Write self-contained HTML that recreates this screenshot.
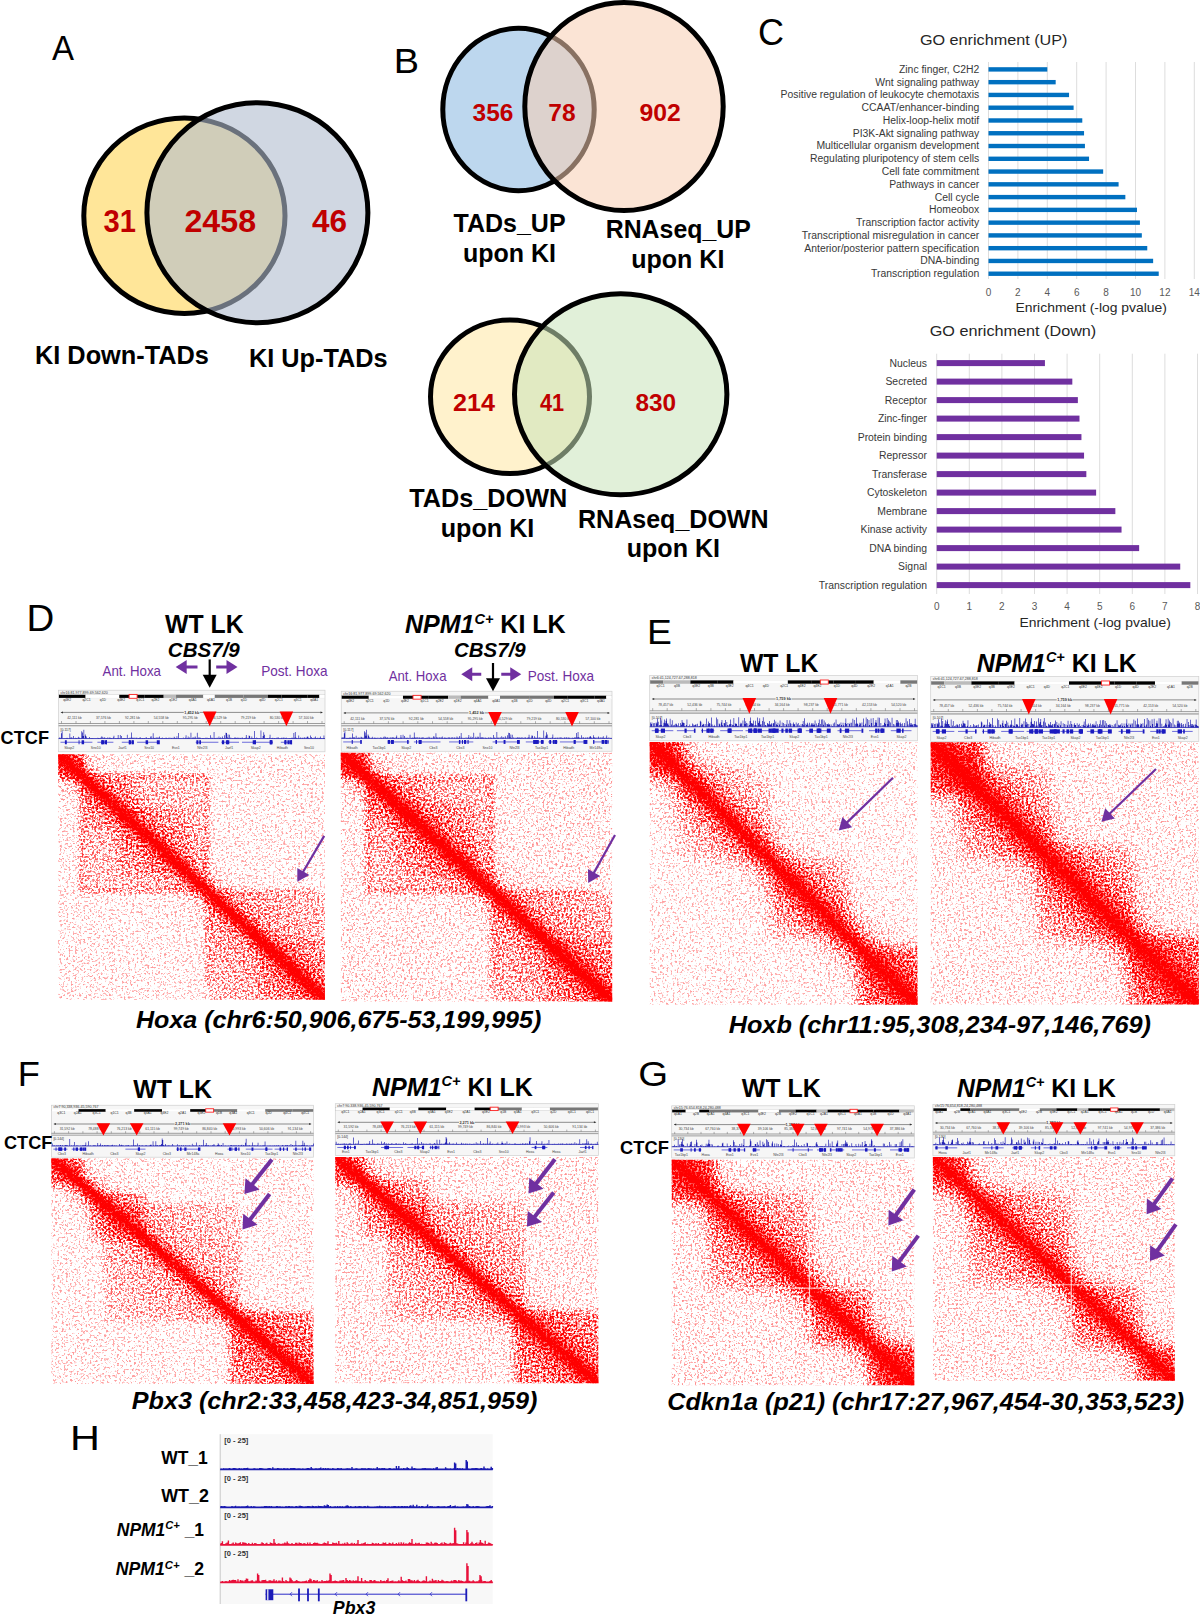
<!DOCTYPE html>
<html><head><meta charset="utf-8"><style>
html,body{margin:0;padding:0;background:#fff;width:1200px;height:1623px;overflow:hidden}
svg{display:block;font-family:'Liberation Sans', sans-serif}
</style></head><body>
<svg width="1200" height="1623" viewBox="0 0 1200 1623">
<defs><clipPath id="cl1"><rect x="0" y="0" width="266.7" height="245.5"/></clipPath><filter id="spk2" x="0" y="0" width="1" height="1" color-interpolation-filters="sRGB">
<feGaussianBlur in="SourceGraphic" stdDeviation="2.5" result="sb"/>
<feComponentTransfer in="sb" result="sg"><feFuncA type="table" tableValues="0.000 0.127 0.175 0.212 0.248 0.277 0.303 0.330 0.353 0.372 0.393 0.413 0.430 0.447 0.466 0.484 0.502 0.520 0.538 0.556 0.573 0.591 0.610 0.630 0.653 0.676 0.701 0.727 0.755 0.790 0.828 0.878 1.000"/></feComponentTransfer>
<feTurbulence type="fractalNoise" baseFrequency="0.47" numOctaves="2" seed="11" result="n"/>
<feColorMatrix in="n" type="matrix" values="0 0 0 0 0  0 0 0 0 0  0 0 0 0 0  1 0 0 0 0" result="na0"/>
<feComponentTransfer in="na0" result="na"><feFuncA type="table" tableValues="0.000 0.000 0.000 0.000 0.000 0.000 0.002 0.006 0.014 0.032 0.059 0.098 0.150 0.216 0.297 0.392 0.495 0.611 0.706 0.785 0.849 0.901 0.939 0.967 0.984 0.994 0.998 0.999 1.000 1.000 1.000 1.000 1.000"/></feComponentTransfer>
<feComposite in="sg" in2="na" operator="arithmetic" k1="0" k2="1.7692307692307692" k3="1" k4="-1" result="s"/>
<feComponentTransfer in="s" result="t"><feFuncA type="linear" slope="1.3" intercept="0"/></feComponentTransfer>
<feFlood flood-color="#f00"/>
<feComposite in2="t" operator="in" result="c"/>
<feGaussianBlur in="c" stdDeviation="0.7"/>
</filter><linearGradient id="bg3" gradientUnits="userSpaceOnUse" x1="1" y1="0" x2="0" y2="1"><stop offset="0.000" stop-color="red" stop-opacity="0.550"/><stop offset="0.075" stop-color="red" stop-opacity="0.550"/><stop offset="0.150" stop-color="red" stop-opacity="0.550"/><stop offset="0.200" stop-color="red" stop-opacity="0.550"/><stop offset="0.250" stop-color="red" stop-opacity="0.550"/><stop offset="0.300" stop-color="red" stop-opacity="0.550"/><stop offset="0.325" stop-color="red" stop-opacity="0.550"/><stop offset="0.350" stop-color="red" stop-opacity="0.550"/><stop offset="0.375" stop-color="red" stop-opacity="0.550"/><stop offset="0.400" stop-color="red" stop-opacity="0.550"/><stop offset="0.420" stop-color="red" stop-opacity="0.550"/><stop offset="0.435" stop-color="red" stop-opacity="0.550"/><stop offset="0.450" stop-color="red" stop-opacity="0.550"/><stop offset="0.460" stop-color="red" stop-opacity="0.580"/><stop offset="0.470" stop-color="red" stop-opacity="0.610"/><stop offset="0.477" stop-color="red" stop-opacity="0.633"/><stop offset="0.485" stop-color="red" stop-opacity="0.655"/><stop offset="0.490" stop-color="red" stop-opacity="0.670"/><stop offset="0.495" stop-color="red" stop-opacity="0.685"/><stop offset="0.497" stop-color="red" stop-opacity="0.693"/><stop offset="0.500" stop-color="red" stop-opacity="0.700"/><stop offset="0.502" stop-color="red" stop-opacity="0.693"/><stop offset="0.505" stop-color="red" stop-opacity="0.685"/><stop offset="0.510" stop-color="red" stop-opacity="0.670"/><stop offset="0.515" stop-color="red" stop-opacity="0.655"/><stop offset="0.522" stop-color="red" stop-opacity="0.633"/><stop offset="0.530" stop-color="red" stop-opacity="0.610"/><stop offset="0.540" stop-color="red" stop-opacity="0.580"/><stop offset="0.550" stop-color="red" stop-opacity="0.550"/><stop offset="0.565" stop-color="red" stop-opacity="0.550"/><stop offset="0.580" stop-color="red" stop-opacity="0.550"/><stop offset="0.600" stop-color="red" stop-opacity="0.550"/><stop offset="0.625" stop-color="red" stop-opacity="0.550"/><stop offset="0.650" stop-color="red" stop-opacity="0.550"/><stop offset="0.675" stop-color="red" stop-opacity="0.550"/><stop offset="0.700" stop-color="red" stop-opacity="0.550"/><stop offset="0.750" stop-color="red" stop-opacity="0.550"/><stop offset="0.800" stop-color="red" stop-opacity="0.550"/><stop offset="0.850" stop-color="red" stop-opacity="0.550"/><stop offset="0.925" stop-color="red" stop-opacity="0.550"/><stop offset="1.000" stop-color="red" stop-opacity="0.550"/></linearGradient><linearGradient id="bg4" gradientUnits="userSpaceOnUse" x1="1" y1="0" x2="0" y2="1"><stop offset="0.000" stop-color="red" stop-opacity="0.100"/><stop offset="0.075" stop-color="red" stop-opacity="0.100"/><stop offset="0.150" stop-color="red" stop-opacity="0.100"/><stop offset="0.200" stop-color="red" stop-opacity="0.100"/><stop offset="0.250" stop-color="red" stop-opacity="0.100"/><stop offset="0.300" stop-color="red" stop-opacity="0.117"/><stop offset="0.325" stop-color="red" stop-opacity="0.130"/><stop offset="0.350" stop-color="red" stop-opacity="0.143"/><stop offset="0.375" stop-color="red" stop-opacity="0.155"/><stop offset="0.400" stop-color="red" stop-opacity="0.168"/><stop offset="0.420" stop-color="red" stop-opacity="0.179"/><stop offset="0.435" stop-color="red" stop-opacity="0.186"/><stop offset="0.450" stop-color="red" stop-opacity="0.194"/><stop offset="0.460" stop-color="red" stop-opacity="0.199"/><stop offset="0.470" stop-color="red" stop-opacity="0.205"/><stop offset="0.477" stop-color="red" stop-opacity="0.208"/><stop offset="0.485" stop-color="red" stop-opacity="0.212"/><stop offset="0.490" stop-color="red" stop-opacity="0.215"/><stop offset="0.495" stop-color="red" stop-opacity="0.217"/><stop offset="0.497" stop-color="red" stop-opacity="0.219"/><stop offset="0.500" stop-color="red" stop-opacity="0.220"/><stop offset="0.502" stop-color="red" stop-opacity="0.219"/><stop offset="0.505" stop-color="red" stop-opacity="0.217"/><stop offset="0.510" stop-color="red" stop-opacity="0.215"/><stop offset="0.515" stop-color="red" stop-opacity="0.212"/><stop offset="0.522" stop-color="red" stop-opacity="0.208"/><stop offset="0.530" stop-color="red" stop-opacity="0.205"/><stop offset="0.540" stop-color="red" stop-opacity="0.199"/><stop offset="0.550" stop-color="red" stop-opacity="0.194"/><stop offset="0.565" stop-color="red" stop-opacity="0.186"/><stop offset="0.580" stop-color="red" stop-opacity="0.179"/><stop offset="0.600" stop-color="red" stop-opacity="0.168"/><stop offset="0.625" stop-color="red" stop-opacity="0.155"/><stop offset="0.650" stop-color="red" stop-opacity="0.143"/><stop offset="0.675" stop-color="red" stop-opacity="0.130"/><stop offset="0.700" stop-color="red" stop-opacity="0.117"/><stop offset="0.750" stop-color="red" stop-opacity="0.100"/><stop offset="0.800" stop-color="red" stop-opacity="0.100"/><stop offset="0.850" stop-color="red" stop-opacity="0.100"/><stop offset="0.925" stop-color="red" stop-opacity="0.100"/><stop offset="1.000" stop-color="red" stop-opacity="0.100"/></linearGradient><linearGradient id="bg5" gradientUnits="userSpaceOnUse" x1="1" y1="0" x2="0" y2="1"><stop offset="0.000" stop-color="red" stop-opacity="0.120"/><stop offset="0.075" stop-color="red" stop-opacity="0.120"/><stop offset="0.150" stop-color="red" stop-opacity="0.120"/><stop offset="0.200" stop-color="red" stop-opacity="0.120"/><stop offset="0.250" stop-color="red" stop-opacity="0.120"/><stop offset="0.300" stop-color="red" stop-opacity="0.136"/><stop offset="0.325" stop-color="red" stop-opacity="0.157"/><stop offset="0.350" stop-color="red" stop-opacity="0.177"/><stop offset="0.375" stop-color="red" stop-opacity="0.198"/><stop offset="0.400" stop-color="red" stop-opacity="0.218"/><stop offset="0.420" stop-color="red" stop-opacity="0.235"/><stop offset="0.435" stop-color="red" stop-opacity="0.247"/><stop offset="0.450" stop-color="red" stop-opacity="0.259"/><stop offset="0.460" stop-color="red" stop-opacity="0.267"/><stop offset="0.470" stop-color="red" stop-opacity="0.275"/><stop offset="0.477" stop-color="red" stop-opacity="0.282"/><stop offset="0.485" stop-color="red" stop-opacity="0.288"/><stop offset="0.490" stop-color="red" stop-opacity="0.292"/><stop offset="0.495" stop-color="red" stop-opacity="0.296"/><stop offset="0.497" stop-color="red" stop-opacity="0.298"/><stop offset="0.500" stop-color="red" stop-opacity="0.300"/><stop offset="0.502" stop-color="red" stop-opacity="0.298"/><stop offset="0.505" stop-color="red" stop-opacity="0.296"/><stop offset="0.510" stop-color="red" stop-opacity="0.292"/><stop offset="0.515" stop-color="red" stop-opacity="0.288"/><stop offset="0.522" stop-color="red" stop-opacity="0.282"/><stop offset="0.530" stop-color="red" stop-opacity="0.275"/><stop offset="0.540" stop-color="red" stop-opacity="0.267"/><stop offset="0.550" stop-color="red" stop-opacity="0.259"/><stop offset="0.565" stop-color="red" stop-opacity="0.247"/><stop offset="0.580" stop-color="red" stop-opacity="0.235"/><stop offset="0.600" stop-color="red" stop-opacity="0.218"/><stop offset="0.625" stop-color="red" stop-opacity="0.198"/><stop offset="0.650" stop-color="red" stop-opacity="0.177"/><stop offset="0.675" stop-color="red" stop-opacity="0.157"/><stop offset="0.700" stop-color="red" stop-opacity="0.136"/><stop offset="0.750" stop-color="red" stop-opacity="0.120"/><stop offset="0.800" stop-color="red" stop-opacity="0.120"/><stop offset="0.850" stop-color="red" stop-opacity="0.120"/><stop offset="0.925" stop-color="red" stop-opacity="0.120"/><stop offset="1.000" stop-color="red" stop-opacity="0.120"/></linearGradient><linearGradient id="bg6" gradientUnits="userSpaceOnUse" x1="1" y1="0" x2="0" y2="1"><stop offset="0.000" stop-color="red" stop-opacity="0.040"/><stop offset="0.075" stop-color="red" stop-opacity="0.040"/><stop offset="0.150" stop-color="red" stop-opacity="0.040"/><stop offset="0.200" stop-color="red" stop-opacity="0.040"/><stop offset="0.250" stop-color="red" stop-opacity="0.040"/><stop offset="0.300" stop-color="red" stop-opacity="0.040"/><stop offset="0.325" stop-color="red" stop-opacity="0.040"/><stop offset="0.350" stop-color="red" stop-opacity="0.040"/><stop offset="0.375" stop-color="red" stop-opacity="0.068"/><stop offset="0.400" stop-color="red" stop-opacity="0.114"/><stop offset="0.420" stop-color="red" stop-opacity="0.151"/><stop offset="0.435" stop-color="red" stop-opacity="0.179"/><stop offset="0.450" stop-color="red" stop-opacity="0.207"/><stop offset="0.460" stop-color="red" stop-opacity="0.226"/><stop offset="0.470" stop-color="red" stop-opacity="0.244"/><stop offset="0.477" stop-color="red" stop-opacity="0.258"/><stop offset="0.485" stop-color="red" stop-opacity="0.272"/><stop offset="0.490" stop-color="red" stop-opacity="0.281"/><stop offset="0.495" stop-color="red" stop-opacity="0.291"/><stop offset="0.497" stop-color="red" stop-opacity="0.295"/><stop offset="0.500" stop-color="red" stop-opacity="0.300"/><stop offset="0.502" stop-color="red" stop-opacity="0.295"/><stop offset="0.505" stop-color="red" stop-opacity="0.291"/><stop offset="0.510" stop-color="red" stop-opacity="0.281"/><stop offset="0.515" stop-color="red" stop-opacity="0.272"/><stop offset="0.522" stop-color="red" stop-opacity="0.258"/><stop offset="0.530" stop-color="red" stop-opacity="0.244"/><stop offset="0.540" stop-color="red" stop-opacity="0.226"/><stop offset="0.550" stop-color="red" stop-opacity="0.207"/><stop offset="0.565" stop-color="red" stop-opacity="0.179"/><stop offset="0.580" stop-color="red" stop-opacity="0.151"/><stop offset="0.600" stop-color="red" stop-opacity="0.114"/><stop offset="0.625" stop-color="red" stop-opacity="0.068"/><stop offset="0.650" stop-color="red" stop-opacity="0.040"/><stop offset="0.675" stop-color="red" stop-opacity="0.040"/><stop offset="0.700" stop-color="red" stop-opacity="0.040"/><stop offset="0.750" stop-color="red" stop-opacity="0.040"/><stop offset="0.800" stop-color="red" stop-opacity="0.040"/><stop offset="0.850" stop-color="red" stop-opacity="0.040"/><stop offset="0.925" stop-color="red" stop-opacity="0.040"/><stop offset="1.000" stop-color="red" stop-opacity="0.040"/></linearGradient><linearGradient id="bg7" gradientUnits="userSpaceOnUse" x1="1" y1="0" x2="0" y2="1"><stop offset="0.000" stop-color="red" stop-opacity="0.080"/><stop offset="0.075" stop-color="red" stop-opacity="0.080"/><stop offset="0.150" stop-color="red" stop-opacity="0.080"/><stop offset="0.200" stop-color="red" stop-opacity="0.080"/><stop offset="0.250" stop-color="red" stop-opacity="0.080"/><stop offset="0.300" stop-color="red" stop-opacity="0.080"/><stop offset="0.325" stop-color="red" stop-opacity="0.080"/><stop offset="0.350" stop-color="red" stop-opacity="0.080"/><stop offset="0.375" stop-color="red" stop-opacity="0.080"/><stop offset="0.400" stop-color="red" stop-opacity="0.124"/><stop offset="0.420" stop-color="red" stop-opacity="0.159"/><stop offset="0.435" stop-color="red" stop-opacity="0.186"/><stop offset="0.450" stop-color="red" stop-opacity="0.212"/><stop offset="0.460" stop-color="red" stop-opacity="0.230"/><stop offset="0.470" stop-color="red" stop-opacity="0.247"/><stop offset="0.477" stop-color="red" stop-opacity="0.260"/><stop offset="0.485" stop-color="red" stop-opacity="0.274"/><stop offset="0.490" stop-color="red" stop-opacity="0.282"/><stop offset="0.495" stop-color="red" stop-opacity="0.291"/><stop offset="0.497" stop-color="red" stop-opacity="0.296"/><stop offset="0.500" stop-color="red" stop-opacity="0.300"/><stop offset="0.502" stop-color="red" stop-opacity="0.296"/><stop offset="0.505" stop-color="red" stop-opacity="0.291"/><stop offset="0.510" stop-color="red" stop-opacity="0.282"/><stop offset="0.515" stop-color="red" stop-opacity="0.274"/><stop offset="0.522" stop-color="red" stop-opacity="0.260"/><stop offset="0.530" stop-color="red" stop-opacity="0.247"/><stop offset="0.540" stop-color="red" stop-opacity="0.230"/><stop offset="0.550" stop-color="red" stop-opacity="0.212"/><stop offset="0.565" stop-color="red" stop-opacity="0.186"/><stop offset="0.580" stop-color="red" stop-opacity="0.159"/><stop offset="0.600" stop-color="red" stop-opacity="0.124"/><stop offset="0.625" stop-color="red" stop-opacity="0.080"/><stop offset="0.650" stop-color="red" stop-opacity="0.080"/><stop offset="0.675" stop-color="red" stop-opacity="0.080"/><stop offset="0.700" stop-color="red" stop-opacity="0.080"/><stop offset="0.750" stop-color="red" stop-opacity="0.080"/><stop offset="0.800" stop-color="red" stop-opacity="0.080"/><stop offset="0.850" stop-color="red" stop-opacity="0.080"/><stop offset="0.925" stop-color="red" stop-opacity="0.080"/><stop offset="1.000" stop-color="red" stop-opacity="0.080"/></linearGradient><linearGradient id="bg8" gradientUnits="userSpaceOnUse" x1="1" y1="0" x2="0" y2="1"><stop offset="0.000" stop-color="red" stop-opacity="0.080"/><stop offset="0.075" stop-color="red" stop-opacity="0.080"/><stop offset="0.150" stop-color="red" stop-opacity="0.080"/><stop offset="0.200" stop-color="red" stop-opacity="0.080"/><stop offset="0.250" stop-color="red" stop-opacity="0.080"/><stop offset="0.300" stop-color="red" stop-opacity="0.080"/><stop offset="0.325" stop-color="red" stop-opacity="0.080"/><stop offset="0.350" stop-color="red" stop-opacity="0.080"/><stop offset="0.375" stop-color="red" stop-opacity="0.080"/><stop offset="0.400" stop-color="red" stop-opacity="0.080"/><stop offset="0.420" stop-color="red" stop-opacity="0.114"/><stop offset="0.435" stop-color="red" stop-opacity="0.140"/><stop offset="0.450" stop-color="red" stop-opacity="0.165"/><stop offset="0.460" stop-color="red" stop-opacity="0.182"/><stop offset="0.470" stop-color="red" stop-opacity="0.199"/><stop offset="0.477" stop-color="red" stop-opacity="0.212"/><stop offset="0.485" stop-color="red" stop-opacity="0.225"/><stop offset="0.490" stop-color="red" stop-opacity="0.233"/><stop offset="0.495" stop-color="red" stop-opacity="0.241"/><stop offset="0.497" stop-color="red" stop-opacity="0.246"/><stop offset="0.500" stop-color="red" stop-opacity="0.250"/><stop offset="0.502" stop-color="red" stop-opacity="0.246"/><stop offset="0.505" stop-color="red" stop-opacity="0.241"/><stop offset="0.510" stop-color="red" stop-opacity="0.233"/><stop offset="0.515" stop-color="red" stop-opacity="0.225"/><stop offset="0.522" stop-color="red" stop-opacity="0.212"/><stop offset="0.530" stop-color="red" stop-opacity="0.199"/><stop offset="0.540" stop-color="red" stop-opacity="0.182"/><stop offset="0.550" stop-color="red" stop-opacity="0.165"/><stop offset="0.565" stop-color="red" stop-opacity="0.140"/><stop offset="0.580" stop-color="red" stop-opacity="0.114"/><stop offset="0.600" stop-color="red" stop-opacity="0.080"/><stop offset="0.625" stop-color="red" stop-opacity="0.080"/><stop offset="0.650" stop-color="red" stop-opacity="0.080"/><stop offset="0.675" stop-color="red" stop-opacity="0.080"/><stop offset="0.700" stop-color="red" stop-opacity="0.080"/><stop offset="0.750" stop-color="red" stop-opacity="0.080"/><stop offset="0.800" stop-color="red" stop-opacity="0.080"/><stop offset="0.850" stop-color="red" stop-opacity="0.080"/><stop offset="0.925" stop-color="red" stop-opacity="0.080"/><stop offset="1.000" stop-color="red" stop-opacity="0.080"/></linearGradient><linearGradient id="bg9" gradientUnits="userSpaceOnUse" x1="1" y1="0" x2="0" y2="1"><stop offset="0.000" stop-color="red" stop-opacity="0.000"/><stop offset="0.075" stop-color="red" stop-opacity="0.000"/><stop offset="0.150" stop-color="red" stop-opacity="0.000"/><stop offset="0.200" stop-color="red" stop-opacity="0.000"/><stop offset="0.250" stop-color="red" stop-opacity="0.000"/><stop offset="0.300" stop-color="red" stop-opacity="0.000"/><stop offset="0.325" stop-color="red" stop-opacity="0.000"/><stop offset="0.350" stop-color="red" stop-opacity="0.001"/><stop offset="0.375" stop-color="red" stop-opacity="0.003"/><stop offset="0.400" stop-color="red" stop-opacity="0.008"/><stop offset="0.420" stop-color="red" stop-opacity="0.018"/><stop offset="0.435" stop-color="red" stop-opacity="0.033"/><stop offset="0.450" stop-color="red" stop-opacity="0.063"/><stop offset="0.460" stop-color="red" stop-opacity="0.108"/><stop offset="0.470" stop-color="red" stop-opacity="0.227"/><stop offset="0.477" stop-color="red" stop-opacity="0.413"/><stop offset="0.485" stop-color="red" stop-opacity="0.676"/><stop offset="0.490" stop-color="red" stop-opacity="0.846"/><stop offset="0.495" stop-color="red" stop-opacity="0.962"/><stop offset="0.497" stop-color="red" stop-opacity="0.991"/><stop offset="0.500" stop-color="red" stop-opacity="1.000"/><stop offset="0.502" stop-color="red" stop-opacity="0.991"/><stop offset="0.505" stop-color="red" stop-opacity="0.962"/><stop offset="0.510" stop-color="red" stop-opacity="0.846"/><stop offset="0.515" stop-color="red" stop-opacity="0.676"/><stop offset="0.522" stop-color="red" stop-opacity="0.413"/><stop offset="0.530" stop-color="red" stop-opacity="0.227"/><stop offset="0.540" stop-color="red" stop-opacity="0.108"/><stop offset="0.550" stop-color="red" stop-opacity="0.063"/><stop offset="0.565" stop-color="red" stop-opacity="0.033"/><stop offset="0.580" stop-color="red" stop-opacity="0.018"/><stop offset="0.600" stop-color="red" stop-opacity="0.008"/><stop offset="0.625" stop-color="red" stop-opacity="0.003"/><stop offset="0.650" stop-color="red" stop-opacity="0.001"/><stop offset="0.675" stop-color="red" stop-opacity="0.000"/><stop offset="0.700" stop-color="red" stop-opacity="0.000"/><stop offset="0.750" stop-color="red" stop-opacity="0.000"/><stop offset="0.800" stop-color="red" stop-opacity="0.000"/><stop offset="0.850" stop-color="red" stop-opacity="0.000"/><stop offset="0.925" stop-color="red" stop-opacity="0.000"/><stop offset="1.000" stop-color="red" stop-opacity="0.000"/></linearGradient><linearGradient id="bg10" gradientUnits="userSpaceOnUse" x1="1" y1="0" x2="0" y2="1"><stop offset="0.000" stop-color="red" stop-opacity="0.000"/><stop offset="0.075" stop-color="red" stop-opacity="0.000"/><stop offset="0.150" stop-color="red" stop-opacity="0.000"/><stop offset="0.200" stop-color="red" stop-opacity="0.000"/><stop offset="0.250" stop-color="red" stop-opacity="0.000"/><stop offset="0.300" stop-color="red" stop-opacity="0.000"/><stop offset="0.325" stop-color="red" stop-opacity="0.000"/><stop offset="0.350" stop-color="red" stop-opacity="0.000"/><stop offset="0.375" stop-color="red" stop-opacity="0.000"/><stop offset="0.400" stop-color="red" stop-opacity="0.000"/><stop offset="0.420" stop-color="red" stop-opacity="0.000"/><stop offset="0.435" stop-color="red" stop-opacity="0.000"/><stop offset="0.450" stop-color="red" stop-opacity="0.000"/><stop offset="0.460" stop-color="red" stop-opacity="0.000"/><stop offset="0.470" stop-color="red" stop-opacity="0.001"/><stop offset="0.477" stop-color="red" stop-opacity="0.014"/><stop offset="0.485" stop-color="red" stop-opacity="0.140"/><stop offset="0.490" stop-color="red" stop-opacity="0.394"/><stop offset="0.495" stop-color="red" stop-opacity="0.732"/><stop offset="0.497" stop-color="red" stop-opacity="0.855"/><stop offset="0.500" stop-color="red" stop-opacity="0.900"/><stop offset="0.502" stop-color="red" stop-opacity="0.855"/><stop offset="0.505" stop-color="red" stop-opacity="0.732"/><stop offset="0.510" stop-color="red" stop-opacity="0.394"/><stop offset="0.515" stop-color="red" stop-opacity="0.140"/><stop offset="0.522" stop-color="red" stop-opacity="0.014"/><stop offset="0.530" stop-color="red" stop-opacity="0.001"/><stop offset="0.540" stop-color="red" stop-opacity="0.000"/><stop offset="0.550" stop-color="red" stop-opacity="0.000"/><stop offset="0.565" stop-color="red" stop-opacity="0.000"/><stop offset="0.580" stop-color="red" stop-opacity="0.000"/><stop offset="0.600" stop-color="red" stop-opacity="0.000"/><stop offset="0.625" stop-color="red" stop-opacity="0.000"/><stop offset="0.650" stop-color="red" stop-opacity="0.000"/><stop offset="0.675" stop-color="red" stop-opacity="0.000"/><stop offset="0.700" stop-color="red" stop-opacity="0.000"/><stop offset="0.750" stop-color="red" stop-opacity="0.000"/><stop offset="0.800" stop-color="red" stop-opacity="0.000"/><stop offset="0.850" stop-color="red" stop-opacity="0.000"/><stop offset="0.925" stop-color="red" stop-opacity="0.000"/><stop offset="1.000" stop-color="red" stop-opacity="0.000"/></linearGradient><filter id="spk11" x="0" y="0" width="1" height="1" color-interpolation-filters="sRGB">
<feGaussianBlur in="SourceGraphic" stdDeviation="0.8" result="sb"/>
<feComponentTransfer in="sb" result="sg"><feFuncA type="table" tableValues="0.000 0.127 0.175 0.212 0.248 0.277 0.303 0.330 0.353 0.372 0.393 0.413 0.430 0.447 0.466 0.484 0.502 0.520 0.538 0.556 0.573 0.591 0.610 0.630 0.653 0.676 0.701 0.727 0.755 0.790 0.828 0.878 1.000"/></feComponentTransfer>
<feTurbulence type="fractalNoise" baseFrequency="0.47" numOctaves="2" seed="61" result="n"/>
<feColorMatrix in="n" type="matrix" values="0 0 0 0 0  0 0 0 0 0  0 0 0 0 0  1 0 0 0 0" result="na0"/>
<feComponentTransfer in="na0" result="na"><feFuncA type="table" tableValues="0.000 0.000 0.000 0.000 0.000 0.000 0.002 0.006 0.014 0.032 0.059 0.098 0.150 0.216 0.297 0.392 0.495 0.611 0.706 0.785 0.849 0.901 0.939 0.967 0.984 0.994 0.998 0.999 1.000 1.000 1.000 1.000 1.000"/></feComponentTransfer>
<feComposite in="sg" in2="na" operator="arithmetic" k1="0" k2="1.7692307692307692" k3="1" k4="-1" result="s"/>
<feComponentTransfer in="s" result="t"><feFuncA type="linear" slope="1.3" intercept="0"/></feComponentTransfer>
<feFlood flood-color="#f00"/>
<feComposite in2="t" operator="in" result="c"/>
<feGaussianBlur in="c" stdDeviation="0.7"/>
</filter><clipPath id="cl12"><rect x="0" y="0" width="271.40000000000003" height="248.70000000000005"/></clipPath><filter id="spk13" x="0" y="0" width="1" height="1" color-interpolation-filters="sRGB">
<feGaussianBlur in="SourceGraphic" stdDeviation="2.5" result="sb"/>
<feComponentTransfer in="sb" result="sg"><feFuncA type="table" tableValues="0.000 0.127 0.175 0.212 0.248 0.277 0.303 0.330 0.353 0.372 0.393 0.413 0.430 0.447 0.466 0.484 0.502 0.520 0.538 0.556 0.573 0.591 0.610 0.630 0.653 0.676 0.701 0.727 0.755 0.790 0.828 0.878 1.000"/></feComponentTransfer>
<feTurbulence type="fractalNoise" baseFrequency="0.47" numOctaves="2" seed="12" result="n"/>
<feColorMatrix in="n" type="matrix" values="0 0 0 0 0  0 0 0 0 0  0 0 0 0 0  1 0 0 0 0" result="na0"/>
<feComponentTransfer in="na0" result="na"><feFuncA type="table" tableValues="0.000 0.000 0.000 0.000 0.000 0.000 0.002 0.006 0.014 0.032 0.059 0.098 0.150 0.216 0.297 0.392 0.495 0.611 0.706 0.785 0.849 0.901 0.939 0.967 0.984 0.994 0.998 0.999 1.000 1.000 1.000 1.000 1.000"/></feComponentTransfer>
<feComposite in="sg" in2="na" operator="arithmetic" k1="0" k2="1.7692307692307692" k3="1" k4="-1" result="s"/>
<feComponentTransfer in="s" result="t"><feFuncA type="linear" slope="1.3" intercept="0"/></feComponentTransfer>
<feFlood flood-color="#f00"/>
<feComposite in2="t" operator="in" result="c"/>
<feGaussianBlur in="c" stdDeviation="0.7"/>
</filter><linearGradient id="bg14" gradientUnits="userSpaceOnUse" x1="1" y1="0" x2="0" y2="1"><stop offset="0.000" stop-color="red" stop-opacity="0.550"/><stop offset="0.075" stop-color="red" stop-opacity="0.550"/><stop offset="0.150" stop-color="red" stop-opacity="0.550"/><stop offset="0.200" stop-color="red" stop-opacity="0.550"/><stop offset="0.250" stop-color="red" stop-opacity="0.550"/><stop offset="0.300" stop-color="red" stop-opacity="0.550"/><stop offset="0.325" stop-color="red" stop-opacity="0.550"/><stop offset="0.350" stop-color="red" stop-opacity="0.550"/><stop offset="0.375" stop-color="red" stop-opacity="0.550"/><stop offset="0.400" stop-color="red" stop-opacity="0.550"/><stop offset="0.420" stop-color="red" stop-opacity="0.550"/><stop offset="0.435" stop-color="red" stop-opacity="0.550"/><stop offset="0.450" stop-color="red" stop-opacity="0.550"/><stop offset="0.460" stop-color="red" stop-opacity="0.580"/><stop offset="0.470" stop-color="red" stop-opacity="0.610"/><stop offset="0.477" stop-color="red" stop-opacity="0.633"/><stop offset="0.485" stop-color="red" stop-opacity="0.655"/><stop offset="0.490" stop-color="red" stop-opacity="0.670"/><stop offset="0.495" stop-color="red" stop-opacity="0.685"/><stop offset="0.497" stop-color="red" stop-opacity="0.693"/><stop offset="0.500" stop-color="red" stop-opacity="0.700"/><stop offset="0.502" stop-color="red" stop-opacity="0.693"/><stop offset="0.505" stop-color="red" stop-opacity="0.685"/><stop offset="0.510" stop-color="red" stop-opacity="0.670"/><stop offset="0.515" stop-color="red" stop-opacity="0.655"/><stop offset="0.522" stop-color="red" stop-opacity="0.633"/><stop offset="0.530" stop-color="red" stop-opacity="0.610"/><stop offset="0.540" stop-color="red" stop-opacity="0.580"/><stop offset="0.550" stop-color="red" stop-opacity="0.550"/><stop offset="0.565" stop-color="red" stop-opacity="0.550"/><stop offset="0.580" stop-color="red" stop-opacity="0.550"/><stop offset="0.600" stop-color="red" stop-opacity="0.550"/><stop offset="0.625" stop-color="red" stop-opacity="0.550"/><stop offset="0.650" stop-color="red" stop-opacity="0.550"/><stop offset="0.675" stop-color="red" stop-opacity="0.550"/><stop offset="0.700" stop-color="red" stop-opacity="0.550"/><stop offset="0.750" stop-color="red" stop-opacity="0.550"/><stop offset="0.800" stop-color="red" stop-opacity="0.550"/><stop offset="0.850" stop-color="red" stop-opacity="0.550"/><stop offset="0.925" stop-color="red" stop-opacity="0.550"/><stop offset="1.000" stop-color="red" stop-opacity="0.550"/></linearGradient><linearGradient id="bg15" gradientUnits="userSpaceOnUse" x1="1" y1="0" x2="0" y2="1"><stop offset="0.000" stop-color="red" stop-opacity="0.110"/><stop offset="0.075" stop-color="red" stop-opacity="0.110"/><stop offset="0.150" stop-color="red" stop-opacity="0.110"/><stop offset="0.200" stop-color="red" stop-opacity="0.110"/><stop offset="0.250" stop-color="red" stop-opacity="0.110"/><stop offset="0.300" stop-color="red" stop-opacity="0.128"/><stop offset="0.325" stop-color="red" stop-opacity="0.143"/><stop offset="0.350" stop-color="red" stop-opacity="0.159"/><stop offset="0.375" stop-color="red" stop-opacity="0.174"/><stop offset="0.400" stop-color="red" stop-opacity="0.189"/><stop offset="0.420" stop-color="red" stop-opacity="0.201"/><stop offset="0.435" stop-color="red" stop-opacity="0.210"/><stop offset="0.450" stop-color="red" stop-opacity="0.220"/><stop offset="0.460" stop-color="red" stop-opacity="0.226"/><stop offset="0.470" stop-color="red" stop-opacity="0.232"/><stop offset="0.477" stop-color="red" stop-opacity="0.236"/><stop offset="0.485" stop-color="red" stop-opacity="0.241"/><stop offset="0.490" stop-color="red" stop-opacity="0.244"/><stop offset="0.495" stop-color="red" stop-opacity="0.247"/><stop offset="0.497" stop-color="red" stop-opacity="0.248"/><stop offset="0.500" stop-color="red" stop-opacity="0.250"/><stop offset="0.502" stop-color="red" stop-opacity="0.248"/><stop offset="0.505" stop-color="red" stop-opacity="0.247"/><stop offset="0.510" stop-color="red" stop-opacity="0.244"/><stop offset="0.515" stop-color="red" stop-opacity="0.241"/><stop offset="0.522" stop-color="red" stop-opacity="0.236"/><stop offset="0.530" stop-color="red" stop-opacity="0.232"/><stop offset="0.540" stop-color="red" stop-opacity="0.226"/><stop offset="0.550" stop-color="red" stop-opacity="0.220"/><stop offset="0.565" stop-color="red" stop-opacity="0.210"/><stop offset="0.580" stop-color="red" stop-opacity="0.201"/><stop offset="0.600" stop-color="red" stop-opacity="0.189"/><stop offset="0.625" stop-color="red" stop-opacity="0.174"/><stop offset="0.650" stop-color="red" stop-opacity="0.159"/><stop offset="0.675" stop-color="red" stop-opacity="0.143"/><stop offset="0.700" stop-color="red" stop-opacity="0.128"/><stop offset="0.750" stop-color="red" stop-opacity="0.110"/><stop offset="0.800" stop-color="red" stop-opacity="0.110"/><stop offset="0.850" stop-color="red" stop-opacity="0.110"/><stop offset="0.925" stop-color="red" stop-opacity="0.110"/><stop offset="1.000" stop-color="red" stop-opacity="0.110"/></linearGradient><linearGradient id="bg16" gradientUnits="userSpaceOnUse" x1="1" y1="0" x2="0" y2="1"><stop offset="0.000" stop-color="red" stop-opacity="0.130"/><stop offset="0.075" stop-color="red" stop-opacity="0.130"/><stop offset="0.150" stop-color="red" stop-opacity="0.130"/><stop offset="0.200" stop-color="red" stop-opacity="0.130"/><stop offset="0.250" stop-color="red" stop-opacity="0.130"/><stop offset="0.300" stop-color="red" stop-opacity="0.147"/><stop offset="0.325" stop-color="red" stop-opacity="0.169"/><stop offset="0.350" stop-color="red" stop-opacity="0.190"/><stop offset="0.375" stop-color="red" stop-opacity="0.212"/><stop offset="0.400" stop-color="red" stop-opacity="0.234"/><stop offset="0.420" stop-color="red" stop-opacity="0.251"/><stop offset="0.435" stop-color="red" stop-opacity="0.264"/><stop offset="0.450" stop-color="red" stop-opacity="0.277"/><stop offset="0.460" stop-color="red" stop-opacity="0.285"/><stop offset="0.470" stop-color="red" stop-opacity="0.294"/><stop offset="0.477" stop-color="red" stop-opacity="0.301"/><stop offset="0.485" stop-color="red" stop-opacity="0.307"/><stop offset="0.490" stop-color="red" stop-opacity="0.311"/><stop offset="0.495" stop-color="red" stop-opacity="0.316"/><stop offset="0.497" stop-color="red" stop-opacity="0.318"/><stop offset="0.500" stop-color="red" stop-opacity="0.320"/><stop offset="0.502" stop-color="red" stop-opacity="0.318"/><stop offset="0.505" stop-color="red" stop-opacity="0.316"/><stop offset="0.510" stop-color="red" stop-opacity="0.311"/><stop offset="0.515" stop-color="red" stop-opacity="0.307"/><stop offset="0.522" stop-color="red" stop-opacity="0.301"/><stop offset="0.530" stop-color="red" stop-opacity="0.294"/><stop offset="0.540" stop-color="red" stop-opacity="0.285"/><stop offset="0.550" stop-color="red" stop-opacity="0.277"/><stop offset="0.565" stop-color="red" stop-opacity="0.264"/><stop offset="0.580" stop-color="red" stop-opacity="0.251"/><stop offset="0.600" stop-color="red" stop-opacity="0.234"/><stop offset="0.625" stop-color="red" stop-opacity="0.212"/><stop offset="0.650" stop-color="red" stop-opacity="0.190"/><stop offset="0.675" stop-color="red" stop-opacity="0.169"/><stop offset="0.700" stop-color="red" stop-opacity="0.147"/><stop offset="0.750" stop-color="red" stop-opacity="0.130"/><stop offset="0.800" stop-color="red" stop-opacity="0.130"/><stop offset="0.850" stop-color="red" stop-opacity="0.130"/><stop offset="0.925" stop-color="red" stop-opacity="0.130"/><stop offset="1.000" stop-color="red" stop-opacity="0.130"/></linearGradient><linearGradient id="bg17" gradientUnits="userSpaceOnUse" x1="1" y1="0" x2="0" y2="1"><stop offset="0.000" stop-color="red" stop-opacity="0.040"/><stop offset="0.075" stop-color="red" stop-opacity="0.040"/><stop offset="0.150" stop-color="red" stop-opacity="0.040"/><stop offset="0.200" stop-color="red" stop-opacity="0.040"/><stop offset="0.250" stop-color="red" stop-opacity="0.040"/><stop offset="0.300" stop-color="red" stop-opacity="0.040"/><stop offset="0.325" stop-color="red" stop-opacity="0.040"/><stop offset="0.350" stop-color="red" stop-opacity="0.040"/><stop offset="0.375" stop-color="red" stop-opacity="0.087"/><stop offset="0.400" stop-color="red" stop-opacity="0.133"/><stop offset="0.420" stop-color="red" stop-opacity="0.171"/><stop offset="0.435" stop-color="red" stop-opacity="0.199"/><stop offset="0.450" stop-color="red" stop-opacity="0.227"/><stop offset="0.460" stop-color="red" stop-opacity="0.245"/><stop offset="0.470" stop-color="red" stop-opacity="0.264"/><stop offset="0.477" stop-color="red" stop-opacity="0.278"/><stop offset="0.485" stop-color="red" stop-opacity="0.292"/><stop offset="0.490" stop-color="red" stop-opacity="0.301"/><stop offset="0.495" stop-color="red" stop-opacity="0.311"/><stop offset="0.497" stop-color="red" stop-opacity="0.315"/><stop offset="0.500" stop-color="red" stop-opacity="0.320"/><stop offset="0.502" stop-color="red" stop-opacity="0.315"/><stop offset="0.505" stop-color="red" stop-opacity="0.311"/><stop offset="0.510" stop-color="red" stop-opacity="0.301"/><stop offset="0.515" stop-color="red" stop-opacity="0.292"/><stop offset="0.522" stop-color="red" stop-opacity="0.278"/><stop offset="0.530" stop-color="red" stop-opacity="0.264"/><stop offset="0.540" stop-color="red" stop-opacity="0.245"/><stop offset="0.550" stop-color="red" stop-opacity="0.227"/><stop offset="0.565" stop-color="red" stop-opacity="0.199"/><stop offset="0.580" stop-color="red" stop-opacity="0.171"/><stop offset="0.600" stop-color="red" stop-opacity="0.133"/><stop offset="0.625" stop-color="red" stop-opacity="0.087"/><stop offset="0.650" stop-color="red" stop-opacity="0.040"/><stop offset="0.675" stop-color="red" stop-opacity="0.040"/><stop offset="0.700" stop-color="red" stop-opacity="0.040"/><stop offset="0.750" stop-color="red" stop-opacity="0.040"/><stop offset="0.800" stop-color="red" stop-opacity="0.040"/><stop offset="0.850" stop-color="red" stop-opacity="0.040"/><stop offset="0.925" stop-color="red" stop-opacity="0.040"/><stop offset="1.000" stop-color="red" stop-opacity="0.040"/></linearGradient><linearGradient id="bg18" gradientUnits="userSpaceOnUse" x1="1" y1="0" x2="0" y2="1"><stop offset="0.000" stop-color="red" stop-opacity="0.080"/><stop offset="0.075" stop-color="red" stop-opacity="0.080"/><stop offset="0.150" stop-color="red" stop-opacity="0.080"/><stop offset="0.200" stop-color="red" stop-opacity="0.080"/><stop offset="0.250" stop-color="red" stop-opacity="0.080"/><stop offset="0.300" stop-color="red" stop-opacity="0.080"/><stop offset="0.325" stop-color="red" stop-opacity="0.080"/><stop offset="0.350" stop-color="red" stop-opacity="0.080"/><stop offset="0.375" stop-color="red" stop-opacity="0.080"/><stop offset="0.400" stop-color="red" stop-opacity="0.124"/><stop offset="0.420" stop-color="red" stop-opacity="0.159"/><stop offset="0.435" stop-color="red" stop-opacity="0.186"/><stop offset="0.450" stop-color="red" stop-opacity="0.212"/><stop offset="0.460" stop-color="red" stop-opacity="0.230"/><stop offset="0.470" stop-color="red" stop-opacity="0.247"/><stop offset="0.477" stop-color="red" stop-opacity="0.260"/><stop offset="0.485" stop-color="red" stop-opacity="0.274"/><stop offset="0.490" stop-color="red" stop-opacity="0.282"/><stop offset="0.495" stop-color="red" stop-opacity="0.291"/><stop offset="0.497" stop-color="red" stop-opacity="0.296"/><stop offset="0.500" stop-color="red" stop-opacity="0.300"/><stop offset="0.502" stop-color="red" stop-opacity="0.296"/><stop offset="0.505" stop-color="red" stop-opacity="0.291"/><stop offset="0.510" stop-color="red" stop-opacity="0.282"/><stop offset="0.515" stop-color="red" stop-opacity="0.274"/><stop offset="0.522" stop-color="red" stop-opacity="0.260"/><stop offset="0.530" stop-color="red" stop-opacity="0.247"/><stop offset="0.540" stop-color="red" stop-opacity="0.230"/><stop offset="0.550" stop-color="red" stop-opacity="0.212"/><stop offset="0.565" stop-color="red" stop-opacity="0.186"/><stop offset="0.580" stop-color="red" stop-opacity="0.159"/><stop offset="0.600" stop-color="red" stop-opacity="0.124"/><stop offset="0.625" stop-color="red" stop-opacity="0.080"/><stop offset="0.650" stop-color="red" stop-opacity="0.080"/><stop offset="0.675" stop-color="red" stop-opacity="0.080"/><stop offset="0.700" stop-color="red" stop-opacity="0.080"/><stop offset="0.750" stop-color="red" stop-opacity="0.080"/><stop offset="0.800" stop-color="red" stop-opacity="0.080"/><stop offset="0.850" stop-color="red" stop-opacity="0.080"/><stop offset="0.925" stop-color="red" stop-opacity="0.080"/><stop offset="1.000" stop-color="red" stop-opacity="0.080"/></linearGradient><linearGradient id="bg19" gradientUnits="userSpaceOnUse" x1="1" y1="0" x2="0" y2="1"><stop offset="0.000" stop-color="red" stop-opacity="0.080"/><stop offset="0.075" stop-color="red" stop-opacity="0.080"/><stop offset="0.150" stop-color="red" stop-opacity="0.080"/><stop offset="0.200" stop-color="red" stop-opacity="0.080"/><stop offset="0.250" stop-color="red" stop-opacity="0.080"/><stop offset="0.300" stop-color="red" stop-opacity="0.080"/><stop offset="0.325" stop-color="red" stop-opacity="0.080"/><stop offset="0.350" stop-color="red" stop-opacity="0.080"/><stop offset="0.375" stop-color="red" stop-opacity="0.080"/><stop offset="0.400" stop-color="red" stop-opacity="0.080"/><stop offset="0.420" stop-color="red" stop-opacity="0.114"/><stop offset="0.435" stop-color="red" stop-opacity="0.140"/><stop offset="0.450" stop-color="red" stop-opacity="0.165"/><stop offset="0.460" stop-color="red" stop-opacity="0.182"/><stop offset="0.470" stop-color="red" stop-opacity="0.199"/><stop offset="0.477" stop-color="red" stop-opacity="0.212"/><stop offset="0.485" stop-color="red" stop-opacity="0.225"/><stop offset="0.490" stop-color="red" stop-opacity="0.233"/><stop offset="0.495" stop-color="red" stop-opacity="0.241"/><stop offset="0.497" stop-color="red" stop-opacity="0.246"/><stop offset="0.500" stop-color="red" stop-opacity="0.250"/><stop offset="0.502" stop-color="red" stop-opacity="0.246"/><stop offset="0.505" stop-color="red" stop-opacity="0.241"/><stop offset="0.510" stop-color="red" stop-opacity="0.233"/><stop offset="0.515" stop-color="red" stop-opacity="0.225"/><stop offset="0.522" stop-color="red" stop-opacity="0.212"/><stop offset="0.530" stop-color="red" stop-opacity="0.199"/><stop offset="0.540" stop-color="red" stop-opacity="0.182"/><stop offset="0.550" stop-color="red" stop-opacity="0.165"/><stop offset="0.565" stop-color="red" stop-opacity="0.140"/><stop offset="0.580" stop-color="red" stop-opacity="0.114"/><stop offset="0.600" stop-color="red" stop-opacity="0.080"/><stop offset="0.625" stop-color="red" stop-opacity="0.080"/><stop offset="0.650" stop-color="red" stop-opacity="0.080"/><stop offset="0.675" stop-color="red" stop-opacity="0.080"/><stop offset="0.700" stop-color="red" stop-opacity="0.080"/><stop offset="0.750" stop-color="red" stop-opacity="0.080"/><stop offset="0.800" stop-color="red" stop-opacity="0.080"/><stop offset="0.850" stop-color="red" stop-opacity="0.080"/><stop offset="0.925" stop-color="red" stop-opacity="0.080"/><stop offset="1.000" stop-color="red" stop-opacity="0.080"/></linearGradient><linearGradient id="bg20" gradientUnits="userSpaceOnUse" x1="1" y1="0" x2="0" y2="1"><stop offset="0.000" stop-color="red" stop-opacity="0.000"/><stop offset="0.075" stop-color="red" stop-opacity="0.000"/><stop offset="0.150" stop-color="red" stop-opacity="0.000"/><stop offset="0.200" stop-color="red" stop-opacity="0.000"/><stop offset="0.250" stop-color="red" stop-opacity="0.000"/><stop offset="0.300" stop-color="red" stop-opacity="0.000"/><stop offset="0.325" stop-color="red" stop-opacity="0.001"/><stop offset="0.350" stop-color="red" stop-opacity="0.002"/><stop offset="0.375" stop-color="red" stop-opacity="0.005"/><stop offset="0.400" stop-color="red" stop-opacity="0.013"/><stop offset="0.420" stop-color="red" stop-opacity="0.027"/><stop offset="0.435" stop-color="red" stop-opacity="0.047"/><stop offset="0.450" stop-color="red" stop-opacity="0.088"/><stop offset="0.460" stop-color="red" stop-opacity="0.154"/><stop offset="0.470" stop-color="red" stop-opacity="0.309"/><stop offset="0.477" stop-color="red" stop-opacity="0.507"/><stop offset="0.485" stop-color="red" stop-opacity="0.745"/><stop offset="0.490" stop-color="red" stop-opacity="0.883"/><stop offset="0.495" stop-color="red" stop-opacity="0.972"/><stop offset="0.497" stop-color="red" stop-opacity="0.993"/><stop offset="0.500" stop-color="red" stop-opacity="1.000"/><stop offset="0.502" stop-color="red" stop-opacity="0.993"/><stop offset="0.505" stop-color="red" stop-opacity="0.972"/><stop offset="0.510" stop-color="red" stop-opacity="0.883"/><stop offset="0.515" stop-color="red" stop-opacity="0.745"/><stop offset="0.522" stop-color="red" stop-opacity="0.507"/><stop offset="0.530" stop-color="red" stop-opacity="0.309"/><stop offset="0.540" stop-color="red" stop-opacity="0.154"/><stop offset="0.550" stop-color="red" stop-opacity="0.088"/><stop offset="0.565" stop-color="red" stop-opacity="0.047"/><stop offset="0.580" stop-color="red" stop-opacity="0.027"/><stop offset="0.600" stop-color="red" stop-opacity="0.013"/><stop offset="0.625" stop-color="red" stop-opacity="0.005"/><stop offset="0.650" stop-color="red" stop-opacity="0.002"/><stop offset="0.675" stop-color="red" stop-opacity="0.001"/><stop offset="0.700" stop-color="red" stop-opacity="0.000"/><stop offset="0.750" stop-color="red" stop-opacity="0.000"/><stop offset="0.800" stop-color="red" stop-opacity="0.000"/><stop offset="0.850" stop-color="red" stop-opacity="0.000"/><stop offset="0.925" stop-color="red" stop-opacity="0.000"/><stop offset="1.000" stop-color="red" stop-opacity="0.000"/></linearGradient><linearGradient id="bg21" gradientUnits="userSpaceOnUse" x1="1" y1="0" x2="0" y2="1"><stop offset="0.000" stop-color="red" stop-opacity="0.000"/><stop offset="0.075" stop-color="red" stop-opacity="0.000"/><stop offset="0.150" stop-color="red" stop-opacity="0.000"/><stop offset="0.200" stop-color="red" stop-opacity="0.000"/><stop offset="0.250" stop-color="red" stop-opacity="0.000"/><stop offset="0.300" stop-color="red" stop-opacity="0.000"/><stop offset="0.325" stop-color="red" stop-opacity="0.000"/><stop offset="0.350" stop-color="red" stop-opacity="0.000"/><stop offset="0.375" stop-color="red" stop-opacity="0.000"/><stop offset="0.400" stop-color="red" stop-opacity="0.000"/><stop offset="0.420" stop-color="red" stop-opacity="0.000"/><stop offset="0.435" stop-color="red" stop-opacity="0.000"/><stop offset="0.450" stop-color="red" stop-opacity="0.000"/><stop offset="0.460" stop-color="red" stop-opacity="0.000"/><stop offset="0.470" stop-color="red" stop-opacity="0.001"/><stop offset="0.477" stop-color="red" stop-opacity="0.014"/><stop offset="0.485" stop-color="red" stop-opacity="0.140"/><stop offset="0.490" stop-color="red" stop-opacity="0.394"/><stop offset="0.495" stop-color="red" stop-opacity="0.732"/><stop offset="0.497" stop-color="red" stop-opacity="0.855"/><stop offset="0.500" stop-color="red" stop-opacity="0.900"/><stop offset="0.502" stop-color="red" stop-opacity="0.855"/><stop offset="0.505" stop-color="red" stop-opacity="0.732"/><stop offset="0.510" stop-color="red" stop-opacity="0.394"/><stop offset="0.515" stop-color="red" stop-opacity="0.140"/><stop offset="0.522" stop-color="red" stop-opacity="0.014"/><stop offset="0.530" stop-color="red" stop-opacity="0.001"/><stop offset="0.540" stop-color="red" stop-opacity="0.000"/><stop offset="0.550" stop-color="red" stop-opacity="0.000"/><stop offset="0.565" stop-color="red" stop-opacity="0.000"/><stop offset="0.580" stop-color="red" stop-opacity="0.000"/><stop offset="0.600" stop-color="red" stop-opacity="0.000"/><stop offset="0.625" stop-color="red" stop-opacity="0.000"/><stop offset="0.650" stop-color="red" stop-opacity="0.000"/><stop offset="0.675" stop-color="red" stop-opacity="0.000"/><stop offset="0.700" stop-color="red" stop-opacity="0.000"/><stop offset="0.750" stop-color="red" stop-opacity="0.000"/><stop offset="0.800" stop-color="red" stop-opacity="0.000"/><stop offset="0.850" stop-color="red" stop-opacity="0.000"/><stop offset="0.925" stop-color="red" stop-opacity="0.000"/><stop offset="1.000" stop-color="red" stop-opacity="0.000"/></linearGradient><filter id="spk22" x="0" y="0" width="1" height="1" color-interpolation-filters="sRGB">
<feGaussianBlur in="SourceGraphic" stdDeviation="0.8" result="sb"/>
<feComponentTransfer in="sb" result="sg"><feFuncA type="table" tableValues="0.000 0.127 0.175 0.212 0.248 0.277 0.303 0.330 0.353 0.372 0.393 0.413 0.430 0.447 0.466 0.484 0.502 0.520 0.538 0.556 0.573 0.591 0.610 0.630 0.653 0.676 0.701 0.727 0.755 0.790 0.828 0.878 1.000"/></feComponentTransfer>
<feTurbulence type="fractalNoise" baseFrequency="0.47" numOctaves="2" seed="62" result="n"/>
<feColorMatrix in="n" type="matrix" values="0 0 0 0 0  0 0 0 0 0  0 0 0 0 0  1 0 0 0 0" result="na0"/>
<feComponentTransfer in="na0" result="na"><feFuncA type="table" tableValues="0.000 0.000 0.000 0.000 0.000 0.000 0.002 0.006 0.014 0.032 0.059 0.098 0.150 0.216 0.297 0.392 0.495 0.611 0.706 0.785 0.849 0.901 0.939 0.967 0.984 0.994 0.998 0.999 1.000 1.000 1.000 1.000 1.000"/></feComponentTransfer>
<feComposite in="sg" in2="na" operator="arithmetic" k1="0" k2="1.7692307692307692" k3="1" k4="-1" result="s"/>
<feComponentTransfer in="s" result="t"><feFuncA type="linear" slope="1.3" intercept="0"/></feComponentTransfer>
<feFlood flood-color="#f00"/>
<feComposite in2="t" operator="in" result="c"/>
<feGaussianBlur in="c" stdDeviation="0.7"/>
</filter><clipPath id="cl23"><rect x="0" y="0" width="267.79999999999995" height="262.9"/></clipPath><filter id="spk24" x="0" y="0" width="1" height="1" color-interpolation-filters="sRGB">
<feGaussianBlur in="SourceGraphic" stdDeviation="5.5" result="sb"/>
<feComponentTransfer in="sb" result="sg"><feFuncA type="table" tableValues="0.000 0.127 0.175 0.212 0.248 0.277 0.303 0.330 0.353 0.372 0.393 0.413 0.430 0.447 0.466 0.484 0.502 0.520 0.538 0.556 0.573 0.591 0.610 0.630 0.653 0.676 0.701 0.727 0.755 0.790 0.828 0.878 1.000"/></feComponentTransfer>
<feTurbulence type="fractalNoise" baseFrequency="0.47" numOctaves="2" seed="13" result="n"/>
<feColorMatrix in="n" type="matrix" values="0 0 0 0 0  0 0 0 0 0  0 0 0 0 0  1 0 0 0 0" result="na0"/>
<feComponentTransfer in="na0" result="na"><feFuncA type="table" tableValues="0.000 0.000 0.000 0.000 0.000 0.000 0.002 0.006 0.014 0.032 0.059 0.098 0.150 0.216 0.297 0.392 0.495 0.611 0.706 0.785 0.849 0.901 0.939 0.967 0.984 0.994 0.998 0.999 1.000 1.000 1.000 1.000 1.000"/></feComponentTransfer>
<feComposite in="sg" in2="na" operator="arithmetic" k1="0" k2="1.7692307692307692" k3="1" k4="-1" result="s"/>
<feComponentTransfer in="s" result="t"><feFuncA type="linear" slope="1.3" intercept="0"/></feComponentTransfer>
<feFlood flood-color="#f00"/>
<feComposite in2="t" operator="in" result="c"/>
<feGaussianBlur in="c" stdDeviation="0.7"/>
</filter><linearGradient id="bg25" gradientUnits="userSpaceOnUse" x1="1" y1="0" x2="0" y2="1"><stop offset="0.000" stop-color="red" stop-opacity="0.550"/><stop offset="0.075" stop-color="red" stop-opacity="0.550"/><stop offset="0.150" stop-color="red" stop-opacity="0.550"/><stop offset="0.200" stop-color="red" stop-opacity="0.550"/><stop offset="0.250" stop-color="red" stop-opacity="0.550"/><stop offset="0.300" stop-color="red" stop-opacity="0.550"/><stop offset="0.325" stop-color="red" stop-opacity="0.550"/><stop offset="0.350" stop-color="red" stop-opacity="0.550"/><stop offset="0.375" stop-color="red" stop-opacity="0.550"/><stop offset="0.400" stop-color="red" stop-opacity="0.550"/><stop offset="0.420" stop-color="red" stop-opacity="0.550"/><stop offset="0.435" stop-color="red" stop-opacity="0.550"/><stop offset="0.450" stop-color="red" stop-opacity="0.585"/><stop offset="0.460" stop-color="red" stop-opacity="0.608"/><stop offset="0.470" stop-color="red" stop-opacity="0.631"/><stop offset="0.477" stop-color="red" stop-opacity="0.648"/><stop offset="0.485" stop-color="red" stop-opacity="0.665"/><stop offset="0.490" stop-color="red" stop-opacity="0.677"/><stop offset="0.495" stop-color="red" stop-opacity="0.688"/><stop offset="0.497" stop-color="red" stop-opacity="0.694"/><stop offset="0.500" stop-color="red" stop-opacity="0.700"/><stop offset="0.502" stop-color="red" stop-opacity="0.694"/><stop offset="0.505" stop-color="red" stop-opacity="0.688"/><stop offset="0.510" stop-color="red" stop-opacity="0.677"/><stop offset="0.515" stop-color="red" stop-opacity="0.665"/><stop offset="0.522" stop-color="red" stop-opacity="0.648"/><stop offset="0.530" stop-color="red" stop-opacity="0.631"/><stop offset="0.540" stop-color="red" stop-opacity="0.608"/><stop offset="0.550" stop-color="red" stop-opacity="0.585"/><stop offset="0.565" stop-color="red" stop-opacity="0.550"/><stop offset="0.580" stop-color="red" stop-opacity="0.550"/><stop offset="0.600" stop-color="red" stop-opacity="0.550"/><stop offset="0.625" stop-color="red" stop-opacity="0.550"/><stop offset="0.650" stop-color="red" stop-opacity="0.550"/><stop offset="0.675" stop-color="red" stop-opacity="0.550"/><stop offset="0.700" stop-color="red" stop-opacity="0.550"/><stop offset="0.750" stop-color="red" stop-opacity="0.550"/><stop offset="0.800" stop-color="red" stop-opacity="0.550"/><stop offset="0.850" stop-color="red" stop-opacity="0.550"/><stop offset="0.925" stop-color="red" stop-opacity="0.550"/><stop offset="1.000" stop-color="red" stop-opacity="0.550"/></linearGradient><linearGradient id="bg26" gradientUnits="userSpaceOnUse" x1="1" y1="0" x2="0" y2="1"><stop offset="0.000" stop-color="red" stop-opacity="0.100"/><stop offset="0.075" stop-color="red" stop-opacity="0.100"/><stop offset="0.150" stop-color="red" stop-opacity="0.100"/><stop offset="0.200" stop-color="red" stop-opacity="0.100"/><stop offset="0.250" stop-color="red" stop-opacity="0.100"/><stop offset="0.300" stop-color="red" stop-opacity="0.100"/><stop offset="0.325" stop-color="red" stop-opacity="0.100"/><stop offset="0.350" stop-color="red" stop-opacity="0.100"/><stop offset="0.375" stop-color="red" stop-opacity="0.148"/><stop offset="0.400" stop-color="red" stop-opacity="0.209"/><stop offset="0.420" stop-color="red" stop-opacity="0.257"/><stop offset="0.435" stop-color="red" stop-opacity="0.293"/><stop offset="0.450" stop-color="red" stop-opacity="0.329"/><stop offset="0.460" stop-color="red" stop-opacity="0.353"/><stop offset="0.470" stop-color="red" stop-opacity="0.378"/><stop offset="0.477" stop-color="red" stop-opacity="0.396"/><stop offset="0.485" stop-color="red" stop-opacity="0.414"/><stop offset="0.490" stop-color="red" stop-opacity="0.426"/><stop offset="0.495" stop-color="red" stop-opacity="0.438"/><stop offset="0.497" stop-color="red" stop-opacity="0.444"/><stop offset="0.500" stop-color="red" stop-opacity="0.450"/><stop offset="0.502" stop-color="red" stop-opacity="0.444"/><stop offset="0.505" stop-color="red" stop-opacity="0.438"/><stop offset="0.510" stop-color="red" stop-opacity="0.426"/><stop offset="0.515" stop-color="red" stop-opacity="0.414"/><stop offset="0.522" stop-color="red" stop-opacity="0.396"/><stop offset="0.530" stop-color="red" stop-opacity="0.378"/><stop offset="0.540" stop-color="red" stop-opacity="0.353"/><stop offset="0.550" stop-color="red" stop-opacity="0.329"/><stop offset="0.565" stop-color="red" stop-opacity="0.293"/><stop offset="0.580" stop-color="red" stop-opacity="0.257"/><stop offset="0.600" stop-color="red" stop-opacity="0.209"/><stop offset="0.625" stop-color="red" stop-opacity="0.148"/><stop offset="0.650" stop-color="red" stop-opacity="0.100"/><stop offset="0.675" stop-color="red" stop-opacity="0.100"/><stop offset="0.700" stop-color="red" stop-opacity="0.100"/><stop offset="0.750" stop-color="red" stop-opacity="0.100"/><stop offset="0.800" stop-color="red" stop-opacity="0.100"/><stop offset="0.850" stop-color="red" stop-opacity="0.100"/><stop offset="0.925" stop-color="red" stop-opacity="0.100"/><stop offset="1.000" stop-color="red" stop-opacity="0.100"/></linearGradient><linearGradient id="bg27" gradientUnits="userSpaceOnUse" x1="1" y1="0" x2="0" y2="1"><stop offset="0.000" stop-color="red" stop-opacity="0.400"/><stop offset="0.075" stop-color="red" stop-opacity="0.400"/><stop offset="0.150" stop-color="red" stop-opacity="0.400"/><stop offset="0.200" stop-color="red" stop-opacity="0.400"/><stop offset="0.250" stop-color="red" stop-opacity="0.400"/><stop offset="0.300" stop-color="red" stop-opacity="0.400"/><stop offset="0.325" stop-color="red" stop-opacity="0.400"/><stop offset="0.350" stop-color="red" stop-opacity="0.400"/><stop offset="0.375" stop-color="red" stop-opacity="0.400"/><stop offset="0.400" stop-color="red" stop-opacity="0.423"/><stop offset="0.420" stop-color="red" stop-opacity="0.468"/><stop offset="0.435" stop-color="red" stop-opacity="0.502"/><stop offset="0.450" stop-color="red" stop-opacity="0.536"/><stop offset="0.460" stop-color="red" stop-opacity="0.559"/><stop offset="0.470" stop-color="red" stop-opacity="0.582"/><stop offset="0.477" stop-color="red" stop-opacity="0.599"/><stop offset="0.485" stop-color="red" stop-opacity="0.616"/><stop offset="0.490" stop-color="red" stop-opacity="0.627"/><stop offset="0.495" stop-color="red" stop-opacity="0.639"/><stop offset="0.497" stop-color="red" stop-opacity="0.644"/><stop offset="0.500" stop-color="red" stop-opacity="0.650"/><stop offset="0.502" stop-color="red" stop-opacity="0.644"/><stop offset="0.505" stop-color="red" stop-opacity="0.639"/><stop offset="0.510" stop-color="red" stop-opacity="0.627"/><stop offset="0.515" stop-color="red" stop-opacity="0.616"/><stop offset="0.522" stop-color="red" stop-opacity="0.599"/><stop offset="0.530" stop-color="red" stop-opacity="0.582"/><stop offset="0.540" stop-color="red" stop-opacity="0.559"/><stop offset="0.550" stop-color="red" stop-opacity="0.536"/><stop offset="0.565" stop-color="red" stop-opacity="0.502"/><stop offset="0.580" stop-color="red" stop-opacity="0.468"/><stop offset="0.600" stop-color="red" stop-opacity="0.423"/><stop offset="0.625" stop-color="red" stop-opacity="0.400"/><stop offset="0.650" stop-color="red" stop-opacity="0.400"/><stop offset="0.675" stop-color="red" stop-opacity="0.400"/><stop offset="0.700" stop-color="red" stop-opacity="0.400"/><stop offset="0.750" stop-color="red" stop-opacity="0.400"/><stop offset="0.800" stop-color="red" stop-opacity="0.400"/><stop offset="0.850" stop-color="red" stop-opacity="0.400"/><stop offset="0.925" stop-color="red" stop-opacity="0.400"/><stop offset="1.000" stop-color="red" stop-opacity="0.400"/></linearGradient><linearGradient id="bg28" gradientUnits="userSpaceOnUse" x1="1" y1="0" x2="0" y2="1"><stop offset="0.000" stop-color="red" stop-opacity="0.030"/><stop offset="0.075" stop-color="red" stop-opacity="0.030"/><stop offset="0.150" stop-color="red" stop-opacity="0.030"/><stop offset="0.200" stop-color="red" stop-opacity="0.030"/><stop offset="0.250" stop-color="red" stop-opacity="0.030"/><stop offset="0.300" stop-color="red" stop-opacity="0.030"/><stop offset="0.325" stop-color="red" stop-opacity="0.030"/><stop offset="0.350" stop-color="red" stop-opacity="0.069"/><stop offset="0.375" stop-color="red" stop-opacity="0.107"/><stop offset="0.400" stop-color="red" stop-opacity="0.146"/><stop offset="0.420" stop-color="red" stop-opacity="0.177"/><stop offset="0.435" stop-color="red" stop-opacity="0.200"/><stop offset="0.450" stop-color="red" stop-opacity="0.223"/><stop offset="0.460" stop-color="red" stop-opacity="0.238"/><stop offset="0.470" stop-color="red" stop-opacity="0.254"/><stop offset="0.477" stop-color="red" stop-opacity="0.265"/><stop offset="0.485" stop-color="red" stop-opacity="0.277"/><stop offset="0.490" stop-color="red" stop-opacity="0.285"/><stop offset="0.495" stop-color="red" stop-opacity="0.292"/><stop offset="0.497" stop-color="red" stop-opacity="0.296"/><stop offset="0.500" stop-color="red" stop-opacity="0.300"/><stop offset="0.502" stop-color="red" stop-opacity="0.296"/><stop offset="0.505" stop-color="red" stop-opacity="0.292"/><stop offset="0.510" stop-color="red" stop-opacity="0.285"/><stop offset="0.515" stop-color="red" stop-opacity="0.277"/><stop offset="0.522" stop-color="red" stop-opacity="0.265"/><stop offset="0.530" stop-color="red" stop-opacity="0.254"/><stop offset="0.540" stop-color="red" stop-opacity="0.238"/><stop offset="0.550" stop-color="red" stop-opacity="0.223"/><stop offset="0.565" stop-color="red" stop-opacity="0.200"/><stop offset="0.580" stop-color="red" stop-opacity="0.177"/><stop offset="0.600" stop-color="red" stop-opacity="0.146"/><stop offset="0.625" stop-color="red" stop-opacity="0.107"/><stop offset="0.650" stop-color="red" stop-opacity="0.069"/><stop offset="0.675" stop-color="red" stop-opacity="0.030"/><stop offset="0.700" stop-color="red" stop-opacity="0.030"/><stop offset="0.750" stop-color="red" stop-opacity="0.030"/><stop offset="0.800" stop-color="red" stop-opacity="0.030"/><stop offset="0.850" stop-color="red" stop-opacity="0.030"/><stop offset="0.925" stop-color="red" stop-opacity="0.030"/><stop offset="1.000" stop-color="red" stop-opacity="0.030"/></linearGradient><linearGradient id="bg29" gradientUnits="userSpaceOnUse" x1="1" y1="0" x2="0" y2="1"><stop offset="0.000" stop-color="red" stop-opacity="0.000"/><stop offset="0.075" stop-color="red" stop-opacity="0.000"/><stop offset="0.150" stop-color="red" stop-opacity="0.000"/><stop offset="0.200" stop-color="red" stop-opacity="0.000"/><stop offset="0.250" stop-color="red" stop-opacity="0.000"/><stop offset="0.300" stop-color="red" stop-opacity="0.001"/><stop offset="0.325" stop-color="red" stop-opacity="0.003"/><stop offset="0.350" stop-color="red" stop-opacity="0.006"/><stop offset="0.375" stop-color="red" stop-opacity="0.013"/><stop offset="0.400" stop-color="red" stop-opacity="0.026"/><stop offset="0.420" stop-color="red" stop-opacity="0.046"/><stop offset="0.435" stop-color="red" stop-opacity="0.074"/><stop offset="0.450" stop-color="red" stop-opacity="0.141"/><stop offset="0.460" stop-color="red" stop-opacity="0.247"/><stop offset="0.470" stop-color="red" stop-opacity="0.437"/><stop offset="0.477" stop-color="red" stop-opacity="0.627"/><stop offset="0.485" stop-color="red" stop-opacity="0.818"/><stop offset="0.490" stop-color="red" stop-opacity="0.918"/><stop offset="0.495" stop-color="red" stop-opacity="0.980"/><stop offset="0.497" stop-color="red" stop-opacity="0.995"/><stop offset="0.500" stop-color="red" stop-opacity="1.000"/><stop offset="0.502" stop-color="red" stop-opacity="0.995"/><stop offset="0.505" stop-color="red" stop-opacity="0.980"/><stop offset="0.510" stop-color="red" stop-opacity="0.918"/><stop offset="0.515" stop-color="red" stop-opacity="0.818"/><stop offset="0.522" stop-color="red" stop-opacity="0.627"/><stop offset="0.530" stop-color="red" stop-opacity="0.437"/><stop offset="0.540" stop-color="red" stop-opacity="0.247"/><stop offset="0.550" stop-color="red" stop-opacity="0.141"/><stop offset="0.565" stop-color="red" stop-opacity="0.074"/><stop offset="0.580" stop-color="red" stop-opacity="0.046"/><stop offset="0.600" stop-color="red" stop-opacity="0.026"/><stop offset="0.625" stop-color="red" stop-opacity="0.013"/><stop offset="0.650" stop-color="red" stop-opacity="0.006"/><stop offset="0.675" stop-color="red" stop-opacity="0.003"/><stop offset="0.700" stop-color="red" stop-opacity="0.001"/><stop offset="0.750" stop-color="red" stop-opacity="0.000"/><stop offset="0.800" stop-color="red" stop-opacity="0.000"/><stop offset="0.850" stop-color="red" stop-opacity="0.000"/><stop offset="0.925" stop-color="red" stop-opacity="0.000"/><stop offset="1.000" stop-color="red" stop-opacity="0.000"/></linearGradient><linearGradient id="bg30" gradientUnits="userSpaceOnUse" x1="1" y1="0" x2="0" y2="1"><stop offset="0.000" stop-color="red" stop-opacity="0.000"/><stop offset="0.075" stop-color="red" stop-opacity="0.000"/><stop offset="0.150" stop-color="red" stop-opacity="0.000"/><stop offset="0.200" stop-color="red" stop-opacity="0.000"/><stop offset="0.250" stop-color="red" stop-opacity="0.000"/><stop offset="0.300" stop-color="red" stop-opacity="0.000"/><stop offset="0.325" stop-color="red" stop-opacity="0.000"/><stop offset="0.350" stop-color="red" stop-opacity="0.000"/><stop offset="0.375" stop-color="red" stop-opacity="0.000"/><stop offset="0.400" stop-color="red" stop-opacity="0.000"/><stop offset="0.420" stop-color="red" stop-opacity="0.000"/><stop offset="0.435" stop-color="red" stop-opacity="0.000"/><stop offset="0.450" stop-color="red" stop-opacity="0.000"/><stop offset="0.460" stop-color="red" stop-opacity="0.000"/><stop offset="0.470" stop-color="red" stop-opacity="0.001"/><stop offset="0.477" stop-color="red" stop-opacity="0.014"/><stop offset="0.485" stop-color="red" stop-opacity="0.140"/><stop offset="0.490" stop-color="red" stop-opacity="0.394"/><stop offset="0.495" stop-color="red" stop-opacity="0.732"/><stop offset="0.497" stop-color="red" stop-opacity="0.855"/><stop offset="0.500" stop-color="red" stop-opacity="0.900"/><stop offset="0.502" stop-color="red" stop-opacity="0.855"/><stop offset="0.505" stop-color="red" stop-opacity="0.732"/><stop offset="0.510" stop-color="red" stop-opacity="0.394"/><stop offset="0.515" stop-color="red" stop-opacity="0.140"/><stop offset="0.522" stop-color="red" stop-opacity="0.014"/><stop offset="0.530" stop-color="red" stop-opacity="0.001"/><stop offset="0.540" stop-color="red" stop-opacity="0.000"/><stop offset="0.550" stop-color="red" stop-opacity="0.000"/><stop offset="0.565" stop-color="red" stop-opacity="0.000"/><stop offset="0.580" stop-color="red" stop-opacity="0.000"/><stop offset="0.600" stop-color="red" stop-opacity="0.000"/><stop offset="0.625" stop-color="red" stop-opacity="0.000"/><stop offset="0.650" stop-color="red" stop-opacity="0.000"/><stop offset="0.675" stop-color="red" stop-opacity="0.000"/><stop offset="0.700" stop-color="red" stop-opacity="0.000"/><stop offset="0.750" stop-color="red" stop-opacity="0.000"/><stop offset="0.800" stop-color="red" stop-opacity="0.000"/><stop offset="0.850" stop-color="red" stop-opacity="0.000"/><stop offset="0.925" stop-color="red" stop-opacity="0.000"/><stop offset="1.000" stop-color="red" stop-opacity="0.000"/></linearGradient><filter id="spk31" x="0" y="0" width="1" height="1" color-interpolation-filters="sRGB">
<feGaussianBlur in="SourceGraphic" stdDeviation="0.8" result="sb"/>
<feComponentTransfer in="sb" result="sg"><feFuncA type="table" tableValues="0.000 0.127 0.175 0.212 0.248 0.277 0.303 0.330 0.353 0.372 0.393 0.413 0.430 0.447 0.466 0.484 0.502 0.520 0.538 0.556 0.573 0.591 0.610 0.630 0.653 0.676 0.701 0.727 0.755 0.790 0.828 0.878 1.000"/></feComponentTransfer>
<feTurbulence type="fractalNoise" baseFrequency="0.47" numOctaves="2" seed="63" result="n"/>
<feColorMatrix in="n" type="matrix" values="0 0 0 0 0  0 0 0 0 0  0 0 0 0 0  1 0 0 0 0" result="na0"/>
<feComponentTransfer in="na0" result="na"><feFuncA type="table" tableValues="0.000 0.000 0.000 0.000 0.000 0.000 0.002 0.006 0.014 0.032 0.059 0.098 0.150 0.216 0.297 0.392 0.495 0.611 0.706 0.785 0.849 0.901 0.939 0.967 0.984 0.994 0.998 0.999 1.000 1.000 1.000 1.000 1.000"/></feComponentTransfer>
<feComposite in="sg" in2="na" operator="arithmetic" k1="0" k2="1.7692307692307692" k3="1" k4="-1" result="s"/>
<feComponentTransfer in="s" result="t"><feFuncA type="linear" slope="1.3" intercept="0"/></feComponentTransfer>
<feFlood flood-color="#f00"/>
<feComposite in2="t" operator="in" result="c"/>
<feGaussianBlur in="c" stdDeviation="0.7"/>
</filter><clipPath id="cl32"><rect x="0" y="0" width="268.0999999999999" height="262.29999999999995"/></clipPath><filter id="spk33" x="0" y="0" width="1" height="1" color-interpolation-filters="sRGB">
<feGaussianBlur in="SourceGraphic" stdDeviation="5.5" result="sb"/>
<feComponentTransfer in="sb" result="sg"><feFuncA type="table" tableValues="0.000 0.127 0.175 0.212 0.248 0.277 0.303 0.330 0.353 0.372 0.393 0.413 0.430 0.447 0.466 0.484 0.502 0.520 0.538 0.556 0.573 0.591 0.610 0.630 0.653 0.676 0.701 0.727 0.755 0.790 0.828 0.878 1.000"/></feComponentTransfer>
<feTurbulence type="fractalNoise" baseFrequency="0.47" numOctaves="2" seed="14" result="n"/>
<feColorMatrix in="n" type="matrix" values="0 0 0 0 0  0 0 0 0 0  0 0 0 0 0  1 0 0 0 0" result="na0"/>
<feComponentTransfer in="na0" result="na"><feFuncA type="table" tableValues="0.000 0.000 0.000 0.000 0.000 0.000 0.002 0.006 0.014 0.032 0.059 0.098 0.150 0.216 0.297 0.392 0.495 0.611 0.706 0.785 0.849 0.901 0.939 0.967 0.984 0.994 0.998 0.999 1.000 1.000 1.000 1.000 1.000"/></feComponentTransfer>
<feComposite in="sg" in2="na" operator="arithmetic" k1="0" k2="1.7692307692307692" k3="1" k4="-1" result="s"/>
<feComponentTransfer in="s" result="t"><feFuncA type="linear" slope="1.3" intercept="0"/></feComponentTransfer>
<feFlood flood-color="#f00"/>
<feComposite in2="t" operator="in" result="c"/>
<feGaussianBlur in="c" stdDeviation="0.7"/>
</filter><linearGradient id="bg34" gradientUnits="userSpaceOnUse" x1="1" y1="0" x2="0" y2="1"><stop offset="0.000" stop-color="red" stop-opacity="0.550"/><stop offset="0.075" stop-color="red" stop-opacity="0.550"/><stop offset="0.150" stop-color="red" stop-opacity="0.550"/><stop offset="0.200" stop-color="red" stop-opacity="0.550"/><stop offset="0.250" stop-color="red" stop-opacity="0.550"/><stop offset="0.300" stop-color="red" stop-opacity="0.550"/><stop offset="0.325" stop-color="red" stop-opacity="0.550"/><stop offset="0.350" stop-color="red" stop-opacity="0.550"/><stop offset="0.375" stop-color="red" stop-opacity="0.550"/><stop offset="0.400" stop-color="red" stop-opacity="0.550"/><stop offset="0.420" stop-color="red" stop-opacity="0.590"/><stop offset="0.435" stop-color="red" stop-opacity="0.620"/><stop offset="0.450" stop-color="red" stop-opacity="0.650"/><stop offset="0.460" stop-color="red" stop-opacity="0.670"/><stop offset="0.470" stop-color="red" stop-opacity="0.690"/><stop offset="0.477" stop-color="red" stop-opacity="0.705"/><stop offset="0.485" stop-color="red" stop-opacity="0.720"/><stop offset="0.490" stop-color="red" stop-opacity="0.730"/><stop offset="0.495" stop-color="red" stop-opacity="0.740"/><stop offset="0.497" stop-color="red" stop-opacity="0.745"/><stop offset="0.500" stop-color="red" stop-opacity="0.750"/><stop offset="0.502" stop-color="red" stop-opacity="0.745"/><stop offset="0.505" stop-color="red" stop-opacity="0.740"/><stop offset="0.510" stop-color="red" stop-opacity="0.730"/><stop offset="0.515" stop-color="red" stop-opacity="0.720"/><stop offset="0.522" stop-color="red" stop-opacity="0.705"/><stop offset="0.530" stop-color="red" stop-opacity="0.690"/><stop offset="0.540" stop-color="red" stop-opacity="0.670"/><stop offset="0.550" stop-color="red" stop-opacity="0.650"/><stop offset="0.565" stop-color="red" stop-opacity="0.620"/><stop offset="0.580" stop-color="red" stop-opacity="0.590"/><stop offset="0.600" stop-color="red" stop-opacity="0.550"/><stop offset="0.625" stop-color="red" stop-opacity="0.550"/><stop offset="0.650" stop-color="red" stop-opacity="0.550"/><stop offset="0.675" stop-color="red" stop-opacity="0.550"/><stop offset="0.700" stop-color="red" stop-opacity="0.550"/><stop offset="0.750" stop-color="red" stop-opacity="0.550"/><stop offset="0.800" stop-color="red" stop-opacity="0.550"/><stop offset="0.850" stop-color="red" stop-opacity="0.550"/><stop offset="0.925" stop-color="red" stop-opacity="0.550"/><stop offset="1.000" stop-color="red" stop-opacity="0.550"/></linearGradient><linearGradient id="bg35" gradientUnits="userSpaceOnUse" x1="1" y1="0" x2="0" y2="1"><stop offset="0.000" stop-color="red" stop-opacity="0.050"/><stop offset="0.075" stop-color="red" stop-opacity="0.050"/><stop offset="0.150" stop-color="red" stop-opacity="0.050"/><stop offset="0.200" stop-color="red" stop-opacity="0.050"/><stop offset="0.250" stop-color="red" stop-opacity="0.050"/><stop offset="0.300" stop-color="red" stop-opacity="0.050"/><stop offset="0.325" stop-color="red" stop-opacity="0.050"/><stop offset="0.350" stop-color="red" stop-opacity="0.107"/><stop offset="0.375" stop-color="red" stop-opacity="0.164"/><stop offset="0.400" stop-color="red" stop-opacity="0.221"/><stop offset="0.420" stop-color="red" stop-opacity="0.267"/><stop offset="0.435" stop-color="red" stop-opacity="0.301"/><stop offset="0.450" stop-color="red" stop-opacity="0.336"/><stop offset="0.460" stop-color="red" stop-opacity="0.359"/><stop offset="0.470" stop-color="red" stop-opacity="0.381"/><stop offset="0.477" stop-color="red" stop-opacity="0.399"/><stop offset="0.485" stop-color="red" stop-opacity="0.416"/><stop offset="0.490" stop-color="red" stop-opacity="0.427"/><stop offset="0.495" stop-color="red" stop-opacity="0.439"/><stop offset="0.497" stop-color="red" stop-opacity="0.444"/><stop offset="0.500" stop-color="red" stop-opacity="0.450"/><stop offset="0.502" stop-color="red" stop-opacity="0.444"/><stop offset="0.505" stop-color="red" stop-opacity="0.439"/><stop offset="0.510" stop-color="red" stop-opacity="0.427"/><stop offset="0.515" stop-color="red" stop-opacity="0.416"/><stop offset="0.522" stop-color="red" stop-opacity="0.399"/><stop offset="0.530" stop-color="red" stop-opacity="0.381"/><stop offset="0.540" stop-color="red" stop-opacity="0.359"/><stop offset="0.550" stop-color="red" stop-opacity="0.336"/><stop offset="0.565" stop-color="red" stop-opacity="0.301"/><stop offset="0.580" stop-color="red" stop-opacity="0.267"/><stop offset="0.600" stop-color="red" stop-opacity="0.221"/><stop offset="0.625" stop-color="red" stop-opacity="0.164"/><stop offset="0.650" stop-color="red" stop-opacity="0.107"/><stop offset="0.675" stop-color="red" stop-opacity="0.050"/><stop offset="0.700" stop-color="red" stop-opacity="0.050"/><stop offset="0.750" stop-color="red" stop-opacity="0.050"/><stop offset="0.800" stop-color="red" stop-opacity="0.050"/><stop offset="0.850" stop-color="red" stop-opacity="0.050"/><stop offset="0.925" stop-color="red" stop-opacity="0.050"/><stop offset="1.000" stop-color="red" stop-opacity="0.050"/></linearGradient><linearGradient id="bg36" gradientUnits="userSpaceOnUse" x1="1" y1="0" x2="0" y2="1"><stop offset="0.000" stop-color="red" stop-opacity="0.100"/><stop offset="0.075" stop-color="red" stop-opacity="0.100"/><stop offset="0.150" stop-color="red" stop-opacity="0.100"/><stop offset="0.200" stop-color="red" stop-opacity="0.100"/><stop offset="0.250" stop-color="red" stop-opacity="0.100"/><stop offset="0.300" stop-color="red" stop-opacity="0.100"/><stop offset="0.325" stop-color="red" stop-opacity="0.111"/><stop offset="0.350" stop-color="red" stop-opacity="0.167"/><stop offset="0.375" stop-color="red" stop-opacity="0.222"/><stop offset="0.400" stop-color="red" stop-opacity="0.278"/><stop offset="0.420" stop-color="red" stop-opacity="0.322"/><stop offset="0.435" stop-color="red" stop-opacity="0.356"/><stop offset="0.450" stop-color="red" stop-opacity="0.389"/><stop offset="0.460" stop-color="red" stop-opacity="0.411"/><stop offset="0.470" stop-color="red" stop-opacity="0.433"/><stop offset="0.477" stop-color="red" stop-opacity="0.450"/><stop offset="0.485" stop-color="red" stop-opacity="0.467"/><stop offset="0.490" stop-color="red" stop-opacity="0.478"/><stop offset="0.495" stop-color="red" stop-opacity="0.489"/><stop offset="0.497" stop-color="red" stop-opacity="0.494"/><stop offset="0.500" stop-color="red" stop-opacity="0.500"/><stop offset="0.502" stop-color="red" stop-opacity="0.494"/><stop offset="0.505" stop-color="red" stop-opacity="0.489"/><stop offset="0.510" stop-color="red" stop-opacity="0.478"/><stop offset="0.515" stop-color="red" stop-opacity="0.467"/><stop offset="0.522" stop-color="red" stop-opacity="0.450"/><stop offset="0.530" stop-color="red" stop-opacity="0.433"/><stop offset="0.540" stop-color="red" stop-opacity="0.411"/><stop offset="0.550" stop-color="red" stop-opacity="0.389"/><stop offset="0.565" stop-color="red" stop-opacity="0.356"/><stop offset="0.580" stop-color="red" stop-opacity="0.322"/><stop offset="0.600" stop-color="red" stop-opacity="0.278"/><stop offset="0.625" stop-color="red" stop-opacity="0.222"/><stop offset="0.650" stop-color="red" stop-opacity="0.167"/><stop offset="0.675" stop-color="red" stop-opacity="0.111"/><stop offset="0.700" stop-color="red" stop-opacity="0.100"/><stop offset="0.750" stop-color="red" stop-opacity="0.100"/><stop offset="0.800" stop-color="red" stop-opacity="0.100"/><stop offset="0.850" stop-color="red" stop-opacity="0.100"/><stop offset="0.925" stop-color="red" stop-opacity="0.100"/><stop offset="1.000" stop-color="red" stop-opacity="0.100"/></linearGradient><linearGradient id="bg37" gradientUnits="userSpaceOnUse" x1="1" y1="0" x2="0" y2="1"><stop offset="0.000" stop-color="red" stop-opacity="0.400"/><stop offset="0.075" stop-color="red" stop-opacity="0.400"/><stop offset="0.150" stop-color="red" stop-opacity="0.400"/><stop offset="0.200" stop-color="red" stop-opacity="0.400"/><stop offset="0.250" stop-color="red" stop-opacity="0.400"/><stop offset="0.300" stop-color="red" stop-opacity="0.400"/><stop offset="0.325" stop-color="red" stop-opacity="0.400"/><stop offset="0.350" stop-color="red" stop-opacity="0.400"/><stop offset="0.375" stop-color="red" stop-opacity="0.410"/><stop offset="0.400" stop-color="red" stop-opacity="0.458"/><stop offset="0.420" stop-color="red" stop-opacity="0.496"/><stop offset="0.435" stop-color="red" stop-opacity="0.525"/><stop offset="0.450" stop-color="red" stop-opacity="0.554"/><stop offset="0.460" stop-color="red" stop-opacity="0.573"/><stop offset="0.470" stop-color="red" stop-opacity="0.592"/><stop offset="0.477" stop-color="red" stop-opacity="0.607"/><stop offset="0.485" stop-color="red" stop-opacity="0.621"/><stop offset="0.490" stop-color="red" stop-opacity="0.631"/><stop offset="0.495" stop-color="red" stop-opacity="0.640"/><stop offset="0.497" stop-color="red" stop-opacity="0.645"/><stop offset="0.500" stop-color="red" stop-opacity="0.650"/><stop offset="0.502" stop-color="red" stop-opacity="0.645"/><stop offset="0.505" stop-color="red" stop-opacity="0.640"/><stop offset="0.510" stop-color="red" stop-opacity="0.631"/><stop offset="0.515" stop-color="red" stop-opacity="0.621"/><stop offset="0.522" stop-color="red" stop-opacity="0.607"/><stop offset="0.530" stop-color="red" stop-opacity="0.592"/><stop offset="0.540" stop-color="red" stop-opacity="0.573"/><stop offset="0.550" stop-color="red" stop-opacity="0.554"/><stop offset="0.565" stop-color="red" stop-opacity="0.525"/><stop offset="0.580" stop-color="red" stop-opacity="0.496"/><stop offset="0.600" stop-color="red" stop-opacity="0.458"/><stop offset="0.625" stop-color="red" stop-opacity="0.410"/><stop offset="0.650" stop-color="red" stop-opacity="0.400"/><stop offset="0.675" stop-color="red" stop-opacity="0.400"/><stop offset="0.700" stop-color="red" stop-opacity="0.400"/><stop offset="0.750" stop-color="red" stop-opacity="0.400"/><stop offset="0.800" stop-color="red" stop-opacity="0.400"/><stop offset="0.850" stop-color="red" stop-opacity="0.400"/><stop offset="0.925" stop-color="red" stop-opacity="0.400"/><stop offset="1.000" stop-color="red" stop-opacity="0.400"/></linearGradient><linearGradient id="bg38" gradientUnits="userSpaceOnUse" x1="1" y1="0" x2="0" y2="1"><stop offset="0.000" stop-color="red" stop-opacity="0.000"/><stop offset="0.075" stop-color="red" stop-opacity="0.000"/><stop offset="0.150" stop-color="red" stop-opacity="0.000"/><stop offset="0.200" stop-color="red" stop-opacity="0.000"/><stop offset="0.250" stop-color="red" stop-opacity="0.001"/><stop offset="0.300" stop-color="red" stop-opacity="0.003"/><stop offset="0.325" stop-color="red" stop-opacity="0.006"/><stop offset="0.350" stop-color="red" stop-opacity="0.012"/><stop offset="0.375" stop-color="red" stop-opacity="0.022"/><stop offset="0.400" stop-color="red" stop-opacity="0.041"/><stop offset="0.420" stop-color="red" stop-opacity="0.070"/><stop offset="0.435" stop-color="red" stop-opacity="0.115"/><stop offset="0.450" stop-color="red" stop-opacity="0.224"/><stop offset="0.460" stop-color="red" stop-opacity="0.363"/><stop offset="0.470" stop-color="red" stop-opacity="0.562"/><stop offset="0.477" stop-color="red" stop-opacity="0.728"/><stop offset="0.485" stop-color="red" stop-opacity="0.874"/><stop offset="0.490" stop-color="red" stop-opacity="0.945"/><stop offset="0.495" stop-color="red" stop-opacity="0.987"/><stop offset="0.497" stop-color="red" stop-opacity="0.997"/><stop offset="0.500" stop-color="red" stop-opacity="1.000"/><stop offset="0.502" stop-color="red" stop-opacity="0.997"/><stop offset="0.505" stop-color="red" stop-opacity="0.987"/><stop offset="0.510" stop-color="red" stop-opacity="0.945"/><stop offset="0.515" stop-color="red" stop-opacity="0.874"/><stop offset="0.522" stop-color="red" stop-opacity="0.728"/><stop offset="0.530" stop-color="red" stop-opacity="0.562"/><stop offset="0.540" stop-color="red" stop-opacity="0.363"/><stop offset="0.550" stop-color="red" stop-opacity="0.224"/><stop offset="0.565" stop-color="red" stop-opacity="0.115"/><stop offset="0.580" stop-color="red" stop-opacity="0.070"/><stop offset="0.600" stop-color="red" stop-opacity="0.041"/><stop offset="0.625" stop-color="red" stop-opacity="0.022"/><stop offset="0.650" stop-color="red" stop-opacity="0.012"/><stop offset="0.675" stop-color="red" stop-opacity="0.006"/><stop offset="0.700" stop-color="red" stop-opacity="0.003"/><stop offset="0.750" stop-color="red" stop-opacity="0.001"/><stop offset="0.800" stop-color="red" stop-opacity="0.000"/><stop offset="0.850" stop-color="red" stop-opacity="0.000"/><stop offset="0.925" stop-color="red" stop-opacity="0.000"/><stop offset="1.000" stop-color="red" stop-opacity="0.000"/></linearGradient><linearGradient id="bg39" gradientUnits="userSpaceOnUse" x1="1" y1="0" x2="0" y2="1"><stop offset="0.000" stop-color="red" stop-opacity="0.000"/><stop offset="0.075" stop-color="red" stop-opacity="0.000"/><stop offset="0.150" stop-color="red" stop-opacity="0.000"/><stop offset="0.200" stop-color="red" stop-opacity="0.000"/><stop offset="0.250" stop-color="red" stop-opacity="0.000"/><stop offset="0.300" stop-color="red" stop-opacity="0.000"/><stop offset="0.325" stop-color="red" stop-opacity="0.000"/><stop offset="0.350" stop-color="red" stop-opacity="0.000"/><stop offset="0.375" stop-color="red" stop-opacity="0.000"/><stop offset="0.400" stop-color="red" stop-opacity="0.000"/><stop offset="0.420" stop-color="red" stop-opacity="0.000"/><stop offset="0.435" stop-color="red" stop-opacity="0.000"/><stop offset="0.450" stop-color="red" stop-opacity="0.000"/><stop offset="0.460" stop-color="red" stop-opacity="0.000"/><stop offset="0.470" stop-color="red" stop-opacity="0.001"/><stop offset="0.477" stop-color="red" stop-opacity="0.014"/><stop offset="0.485" stop-color="red" stop-opacity="0.140"/><stop offset="0.490" stop-color="red" stop-opacity="0.394"/><stop offset="0.495" stop-color="red" stop-opacity="0.732"/><stop offset="0.497" stop-color="red" stop-opacity="0.855"/><stop offset="0.500" stop-color="red" stop-opacity="0.900"/><stop offset="0.502" stop-color="red" stop-opacity="0.855"/><stop offset="0.505" stop-color="red" stop-opacity="0.732"/><stop offset="0.510" stop-color="red" stop-opacity="0.394"/><stop offset="0.515" stop-color="red" stop-opacity="0.140"/><stop offset="0.522" stop-color="red" stop-opacity="0.014"/><stop offset="0.530" stop-color="red" stop-opacity="0.001"/><stop offset="0.540" stop-color="red" stop-opacity="0.000"/><stop offset="0.550" stop-color="red" stop-opacity="0.000"/><stop offset="0.565" stop-color="red" stop-opacity="0.000"/><stop offset="0.580" stop-color="red" stop-opacity="0.000"/><stop offset="0.600" stop-color="red" stop-opacity="0.000"/><stop offset="0.625" stop-color="red" stop-opacity="0.000"/><stop offset="0.650" stop-color="red" stop-opacity="0.000"/><stop offset="0.675" stop-color="red" stop-opacity="0.000"/><stop offset="0.700" stop-color="red" stop-opacity="0.000"/><stop offset="0.750" stop-color="red" stop-opacity="0.000"/><stop offset="0.800" stop-color="red" stop-opacity="0.000"/><stop offset="0.850" stop-color="red" stop-opacity="0.000"/><stop offset="0.925" stop-color="red" stop-opacity="0.000"/><stop offset="1.000" stop-color="red" stop-opacity="0.000"/></linearGradient><filter id="spk40" x="0" y="0" width="1" height="1" color-interpolation-filters="sRGB">
<feGaussianBlur in="SourceGraphic" stdDeviation="0.8" result="sb"/>
<feComponentTransfer in="sb" result="sg"><feFuncA type="table" tableValues="0.000 0.127 0.175 0.212 0.248 0.277 0.303 0.330 0.353 0.372 0.393 0.413 0.430 0.447 0.466 0.484 0.502 0.520 0.538 0.556 0.573 0.591 0.610 0.630 0.653 0.676 0.701 0.727 0.755 0.790 0.828 0.878 1.000"/></feComponentTransfer>
<feTurbulence type="fractalNoise" baseFrequency="0.47" numOctaves="2" seed="64" result="n"/>
<feColorMatrix in="n" type="matrix" values="0 0 0 0 0  0 0 0 0 0  0 0 0 0 0  1 0 0 0 0" result="na0"/>
<feComponentTransfer in="na0" result="na"><feFuncA type="table" tableValues="0.000 0.000 0.000 0.000 0.000 0.000 0.002 0.006 0.014 0.032 0.059 0.098 0.150 0.216 0.297 0.392 0.495 0.611 0.706 0.785 0.849 0.901 0.939 0.967 0.984 0.994 0.998 0.999 1.000 1.000 1.000 1.000 1.000"/></feComponentTransfer>
<feComposite in="sg" in2="na" operator="arithmetic" k1="0" k2="1.7692307692307692" k3="1" k4="-1" result="s"/>
<feComponentTransfer in="s" result="t"><feFuncA type="linear" slope="1.3" intercept="0"/></feComponentTransfer>
<feFlood flood-color="#f00"/>
<feComposite in2="t" operator="in" result="c"/>
<feGaussianBlur in="c" stdDeviation="0.7"/>
</filter><clipPath id="cl41"><rect x="0" y="0" width="262.20000000000005" height="225.69999999999982"/></clipPath><filter id="spk42" x="0" y="0" width="1" height="1" color-interpolation-filters="sRGB">
<feGaussianBlur in="SourceGraphic" stdDeviation="3" result="sb"/>
<feComponentTransfer in="sb" result="sg"><feFuncA type="table" tableValues="0.000 0.127 0.175 0.212 0.248 0.277 0.303 0.330 0.353 0.372 0.393 0.413 0.430 0.447 0.466 0.484 0.502 0.520 0.538 0.556 0.573 0.591 0.610 0.630 0.653 0.676 0.701 0.727 0.755 0.790 0.828 0.878 1.000"/></feComponentTransfer>
<feTurbulence type="fractalNoise" baseFrequency="0.47" numOctaves="2" seed="15" result="n"/>
<feColorMatrix in="n" type="matrix" values="0 0 0 0 0  0 0 0 0 0  0 0 0 0 0  1 0 0 0 0" result="na0"/>
<feComponentTransfer in="na0" result="na"><feFuncA type="table" tableValues="0.000 0.000 0.000 0.000 0.000 0.000 0.002 0.006 0.014 0.032 0.059 0.098 0.150 0.216 0.297 0.392 0.495 0.611 0.706 0.785 0.849 0.901 0.939 0.967 0.984 0.994 0.998 0.999 1.000 1.000 1.000 1.000 1.000"/></feComponentTransfer>
<feComposite in="sg" in2="na" operator="arithmetic" k1="0" k2="1.7692307692307692" k3="1" k4="-1" result="s"/>
<feComponentTransfer in="s" result="t"><feFuncA type="linear" slope="1.3" intercept="0"/></feComponentTransfer>
<feFlood flood-color="#f00"/>
<feComposite in2="t" operator="in" result="c"/>
<feGaussianBlur in="c" stdDeviation="0.7"/>
</filter><linearGradient id="bg43" gradientUnits="userSpaceOnUse" x1="1" y1="0" x2="0" y2="1"><stop offset="0.000" stop-color="red" stop-opacity="0.400"/><stop offset="0.075" stop-color="red" stop-opacity="0.400"/><stop offset="0.150" stop-color="red" stop-opacity="0.400"/><stop offset="0.200" stop-color="red" stop-opacity="0.400"/><stop offset="0.250" stop-color="red" stop-opacity="0.400"/><stop offset="0.300" stop-color="red" stop-opacity="0.400"/><stop offset="0.325" stop-color="red" stop-opacity="0.400"/><stop offset="0.350" stop-color="red" stop-opacity="0.400"/><stop offset="0.375" stop-color="red" stop-opacity="0.400"/><stop offset="0.400" stop-color="red" stop-opacity="0.400"/><stop offset="0.420" stop-color="red" stop-opacity="0.400"/><stop offset="0.435" stop-color="red" stop-opacity="0.400"/><stop offset="0.450" stop-color="red" stop-opacity="0.425"/><stop offset="0.460" stop-color="red" stop-opacity="0.450"/><stop offset="0.470" stop-color="red" stop-opacity="0.475"/><stop offset="0.477" stop-color="red" stop-opacity="0.494"/><stop offset="0.485" stop-color="red" stop-opacity="0.513"/><stop offset="0.490" stop-color="red" stop-opacity="0.525"/><stop offset="0.495" stop-color="red" stop-opacity="0.538"/><stop offset="0.497" stop-color="red" stop-opacity="0.544"/><stop offset="0.500" stop-color="red" stop-opacity="0.550"/><stop offset="0.502" stop-color="red" stop-opacity="0.544"/><stop offset="0.505" stop-color="red" stop-opacity="0.538"/><stop offset="0.510" stop-color="red" stop-opacity="0.525"/><stop offset="0.515" stop-color="red" stop-opacity="0.513"/><stop offset="0.522" stop-color="red" stop-opacity="0.494"/><stop offset="0.530" stop-color="red" stop-opacity="0.475"/><stop offset="0.540" stop-color="red" stop-opacity="0.450"/><stop offset="0.550" stop-color="red" stop-opacity="0.425"/><stop offset="0.565" stop-color="red" stop-opacity="0.400"/><stop offset="0.580" stop-color="red" stop-opacity="0.400"/><stop offset="0.600" stop-color="red" stop-opacity="0.400"/><stop offset="0.625" stop-color="red" stop-opacity="0.400"/><stop offset="0.650" stop-color="red" stop-opacity="0.400"/><stop offset="0.675" stop-color="red" stop-opacity="0.400"/><stop offset="0.700" stop-color="red" stop-opacity="0.400"/><stop offset="0.750" stop-color="red" stop-opacity="0.400"/><stop offset="0.800" stop-color="red" stop-opacity="0.400"/><stop offset="0.850" stop-color="red" stop-opacity="0.400"/><stop offset="0.925" stop-color="red" stop-opacity="0.400"/><stop offset="1.000" stop-color="red" stop-opacity="0.400"/></linearGradient><linearGradient id="bg44" gradientUnits="userSpaceOnUse" x1="1" y1="0" x2="0" y2="1"><stop offset="0.000" stop-color="red" stop-opacity="0.200"/><stop offset="0.075" stop-color="red" stop-opacity="0.200"/><stop offset="0.150" stop-color="red" stop-opacity="0.200"/><stop offset="0.200" stop-color="red" stop-opacity="0.200"/><stop offset="0.250" stop-color="red" stop-opacity="0.200"/><stop offset="0.300" stop-color="red" stop-opacity="0.200"/><stop offset="0.325" stop-color="red" stop-opacity="0.200"/><stop offset="0.350" stop-color="red" stop-opacity="0.200"/><stop offset="0.375" stop-color="red" stop-opacity="0.200"/><stop offset="0.400" stop-color="red" stop-opacity="0.214"/><stop offset="0.420" stop-color="red" stop-opacity="0.271"/><stop offset="0.435" stop-color="red" stop-opacity="0.314"/><stop offset="0.450" stop-color="red" stop-opacity="0.357"/><stop offset="0.460" stop-color="red" stop-opacity="0.386"/><stop offset="0.470" stop-color="red" stop-opacity="0.414"/><stop offset="0.477" stop-color="red" stop-opacity="0.436"/><stop offset="0.485" stop-color="red" stop-opacity="0.457"/><stop offset="0.490" stop-color="red" stop-opacity="0.471"/><stop offset="0.495" stop-color="red" stop-opacity="0.486"/><stop offset="0.497" stop-color="red" stop-opacity="0.493"/><stop offset="0.500" stop-color="red" stop-opacity="0.500"/><stop offset="0.502" stop-color="red" stop-opacity="0.493"/><stop offset="0.505" stop-color="red" stop-opacity="0.486"/><stop offset="0.510" stop-color="red" stop-opacity="0.471"/><stop offset="0.515" stop-color="red" stop-opacity="0.457"/><stop offset="0.522" stop-color="red" stop-opacity="0.436"/><stop offset="0.530" stop-color="red" stop-opacity="0.414"/><stop offset="0.540" stop-color="red" stop-opacity="0.386"/><stop offset="0.550" stop-color="red" stop-opacity="0.357"/><stop offset="0.565" stop-color="red" stop-opacity="0.314"/><stop offset="0.580" stop-color="red" stop-opacity="0.271"/><stop offset="0.600" stop-color="red" stop-opacity="0.214"/><stop offset="0.625" stop-color="red" stop-opacity="0.200"/><stop offset="0.650" stop-color="red" stop-opacity="0.200"/><stop offset="0.675" stop-color="red" stop-opacity="0.200"/><stop offset="0.700" stop-color="red" stop-opacity="0.200"/><stop offset="0.750" stop-color="red" stop-opacity="0.200"/><stop offset="0.800" stop-color="red" stop-opacity="0.200"/><stop offset="0.850" stop-color="red" stop-opacity="0.200"/><stop offset="0.925" stop-color="red" stop-opacity="0.200"/><stop offset="1.000" stop-color="red" stop-opacity="0.200"/></linearGradient><linearGradient id="bg45" gradientUnits="userSpaceOnUse" x1="1" y1="0" x2="0" y2="1"><stop offset="0.000" stop-color="red" stop-opacity="0.080"/><stop offset="0.075" stop-color="red" stop-opacity="0.080"/><stop offset="0.150" stop-color="red" stop-opacity="0.080"/><stop offset="0.200" stop-color="red" stop-opacity="0.080"/><stop offset="0.250" stop-color="red" stop-opacity="0.087"/><stop offset="0.300" stop-color="red" stop-opacity="0.119"/><stop offset="0.325" stop-color="red" stop-opacity="0.136"/><stop offset="0.350" stop-color="red" stop-opacity="0.152"/><stop offset="0.375" stop-color="red" stop-opacity="0.168"/><stop offset="0.400" stop-color="red" stop-opacity="0.185"/><stop offset="0.420" stop-color="red" stop-opacity="0.198"/><stop offset="0.435" stop-color="red" stop-opacity="0.208"/><stop offset="0.450" stop-color="red" stop-opacity="0.217"/><stop offset="0.460" stop-color="red" stop-opacity="0.224"/><stop offset="0.470" stop-color="red" stop-opacity="0.230"/><stop offset="0.477" stop-color="red" stop-opacity="0.235"/><stop offset="0.485" stop-color="red" stop-opacity="0.240"/><stop offset="0.490" stop-color="red" stop-opacity="0.243"/><stop offset="0.495" stop-color="red" stop-opacity="0.247"/><stop offset="0.497" stop-color="red" stop-opacity="0.248"/><stop offset="0.500" stop-color="red" stop-opacity="0.250"/><stop offset="0.502" stop-color="red" stop-opacity="0.248"/><stop offset="0.505" stop-color="red" stop-opacity="0.247"/><stop offset="0.510" stop-color="red" stop-opacity="0.243"/><stop offset="0.515" stop-color="red" stop-opacity="0.240"/><stop offset="0.522" stop-color="red" stop-opacity="0.235"/><stop offset="0.530" stop-color="red" stop-opacity="0.230"/><stop offset="0.540" stop-color="red" stop-opacity="0.224"/><stop offset="0.550" stop-color="red" stop-opacity="0.217"/><stop offset="0.565" stop-color="red" stop-opacity="0.208"/><stop offset="0.580" stop-color="red" stop-opacity="0.198"/><stop offset="0.600" stop-color="red" stop-opacity="0.185"/><stop offset="0.625" stop-color="red" stop-opacity="0.168"/><stop offset="0.650" stop-color="red" stop-opacity="0.152"/><stop offset="0.675" stop-color="red" stop-opacity="0.136"/><stop offset="0.700" stop-color="red" stop-opacity="0.119"/><stop offset="0.750" stop-color="red" stop-opacity="0.087"/><stop offset="0.800" stop-color="red" stop-opacity="0.080"/><stop offset="0.850" stop-color="red" stop-opacity="0.080"/><stop offset="0.925" stop-color="red" stop-opacity="0.080"/><stop offset="1.000" stop-color="red" stop-opacity="0.080"/></linearGradient><linearGradient id="bg46" gradientUnits="userSpaceOnUse" x1="1" y1="0" x2="0" y2="1"><stop offset="0.000" stop-color="red" stop-opacity="0.300"/><stop offset="0.075" stop-color="red" stop-opacity="0.300"/><stop offset="0.150" stop-color="red" stop-opacity="0.300"/><stop offset="0.200" stop-color="red" stop-opacity="0.300"/><stop offset="0.250" stop-color="red" stop-opacity="0.300"/><stop offset="0.300" stop-color="red" stop-opacity="0.300"/><stop offset="0.325" stop-color="red" stop-opacity="0.300"/><stop offset="0.350" stop-color="red" stop-opacity="0.316"/><stop offset="0.375" stop-color="red" stop-opacity="0.355"/><stop offset="0.400" stop-color="red" stop-opacity="0.394"/><stop offset="0.420" stop-color="red" stop-opacity="0.425"/><stop offset="0.435" stop-color="red" stop-opacity="0.448"/><stop offset="0.450" stop-color="red" stop-opacity="0.472"/><stop offset="0.460" stop-color="red" stop-opacity="0.488"/><stop offset="0.470" stop-color="red" stop-opacity="0.503"/><stop offset="0.477" stop-color="red" stop-opacity="0.515"/><stop offset="0.485" stop-color="red" stop-opacity="0.527"/><stop offset="0.490" stop-color="red" stop-opacity="0.534"/><stop offset="0.495" stop-color="red" stop-opacity="0.542"/><stop offset="0.497" stop-color="red" stop-opacity="0.546"/><stop offset="0.500" stop-color="red" stop-opacity="0.550"/><stop offset="0.502" stop-color="red" stop-opacity="0.546"/><stop offset="0.505" stop-color="red" stop-opacity="0.542"/><stop offset="0.510" stop-color="red" stop-opacity="0.534"/><stop offset="0.515" stop-color="red" stop-opacity="0.527"/><stop offset="0.522" stop-color="red" stop-opacity="0.515"/><stop offset="0.530" stop-color="red" stop-opacity="0.503"/><stop offset="0.540" stop-color="red" stop-opacity="0.488"/><stop offset="0.550" stop-color="red" stop-opacity="0.472"/><stop offset="0.565" stop-color="red" stop-opacity="0.448"/><stop offset="0.580" stop-color="red" stop-opacity="0.425"/><stop offset="0.600" stop-color="red" stop-opacity="0.394"/><stop offset="0.625" stop-color="red" stop-opacity="0.355"/><stop offset="0.650" stop-color="red" stop-opacity="0.316"/><stop offset="0.675" stop-color="red" stop-opacity="0.300"/><stop offset="0.700" stop-color="red" stop-opacity="0.300"/><stop offset="0.750" stop-color="red" stop-opacity="0.300"/><stop offset="0.800" stop-color="red" stop-opacity="0.300"/><stop offset="0.850" stop-color="red" stop-opacity="0.300"/><stop offset="0.925" stop-color="red" stop-opacity="0.300"/><stop offset="1.000" stop-color="red" stop-opacity="0.300"/></linearGradient><linearGradient id="bg47" gradientUnits="userSpaceOnUse" x1="1" y1="0" x2="0" y2="1"><stop offset="0.000" stop-color="red" stop-opacity="0.000"/><stop offset="0.075" stop-color="red" stop-opacity="0.000"/><stop offset="0.150" stop-color="red" stop-opacity="0.000"/><stop offset="0.200" stop-color="red" stop-opacity="0.000"/><stop offset="0.250" stop-color="red" stop-opacity="0.000"/><stop offset="0.300" stop-color="red" stop-opacity="0.000"/><stop offset="0.325" stop-color="red" stop-opacity="0.000"/><stop offset="0.350" stop-color="red" stop-opacity="0.001"/><stop offset="0.375" stop-color="red" stop-opacity="0.003"/><stop offset="0.400" stop-color="red" stop-opacity="0.008"/><stop offset="0.420" stop-color="red" stop-opacity="0.017"/><stop offset="0.435" stop-color="red" stop-opacity="0.031"/><stop offset="0.450" stop-color="red" stop-opacity="0.059"/><stop offset="0.460" stop-color="red" stop-opacity="0.102"/><stop offset="0.470" stop-color="red" stop-opacity="0.219"/><stop offset="0.477" stop-color="red" stop-opacity="0.405"/><stop offset="0.485" stop-color="red" stop-opacity="0.669"/><stop offset="0.490" stop-color="red" stop-opacity="0.841"/><stop offset="0.495" stop-color="red" stop-opacity="0.960"/><stop offset="0.497" stop-color="red" stop-opacity="0.990"/><stop offset="0.500" stop-color="red" stop-opacity="1.000"/><stop offset="0.502" stop-color="red" stop-opacity="0.990"/><stop offset="0.505" stop-color="red" stop-opacity="0.960"/><stop offset="0.510" stop-color="red" stop-opacity="0.841"/><stop offset="0.515" stop-color="red" stop-opacity="0.669"/><stop offset="0.522" stop-color="red" stop-opacity="0.405"/><stop offset="0.530" stop-color="red" stop-opacity="0.219"/><stop offset="0.540" stop-color="red" stop-opacity="0.102"/><stop offset="0.550" stop-color="red" stop-opacity="0.059"/><stop offset="0.565" stop-color="red" stop-opacity="0.031"/><stop offset="0.580" stop-color="red" stop-opacity="0.017"/><stop offset="0.600" stop-color="red" stop-opacity="0.008"/><stop offset="0.625" stop-color="red" stop-opacity="0.003"/><stop offset="0.650" stop-color="red" stop-opacity="0.001"/><stop offset="0.675" stop-color="red" stop-opacity="0.000"/><stop offset="0.700" stop-color="red" stop-opacity="0.000"/><stop offset="0.750" stop-color="red" stop-opacity="0.000"/><stop offset="0.800" stop-color="red" stop-opacity="0.000"/><stop offset="0.850" stop-color="red" stop-opacity="0.000"/><stop offset="0.925" stop-color="red" stop-opacity="0.000"/><stop offset="1.000" stop-color="red" stop-opacity="0.000"/></linearGradient><linearGradient id="bg48" gradientUnits="userSpaceOnUse" x1="1" y1="0" x2="0" y2="1"><stop offset="0.000" stop-color="red" stop-opacity="0.000"/><stop offset="0.075" stop-color="red" stop-opacity="0.000"/><stop offset="0.150" stop-color="red" stop-opacity="0.000"/><stop offset="0.200" stop-color="red" stop-opacity="0.000"/><stop offset="0.250" stop-color="red" stop-opacity="0.000"/><stop offset="0.300" stop-color="red" stop-opacity="0.000"/><stop offset="0.325" stop-color="red" stop-opacity="0.000"/><stop offset="0.350" stop-color="red" stop-opacity="0.000"/><stop offset="0.375" stop-color="red" stop-opacity="0.000"/><stop offset="0.400" stop-color="red" stop-opacity="0.000"/><stop offset="0.420" stop-color="red" stop-opacity="0.000"/><stop offset="0.435" stop-color="red" stop-opacity="0.000"/><stop offset="0.450" stop-color="red" stop-opacity="0.000"/><stop offset="0.460" stop-color="red" stop-opacity="0.000"/><stop offset="0.470" stop-color="red" stop-opacity="0.001"/><stop offset="0.477" stop-color="red" stop-opacity="0.014"/><stop offset="0.485" stop-color="red" stop-opacity="0.140"/><stop offset="0.490" stop-color="red" stop-opacity="0.394"/><stop offset="0.495" stop-color="red" stop-opacity="0.732"/><stop offset="0.497" stop-color="red" stop-opacity="0.855"/><stop offset="0.500" stop-color="red" stop-opacity="0.900"/><stop offset="0.502" stop-color="red" stop-opacity="0.855"/><stop offset="0.505" stop-color="red" stop-opacity="0.732"/><stop offset="0.510" stop-color="red" stop-opacity="0.394"/><stop offset="0.515" stop-color="red" stop-opacity="0.140"/><stop offset="0.522" stop-color="red" stop-opacity="0.014"/><stop offset="0.530" stop-color="red" stop-opacity="0.001"/><stop offset="0.540" stop-color="red" stop-opacity="0.000"/><stop offset="0.550" stop-color="red" stop-opacity="0.000"/><stop offset="0.565" stop-color="red" stop-opacity="0.000"/><stop offset="0.580" stop-color="red" stop-opacity="0.000"/><stop offset="0.600" stop-color="red" stop-opacity="0.000"/><stop offset="0.625" stop-color="red" stop-opacity="0.000"/><stop offset="0.650" stop-color="red" stop-opacity="0.000"/><stop offset="0.675" stop-color="red" stop-opacity="0.000"/><stop offset="0.700" stop-color="red" stop-opacity="0.000"/><stop offset="0.750" stop-color="red" stop-opacity="0.000"/><stop offset="0.800" stop-color="red" stop-opacity="0.000"/><stop offset="0.850" stop-color="red" stop-opacity="0.000"/><stop offset="0.925" stop-color="red" stop-opacity="0.000"/><stop offset="1.000" stop-color="red" stop-opacity="0.000"/></linearGradient><filter id="spk49" x="0" y="0" width="1" height="1" color-interpolation-filters="sRGB">
<feGaussianBlur in="SourceGraphic" stdDeviation="0.8" result="sb"/>
<feComponentTransfer in="sb" result="sg"><feFuncA type="table" tableValues="0.000 0.127 0.175 0.212 0.248 0.277 0.303 0.330 0.353 0.372 0.393 0.413 0.430 0.447 0.466 0.484 0.502 0.520 0.538 0.556 0.573 0.591 0.610 0.630 0.653 0.676 0.701 0.727 0.755 0.790 0.828 0.878 1.000"/></feComponentTransfer>
<feTurbulence type="fractalNoise" baseFrequency="0.47" numOctaves="2" seed="65" result="n"/>
<feColorMatrix in="n" type="matrix" values="0 0 0 0 0  0 0 0 0 0  0 0 0 0 0  1 0 0 0 0" result="na0"/>
<feComponentTransfer in="na0" result="na"><feFuncA type="table" tableValues="0.000 0.000 0.000 0.000 0.000 0.000 0.002 0.006 0.014 0.032 0.059 0.098 0.150 0.216 0.297 0.392 0.495 0.611 0.706 0.785 0.849 0.901 0.939 0.967 0.984 0.994 0.998 0.999 1.000 1.000 1.000 1.000 1.000"/></feComponentTransfer>
<feComposite in="sg" in2="na" operator="arithmetic" k1="0" k2="1.7692307692307692" k3="1" k4="-1" result="s"/>
<feComponentTransfer in="s" result="t"><feFuncA type="linear" slope="1.3" intercept="0"/></feComponentTransfer>
<feFlood flood-color="#f00"/>
<feComposite in2="t" operator="in" result="c"/>
<feGaussianBlur in="c" stdDeviation="0.7"/>
</filter><clipPath id="cl50"><rect x="0" y="0" width="263.09999999999997" height="226.39999999999986"/></clipPath><filter id="spk51" x="0" y="0" width="1" height="1" color-interpolation-filters="sRGB">
<feGaussianBlur in="SourceGraphic" stdDeviation="3" result="sb"/>
<feComponentTransfer in="sb" result="sg"><feFuncA type="table" tableValues="0.000 0.127 0.175 0.212 0.248 0.277 0.303 0.330 0.353 0.372 0.393 0.413 0.430 0.447 0.466 0.484 0.502 0.520 0.538 0.556 0.573 0.591 0.610 0.630 0.653 0.676 0.701 0.727 0.755 0.790 0.828 0.878 1.000"/></feComponentTransfer>
<feTurbulence type="fractalNoise" baseFrequency="0.47" numOctaves="2" seed="16" result="n"/>
<feColorMatrix in="n" type="matrix" values="0 0 0 0 0  0 0 0 0 0  0 0 0 0 0  1 0 0 0 0" result="na0"/>
<feComponentTransfer in="na0" result="na"><feFuncA type="table" tableValues="0.000 0.000 0.000 0.000 0.000 0.000 0.002 0.006 0.014 0.032 0.059 0.098 0.150 0.216 0.297 0.392 0.495 0.611 0.706 0.785 0.849 0.901 0.939 0.967 0.984 0.994 0.998 0.999 1.000 1.000 1.000 1.000 1.000"/></feComponentTransfer>
<feComposite in="sg" in2="na" operator="arithmetic" k1="0" k2="1.7692307692307692" k3="1" k4="-1" result="s"/>
<feComponentTransfer in="s" result="t"><feFuncA type="linear" slope="1.3" intercept="0"/></feComponentTransfer>
<feFlood flood-color="#f00"/>
<feComposite in2="t" operator="in" result="c"/>
<feGaussianBlur in="c" stdDeviation="0.7"/>
</filter><linearGradient id="bg52" gradientUnits="userSpaceOnUse" x1="1" y1="0" x2="0" y2="1"><stop offset="0.000" stop-color="red" stop-opacity="0.350"/><stop offset="0.075" stop-color="red" stop-opacity="0.350"/><stop offset="0.150" stop-color="red" stop-opacity="0.350"/><stop offset="0.200" stop-color="red" stop-opacity="0.350"/><stop offset="0.250" stop-color="red" stop-opacity="0.350"/><stop offset="0.300" stop-color="red" stop-opacity="0.350"/><stop offset="0.325" stop-color="red" stop-opacity="0.350"/><stop offset="0.350" stop-color="red" stop-opacity="0.350"/><stop offset="0.375" stop-color="red" stop-opacity="0.350"/><stop offset="0.400" stop-color="red" stop-opacity="0.350"/><stop offset="0.420" stop-color="red" stop-opacity="0.350"/><stop offset="0.435" stop-color="red" stop-opacity="0.350"/><stop offset="0.450" stop-color="red" stop-opacity="0.375"/><stop offset="0.460" stop-color="red" stop-opacity="0.400"/><stop offset="0.470" stop-color="red" stop-opacity="0.425"/><stop offset="0.477" stop-color="red" stop-opacity="0.444"/><stop offset="0.485" stop-color="red" stop-opacity="0.463"/><stop offset="0.490" stop-color="red" stop-opacity="0.475"/><stop offset="0.495" stop-color="red" stop-opacity="0.487"/><stop offset="0.497" stop-color="red" stop-opacity="0.494"/><stop offset="0.500" stop-color="red" stop-opacity="0.500"/><stop offset="0.502" stop-color="red" stop-opacity="0.494"/><stop offset="0.505" stop-color="red" stop-opacity="0.487"/><stop offset="0.510" stop-color="red" stop-opacity="0.475"/><stop offset="0.515" stop-color="red" stop-opacity="0.463"/><stop offset="0.522" stop-color="red" stop-opacity="0.444"/><stop offset="0.530" stop-color="red" stop-opacity="0.425"/><stop offset="0.540" stop-color="red" stop-opacity="0.400"/><stop offset="0.550" stop-color="red" stop-opacity="0.375"/><stop offset="0.565" stop-color="red" stop-opacity="0.350"/><stop offset="0.580" stop-color="red" stop-opacity="0.350"/><stop offset="0.600" stop-color="red" stop-opacity="0.350"/><stop offset="0.625" stop-color="red" stop-opacity="0.350"/><stop offset="0.650" stop-color="red" stop-opacity="0.350"/><stop offset="0.675" stop-color="red" stop-opacity="0.350"/><stop offset="0.700" stop-color="red" stop-opacity="0.350"/><stop offset="0.750" stop-color="red" stop-opacity="0.350"/><stop offset="0.800" stop-color="red" stop-opacity="0.350"/><stop offset="0.850" stop-color="red" stop-opacity="0.350"/><stop offset="0.925" stop-color="red" stop-opacity="0.350"/><stop offset="1.000" stop-color="red" stop-opacity="0.350"/></linearGradient><linearGradient id="bg53" gradientUnits="userSpaceOnUse" x1="1" y1="0" x2="0" y2="1"><stop offset="0.000" stop-color="red" stop-opacity="0.120"/><stop offset="0.075" stop-color="red" stop-opacity="0.120"/><stop offset="0.150" stop-color="red" stop-opacity="0.120"/><stop offset="0.200" stop-color="red" stop-opacity="0.120"/><stop offset="0.250" stop-color="red" stop-opacity="0.120"/><stop offset="0.300" stop-color="red" stop-opacity="0.120"/><stop offset="0.325" stop-color="red" stop-opacity="0.120"/><stop offset="0.350" stop-color="red" stop-opacity="0.120"/><stop offset="0.375" stop-color="red" stop-opacity="0.133"/><stop offset="0.400" stop-color="red" stop-opacity="0.196"/><stop offset="0.420" stop-color="red" stop-opacity="0.247"/><stop offset="0.435" stop-color="red" stop-opacity="0.285"/><stop offset="0.450" stop-color="red" stop-opacity="0.323"/><stop offset="0.460" stop-color="red" stop-opacity="0.348"/><stop offset="0.470" stop-color="red" stop-opacity="0.374"/><stop offset="0.477" stop-color="red" stop-opacity="0.393"/><stop offset="0.485" stop-color="red" stop-opacity="0.412"/><stop offset="0.490" stop-color="red" stop-opacity="0.425"/><stop offset="0.495" stop-color="red" stop-opacity="0.437"/><stop offset="0.497" stop-color="red" stop-opacity="0.444"/><stop offset="0.500" stop-color="red" stop-opacity="0.450"/><stop offset="0.502" stop-color="red" stop-opacity="0.444"/><stop offset="0.505" stop-color="red" stop-opacity="0.437"/><stop offset="0.510" stop-color="red" stop-opacity="0.425"/><stop offset="0.515" stop-color="red" stop-opacity="0.412"/><stop offset="0.522" stop-color="red" stop-opacity="0.393"/><stop offset="0.530" stop-color="red" stop-opacity="0.374"/><stop offset="0.540" stop-color="red" stop-opacity="0.348"/><stop offset="0.550" stop-color="red" stop-opacity="0.323"/><stop offset="0.565" stop-color="red" stop-opacity="0.285"/><stop offset="0.580" stop-color="red" stop-opacity="0.247"/><stop offset="0.600" stop-color="red" stop-opacity="0.196"/><stop offset="0.625" stop-color="red" stop-opacity="0.133"/><stop offset="0.650" stop-color="red" stop-opacity="0.120"/><stop offset="0.675" stop-color="red" stop-opacity="0.120"/><stop offset="0.700" stop-color="red" stop-opacity="0.120"/><stop offset="0.750" stop-color="red" stop-opacity="0.120"/><stop offset="0.800" stop-color="red" stop-opacity="0.120"/><stop offset="0.850" stop-color="red" stop-opacity="0.120"/><stop offset="0.925" stop-color="red" stop-opacity="0.120"/><stop offset="1.000" stop-color="red" stop-opacity="0.120"/></linearGradient><linearGradient id="bg54" gradientUnits="userSpaceOnUse" x1="1" y1="0" x2="0" y2="1"><stop offset="0.000" stop-color="red" stop-opacity="0.080"/><stop offset="0.075" stop-color="red" stop-opacity="0.080"/><stop offset="0.150" stop-color="red" stop-opacity="0.080"/><stop offset="0.200" stop-color="red" stop-opacity="0.080"/><stop offset="0.250" stop-color="red" stop-opacity="0.088"/><stop offset="0.300" stop-color="red" stop-opacity="0.126"/><stop offset="0.325" stop-color="red" stop-opacity="0.145"/><stop offset="0.350" stop-color="red" stop-opacity="0.165"/><stop offset="0.375" stop-color="red" stop-opacity="0.184"/><stop offset="0.400" stop-color="red" stop-opacity="0.203"/><stop offset="0.420" stop-color="red" stop-opacity="0.218"/><stop offset="0.435" stop-color="red" stop-opacity="0.230"/><stop offset="0.450" stop-color="red" stop-opacity="0.242"/><stop offset="0.460" stop-color="red" stop-opacity="0.249"/><stop offset="0.470" stop-color="red" stop-opacity="0.257"/><stop offset="0.477" stop-color="red" stop-opacity="0.263"/><stop offset="0.485" stop-color="red" stop-opacity="0.268"/><stop offset="0.490" stop-color="red" stop-opacity="0.272"/><stop offset="0.495" stop-color="red" stop-opacity="0.276"/><stop offset="0.497" stop-color="red" stop-opacity="0.278"/><stop offset="0.500" stop-color="red" stop-opacity="0.280"/><stop offset="0.502" stop-color="red" stop-opacity="0.278"/><stop offset="0.505" stop-color="red" stop-opacity="0.276"/><stop offset="0.510" stop-color="red" stop-opacity="0.272"/><stop offset="0.515" stop-color="red" stop-opacity="0.268"/><stop offset="0.522" stop-color="red" stop-opacity="0.263"/><stop offset="0.530" stop-color="red" stop-opacity="0.257"/><stop offset="0.540" stop-color="red" stop-opacity="0.249"/><stop offset="0.550" stop-color="red" stop-opacity="0.242"/><stop offset="0.565" stop-color="red" stop-opacity="0.230"/><stop offset="0.580" stop-color="red" stop-opacity="0.218"/><stop offset="0.600" stop-color="red" stop-opacity="0.203"/><stop offset="0.625" stop-color="red" stop-opacity="0.184"/><stop offset="0.650" stop-color="red" stop-opacity="0.165"/><stop offset="0.675" stop-color="red" stop-opacity="0.145"/><stop offset="0.700" stop-color="red" stop-opacity="0.126"/><stop offset="0.750" stop-color="red" stop-opacity="0.088"/><stop offset="0.800" stop-color="red" stop-opacity="0.080"/><stop offset="0.850" stop-color="red" stop-opacity="0.080"/><stop offset="0.925" stop-color="red" stop-opacity="0.080"/><stop offset="1.000" stop-color="red" stop-opacity="0.080"/></linearGradient><linearGradient id="bg55" gradientUnits="userSpaceOnUse" x1="1" y1="0" x2="0" y2="1"><stop offset="0.000" stop-color="red" stop-opacity="0.300"/><stop offset="0.075" stop-color="red" stop-opacity="0.300"/><stop offset="0.150" stop-color="red" stop-opacity="0.300"/><stop offset="0.200" stop-color="red" stop-opacity="0.300"/><stop offset="0.250" stop-color="red" stop-opacity="0.300"/><stop offset="0.300" stop-color="red" stop-opacity="0.300"/><stop offset="0.325" stop-color="red" stop-opacity="0.300"/><stop offset="0.350" stop-color="red" stop-opacity="0.316"/><stop offset="0.375" stop-color="red" stop-opacity="0.355"/><stop offset="0.400" stop-color="red" stop-opacity="0.394"/><stop offset="0.420" stop-color="red" stop-opacity="0.425"/><stop offset="0.435" stop-color="red" stop-opacity="0.448"/><stop offset="0.450" stop-color="red" stop-opacity="0.472"/><stop offset="0.460" stop-color="red" stop-opacity="0.488"/><stop offset="0.470" stop-color="red" stop-opacity="0.503"/><stop offset="0.477" stop-color="red" stop-opacity="0.515"/><stop offset="0.485" stop-color="red" stop-opacity="0.527"/><stop offset="0.490" stop-color="red" stop-opacity="0.534"/><stop offset="0.495" stop-color="red" stop-opacity="0.542"/><stop offset="0.497" stop-color="red" stop-opacity="0.546"/><stop offset="0.500" stop-color="red" stop-opacity="0.550"/><stop offset="0.502" stop-color="red" stop-opacity="0.546"/><stop offset="0.505" stop-color="red" stop-opacity="0.542"/><stop offset="0.510" stop-color="red" stop-opacity="0.534"/><stop offset="0.515" stop-color="red" stop-opacity="0.527"/><stop offset="0.522" stop-color="red" stop-opacity="0.515"/><stop offset="0.530" stop-color="red" stop-opacity="0.503"/><stop offset="0.540" stop-color="red" stop-opacity="0.488"/><stop offset="0.550" stop-color="red" stop-opacity="0.472"/><stop offset="0.565" stop-color="red" stop-opacity="0.448"/><stop offset="0.580" stop-color="red" stop-opacity="0.425"/><stop offset="0.600" stop-color="red" stop-opacity="0.394"/><stop offset="0.625" stop-color="red" stop-opacity="0.355"/><stop offset="0.650" stop-color="red" stop-opacity="0.316"/><stop offset="0.675" stop-color="red" stop-opacity="0.300"/><stop offset="0.700" stop-color="red" stop-opacity="0.300"/><stop offset="0.750" stop-color="red" stop-opacity="0.300"/><stop offset="0.800" stop-color="red" stop-opacity="0.300"/><stop offset="0.850" stop-color="red" stop-opacity="0.300"/><stop offset="0.925" stop-color="red" stop-opacity="0.300"/><stop offset="1.000" stop-color="red" stop-opacity="0.300"/></linearGradient><linearGradient id="bg56" gradientUnits="userSpaceOnUse" x1="1" y1="0" x2="0" y2="1"><stop offset="0.000" stop-color="red" stop-opacity="0.000"/><stop offset="0.075" stop-color="red" stop-opacity="0.000"/><stop offset="0.150" stop-color="red" stop-opacity="0.000"/><stop offset="0.200" stop-color="red" stop-opacity="0.000"/><stop offset="0.250" stop-color="red" stop-opacity="0.000"/><stop offset="0.300" stop-color="red" stop-opacity="0.001"/><stop offset="0.325" stop-color="red" stop-opacity="0.001"/><stop offset="0.350" stop-color="red" stop-opacity="0.003"/><stop offset="0.375" stop-color="red" stop-opacity="0.007"/><stop offset="0.400" stop-color="red" stop-opacity="0.016"/><stop offset="0.420" stop-color="red" stop-opacity="0.031"/><stop offset="0.435" stop-color="red" stop-opacity="0.052"/><stop offset="0.450" stop-color="red" stop-opacity="0.092"/><stop offset="0.460" stop-color="red" stop-opacity="0.156"/><stop offset="0.470" stop-color="red" stop-opacity="0.307"/><stop offset="0.477" stop-color="red" stop-opacity="0.502"/><stop offset="0.485" stop-color="red" stop-opacity="0.739"/><stop offset="0.490" stop-color="red" stop-opacity="0.879"/><stop offset="0.495" stop-color="red" stop-opacity="0.970"/><stop offset="0.497" stop-color="red" stop-opacity="0.993"/><stop offset="0.500" stop-color="red" stop-opacity="1.000"/><stop offset="0.502" stop-color="red" stop-opacity="0.993"/><stop offset="0.505" stop-color="red" stop-opacity="0.970"/><stop offset="0.510" stop-color="red" stop-opacity="0.879"/><stop offset="0.515" stop-color="red" stop-opacity="0.739"/><stop offset="0.522" stop-color="red" stop-opacity="0.502"/><stop offset="0.530" stop-color="red" stop-opacity="0.307"/><stop offset="0.540" stop-color="red" stop-opacity="0.156"/><stop offset="0.550" stop-color="red" stop-opacity="0.092"/><stop offset="0.565" stop-color="red" stop-opacity="0.052"/><stop offset="0.580" stop-color="red" stop-opacity="0.031"/><stop offset="0.600" stop-color="red" stop-opacity="0.016"/><stop offset="0.625" stop-color="red" stop-opacity="0.007"/><stop offset="0.650" stop-color="red" stop-opacity="0.003"/><stop offset="0.675" stop-color="red" stop-opacity="0.001"/><stop offset="0.700" stop-color="red" stop-opacity="0.001"/><stop offset="0.750" stop-color="red" stop-opacity="0.000"/><stop offset="0.800" stop-color="red" stop-opacity="0.000"/><stop offset="0.850" stop-color="red" stop-opacity="0.000"/><stop offset="0.925" stop-color="red" stop-opacity="0.000"/><stop offset="1.000" stop-color="red" stop-opacity="0.000"/></linearGradient><linearGradient id="bg57" gradientUnits="userSpaceOnUse" x1="1" y1="0" x2="0" y2="1"><stop offset="0.000" stop-color="red" stop-opacity="0.000"/><stop offset="0.075" stop-color="red" stop-opacity="0.000"/><stop offset="0.150" stop-color="red" stop-opacity="0.000"/><stop offset="0.200" stop-color="red" stop-opacity="0.000"/><stop offset="0.250" stop-color="red" stop-opacity="0.000"/><stop offset="0.300" stop-color="red" stop-opacity="0.000"/><stop offset="0.325" stop-color="red" stop-opacity="0.000"/><stop offset="0.350" stop-color="red" stop-opacity="0.000"/><stop offset="0.375" stop-color="red" stop-opacity="0.000"/><stop offset="0.400" stop-color="red" stop-opacity="0.000"/><stop offset="0.420" stop-color="red" stop-opacity="0.000"/><stop offset="0.435" stop-color="red" stop-opacity="0.000"/><stop offset="0.450" stop-color="red" stop-opacity="0.000"/><stop offset="0.460" stop-color="red" stop-opacity="0.000"/><stop offset="0.470" stop-color="red" stop-opacity="0.001"/><stop offset="0.477" stop-color="red" stop-opacity="0.014"/><stop offset="0.485" stop-color="red" stop-opacity="0.140"/><stop offset="0.490" stop-color="red" stop-opacity="0.394"/><stop offset="0.495" stop-color="red" stop-opacity="0.732"/><stop offset="0.497" stop-color="red" stop-opacity="0.855"/><stop offset="0.500" stop-color="red" stop-opacity="0.900"/><stop offset="0.502" stop-color="red" stop-opacity="0.855"/><stop offset="0.505" stop-color="red" stop-opacity="0.732"/><stop offset="0.510" stop-color="red" stop-opacity="0.394"/><stop offset="0.515" stop-color="red" stop-opacity="0.140"/><stop offset="0.522" stop-color="red" stop-opacity="0.014"/><stop offset="0.530" stop-color="red" stop-opacity="0.001"/><stop offset="0.540" stop-color="red" stop-opacity="0.000"/><stop offset="0.550" stop-color="red" stop-opacity="0.000"/><stop offset="0.565" stop-color="red" stop-opacity="0.000"/><stop offset="0.580" stop-color="red" stop-opacity="0.000"/><stop offset="0.600" stop-color="red" stop-opacity="0.000"/><stop offset="0.625" stop-color="red" stop-opacity="0.000"/><stop offset="0.650" stop-color="red" stop-opacity="0.000"/><stop offset="0.675" stop-color="red" stop-opacity="0.000"/><stop offset="0.700" stop-color="red" stop-opacity="0.000"/><stop offset="0.750" stop-color="red" stop-opacity="0.000"/><stop offset="0.800" stop-color="red" stop-opacity="0.000"/><stop offset="0.850" stop-color="red" stop-opacity="0.000"/><stop offset="0.925" stop-color="red" stop-opacity="0.000"/><stop offset="1.000" stop-color="red" stop-opacity="0.000"/></linearGradient><filter id="spk58" x="0" y="0" width="1" height="1" color-interpolation-filters="sRGB">
<feGaussianBlur in="SourceGraphic" stdDeviation="0.8" result="sb"/>
<feComponentTransfer in="sb" result="sg"><feFuncA type="table" tableValues="0.000 0.127 0.175 0.212 0.248 0.277 0.303 0.330 0.353 0.372 0.393 0.413 0.430 0.447 0.466 0.484 0.502 0.520 0.538 0.556 0.573 0.591 0.610 0.630 0.653 0.676 0.701 0.727 0.755 0.790 0.828 0.878 1.000"/></feComponentTransfer>
<feTurbulence type="fractalNoise" baseFrequency="0.47" numOctaves="2" seed="66" result="n"/>
<feColorMatrix in="n" type="matrix" values="0 0 0 0 0  0 0 0 0 0  0 0 0 0 0  1 0 0 0 0" result="na0"/>
<feComponentTransfer in="na0" result="na"><feFuncA type="table" tableValues="0.000 0.000 0.000 0.000 0.000 0.000 0.002 0.006 0.014 0.032 0.059 0.098 0.150 0.216 0.297 0.392 0.495 0.611 0.706 0.785 0.849 0.901 0.939 0.967 0.984 0.994 0.998 0.999 1.000 1.000 1.000 1.000 1.000"/></feComponentTransfer>
<feComposite in="sg" in2="na" operator="arithmetic" k1="0" k2="1.7692307692307692" k3="1" k4="-1" result="s"/>
<feComponentTransfer in="s" result="t"><feFuncA type="linear" slope="1.3" intercept="0"/></feComponentTransfer>
<feFlood flood-color="#f00"/>
<feComposite in2="t" operator="in" result="c"/>
<feGaussianBlur in="c" stdDeviation="0.7"/>
</filter><clipPath id="cl59"><rect x="0" y="0" width="242.5999999999999" height="225.5"/></clipPath><filter id="spk60" x="0" y="0" width="1" height="1" color-interpolation-filters="sRGB">
<feGaussianBlur in="SourceGraphic" stdDeviation="5.5" result="sb"/>
<feComponentTransfer in="sb" result="sg"><feFuncA type="table" tableValues="0.000 0.127 0.175 0.212 0.248 0.277 0.303 0.330 0.353 0.372 0.393 0.413 0.430 0.447 0.466 0.484 0.502 0.520 0.538 0.556 0.573 0.591 0.610 0.630 0.653 0.676 0.701 0.727 0.755 0.790 0.828 0.878 1.000"/></feComponentTransfer>
<feTurbulence type="fractalNoise" baseFrequency="0.47" numOctaves="2" seed="17" result="n"/>
<feColorMatrix in="n" type="matrix" values="0 0 0 0 0  0 0 0 0 0  0 0 0 0 0  1 0 0 0 0" result="na0"/>
<feComponentTransfer in="na0" result="na"><feFuncA type="table" tableValues="0.000 0.000 0.000 0.000 0.000 0.000 0.002 0.006 0.014 0.032 0.059 0.098 0.150 0.216 0.297 0.392 0.495 0.611 0.706 0.785 0.849 0.901 0.939 0.967 0.984 0.994 0.998 0.999 1.000 1.000 1.000 1.000 1.000"/></feComponentTransfer>
<feComposite in="sg" in2="na" operator="arithmetic" k1="0" k2="1.7692307692307692" k3="1" k4="-1" result="s"/>
<feComponentTransfer in="s" result="t"><feFuncA type="linear" slope="1.3" intercept="0"/></feComponentTransfer>
<feFlood flood-color="#f00"/>
<feComposite in2="t" operator="in" result="c"/>
<feGaussianBlur in="c" stdDeviation="0.7"/>
</filter><linearGradient id="bg61" gradientUnits="userSpaceOnUse" x1="1" y1="0" x2="0" y2="1"><stop offset="0.000" stop-color="red" stop-opacity="0.550"/><stop offset="0.075" stop-color="red" stop-opacity="0.550"/><stop offset="0.150" stop-color="red" stop-opacity="0.550"/><stop offset="0.200" stop-color="red" stop-opacity="0.550"/><stop offset="0.250" stop-color="red" stop-opacity="0.550"/><stop offset="0.300" stop-color="red" stop-opacity="0.550"/><stop offset="0.325" stop-color="red" stop-opacity="0.550"/><stop offset="0.350" stop-color="red" stop-opacity="0.550"/><stop offset="0.375" stop-color="red" stop-opacity="0.550"/><stop offset="0.400" stop-color="red" stop-opacity="0.550"/><stop offset="0.420" stop-color="red" stop-opacity="0.572"/><stop offset="0.435" stop-color="red" stop-opacity="0.606"/><stop offset="0.450" stop-color="red" stop-opacity="0.639"/><stop offset="0.460" stop-color="red" stop-opacity="0.661"/><stop offset="0.470" stop-color="red" stop-opacity="0.683"/><stop offset="0.477" stop-color="red" stop-opacity="0.700"/><stop offset="0.485" stop-color="red" stop-opacity="0.717"/><stop offset="0.490" stop-color="red" stop-opacity="0.728"/><stop offset="0.495" stop-color="red" stop-opacity="0.739"/><stop offset="0.497" stop-color="red" stop-opacity="0.744"/><stop offset="0.500" stop-color="red" stop-opacity="0.750"/><stop offset="0.502" stop-color="red" stop-opacity="0.744"/><stop offset="0.505" stop-color="red" stop-opacity="0.739"/><stop offset="0.510" stop-color="red" stop-opacity="0.728"/><stop offset="0.515" stop-color="red" stop-opacity="0.717"/><stop offset="0.522" stop-color="red" stop-opacity="0.700"/><stop offset="0.530" stop-color="red" stop-opacity="0.683"/><stop offset="0.540" stop-color="red" stop-opacity="0.661"/><stop offset="0.550" stop-color="red" stop-opacity="0.639"/><stop offset="0.565" stop-color="red" stop-opacity="0.606"/><stop offset="0.580" stop-color="red" stop-opacity="0.572"/><stop offset="0.600" stop-color="red" stop-opacity="0.550"/><stop offset="0.625" stop-color="red" stop-opacity="0.550"/><stop offset="0.650" stop-color="red" stop-opacity="0.550"/><stop offset="0.675" stop-color="red" stop-opacity="0.550"/><stop offset="0.700" stop-color="red" stop-opacity="0.550"/><stop offset="0.750" stop-color="red" stop-opacity="0.550"/><stop offset="0.800" stop-color="red" stop-opacity="0.550"/><stop offset="0.850" stop-color="red" stop-opacity="0.550"/><stop offset="0.925" stop-color="red" stop-opacity="0.550"/><stop offset="1.000" stop-color="red" stop-opacity="0.550"/></linearGradient><linearGradient id="bg62" gradientUnits="userSpaceOnUse" x1="1" y1="0" x2="0" y2="1"><stop offset="0.000" stop-color="red" stop-opacity="0.100"/><stop offset="0.075" stop-color="red" stop-opacity="0.100"/><stop offset="0.150" stop-color="red" stop-opacity="0.100"/><stop offset="0.200" stop-color="red" stop-opacity="0.100"/><stop offset="0.250" stop-color="red" stop-opacity="0.100"/><stop offset="0.300" stop-color="red" stop-opacity="0.117"/><stop offset="0.325" stop-color="red" stop-opacity="0.158"/><stop offset="0.350" stop-color="red" stop-opacity="0.200"/><stop offset="0.375" stop-color="red" stop-opacity="0.242"/><stop offset="0.400" stop-color="red" stop-opacity="0.283"/><stop offset="0.420" stop-color="red" stop-opacity="0.317"/><stop offset="0.435" stop-color="red" stop-opacity="0.342"/><stop offset="0.450" stop-color="red" stop-opacity="0.367"/><stop offset="0.460" stop-color="red" stop-opacity="0.383"/><stop offset="0.470" stop-color="red" stop-opacity="0.400"/><stop offset="0.477" stop-color="red" stop-opacity="0.413"/><stop offset="0.485" stop-color="red" stop-opacity="0.425"/><stop offset="0.490" stop-color="red" stop-opacity="0.433"/><stop offset="0.495" stop-color="red" stop-opacity="0.442"/><stop offset="0.497" stop-color="red" stop-opacity="0.446"/><stop offset="0.500" stop-color="red" stop-opacity="0.450"/><stop offset="0.502" stop-color="red" stop-opacity="0.446"/><stop offset="0.505" stop-color="red" stop-opacity="0.442"/><stop offset="0.510" stop-color="red" stop-opacity="0.433"/><stop offset="0.515" stop-color="red" stop-opacity="0.425"/><stop offset="0.522" stop-color="red" stop-opacity="0.413"/><stop offset="0.530" stop-color="red" stop-opacity="0.400"/><stop offset="0.540" stop-color="red" stop-opacity="0.383"/><stop offset="0.550" stop-color="red" stop-opacity="0.367"/><stop offset="0.565" stop-color="red" stop-opacity="0.342"/><stop offset="0.580" stop-color="red" stop-opacity="0.317"/><stop offset="0.600" stop-color="red" stop-opacity="0.283"/><stop offset="0.625" stop-color="red" stop-opacity="0.242"/><stop offset="0.650" stop-color="red" stop-opacity="0.200"/><stop offset="0.675" stop-color="red" stop-opacity="0.158"/><stop offset="0.700" stop-color="red" stop-opacity="0.117"/><stop offset="0.750" stop-color="red" stop-opacity="0.100"/><stop offset="0.800" stop-color="red" stop-opacity="0.100"/><stop offset="0.850" stop-color="red" stop-opacity="0.100"/><stop offset="0.925" stop-color="red" stop-opacity="0.100"/><stop offset="1.000" stop-color="red" stop-opacity="0.100"/></linearGradient><linearGradient id="bg63" gradientUnits="userSpaceOnUse" x1="1" y1="0" x2="0" y2="1"><stop offset="0.000" stop-color="red" stop-opacity="0.250"/><stop offset="0.075" stop-color="red" stop-opacity="0.250"/><stop offset="0.150" stop-color="red" stop-opacity="0.250"/><stop offset="0.200" stop-color="red" stop-opacity="0.250"/><stop offset="0.250" stop-color="red" stop-opacity="0.250"/><stop offset="0.300" stop-color="red" stop-opacity="0.250"/><stop offset="0.325" stop-color="red" stop-opacity="0.250"/><stop offset="0.350" stop-color="red" stop-opacity="0.250"/><stop offset="0.375" stop-color="red" stop-opacity="0.250"/><stop offset="0.400" stop-color="red" stop-opacity="0.310"/><stop offset="0.420" stop-color="red" stop-opacity="0.358"/><stop offset="0.435" stop-color="red" stop-opacity="0.394"/><stop offset="0.450" stop-color="red" stop-opacity="0.430"/><stop offset="0.460" stop-color="red" stop-opacity="0.454"/><stop offset="0.470" stop-color="red" stop-opacity="0.478"/><stop offset="0.477" stop-color="red" stop-opacity="0.496"/><stop offset="0.485" stop-color="red" stop-opacity="0.514"/><stop offset="0.490" stop-color="red" stop-opacity="0.526"/><stop offset="0.495" stop-color="red" stop-opacity="0.538"/><stop offset="0.497" stop-color="red" stop-opacity="0.544"/><stop offset="0.500" stop-color="red" stop-opacity="0.550"/><stop offset="0.502" stop-color="red" stop-opacity="0.544"/><stop offset="0.505" stop-color="red" stop-opacity="0.538"/><stop offset="0.510" stop-color="red" stop-opacity="0.526"/><stop offset="0.515" stop-color="red" stop-opacity="0.514"/><stop offset="0.522" stop-color="red" stop-opacity="0.496"/><stop offset="0.530" stop-color="red" stop-opacity="0.478"/><stop offset="0.540" stop-color="red" stop-opacity="0.454"/><stop offset="0.550" stop-color="red" stop-opacity="0.430"/><stop offset="0.565" stop-color="red" stop-opacity="0.394"/><stop offset="0.580" stop-color="red" stop-opacity="0.358"/><stop offset="0.600" stop-color="red" stop-opacity="0.310"/><stop offset="0.625" stop-color="red" stop-opacity="0.250"/><stop offset="0.650" stop-color="red" stop-opacity="0.250"/><stop offset="0.675" stop-color="red" stop-opacity="0.250"/><stop offset="0.700" stop-color="red" stop-opacity="0.250"/><stop offset="0.750" stop-color="red" stop-opacity="0.250"/><stop offset="0.800" stop-color="red" stop-opacity="0.250"/><stop offset="0.850" stop-color="red" stop-opacity="0.250"/><stop offset="0.925" stop-color="red" stop-opacity="0.250"/><stop offset="1.000" stop-color="red" stop-opacity="0.250"/></linearGradient><linearGradient id="bg64" gradientUnits="userSpaceOnUse" x1="1" y1="0" x2="0" y2="1"><stop offset="0.000" stop-color="red" stop-opacity="0.550"/><stop offset="0.075" stop-color="red" stop-opacity="0.550"/><stop offset="0.150" stop-color="red" stop-opacity="0.550"/><stop offset="0.200" stop-color="red" stop-opacity="0.550"/><stop offset="0.250" stop-color="red" stop-opacity="0.550"/><stop offset="0.300" stop-color="red" stop-opacity="0.550"/><stop offset="0.325" stop-color="red" stop-opacity="0.550"/><stop offset="0.350" stop-color="red" stop-opacity="0.550"/><stop offset="0.375" stop-color="red" stop-opacity="0.550"/><stop offset="0.400" stop-color="red" stop-opacity="0.550"/><stop offset="0.420" stop-color="red" stop-opacity="0.572"/><stop offset="0.435" stop-color="red" stop-opacity="0.606"/><stop offset="0.450" stop-color="red" stop-opacity="0.639"/><stop offset="0.460" stop-color="red" stop-opacity="0.661"/><stop offset="0.470" stop-color="red" stop-opacity="0.683"/><stop offset="0.477" stop-color="red" stop-opacity="0.700"/><stop offset="0.485" stop-color="red" stop-opacity="0.717"/><stop offset="0.490" stop-color="red" stop-opacity="0.728"/><stop offset="0.495" stop-color="red" stop-opacity="0.739"/><stop offset="0.497" stop-color="red" stop-opacity="0.744"/><stop offset="0.500" stop-color="red" stop-opacity="0.750"/><stop offset="0.502" stop-color="red" stop-opacity="0.744"/><stop offset="0.505" stop-color="red" stop-opacity="0.739"/><stop offset="0.510" stop-color="red" stop-opacity="0.728"/><stop offset="0.515" stop-color="red" stop-opacity="0.717"/><stop offset="0.522" stop-color="red" stop-opacity="0.700"/><stop offset="0.530" stop-color="red" stop-opacity="0.683"/><stop offset="0.540" stop-color="red" stop-opacity="0.661"/><stop offset="0.550" stop-color="red" stop-opacity="0.639"/><stop offset="0.565" stop-color="red" stop-opacity="0.606"/><stop offset="0.580" stop-color="red" stop-opacity="0.572"/><stop offset="0.600" stop-color="red" stop-opacity="0.550"/><stop offset="0.625" stop-color="red" stop-opacity="0.550"/><stop offset="0.650" stop-color="red" stop-opacity="0.550"/><stop offset="0.675" stop-color="red" stop-opacity="0.550"/><stop offset="0.700" stop-color="red" stop-opacity="0.550"/><stop offset="0.750" stop-color="red" stop-opacity="0.550"/><stop offset="0.800" stop-color="red" stop-opacity="0.550"/><stop offset="0.850" stop-color="red" stop-opacity="0.550"/><stop offset="0.925" stop-color="red" stop-opacity="0.550"/><stop offset="1.000" stop-color="red" stop-opacity="0.550"/></linearGradient><linearGradient id="bg65" gradientUnits="userSpaceOnUse" x1="1" y1="0" x2="0" y2="1"><stop offset="0.000" stop-color="red" stop-opacity="0.000"/><stop offset="0.075" stop-color="red" stop-opacity="0.000"/><stop offset="0.150" stop-color="red" stop-opacity="0.000"/><stop offset="0.200" stop-color="red" stop-opacity="0.000"/><stop offset="0.250" stop-color="red" stop-opacity="0.000"/><stop offset="0.300" stop-color="red" stop-opacity="0.001"/><stop offset="0.325" stop-color="red" stop-opacity="0.003"/><stop offset="0.350" stop-color="red" stop-opacity="0.006"/><stop offset="0.375" stop-color="red" stop-opacity="0.013"/><stop offset="0.400" stop-color="red" stop-opacity="0.026"/><stop offset="0.420" stop-color="red" stop-opacity="0.047"/><stop offset="0.435" stop-color="red" stop-opacity="0.079"/><stop offset="0.450" stop-color="red" stop-opacity="0.163"/><stop offset="0.460" stop-color="red" stop-opacity="0.288"/><stop offset="0.470" stop-color="red" stop-opacity="0.489"/><stop offset="0.477" stop-color="red" stop-opacity="0.672"/><stop offset="0.485" stop-color="red" stop-opacity="0.844"/><stop offset="0.490" stop-color="red" stop-opacity="0.930"/><stop offset="0.495" stop-color="red" stop-opacity="0.983"/><stop offset="0.497" stop-color="red" stop-opacity="0.996"/><stop offset="0.500" stop-color="red" stop-opacity="1.000"/><stop offset="0.502" stop-color="red" stop-opacity="0.996"/><stop offset="0.505" stop-color="red" stop-opacity="0.983"/><stop offset="0.510" stop-color="red" stop-opacity="0.930"/><stop offset="0.515" stop-color="red" stop-opacity="0.844"/><stop offset="0.522" stop-color="red" stop-opacity="0.672"/><stop offset="0.530" stop-color="red" stop-opacity="0.489"/><stop offset="0.540" stop-color="red" stop-opacity="0.288"/><stop offset="0.550" stop-color="red" stop-opacity="0.163"/><stop offset="0.565" stop-color="red" stop-opacity="0.079"/><stop offset="0.580" stop-color="red" stop-opacity="0.047"/><stop offset="0.600" stop-color="red" stop-opacity="0.026"/><stop offset="0.625" stop-color="red" stop-opacity="0.013"/><stop offset="0.650" stop-color="red" stop-opacity="0.006"/><stop offset="0.675" stop-color="red" stop-opacity="0.003"/><stop offset="0.700" stop-color="red" stop-opacity="0.001"/><stop offset="0.750" stop-color="red" stop-opacity="0.000"/><stop offset="0.800" stop-color="red" stop-opacity="0.000"/><stop offset="0.850" stop-color="red" stop-opacity="0.000"/><stop offset="0.925" stop-color="red" stop-opacity="0.000"/><stop offset="1.000" stop-color="red" stop-opacity="0.000"/></linearGradient><linearGradient id="bg66" gradientUnits="userSpaceOnUse" x1="1" y1="0" x2="0" y2="1"><stop offset="0.000" stop-color="red" stop-opacity="0.000"/><stop offset="0.075" stop-color="red" stop-opacity="0.000"/><stop offset="0.150" stop-color="red" stop-opacity="0.000"/><stop offset="0.200" stop-color="red" stop-opacity="0.000"/><stop offset="0.250" stop-color="red" stop-opacity="0.000"/><stop offset="0.300" stop-color="red" stop-opacity="0.000"/><stop offset="0.325" stop-color="red" stop-opacity="0.000"/><stop offset="0.350" stop-color="red" stop-opacity="0.000"/><stop offset="0.375" stop-color="red" stop-opacity="0.000"/><stop offset="0.400" stop-color="red" stop-opacity="0.000"/><stop offset="0.420" stop-color="red" stop-opacity="0.000"/><stop offset="0.435" stop-color="red" stop-opacity="0.000"/><stop offset="0.450" stop-color="red" stop-opacity="0.000"/><stop offset="0.460" stop-color="red" stop-opacity="0.000"/><stop offset="0.470" stop-color="red" stop-opacity="0.001"/><stop offset="0.477" stop-color="red" stop-opacity="0.014"/><stop offset="0.485" stop-color="red" stop-opacity="0.140"/><stop offset="0.490" stop-color="red" stop-opacity="0.394"/><stop offset="0.495" stop-color="red" stop-opacity="0.732"/><stop offset="0.497" stop-color="red" stop-opacity="0.855"/><stop offset="0.500" stop-color="red" stop-opacity="0.900"/><stop offset="0.502" stop-color="red" stop-opacity="0.855"/><stop offset="0.505" stop-color="red" stop-opacity="0.732"/><stop offset="0.510" stop-color="red" stop-opacity="0.394"/><stop offset="0.515" stop-color="red" stop-opacity="0.140"/><stop offset="0.522" stop-color="red" stop-opacity="0.014"/><stop offset="0.530" stop-color="red" stop-opacity="0.001"/><stop offset="0.540" stop-color="red" stop-opacity="0.000"/><stop offset="0.550" stop-color="red" stop-opacity="0.000"/><stop offset="0.565" stop-color="red" stop-opacity="0.000"/><stop offset="0.580" stop-color="red" stop-opacity="0.000"/><stop offset="0.600" stop-color="red" stop-opacity="0.000"/><stop offset="0.625" stop-color="red" stop-opacity="0.000"/><stop offset="0.650" stop-color="red" stop-opacity="0.000"/><stop offset="0.675" stop-color="red" stop-opacity="0.000"/><stop offset="0.700" stop-color="red" stop-opacity="0.000"/><stop offset="0.750" stop-color="red" stop-opacity="0.000"/><stop offset="0.800" stop-color="red" stop-opacity="0.000"/><stop offset="0.850" stop-color="red" stop-opacity="0.000"/><stop offset="0.925" stop-color="red" stop-opacity="0.000"/><stop offset="1.000" stop-color="red" stop-opacity="0.000"/></linearGradient><filter id="spk67" x="0" y="0" width="1" height="1" color-interpolation-filters="sRGB">
<feGaussianBlur in="SourceGraphic" stdDeviation="0.8" result="sb"/>
<feComponentTransfer in="sb" result="sg"><feFuncA type="table" tableValues="0.000 0.127 0.175 0.212 0.248 0.277 0.303 0.330 0.353 0.372 0.393 0.413 0.430 0.447 0.466 0.484 0.502 0.520 0.538 0.556 0.573 0.591 0.610 0.630 0.653 0.676 0.701 0.727 0.755 0.790 0.828 0.878 1.000"/></feComponentTransfer>
<feTurbulence type="fractalNoise" baseFrequency="0.47" numOctaves="2" seed="67" result="n"/>
<feColorMatrix in="n" type="matrix" values="0 0 0 0 0  0 0 0 0 0  0 0 0 0 0  1 0 0 0 0" result="na0"/>
<feComponentTransfer in="na0" result="na"><feFuncA type="table" tableValues="0.000 0.000 0.000 0.000 0.000 0.000 0.002 0.006 0.014 0.032 0.059 0.098 0.150 0.216 0.297 0.392 0.495 0.611 0.706 0.785 0.849 0.901 0.939 0.967 0.984 0.994 0.998 0.999 1.000 1.000 1.000 1.000 1.000"/></feComponentTransfer>
<feComposite in="sg" in2="na" operator="arithmetic" k1="0" k2="1.7692307692307692" k3="1" k4="-1" result="s"/>
<feComponentTransfer in="s" result="t"><feFuncA type="linear" slope="1.3" intercept="0"/></feComponentTransfer>
<feFlood flood-color="#f00"/>
<feComposite in2="t" operator="in" result="c"/>
<feGaussianBlur in="c" stdDeviation="0.7"/>
</filter><clipPath id="cl68"><rect x="0" y="0" width="241.89999999999998" height="223.89999999999986"/></clipPath><filter id="spk69" x="0" y="0" width="1" height="1" color-interpolation-filters="sRGB">
<feGaussianBlur in="SourceGraphic" stdDeviation="5.5" result="sb"/>
<feComponentTransfer in="sb" result="sg"><feFuncA type="table" tableValues="0.000 0.127 0.175 0.212 0.248 0.277 0.303 0.330 0.353 0.372 0.393 0.413 0.430 0.447 0.466 0.484 0.502 0.520 0.538 0.556 0.573 0.591 0.610 0.630 0.653 0.676 0.701 0.727 0.755 0.790 0.828 0.878 1.000"/></feComponentTransfer>
<feTurbulence type="fractalNoise" baseFrequency="0.47" numOctaves="2" seed="18" result="n"/>
<feColorMatrix in="n" type="matrix" values="0 0 0 0 0  0 0 0 0 0  0 0 0 0 0  1 0 0 0 0" result="na0"/>
<feComponentTransfer in="na0" result="na"><feFuncA type="table" tableValues="0.000 0.000 0.000 0.000 0.000 0.000 0.002 0.006 0.014 0.032 0.059 0.098 0.150 0.216 0.297 0.392 0.495 0.611 0.706 0.785 0.849 0.901 0.939 0.967 0.984 0.994 0.998 0.999 1.000 1.000 1.000 1.000 1.000"/></feComponentTransfer>
<feComposite in="sg" in2="na" operator="arithmetic" k1="0" k2="1.7692307692307692" k3="1" k4="-1" result="s"/>
<feComponentTransfer in="s" result="t"><feFuncA type="linear" slope="1.3" intercept="0"/></feComponentTransfer>
<feFlood flood-color="#f00"/>
<feComposite in2="t" operator="in" result="c"/>
<feGaussianBlur in="c" stdDeviation="0.7"/>
</filter><linearGradient id="bg70" gradientUnits="userSpaceOnUse" x1="1" y1="0" x2="0" y2="1"><stop offset="0.000" stop-color="red" stop-opacity="0.450"/><stop offset="0.075" stop-color="red" stop-opacity="0.450"/><stop offset="0.150" stop-color="red" stop-opacity="0.450"/><stop offset="0.200" stop-color="red" stop-opacity="0.450"/><stop offset="0.250" stop-color="red" stop-opacity="0.450"/><stop offset="0.300" stop-color="red" stop-opacity="0.450"/><stop offset="0.325" stop-color="red" stop-opacity="0.450"/><stop offset="0.350" stop-color="red" stop-opacity="0.450"/><stop offset="0.375" stop-color="red" stop-opacity="0.450"/><stop offset="0.400" stop-color="red" stop-opacity="0.450"/><stop offset="0.420" stop-color="red" stop-opacity="0.450"/><stop offset="0.435" stop-color="red" stop-opacity="0.470"/><stop offset="0.450" stop-color="red" stop-opacity="0.500"/><stop offset="0.460" stop-color="red" stop-opacity="0.520"/><stop offset="0.470" stop-color="red" stop-opacity="0.540"/><stop offset="0.477" stop-color="red" stop-opacity="0.555"/><stop offset="0.485" stop-color="red" stop-opacity="0.570"/><stop offset="0.490" stop-color="red" stop-opacity="0.580"/><stop offset="0.495" stop-color="red" stop-opacity="0.590"/><stop offset="0.497" stop-color="red" stop-opacity="0.595"/><stop offset="0.500" stop-color="red" stop-opacity="0.600"/><stop offset="0.502" stop-color="red" stop-opacity="0.595"/><stop offset="0.505" stop-color="red" stop-opacity="0.590"/><stop offset="0.510" stop-color="red" stop-opacity="0.580"/><stop offset="0.515" stop-color="red" stop-opacity="0.570"/><stop offset="0.522" stop-color="red" stop-opacity="0.555"/><stop offset="0.530" stop-color="red" stop-opacity="0.540"/><stop offset="0.540" stop-color="red" stop-opacity="0.520"/><stop offset="0.550" stop-color="red" stop-opacity="0.500"/><stop offset="0.565" stop-color="red" stop-opacity="0.470"/><stop offset="0.580" stop-color="red" stop-opacity="0.450"/><stop offset="0.600" stop-color="red" stop-opacity="0.450"/><stop offset="0.625" stop-color="red" stop-opacity="0.450"/><stop offset="0.650" stop-color="red" stop-opacity="0.450"/><stop offset="0.675" stop-color="red" stop-opacity="0.450"/><stop offset="0.700" stop-color="red" stop-opacity="0.450"/><stop offset="0.750" stop-color="red" stop-opacity="0.450"/><stop offset="0.800" stop-color="red" stop-opacity="0.450"/><stop offset="0.850" stop-color="red" stop-opacity="0.450"/><stop offset="0.925" stop-color="red" stop-opacity="0.450"/><stop offset="1.000" stop-color="red" stop-opacity="0.450"/></linearGradient><linearGradient id="bg71" gradientUnits="userSpaceOnUse" x1="1" y1="0" x2="0" y2="1"><stop offset="0.000" stop-color="red" stop-opacity="0.100"/><stop offset="0.075" stop-color="red" stop-opacity="0.100"/><stop offset="0.150" stop-color="red" stop-opacity="0.100"/><stop offset="0.200" stop-color="red" stop-opacity="0.100"/><stop offset="0.250" stop-color="red" stop-opacity="0.100"/><stop offset="0.300" stop-color="red" stop-opacity="0.117"/><stop offset="0.325" stop-color="red" stop-opacity="0.158"/><stop offset="0.350" stop-color="red" stop-opacity="0.200"/><stop offset="0.375" stop-color="red" stop-opacity="0.242"/><stop offset="0.400" stop-color="red" stop-opacity="0.283"/><stop offset="0.420" stop-color="red" stop-opacity="0.317"/><stop offset="0.435" stop-color="red" stop-opacity="0.342"/><stop offset="0.450" stop-color="red" stop-opacity="0.367"/><stop offset="0.460" stop-color="red" stop-opacity="0.383"/><stop offset="0.470" stop-color="red" stop-opacity="0.400"/><stop offset="0.477" stop-color="red" stop-opacity="0.413"/><stop offset="0.485" stop-color="red" stop-opacity="0.425"/><stop offset="0.490" stop-color="red" stop-opacity="0.433"/><stop offset="0.495" stop-color="red" stop-opacity="0.442"/><stop offset="0.497" stop-color="red" stop-opacity="0.446"/><stop offset="0.500" stop-color="red" stop-opacity="0.450"/><stop offset="0.502" stop-color="red" stop-opacity="0.446"/><stop offset="0.505" stop-color="red" stop-opacity="0.442"/><stop offset="0.510" stop-color="red" stop-opacity="0.433"/><stop offset="0.515" stop-color="red" stop-opacity="0.425"/><stop offset="0.522" stop-color="red" stop-opacity="0.413"/><stop offset="0.530" stop-color="red" stop-opacity="0.400"/><stop offset="0.540" stop-color="red" stop-opacity="0.383"/><stop offset="0.550" stop-color="red" stop-opacity="0.367"/><stop offset="0.565" stop-color="red" stop-opacity="0.342"/><stop offset="0.580" stop-color="red" stop-opacity="0.317"/><stop offset="0.600" stop-color="red" stop-opacity="0.283"/><stop offset="0.625" stop-color="red" stop-opacity="0.242"/><stop offset="0.650" stop-color="red" stop-opacity="0.200"/><stop offset="0.675" stop-color="red" stop-opacity="0.158"/><stop offset="0.700" stop-color="red" stop-opacity="0.117"/><stop offset="0.750" stop-color="red" stop-opacity="0.100"/><stop offset="0.800" stop-color="red" stop-opacity="0.100"/><stop offset="0.850" stop-color="red" stop-opacity="0.100"/><stop offset="0.925" stop-color="red" stop-opacity="0.100"/><stop offset="1.000" stop-color="red" stop-opacity="0.100"/></linearGradient><linearGradient id="bg72" gradientUnits="userSpaceOnUse" x1="1" y1="0" x2="0" y2="1"><stop offset="0.000" stop-color="red" stop-opacity="0.200"/><stop offset="0.075" stop-color="red" stop-opacity="0.200"/><stop offset="0.150" stop-color="red" stop-opacity="0.200"/><stop offset="0.200" stop-color="red" stop-opacity="0.200"/><stop offset="0.250" stop-color="red" stop-opacity="0.200"/><stop offset="0.300" stop-color="red" stop-opacity="0.200"/><stop offset="0.325" stop-color="red" stop-opacity="0.200"/><stop offset="0.350" stop-color="red" stop-opacity="0.200"/><stop offset="0.375" stop-color="red" stop-opacity="0.230"/><stop offset="0.400" stop-color="red" stop-opacity="0.280"/><stop offset="0.420" stop-color="red" stop-opacity="0.320"/><stop offset="0.435" stop-color="red" stop-opacity="0.350"/><stop offset="0.450" stop-color="red" stop-opacity="0.380"/><stop offset="0.460" stop-color="red" stop-opacity="0.400"/><stop offset="0.470" stop-color="red" stop-opacity="0.420"/><stop offset="0.477" stop-color="red" stop-opacity="0.435"/><stop offset="0.485" stop-color="red" stop-opacity="0.450"/><stop offset="0.490" stop-color="red" stop-opacity="0.460"/><stop offset="0.495" stop-color="red" stop-opacity="0.470"/><stop offset="0.497" stop-color="red" stop-opacity="0.475"/><stop offset="0.500" stop-color="red" stop-opacity="0.480"/><stop offset="0.502" stop-color="red" stop-opacity="0.475"/><stop offset="0.505" stop-color="red" stop-opacity="0.470"/><stop offset="0.510" stop-color="red" stop-opacity="0.460"/><stop offset="0.515" stop-color="red" stop-opacity="0.450"/><stop offset="0.522" stop-color="red" stop-opacity="0.435"/><stop offset="0.530" stop-color="red" stop-opacity="0.420"/><stop offset="0.540" stop-color="red" stop-opacity="0.400"/><stop offset="0.550" stop-color="red" stop-opacity="0.380"/><stop offset="0.565" stop-color="red" stop-opacity="0.350"/><stop offset="0.580" stop-color="red" stop-opacity="0.320"/><stop offset="0.600" stop-color="red" stop-opacity="0.280"/><stop offset="0.625" stop-color="red" stop-opacity="0.230"/><stop offset="0.650" stop-color="red" stop-opacity="0.200"/><stop offset="0.675" stop-color="red" stop-opacity="0.200"/><stop offset="0.700" stop-color="red" stop-opacity="0.200"/><stop offset="0.750" stop-color="red" stop-opacity="0.200"/><stop offset="0.800" stop-color="red" stop-opacity="0.200"/><stop offset="0.850" stop-color="red" stop-opacity="0.200"/><stop offset="0.925" stop-color="red" stop-opacity="0.200"/><stop offset="1.000" stop-color="red" stop-opacity="0.200"/></linearGradient><linearGradient id="bg73" gradientUnits="userSpaceOnUse" x1="1" y1="0" x2="0" y2="1"><stop offset="0.000" stop-color="red" stop-opacity="0.450"/><stop offset="0.075" stop-color="red" stop-opacity="0.450"/><stop offset="0.150" stop-color="red" stop-opacity="0.450"/><stop offset="0.200" stop-color="red" stop-opacity="0.450"/><stop offset="0.250" stop-color="red" stop-opacity="0.450"/><stop offset="0.300" stop-color="red" stop-opacity="0.450"/><stop offset="0.325" stop-color="red" stop-opacity="0.450"/><stop offset="0.350" stop-color="red" stop-opacity="0.450"/><stop offset="0.375" stop-color="red" stop-opacity="0.450"/><stop offset="0.400" stop-color="red" stop-opacity="0.450"/><stop offset="0.420" stop-color="red" stop-opacity="0.450"/><stop offset="0.435" stop-color="red" stop-opacity="0.477"/><stop offset="0.450" stop-color="red" stop-opacity="0.517"/><stop offset="0.460" stop-color="red" stop-opacity="0.543"/><stop offset="0.470" stop-color="red" stop-opacity="0.570"/><stop offset="0.477" stop-color="red" stop-opacity="0.590"/><stop offset="0.485" stop-color="red" stop-opacity="0.610"/><stop offset="0.490" stop-color="red" stop-opacity="0.623"/><stop offset="0.495" stop-color="red" stop-opacity="0.637"/><stop offset="0.497" stop-color="red" stop-opacity="0.643"/><stop offset="0.500" stop-color="red" stop-opacity="0.650"/><stop offset="0.502" stop-color="red" stop-opacity="0.643"/><stop offset="0.505" stop-color="red" stop-opacity="0.637"/><stop offset="0.510" stop-color="red" stop-opacity="0.623"/><stop offset="0.515" stop-color="red" stop-opacity="0.610"/><stop offset="0.522" stop-color="red" stop-opacity="0.590"/><stop offset="0.530" stop-color="red" stop-opacity="0.570"/><stop offset="0.540" stop-color="red" stop-opacity="0.543"/><stop offset="0.550" stop-color="red" stop-opacity="0.517"/><stop offset="0.565" stop-color="red" stop-opacity="0.477"/><stop offset="0.580" stop-color="red" stop-opacity="0.450"/><stop offset="0.600" stop-color="red" stop-opacity="0.450"/><stop offset="0.625" stop-color="red" stop-opacity="0.450"/><stop offset="0.650" stop-color="red" stop-opacity="0.450"/><stop offset="0.675" stop-color="red" stop-opacity="0.450"/><stop offset="0.700" stop-color="red" stop-opacity="0.450"/><stop offset="0.750" stop-color="red" stop-opacity="0.450"/><stop offset="0.800" stop-color="red" stop-opacity="0.450"/><stop offset="0.850" stop-color="red" stop-opacity="0.450"/><stop offset="0.925" stop-color="red" stop-opacity="0.450"/><stop offset="1.000" stop-color="red" stop-opacity="0.450"/></linearGradient><linearGradient id="bg74" gradientUnits="userSpaceOnUse" x1="1" y1="0" x2="0" y2="1"><stop offset="0.000" stop-color="red" stop-opacity="0.000"/><stop offset="0.075" stop-color="red" stop-opacity="0.000"/><stop offset="0.150" stop-color="red" stop-opacity="0.000"/><stop offset="0.200" stop-color="red" stop-opacity="0.000"/><stop offset="0.250" stop-color="red" stop-opacity="0.000"/><stop offset="0.300" stop-color="red" stop-opacity="0.001"/><stop offset="0.325" stop-color="red" stop-opacity="0.002"/><stop offset="0.350" stop-color="red" stop-opacity="0.004"/><stop offset="0.375" stop-color="red" stop-opacity="0.010"/><stop offset="0.400" stop-color="red" stop-opacity="0.021"/><stop offset="0.420" stop-color="red" stop-opacity="0.039"/><stop offset="0.435" stop-color="red" stop-opacity="0.064"/><stop offset="0.450" stop-color="red" stop-opacity="0.130"/><stop offset="0.460" stop-color="red" stop-opacity="0.236"/><stop offset="0.470" stop-color="red" stop-opacity="0.429"/><stop offset="0.477" stop-color="red" stop-opacity="0.622"/><stop offset="0.485" stop-color="red" stop-opacity="0.816"/><stop offset="0.490" stop-color="red" stop-opacity="0.917"/><stop offset="0.495" stop-color="red" stop-opacity="0.980"/><stop offset="0.497" stop-color="red" stop-opacity="0.995"/><stop offset="0.500" stop-color="red" stop-opacity="1.000"/><stop offset="0.502" stop-color="red" stop-opacity="0.995"/><stop offset="0.505" stop-color="red" stop-opacity="0.980"/><stop offset="0.510" stop-color="red" stop-opacity="0.917"/><stop offset="0.515" stop-color="red" stop-opacity="0.816"/><stop offset="0.522" stop-color="red" stop-opacity="0.622"/><stop offset="0.530" stop-color="red" stop-opacity="0.429"/><stop offset="0.540" stop-color="red" stop-opacity="0.236"/><stop offset="0.550" stop-color="red" stop-opacity="0.130"/><stop offset="0.565" stop-color="red" stop-opacity="0.064"/><stop offset="0.580" stop-color="red" stop-opacity="0.039"/><stop offset="0.600" stop-color="red" stop-opacity="0.021"/><stop offset="0.625" stop-color="red" stop-opacity="0.010"/><stop offset="0.650" stop-color="red" stop-opacity="0.004"/><stop offset="0.675" stop-color="red" stop-opacity="0.002"/><stop offset="0.700" stop-color="red" stop-opacity="0.001"/><stop offset="0.750" stop-color="red" stop-opacity="0.000"/><stop offset="0.800" stop-color="red" stop-opacity="0.000"/><stop offset="0.850" stop-color="red" stop-opacity="0.000"/><stop offset="0.925" stop-color="red" stop-opacity="0.000"/><stop offset="1.000" stop-color="red" stop-opacity="0.000"/></linearGradient><linearGradient id="bg75" gradientUnits="userSpaceOnUse" x1="1" y1="0" x2="0" y2="1"><stop offset="0.000" stop-color="red" stop-opacity="0.000"/><stop offset="0.075" stop-color="red" stop-opacity="0.000"/><stop offset="0.150" stop-color="red" stop-opacity="0.000"/><stop offset="0.200" stop-color="red" stop-opacity="0.000"/><stop offset="0.250" stop-color="red" stop-opacity="0.000"/><stop offset="0.300" stop-color="red" stop-opacity="0.000"/><stop offset="0.325" stop-color="red" stop-opacity="0.000"/><stop offset="0.350" stop-color="red" stop-opacity="0.000"/><stop offset="0.375" stop-color="red" stop-opacity="0.000"/><stop offset="0.400" stop-color="red" stop-opacity="0.000"/><stop offset="0.420" stop-color="red" stop-opacity="0.000"/><stop offset="0.435" stop-color="red" stop-opacity="0.000"/><stop offset="0.450" stop-color="red" stop-opacity="0.000"/><stop offset="0.460" stop-color="red" stop-opacity="0.000"/><stop offset="0.470" stop-color="red" stop-opacity="0.001"/><stop offset="0.477" stop-color="red" stop-opacity="0.014"/><stop offset="0.485" stop-color="red" stop-opacity="0.140"/><stop offset="0.490" stop-color="red" stop-opacity="0.394"/><stop offset="0.495" stop-color="red" stop-opacity="0.732"/><stop offset="0.497" stop-color="red" stop-opacity="0.855"/><stop offset="0.500" stop-color="red" stop-opacity="0.900"/><stop offset="0.502" stop-color="red" stop-opacity="0.855"/><stop offset="0.505" stop-color="red" stop-opacity="0.732"/><stop offset="0.510" stop-color="red" stop-opacity="0.394"/><stop offset="0.515" stop-color="red" stop-opacity="0.140"/><stop offset="0.522" stop-color="red" stop-opacity="0.014"/><stop offset="0.530" stop-color="red" stop-opacity="0.001"/><stop offset="0.540" stop-color="red" stop-opacity="0.000"/><stop offset="0.550" stop-color="red" stop-opacity="0.000"/><stop offset="0.565" stop-color="red" stop-opacity="0.000"/><stop offset="0.580" stop-color="red" stop-opacity="0.000"/><stop offset="0.600" stop-color="red" stop-opacity="0.000"/><stop offset="0.625" stop-color="red" stop-opacity="0.000"/><stop offset="0.650" stop-color="red" stop-opacity="0.000"/><stop offset="0.675" stop-color="red" stop-opacity="0.000"/><stop offset="0.700" stop-color="red" stop-opacity="0.000"/><stop offset="0.750" stop-color="red" stop-opacity="0.000"/><stop offset="0.800" stop-color="red" stop-opacity="0.000"/><stop offset="0.850" stop-color="red" stop-opacity="0.000"/><stop offset="0.925" stop-color="red" stop-opacity="0.000"/><stop offset="1.000" stop-color="red" stop-opacity="0.000"/></linearGradient><filter id="spk76" x="0" y="0" width="1" height="1" color-interpolation-filters="sRGB">
<feGaussianBlur in="SourceGraphic" stdDeviation="0.8" result="sb"/>
<feComponentTransfer in="sb" result="sg"><feFuncA type="table" tableValues="0.000 0.127 0.175 0.212 0.248 0.277 0.303 0.330 0.353 0.372 0.393 0.413 0.430 0.447 0.466 0.484 0.502 0.520 0.538 0.556 0.573 0.591 0.610 0.630 0.653 0.676 0.701 0.727 0.755 0.790 0.828 0.878 1.000"/></feComponentTransfer>
<feTurbulence type="fractalNoise" baseFrequency="0.47" numOctaves="2" seed="68" result="n"/>
<feColorMatrix in="n" type="matrix" values="0 0 0 0 0  0 0 0 0 0  0 0 0 0 0  1 0 0 0 0" result="na0"/>
<feComponentTransfer in="na0" result="na"><feFuncA type="table" tableValues="0.000 0.000 0.000 0.000 0.000 0.000 0.002 0.006 0.014 0.032 0.059 0.098 0.150 0.216 0.297 0.392 0.495 0.611 0.706 0.785 0.849 0.901 0.939 0.967 0.984 0.994 0.998 0.999 1.000 1.000 1.000 1.000 1.000"/></feComponentTransfer>
<feComposite in="sg" in2="na" operator="arithmetic" k1="0" k2="1.7692307692307692" k3="1" k4="-1" result="s"/>
<feComponentTransfer in="s" result="t"><feFuncA type="linear" slope="1.3" intercept="0"/></feComponentTransfer>
<feFlood flood-color="#f00"/>
<feComposite in2="t" operator="in" result="c"/>
<feGaussianBlur in="c" stdDeviation="0.7"/>
</filter></defs>
<rect width="1200" height="1623" fill="#fff"/>
<text transform="translate(52.00,60.3) scale(0.9167,1)" x="0" y="0" font-size="36" font-weight="normal" font-style="normal" fill="#000">A</text>
<text transform="translate(393.84,72.5) scale(1.0526,1)" x="0" y="0" font-size="36" font-weight="normal" font-style="normal" fill="#000">B</text>
<text transform="translate(758.00,44.6) scale(1.0000,1)" x="0" y="0" font-size="36" font-weight="normal" font-style="normal" fill="#000">C</text>
<text transform="translate(26.60,630.5) scale(1.0682,1)" x="0" y="0" font-size="36" font-weight="normal" font-style="normal" fill="#000">D</text>
<text transform="translate(646.89,643.5) scale(1.0350,1)" x="0" y="0" font-size="36" font-weight="normal" font-style="normal" fill="#000">E</text>
<text transform="translate(17.68,1086.2) scale(1.0056,1)" x="0" y="0" font-size="36" font-weight="normal" font-style="normal" fill="#000">F</text>
<text transform="translate(638.17,1085.8) scale(1.0667,1)" x="0" y="0" font-size="36" font-weight="normal" font-style="normal" fill="#000">G</text>
<text transform="translate(69.95,1450.2) scale(1.1500,1)" x="0" y="0" font-size="36" font-weight="normal" font-style="normal" fill="#000">H</text>
<ellipse cx="184.4" cy="215.7" rx="100.6" ry="97.8" fill="#FFE699" stroke="#000" stroke-width="5"/>
<ellipse cx="257.4" cy="212.7" rx="110.5" ry="110" fill="rgb(177,188,207)" fill-opacity="0.6" stroke="none"/>
<ellipse cx="257.4" cy="212.7" rx="110.5" ry="110" fill="none" stroke="#000" stroke-width="5"/>
<text transform="translate(103.58,231.6) scale(0.9242,1)" x="0" y="0" font-size="31.5" font-weight="bold" font-style="normal" fill="#C00000">31</text>
<text transform="translate(184.48,231.6) scale(1.0221,1)" x="0" y="0" font-size="31.5" font-weight="bold" font-style="normal" fill="#C00000">2458</text>
<text transform="translate(312.00,231.6) scale(1.0000,1)" x="0" y="0" font-size="31.5" font-weight="bold" font-style="normal" fill="#C00000">46</text>
<text transform="translate(34.99,364) scale(1.0135,1)" x="0" y="0" font-size="25" font-weight="bold" font-style="normal" fill="#000">KI Down-TADs</text>
<text transform="translate(248.99,366.7) scale(1.0126,1)" x="0" y="0" font-size="25" font-weight="bold" font-style="normal" fill="#000">KI Up-TADs</text>
<ellipse cx="518.5" cy="109.5" rx="75.7" ry="81.2" fill="#BDD7EE" stroke="#000" stroke-width="5"/>
<ellipse cx="624" cy="106.5" rx="99.2" ry="104" fill="rgb(248,205,178)" fill-opacity="0.55" stroke="none"/>
<ellipse cx="624" cy="106.5" rx="99.2" ry="104" fill="none" stroke="#000" stroke-width="5"/>
<text transform="translate(472.60,121.4) scale(1.0410,1)" x="0" y="0" font-size="23.5" font-weight="bold" font-style="normal" fill="#C00000">356</text>
<text transform="translate(548.26,121.4) scale(1.0440,1)" x="0" y="0" font-size="23.5" font-weight="bold" font-style="normal" fill="#C00000">78</text>
<text transform="translate(639.44,121.4) scale(1.0553,1)" x="0" y="0" font-size="23.5" font-weight="bold" font-style="normal" fill="#C00000">902</text>
<text transform="translate(453.50,232.1) scale(1.0000,1)" x="0" y="0" font-size="25" font-weight="bold" font-style="normal" fill="#000">TADs_UP</text>
<text transform="translate(463.00,262.2) scale(1.0000,1)" x="0" y="0" font-size="25" font-weight="bold" font-style="normal" fill="#000">upon KI</text>
<text transform="translate(605.70,237.7) scale(0.9951,1)" x="0" y="0" font-size="25" font-weight="bold" font-style="normal" fill="#000">RNAseq_UP</text>
<text transform="translate(631.30,268.3) scale(1.0000,1)" x="0" y="0" font-size="25" font-weight="bold" font-style="normal" fill="#000">upon KI</text>
<ellipse cx="510" cy="396.7" rx="79.5" ry="76.8" fill="#FFF2CC" stroke="#000" stroke-width="5"/>
<ellipse cx="620.7" cy="394.3" rx="106.2" ry="100.5" fill="rgb(200,228,185)" fill-opacity="0.55" stroke="none"/>
<ellipse cx="620.7" cy="394.3" rx="106.2" ry="100.5" fill="none" stroke="#000" stroke-width="5"/>
<text transform="translate(452.93,410.7) scale(1.0711,1)" x="0" y="0" font-size="23.5" font-weight="bold" font-style="normal" fill="#C00000">214</text>
<text transform="translate(540.00,410.7) scale(0.9231,1)" x="0" y="0" font-size="23.5" font-weight="bold" font-style="normal" fill="#C00000">41</text>
<text transform="translate(635.50,410.7) scale(1.0385,1)" x="0" y="0" font-size="23.5" font-weight="bold" font-style="normal" fill="#C00000">830</text>
<text transform="translate(409.30,507.3) scale(1.0090,1)" x="0" y="0" font-size="25" font-weight="bold" font-style="normal" fill="#000">TADs_DOWN</text>
<text transform="translate(440.69,537.3) scale(1.0066,1)" x="0" y="0" font-size="25" font-weight="bold" font-style="normal" fill="#000">upon KI</text>
<text transform="translate(578.00,528.3) scale(1.0016,1)" x="0" y="0" font-size="25" font-weight="bold" font-style="normal" fill="#000">RNAseq_DOWN</text>
<text transform="translate(626.70,557.3) scale(1.0033,1)" x="0" y="0" font-size="25" font-weight="bold" font-style="normal" fill="#000">upon KI</text>
<text transform="translate(993.7,45) scale(1.08,1)" x="0" y="0" font-size="15" fill="#262626" text-anchor="middle">GO enrichment (UP)</text>
<line x1="988.5" y1="62" x2="988.5" y2="279" stroke="#DDDDDD" stroke-width="1"/>
<text transform="translate(988.5,296) scale(1.0,1)" x="0" y="0" font-size="10" fill="#595959" text-anchor="middle">0</text>
<line x1="1017.9" y1="62" x2="1017.9" y2="279" stroke="#DDDDDD" stroke-width="1"/>
<text transform="translate(1017.9,296) scale(1.0,1)" x="0" y="0" font-size="10" fill="#595959" text-anchor="middle">2</text>
<line x1="1047.3" y1="62" x2="1047.3" y2="279" stroke="#DDDDDD" stroke-width="1"/>
<text transform="translate(1047.3,296) scale(1.0,1)" x="0" y="0" font-size="10" fill="#595959" text-anchor="middle">4</text>
<line x1="1076.7" y1="62" x2="1076.7" y2="279" stroke="#DDDDDD" stroke-width="1"/>
<text transform="translate(1076.7,296) scale(1.0,1)" x="0" y="0" font-size="10" fill="#595959" text-anchor="middle">6</text>
<line x1="1106.1" y1="62" x2="1106.1" y2="279" stroke="#DDDDDD" stroke-width="1"/>
<text transform="translate(1106.1,296) scale(1.0,1)" x="0" y="0" font-size="10" fill="#595959" text-anchor="middle">8</text>
<line x1="1135.5" y1="62" x2="1135.5" y2="279" stroke="#DDDDDD" stroke-width="1"/>
<text transform="translate(1135.5,296) scale(1.0,1)" x="0" y="0" font-size="10" fill="#595959" text-anchor="middle">10</text>
<line x1="1164.9" y1="62" x2="1164.9" y2="279" stroke="#DDDDDD" stroke-width="1"/>
<text transform="translate(1164.9,296) scale(1.0,1)" x="0" y="0" font-size="10" fill="#595959" text-anchor="middle">12</text>
<line x1="1194.3" y1="62" x2="1194.3" y2="279" stroke="#DDDDDD" stroke-width="1"/>
<text transform="translate(1194.3,296) scale(1.0,1)" x="0" y="0" font-size="10" fill="#595959" text-anchor="middle">14</text>
<rect x="988.5" y="67.2" width="58.8" height="4.4" fill="#0070C0"/>
<text transform="translate(979.2,72.80000000000001) scale(1.04,1)" x="0" y="0" font-size="10" fill="#383838" text-anchor="end">Zinc finger, C2H2</text>
<rect x="988.5" y="79.97" width="67.179" height="4.4" fill="#0070C0"/>
<text transform="translate(979.2,85.57000000000001) scale(1.04,1)" x="0" y="0" font-size="10" fill="#383838" text-anchor="end">Wnt signaling pathway</text>
<rect x="988.5" y="92.74" width="80.556" height="4.4" fill="#0070C0"/>
<text transform="translate(979.2,98.34) scale(1.04,1)" x="0" y="0" font-size="10" fill="#383838" text-anchor="end">Positive regulation of leukocyte chemotaxis</text>
<rect x="988.5" y="105.51" width="85.113" height="4.4" fill="#0070C0"/>
<text transform="translate(979.2,111.11000000000001) scale(1.04,1)" x="0" y="0" font-size="10" fill="#383838" text-anchor="end">CCAAT/enhancer-binding</text>
<rect x="988.5" y="118.28" width="93.78599999999999" height="4.4" fill="#0070C0"/>
<text transform="translate(979.2,123.88000000000001) scale(1.04,1)" x="0" y="0" font-size="10" fill="#383838" text-anchor="end">Helix-loop-helix motif</text>
<rect x="988.5" y="131.05" width="95.55" height="4.4" fill="#0070C0"/>
<text transform="translate(979.2,136.65) scale(1.04,1)" x="0" y="0" font-size="10" fill="#383838" text-anchor="end">PI3K-Akt signaling pathway</text>
<rect x="988.5" y="143.82000000000002" width="96.43199999999999" height="4.4" fill="#0070C0"/>
<text transform="translate(979.2,149.42000000000002) scale(1.04,1)" x="0" y="0" font-size="10" fill="#383838" text-anchor="end">Multicellular organism development</text>
<rect x="988.5" y="156.59000000000003" width="100.54799999999999" height="4.4" fill="#0070C0"/>
<text transform="translate(979.2,162.19000000000003) scale(1.04,1)" x="0" y="0" font-size="10" fill="#383838" text-anchor="end">Regulating pluripotency of stem cells</text>
<rect x="988.5" y="169.36" width="114.66" height="4.4" fill="#0070C0"/>
<text transform="translate(979.2,174.96) scale(1.04,1)" x="0" y="0" font-size="10" fill="#383838" text-anchor="end">Cell fate commitment</text>
<rect x="988.5" y="182.13" width="130.095" height="4.4" fill="#0070C0"/>
<text transform="translate(979.2,187.73) scale(1.04,1)" x="0" y="0" font-size="10" fill="#383838" text-anchor="end">Pathways in cancer</text>
<rect x="988.5" y="194.9" width="136.857" height="4.4" fill="#0070C0"/>
<text transform="translate(979.2,200.5) scale(1.04,1)" x="0" y="0" font-size="10" fill="#383838" text-anchor="end">Cell cycle</text>
<rect x="988.5" y="207.67000000000002" width="148.47" height="4.4" fill="#0070C0"/>
<text transform="translate(979.2,213.27) scale(1.04,1)" x="0" y="0" font-size="10" fill="#383838" text-anchor="end">Homeobox</text>
<rect x="988.5" y="220.44000000000003" width="151.41" height="4.4" fill="#0070C0"/>
<text transform="translate(979.2,226.04000000000002) scale(1.04,1)" x="0" y="0" font-size="10" fill="#383838" text-anchor="end">Transcription factor activity</text>
<rect x="988.5" y="233.21" width="153.321" height="4.4" fill="#0070C0"/>
<text transform="translate(979.2,238.81) scale(1.04,1)" x="0" y="0" font-size="10" fill="#383838" text-anchor="end">Transcriptional misregulation in cancer</text>
<rect x="988.5" y="245.98000000000002" width="158.76" height="4.4" fill="#0070C0"/>
<text transform="translate(979.2,251.58) scale(1.04,1)" x="0" y="0" font-size="10" fill="#383838" text-anchor="end">Anterior/posterior pattern specification</text>
<rect x="988.5" y="258.75" width="164.64" height="4.4" fill="#0070C0"/>
<text transform="translate(979.2,264.34999999999997) scale(1.04,1)" x="0" y="0" font-size="10" fill="#383838" text-anchor="end">DNA-binding</text>
<rect x="988.5" y="271.52000000000004" width="170.226" height="4.4" fill="#0070C0"/>
<text transform="translate(979.2,277.12) scale(1.04,1)" x="0" y="0" font-size="10" fill="#383838" text-anchor="end">Transcription regulation</text>
<text transform="translate(1091.2,311.7) scale(1.07,1)" x="0" y="0" font-size="13" fill="#262626" text-anchor="middle">Enrichment (-log pvalue)</text>
<text transform="translate(1013,335.7) scale(1.08,1)" x="0" y="0" font-size="15" fill="#262626" text-anchor="middle">GO enrichment (Down)</text>
<line x1="936.7" y1="353.7" x2="936.7" y2="594" stroke="#DDDDDD" stroke-width="1"/>
<text transform="translate(936.7,609.5) scale(1.0,1)" x="0" y="0" font-size="10" fill="#595959" text-anchor="middle">0</text>
<line x1="969.3000000000001" y1="353.7" x2="969.3000000000001" y2="594" stroke="#DDDDDD" stroke-width="1"/>
<text transform="translate(969.3000000000001,609.5) scale(1.0,1)" x="0" y="0" font-size="10" fill="#595959" text-anchor="middle">1</text>
<line x1="1001.9000000000001" y1="353.7" x2="1001.9000000000001" y2="594" stroke="#DDDDDD" stroke-width="1"/>
<text transform="translate(1001.9000000000001,609.5) scale(1.0,1)" x="0" y="0" font-size="10" fill="#595959" text-anchor="middle">2</text>
<line x1="1034.5" y1="353.7" x2="1034.5" y2="594" stroke="#DDDDDD" stroke-width="1"/>
<text transform="translate(1034.5,609.5) scale(1.0,1)" x="0" y="0" font-size="10" fill="#595959" text-anchor="middle">3</text>
<line x1="1067.1000000000001" y1="353.7" x2="1067.1000000000001" y2="594" stroke="#DDDDDD" stroke-width="1"/>
<text transform="translate(1067.1000000000001,609.5) scale(1.0,1)" x="0" y="0" font-size="10" fill="#595959" text-anchor="middle">4</text>
<line x1="1099.7" y1="353.7" x2="1099.7" y2="594" stroke="#DDDDDD" stroke-width="1"/>
<text transform="translate(1099.7,609.5) scale(1.0,1)" x="0" y="0" font-size="10" fill="#595959" text-anchor="middle">5</text>
<line x1="1132.3000000000002" y1="353.7" x2="1132.3000000000002" y2="594" stroke="#DDDDDD" stroke-width="1"/>
<text transform="translate(1132.3000000000002,609.5) scale(1.0,1)" x="0" y="0" font-size="10" fill="#595959" text-anchor="middle">6</text>
<line x1="1164.9" y1="353.7" x2="1164.9" y2="594" stroke="#DDDDDD" stroke-width="1"/>
<text transform="translate(1164.9,609.5) scale(1.0,1)" x="0" y="0" font-size="10" fill="#595959" text-anchor="middle">7</text>
<line x1="1197.5" y1="353.7" x2="1197.5" y2="594" stroke="#DDDDDD" stroke-width="1"/>
<text transform="translate(1197.5,609.5) scale(1.0,1)" x="0" y="0" font-size="10" fill="#595959" text-anchor="middle">8</text>
<rect x="936.7" y="360.1" width="108.232" height="6" fill="#7030A0"/>
<text transform="translate(927,366.5) scale(1.04,1)" x="0" y="0" font-size="10" fill="#383838" text-anchor="end">Nucleus</text>
<rect x="936.7" y="378.6" width="135.616" height="6" fill="#7030A0"/>
<text transform="translate(927,385.0) scale(1.04,1)" x="0" y="0" font-size="10" fill="#383838" text-anchor="end">Secreted</text>
<rect x="936.7" y="397.1" width="141.15800000000002" height="6" fill="#7030A0"/>
<text transform="translate(927,403.5) scale(1.04,1)" x="0" y="0" font-size="10" fill="#383838" text-anchor="end">Receptor</text>
<rect x="936.7" y="415.6" width="142.788" height="6" fill="#7030A0"/>
<text transform="translate(927,422.0) scale(1.04,1)" x="0" y="0" font-size="10" fill="#383838" text-anchor="end">Zinc-finger</text>
<rect x="936.7" y="434.1" width="144.74400000000003" height="6" fill="#7030A0"/>
<text transform="translate(927,440.5) scale(1.04,1)" x="0" y="0" font-size="10" fill="#383838" text-anchor="end">Protein binding</text>
<rect x="936.7" y="452.6" width="147.352" height="6" fill="#7030A0"/>
<text transform="translate(927,459.0) scale(1.04,1)" x="0" y="0" font-size="10" fill="#383838" text-anchor="end">Repressor</text>
<rect x="936.7" y="471.1" width="149.63400000000001" height="6" fill="#7030A0"/>
<text transform="translate(927,477.5) scale(1.04,1)" x="0" y="0" font-size="10" fill="#383838" text-anchor="end">Transferase</text>
<rect x="936.7" y="489.6" width="159.414" height="6" fill="#7030A0"/>
<text transform="translate(927,496.0) scale(1.04,1)" x="0" y="0" font-size="10" fill="#383838" text-anchor="end">Cytoskeleton</text>
<rect x="936.7" y="508.1" width="178.64800000000002" height="6" fill="#7030A0"/>
<text transform="translate(927,514.5) scale(1.04,1)" x="0" y="0" font-size="10" fill="#383838" text-anchor="end">Membrane</text>
<rect x="936.7" y="526.6" width="184.842" height="6" fill="#7030A0"/>
<text transform="translate(927,533.0) scale(1.04,1)" x="0" y="0" font-size="10" fill="#383838" text-anchor="end">Kinase activity</text>
<rect x="936.7" y="545.1" width="202.446" height="6" fill="#7030A0"/>
<text transform="translate(927,551.5) scale(1.04,1)" x="0" y="0" font-size="10" fill="#383838" text-anchor="end">DNA binding</text>
<rect x="936.7" y="563.6" width="243.522" height="6" fill="#7030A0"/>
<text transform="translate(927,570.0) scale(1.04,1)" x="0" y="0" font-size="10" fill="#383838" text-anchor="end">Signal</text>
<rect x="936.7" y="582.1" width="253.62800000000001" height="6" fill="#7030A0"/>
<text transform="translate(927,588.5) scale(1.04,1)" x="0" y="0" font-size="10" fill="#383838" text-anchor="end">Transcription regulation</text>
<text transform="translate(1095.1,626.6) scale(1.07,1)" x="0" y="0" font-size="13" fill="#262626" text-anchor="middle">Enrichment (-log pvalue)</text>
<g transform="translate(58.2,754.2)" clip-path="url(#cl1)"><g filter="url(#spk2)">
<g transform="scale(266.7,245.5)">
<rect x="-0.08" y="-0.08" width="1.16" height="1.16" fill="#f00" fill-opacity="0.065"/>
<rect x="-0.08" y="-0.08" width="0.18" height="0.18" fill="url(#bg3)"/>
<rect x="0.09" y="0.09" width="0.4650000000000001" height="0.4650000000000001" fill="url(#bg4)"/>
<rect x="0.56" y="0.56" width="0.52" height="0.52" fill="url(#bg5)"/>
<rect x="0.22" y="0.22" width="0.28" height="0.28" fill="url(#bg6)"/>
<rect x="0.75" y="0.75" width="0.33000000000000007" height="0.33000000000000007" fill="url(#bg7)"/>
<rect x="0.1" y="0.1" width="0.19999999999999998" height="0.19999999999999998" fill="url(#bg8)"/>
<path d="M0.09,0.09 L0.09,0.555 L0.555,0.555 L0.555,0.09 Z" stroke="#f00" stroke-opacity="0.5" stroke-width="0.01" fill="none"/>
<path d="M0.56,0.56 L0.95,0.56 M0.56,0.56 L0.56,0.95" stroke="#f00" stroke-opacity="0.35" stroke-width="0.01" fill="none"/>
<rect x="-0.08" y="-0.08" width="1.16" height="1.16" fill="url(#bg9)"/>
</g></g>
<g filter="url(#spk11)"><g transform="scale(266.7,245.5)"><rect x="-0.08" y="-0.08" width="1.16" height="1.16" fill="url(#bg10)"/></g></g>
</g>
<line x1="324.2" y1="835.9" x2="302.8618532142749" y2="872.3097002775013" stroke="#7030A0" stroke-width="2.2"/>
<polygon points="297.3,881.8 297.32819459216427,867.9075846209173 309.40675787534457,874.9863068936309" fill="#7030A0"/>
<g transform="translate(340.8,752.8)" clip-path="url(#cl12)"><g filter="url(#spk13)">
<g transform="scale(271.40000000000003,248.70000000000005)">
<rect x="-0.08" y="-0.08" width="1.16" height="1.16" fill="#f00" fill-opacity="0.081"/>
<rect x="-0.08" y="-0.08" width="0.18" height="0.18" fill="url(#bg14)"/>
<rect x="0.1" y="0.1" width="0.4600000000000001" height="0.4600000000000001" fill="url(#bg15)"/>
<rect x="0.56" y="0.56" width="0.52" height="0.52" fill="url(#bg16)"/>
<rect x="0.2" y="0.2" width="0.3" height="0.3" fill="url(#bg17)"/>
<rect x="0.75" y="0.75" width="0.33000000000000007" height="0.33000000000000007" fill="url(#bg18)"/>
<rect x="0.1" y="0.1" width="0.19999999999999998" height="0.19999999999999998" fill="url(#bg19)"/>
<path d="M0.1,0.1 L0.1,0.555 L0.555,0.555 L0.555,0.1 Z" stroke="#f00" stroke-opacity="0.5" stroke-width="0.01" fill="none"/>
<path d="M0.56,0.56 L0.95,0.56 M0.56,0.56 L0.56,0.95" stroke="#f00" stroke-opacity="0.4" stroke-width="0.01" fill="none"/>
<rect x="-0.08" y="-0.08" width="1.16" height="1.16" fill="url(#bg20)"/>
</g></g>
<g filter="url(#spk22)"><g transform="scale(271.40000000000003,248.70000000000005)"><rect x="-0.08" y="-0.08" width="1.16" height="1.16" fill="url(#bg21)"/></g></g>
</g>
<line x1="615" y1="835" x2="593.5624468976739" y2="873.3956174967036" stroke="#7030A0" stroke-width="2.2"/>
<polygon points="588.2,883 587.9380622953646,869.110025606975 600.1618218450147,875.9349580221964" fill="#7030A0"/>
<g transform="translate(649.7,741.9)" clip-path="url(#cl23)"><g filter="url(#spk24)">
<g transform="scale(267.79999999999995,262.9)">
<rect x="-0.08" y="-0.08" width="1.16" height="1.16" fill="#f00" fill-opacity="0.057"/>
<rect x="-0.08" y="-0.08" width="0.21000000000000002" height="0.21000000000000002" fill="url(#bg25)"/>
<rect x="0.45" y="0.45" width="0.29" height="0.29" fill="url(#bg26)"/>
<rect x="0.78" y="0.78" width="0.30000000000000004" height="0.30000000000000004" fill="url(#bg27)"/>
<rect x="0.1" y="0.1" width="0.35" height="0.35" fill="url(#bg28)"/>
<rect x="-0.08" y="-0.08" width="1.16" height="1.16" fill="url(#bg29)"/>
</g></g>
<g filter="url(#spk31)"><g transform="scale(267.79999999999995,262.9)"><rect x="-0.08" y="-0.08" width="1.16" height="1.16" fill="url(#bg30)"/></g></g>
</g>
<line x1="893" y1="777.8" x2="846.5936012893068" y2="822.8389910138771" stroke="#7030A0" stroke-width="2.2"/>
<polygon points="838.7,830.5 842.4360138698929,817.1193348310344 852.1863889431401,827.1657364719704" fill="#7030A0"/>
<g transform="translate(930.7,742.2)" clip-path="url(#cl32)"><g filter="url(#spk33)">
<g transform="scale(268.0999999999999,262.29999999999995)">
<rect x="-0.08" y="-0.08" width="1.16" height="1.16" fill="#f00" fill-opacity="0.073"/>
<rect x="-0.08" y="-0.08" width="0.28" height="0.28" fill="url(#bg34)"/>
<rect x="0.1" y="0.1" width="0.35" height="0.35" fill="url(#bg35)"/>
<rect x="0.4" y="0.4" width="0.36" height="0.36" fill="url(#bg36)"/>
<rect x="0.74" y="0.74" width="0.3400000000000001" height="0.3400000000000001" fill="url(#bg37)"/>
<rect x="-0.08" y="-0.08" width="1.16" height="1.16" fill="url(#bg38)"/>
</g></g>
<g filter="url(#spk40)"><g transform="scale(268.0999999999999,262.29999999999995)"><rect x="-0.08" y="-0.08" width="1.16" height="1.16" fill="url(#bg39)"/></g></g>
</g>
<line x1="1156" y1="769" x2="1109.3146648233812" y2="814.0607539158939" stroke="#7030A0" stroke-width="2.2"/>
<polygon points="1101.4,821.7 1105.1728413901665,808.3296721115507 1114.8955182244836,818.4028818867632" fill="#7030A0"/>
<g transform="translate(51.4,1158.4)" clip-path="url(#cl41)"><g filter="url(#spk42)">
<g transform="scale(262.20000000000005,225.69999999999982)">
<rect x="-0.08" y="-0.08" width="1.16" height="1.16" fill="#f00" fill-opacity="0.065"/>
<rect x="-0.08" y="-0.08" width="0.2" height="0.2" fill="url(#bg43)"/>
<rect x="0.15" y="0.15" width="0.21" height="0.21" fill="url(#bg44)"/>
<rect x="0.2" y="0.2" width="0.52" height="0.52" fill="url(#bg45)"/>
<rect x="0.68" y="0.68" width="0.4" height="0.4" fill="url(#bg46)"/>
<rect x="-0.08" y="-0.08" width="1.16" height="1.16" fill="url(#bg47)"/>
</g></g>
<g filter="url(#spk49)"><g transform="scale(262.20000000000005,225.69999999999982)"><rect x="-0.08" y="-0.08" width="1.16" height="1.16" fill="url(#bg48)"/></g></g>
</g>
<line x1="271.9" y1="1159.6" x2="251.89301725353874" y2="1184.6269165992096" stroke="#7030A0" stroke-width="4"/>
<polygon points="244.4,1194 245.48762280740758,1178.2260633756564 259.547247908593,1189.4655892559645" fill="#7030A0"/>
<line x1="269.6" y1="1194" x2="249.78142025611254" y2="1219.961608151587" stroke="#7030A0" stroke-width="4"/>
<polygon points="242.5,1229.5 243.23441139114541,1213.7056769721348 257.54199916376507,1224.6278073563035" fill="#7030A0"/>
<g transform="translate(335.3,1156.9)" clip-path="url(#cl50)"><g filter="url(#spk51)">
<g transform="scale(263.09999999999997,226.39999999999986)">
<rect x="-0.08" y="-0.08" width="1.16" height="1.16" fill="#f00" fill-opacity="0.081"/>
<rect x="-0.08" y="-0.08" width="0.2" height="0.2" fill="url(#bg52)"/>
<rect x="0.1" y="0.1" width="0.26" height="0.26" fill="url(#bg53)"/>
<rect x="0.2" y="0.2" width="0.52" height="0.52" fill="url(#bg54)"/>
<rect x="0.68" y="0.68" width="0.4" height="0.4" fill="url(#bg55)"/>
<rect x="-0.08" y="-0.08" width="1.16" height="1.16" fill="url(#bg56)"/>
</g></g>
<g filter="url(#spk58)"><g transform="scale(263.09999999999997,226.39999999999986)"><rect x="-0.08" y="-0.08" width="1.16" height="1.16" fill="url(#bg57)"/></g></g>
</g>
<line x1="554.9" y1="1159.2" x2="535.8192085095031" y2="1183.9905737925774" stroke="#7030A0" stroke-width="4"/>
<polygon points="528.5,1193.5 529.2970728963948,1177.7087152264983 543.5612122075287,1188.6875279907529" fill="#7030A0"/>
<line x1="553.7" y1="1192.4" x2="534.2749054313939" y2="1217.3337034761214" stroke="#7030A0" stroke-width="4"/>
<polygon points="526.9,1226.8 527.789758491101,1211.0136663589194 541.989203276919,1222.0760245060103" fill="#7030A0"/>
<g transform="translate(671.7,1159.8)" clip-path="url(#cl59)"><g filter="url(#spk60)">
<g transform="scale(242.5999999999999,225.5)">
<rect x="-0.08" y="-0.08" width="1.16" height="1.16" fill="#f00" fill-opacity="0.081"/>
<rect x="-0.08" y="-0.08" width="0.26" height="0.26" fill="url(#bg61)"/>
<rect x="0.15" y="0.15" width="0.41999999999999993" height="0.41999999999999993" fill="url(#bg62)"/>
<rect x="0.57" y="0.57" width="0.25" height="0.25" fill="url(#bg63)"/>
<rect x="0.82" y="0.82" width="0.2600000000000001" height="0.2600000000000001" fill="url(#bg64)"/>
<rect x="-0.08" y="-0.08" width="1.16" height="1.16" fill="url(#bg65)"/>
</g></g>
<g filter="url(#spk67)"><g transform="scale(242.5999999999999,225.5)"><rect x="-0.08" y="-0.08" width="1.16" height="1.16" fill="url(#bg66)"/></g></g>
<path transform="scale(242.5999999999999,225.5)" d="M0.35,0.569 L0.88,0.569" stroke="#fff" stroke-opacity="0.75" stroke-width="0.0048000000000000004" fill="none"/>
<path transform="scale(242.5999999999999,225.5)" d="M0.568,0.35 L0.568,0.88" stroke="#fff" stroke-opacity="0.75" stroke-width="0.0048000000000000004" fill="none"/>
</g>
<line x1="914.3" y1="1189.5" x2="895.4080921901206" y2="1215.7590224384423" stroke="#7030A0" stroke-width="4"/>
<polygon points="888.4,1225.5 888.6863667014624,1209.691205165722 903.297833043799,1220.2033434509028" fill="#7030A0"/>
<line x1="918.3" y1="1235.6" x2="898.9138091410604" y2="1261.9359573932766" stroke="#7030A0" stroke-width="4"/>
<polygon points="891.8,1271.6 892.2585946144394,1255.7952636535877 906.7546585245246,1266.465977365178" fill="#7030A0"/>
<g transform="translate(932.9,1156.9)" clip-path="url(#cl68)"><g filter="url(#spk69)">
<g transform="scale(241.89999999999998,223.89999999999986)">
<rect x="-0.08" y="-0.08" width="1.16" height="1.16" fill="#f00" fill-opacity="0.081"/>
<rect x="-0.08" y="-0.08" width="0.22999999999999998" height="0.22999999999999998" fill="url(#bg70)"/>
<rect x="0.15" y="0.15" width="0.41999999999999993" height="0.41999999999999993" fill="url(#bg71)"/>
<rect x="0.57" y="0.57" width="0.28" height="0.28" fill="url(#bg72)"/>
<rect x="0.85" y="0.85" width="0.2300000000000001" height="0.2300000000000001" fill="url(#bg73)"/>
<rect x="-0.08" y="-0.08" width="1.16" height="1.16" fill="url(#bg74)"/>
</g></g>
<g filter="url(#spk76)"><g transform="scale(241.89999999999998,223.89999999999986)"><rect x="-0.08" y="-0.08" width="1.16" height="1.16" fill="url(#bg75)"/></g></g>
<path transform="scale(241.89999999999998,223.89999999999986)" d="M0.45,0.571 L0.9,0.571" stroke="#fff" stroke-opacity="0.75" stroke-width="0.0048000000000000004" fill="none"/>
<path transform="scale(241.89999999999998,223.89999999999986)" d="M0.572,0.45 L0.572,0.9" stroke="#fff" stroke-opacity="0.75" stroke-width="0.0048000000000000004" fill="none"/>
</g>
<line x1="1172.5" y1="1178.3" x2="1153.6080921901207" y2="1204.5590224384423" stroke="#7030A0" stroke-width="4"/>
<polygon points="1146.6,1214.3 1146.8863667014625,1198.4912051657218 1161.497833043799,1209.003343450903" fill="#7030A0"/>
<line x1="1175.9" y1="1224.4" x2="1156.9317519413132" y2="1251.2045513107312" stroke="#7030A0" stroke-width="4"/>
<polygon points="1150,1261 1150.162811419471,1245.1894499639739 1164.8559844533743,1255.5870778759436" fill="#7030A0"/>
<rect x="58.5" y="690.2" width="266.5" height="61.59999999999991" fill="#F6F6F6" stroke="#CFCFCF" stroke-width="0.7"/>
<text x="60.5" y="693.6" font-size="3.6" fill="#333">chr16:81,977,899-69,562,620</text>
<rect x="59.0" y="694.82" width="265.5" height="3.08" fill="#fff" stroke="#aaa" stroke-width="0.3"/>
<rect x="59.00" y="694.82" width="26.61" height="3.08" fill="#000"/>
<rect x="85.61" y="694.82" width="14.10" height="3.08" fill="#fff"/>
<rect x="99.72" y="694.82" width="19.54" height="3.08" fill="#fff"/>
<rect x="119.25" y="694.82" width="25.45" height="3.08" fill="#000"/>
<rect x="144.70" y="694.82" width="18.99" height="3.08" fill="#000"/>
<rect x="163.70" y="694.82" width="12.35" height="3.08" fill="#bbb"/>
<rect x="176.05" y="694.82" width="27.27" height="3.08" fill="#777"/>
<rect x="203.32" y="694.82" width="11.44" height="3.08" fill="#fff"/>
<rect x="214.76" y="694.82" width="28.66" height="3.08" fill="#777"/>
<rect x="243.42" y="694.82" width="24.44" height="3.08" fill="#777"/>
<rect x="267.86" y="694.82" width="13.60" height="3.08" fill="#000"/>
<rect x="281.46" y="694.82" width="26.18" height="3.08" fill="#000"/>
<rect x="307.63" y="694.82" width="11.77" height="3.08" fill="#000"/>
<rect x="319.40" y="694.82" width="5.10" height="3.08" fill="#fff"/>
<rect x="129.1" y="694.42" width="8.0" height="3.88" fill="#fff" stroke="#f22" stroke-width="0.9"/>
<text x="67.2" y="700.7" font-size="3.4" fill="#333" text-anchor="middle">q4E2</text>
<text x="86.5" y="700.7" font-size="3.4" fill="#333" text-anchor="middle">q2C1</text>
<text x="102.9" y="700.7" font-size="3.4" fill="#333" text-anchor="middle">q1D</text>
<text x="121.3" y="700.7" font-size="3.4" fill="#333" text-anchor="middle">q4E2</text>
<text x="140.4" y="700.7" font-size="3.4" fill="#333" text-anchor="middle">q1C1</text>
<text x="155.5" y="700.7" font-size="3.4" fill="#333" text-anchor="middle">q2E2</text>
<text x="173.1" y="700.7" font-size="3.4" fill="#333" text-anchor="middle">q1E2</text>
<text x="192.8" y="700.7" font-size="3.4" fill="#333" text-anchor="middle">q4A1</text>
<text x="210.9" y="700.7" font-size="3.4" fill="#333" text-anchor="middle">q4A1</text>
<text x="229.1" y="700.7" font-size="3.4" fill="#333" text-anchor="middle">q1B</text>
<text x="243.9" y="700.7" font-size="3.4" fill="#333" text-anchor="middle">q1D</text>
<text x="262.3" y="700.7" font-size="3.4" fill="#333" text-anchor="middle">q4D</text>
<text x="278.9" y="700.7" font-size="3.4" fill="#333" text-anchor="middle">q2C1</text>
<text x="297.7" y="700.7" font-size="3.4" fill="#333" text-anchor="middle">q3C1</text>
<text x="314.2" y="700.7" font-size="3.4" fill="#333" text-anchor="middle">q4A1</text>
<line x1="61.5" y1="712.4" x2="322" y2="712.4" stroke="#444" stroke-width="0.6"/>
<path d="M60.5,712.4 l2.5,-1 v2 z M323,712.4 l-2.5,-1 v2 z" fill="#333"/>
<rect x="183.8" y="710.4" width="16.0" height="4" fill="#F6F6F6"/>
<text x="191.8" y="713.7" font-size="3.8" font-weight="bold" fill="#333" text-anchor="middle">1,452 kb</text>
<text x="74.4" y="719.2" font-size="3.4" fill="#444" text-anchor="middle">42,111 kb</text>
<text x="103.4" y="719.2" font-size="3.4" fill="#444" text-anchor="middle">37,576 kb</text>
<text x="132.4" y="719.2" font-size="3.4" fill="#444" text-anchor="middle">92,281 kb</text>
<text x="161.3" y="719.2" font-size="3.4" fill="#444" text-anchor="middle">54,558 kb</text>
<text x="190.3" y="719.2" font-size="3.4" fill="#444" text-anchor="middle">95,295 kb</text>
<text x="219.3" y="719.2" font-size="3.4" fill="#444" text-anchor="middle">46,529 kb</text>
<text x="248.2" y="719.2" font-size="3.4" fill="#444" text-anchor="middle">79,219 kb</text>
<text x="277.2" y="719.2" font-size="3.4" fill="#444" text-anchor="middle">80,530 kb</text>
<text x="306.2" y="719.2" font-size="3.4" fill="#444" text-anchor="middle">57,100 kb</text>
<line x1="61.5" y1="721.0" x2="61.5" y2="723.5" stroke="#666" stroke-width="0.5"/>
<line x1="76.0" y1="721.0" x2="76.0" y2="723.5" stroke="#666" stroke-width="0.5"/>
<line x1="90.4" y1="721.0" x2="90.4" y2="723.5" stroke="#666" stroke-width="0.5"/>
<line x1="104.9" y1="721.0" x2="104.9" y2="723.5" stroke="#666" stroke-width="0.5"/>
<line x1="119.4" y1="721.0" x2="119.4" y2="723.5" stroke="#666" stroke-width="0.5"/>
<line x1="133.9" y1="721.0" x2="133.9" y2="723.5" stroke="#666" stroke-width="0.5"/>
<line x1="148.3" y1="721.0" x2="148.3" y2="723.5" stroke="#666" stroke-width="0.5"/>
<line x1="162.8" y1="721.0" x2="162.8" y2="723.5" stroke="#666" stroke-width="0.5"/>
<line x1="177.3" y1="721.0" x2="177.3" y2="723.5" stroke="#666" stroke-width="0.5"/>
<line x1="191.8" y1="721.0" x2="191.8" y2="723.5" stroke="#666" stroke-width="0.5"/>
<line x1="206.2" y1="721.0" x2="206.2" y2="723.5" stroke="#666" stroke-width="0.5"/>
<line x1="220.7" y1="721.0" x2="220.7" y2="723.5" stroke="#666" stroke-width="0.5"/>
<line x1="235.2" y1="721.0" x2="235.2" y2="723.5" stroke="#666" stroke-width="0.5"/>
<line x1="249.6" y1="721.0" x2="249.6" y2="723.5" stroke="#666" stroke-width="0.5"/>
<line x1="264.1" y1="721.0" x2="264.1" y2="723.5" stroke="#666" stroke-width="0.5"/>
<line x1="278.6" y1="721.0" x2="278.6" y2="723.5" stroke="#666" stroke-width="0.5"/>
<line x1="293.1" y1="721.0" x2="293.1" y2="723.5" stroke="#666" stroke-width="0.5"/>
<line x1="307.5" y1="721.0" x2="307.5" y2="723.5" stroke="#666" stroke-width="0.5"/>
<line x1="322.0" y1="721.0" x2="322.0" y2="723.5" stroke="#666" stroke-width="0.5"/>
<line x1="58.5" y1="723.5" x2="325" y2="723.5" stroke="#777" stroke-width="0.7"/>
<rect x="58.5" y="725.0" width="266.5" height="1.36" fill="#A8A8A8"/>
<text x="60.5" y="730.9" font-size="3.4" fill="#333">[0-117]</text>
<path d="M59.0,738.6v-1.1h.7v1.1h0.0v-0.3h.7v0.3h0.0v-0.8h.7v0.8h0.0v-5.3h.7v5.3h0.0v-7.4h.7v7.4h0.7v-0.3h.7v0.3h0.0v-0.3h.7v0.3h0.0v-0.4h.7v0.4h0.0v-0.4h.7v0.4h0.0v-0.5h.7v0.5h0.0v-0.9h.7v0.9h0.0v-0.7h.7v0.7h0.7v-0.7h.7v0.7h0.0v-5.1h.7v5.1h0.0v-0.9h.7v0.9h0.0v-1.0h.7v1.0h0.0v-1.0h.7v1.0h0.7v-2.7h.7v2.7h0.7v-0.3h.7v0.3h0.0v-0.9h.7v0.9h0.0v-0.5h.7v0.5h0.0v-0.7h.7v0.7h0.7v-1.8h.7v1.8h0.0v-0.9h.7v0.9h0.0v-0.8h.7v0.8h0.7v-0.6h.7v0.6h0.0v-7.4h.7v7.4h0.0v-6.1h.7v6.1h0.0v-2.6h.7v2.6h0.0v-8.9h.7v8.9h0.7v-4.1h.7v4.1h0.0v-2.7h.7v2.7h0.0v-1.1h.7v1.1h0.0v-0.3h.7v0.3h0.7v-0.3h.7v0.3h0.0v-1.7h.7v1.7h0.0v-0.6h.7v0.6h0.7v-0.7h.7v0.7h0.0v-0.7h.7v0.7h0.0v-0.4h.7v0.4h0.0v-0.4h.7v0.4h0.7v-0.7h.7v0.7h0.7v-0.4h.7v0.4h0.7v-0.9h.7v0.9h0.0v-0.7h.7v0.7h0.0v-0.5h.7v0.5h0.7v-0.9h.7v0.9h0.0v-2.0h.7v2.0h0.7v-1.8h.7v1.8h0.0v-0.3h.7v0.3h0.0v-1.0h.7v1.0h0.0v-1.0h.7v1.0h0.7v-0.7h.7v0.7h0.7v-1.0h.7v1.0h0.7v-1.0h.7v1.0h0.0v-0.8h.7v0.8h0.0v-0.8h.7v0.8h0.0v-0.6h.7v0.6h0.0v-0.5h.7v0.5h0.7v-1.1h.7v1.1h0.0v-2.9h.7v2.9h0.7v-0.3h.7v0.3h0.0v-0.5h.7v0.5h0.7v-0.7h.7v0.7h0.0v-3.5h.7v3.5h0.0v-0.7h.7v0.7h0.7v-3.7h.7v3.7h0.7v-2.5h.7v2.5h0.7v-0.7h.7v0.7h0.0v-0.3h.7v0.3h0.0v-0.7h.7v0.7h0.7v-0.5h.7v0.5h0.7v-3.8h.7v3.8h0.7v-0.4h.7v0.4h0.0v-0.4h.7v0.4h0.0v-1.1h.7v1.1h0.0v-0.3h.7v0.3h0.0v-6.2h.7v6.2h0.0v-1.0h.7v1.0h0.0v-0.6h.7v0.6h0.0v-0.8h.7v0.8h0.7v-1.1h.7v1.1h0.7v-0.8h.7v0.8h0.0v-0.8h.7v0.8h0.7v-0.6h.7v0.6h0.0v-0.7h.7v0.7h0.0v-1.0h.7v1.0h0.0v-1.1h.7v1.1h0.7v-0.5h.7v0.5h0.0v-0.5h.7v0.5h0.0v-0.4h.7v0.4h0.0v-0.7h.7v0.7h0.0v-0.7h.7v0.7h0.7v-1.6h.7v1.6h0.0v-0.7h.7v0.7h0.7v-0.6h.7v0.6h0.0v-0.6h.7v0.6h0.7v-1.0h.7v1.0h0.0v-2.5h.7v2.5h0.0v-0.9h.7v0.9h0.7v-5.3h.7v5.3h0.0v-0.9h.7v0.9h0.0v-0.7h.7v0.7h0.0v-0.8h.7v0.8h0.7v-1.0h.7v1.0h0.0v-1.0h.7v1.0h0.7v-1.0h.7v1.0h0.0v-2.0h.7v2.0h0.0v-0.4h.7v0.4h0.7v-0.6h.7v0.6h0.0v-1.0h.7v1.0h0.0v-0.4h.7v0.4h0.0v-0.4h.7v0.4h0.0v-0.6h.7v0.6h0.7v-0.9h.7v0.9h0.0v-0.9h.7v0.9h0.0v-0.6h.7v0.6h0.7v-0.9h.7v0.9h0.7v-1.1h.7v1.1h0.7v-0.7h.7v0.7h0.0v-0.8h.7v0.8h0.7v-0.4h.7v0.4h0.0v-1.8h.7v1.8h0.0v-0.8h.7v0.8h0.0v-0.3h.7v0.3h0.0v-0.6h.7v0.6h0.0v-2.4h.7v2.4h0.7v-5.5h.7v5.5h0.0v-0.6h.7v0.6h0.7v-0.4h.7v0.4h0.7v-0.3h.7v0.3h0.7v-1.0h.7v1.0h0.7v-0.4h.7v0.4h0.0v-0.9h.7v0.9h0.0v-3.4h.7v3.4h0.0v-0.4h.7v0.4h0.0v-0.6h.7v0.6h0.0v-2.0h.7v2.0h0.0v-0.5h.7v0.5h0.0v-1.1h.7v1.1h0.7v-5.9h.7v5.9h0.7v-0.5h.7v0.5h0.0v-1.6h.7v1.6h0.0v-0.5h.7v0.5h0.0v-0.8h.7v0.8h0.0v-2.0h.7v2.0h0.0v-0.9h.7v0.9h0.7v-5.8h.7v5.8h0.0v-0.7h.7v0.7h0.0v-1.0h.7v1.0h0.0v-0.8h.7v0.8h0.0v-1.1h.7v1.1h0.0v-0.6h.7v0.6h0.7v-0.7h.7v0.7h0.0v-0.7h.7v0.7h0.0v-0.5h.7v0.5h0.0v-0.5h.7v0.5h0.7v-0.9h.7v0.9h0.0v-0.8h.7v0.8h0.7v-0.8h.7v0.8h0.0v-0.6h.7v0.6h0.0v-0.5h.7v0.5h0.7v-3.4h.7v3.4h0.0v-0.3h.7v0.3h0.0v-1.0h.7v1.0h0.0v-0.5h.7v0.5h0.7v-6.5h.7v6.5h0.0v-0.6h.7v0.6h0.0v-0.4h.7v0.4h0.0v-0.8h.7v0.8h0.7v-0.9h.7v0.9h0.7v-2.2h.7v2.2h0.0v-0.7h.7v0.7h0.0v-1.0h.7v1.0h0.0v-0.9h.7v0.9h0.7v-2.2h.7v2.2h0.0v-0.7h.7v0.7h0.7v-3.3h.7v3.3h0.7v-5.8h.7v5.8h0.0v-5.6h.7v5.6h0.0v-1.0h.7v1.0h0.0v-4.1h.7v4.1h0.0v-0.6h.7v0.6h0.0v-3.8h.7v3.8h0.7v-1.0h.7v1.0h0.7v-0.6h.7v0.6h0.7v-0.4h.7v0.4h0.0v-0.8h.7v0.8h0.0v-1.0h.7v1.0h0.0v-0.8h.7v0.8h0.0v-0.7h.7v0.7h0.0v-1.0h.7v1.0h0.0v-0.3h.7v0.3h0.0v-0.8h.7v0.8h0.7v-0.9h.7v0.9h0.0v-0.5h.7v0.5h0.7v-1.0h.7v1.0h0.0v-0.8h.7v0.8h0.7v-0.5h.7v0.5h0.0v-0.7h.7v0.7h0.0v-0.9h.7v0.9h0.0v-3.7h.7v3.7h0.0v-0.8h.7v0.8h0.7v-0.6h.7v0.6h0.0v-3.0h.7v3.0h0.0v-2.6h.7v2.6h0.7v-0.5h.7v0.5h0.0v-2.2h.7v2.2h0.0v-0.6h.7v0.6h0.0v-0.7h.7v0.7h0.0v-0.4h.7v0.4h0.0v-7.6h.7v7.6h0.0v-0.6h.7v0.6h0.7v-1.0h.7v1.0h0.0v-0.6h.7v0.6h0.7v-0.4h.7v0.4h0.0v-0.3h.7v0.3h0.7v-8.1h.7v8.1h0.7v-0.3h.7v0.3h0.0v-2.7h.7v2.7h0.0v-6.3h.7v6.3h0.0v-3.9h.7v3.9h0.7v-0.4h.7v0.4h0.7v-0.5h.7v0.5h0.0v-0.5h.7v0.5h0.7v-0.9h.7v0.9h0.0v-3.9h.7v3.9h0.7v-0.3h.7v0.3h0.0v-0.5h.7v0.5h0.0v-0.8h.7v0.8h0.7v-0.7h.7v0.7h0.0v-0.6h.7v0.6h0.7v-0.8h.7v0.8h0.7v-1.0h.7v1.0h0.0v-1.1h.7v1.1h0.7v-0.4h.7v0.4h0.7v-0.5h.7v0.5h0.0v-1.1h.7v1.1h0.7v-0.9h.7v0.9h0.0v-1.0h.7v1.0h0.7v-0.7h.7v0.7h0.0v-1.0h.7v1.0h0.0v-0.4h.7v0.4h0.7v-0.4h.7v0.4h0.7v-0.7h.7v0.7h0.0v-0.4h.7v0.4h0.0v-0.4h.7v0.4h0.0v-0.8h.7v0.8h0.0v-0.9h.7v0.9h0.0v-0.7h.7v0.7h0.0v-5.5h.7v5.5h0.0v-0.9h.7v0.9h0.0v-6.5h.7v6.5h0.0v-1.1h.7v1.1h0.0v-0.7h.7v0.7h0.7v-0.3h.7v0.3h0.0v-3.2h.7v3.2h0.7v-0.9h.7v0.9h0.0v-1.0h.7v1.0h0.7v-0.5h.7v0.5h0.0v-1.0h.7v1.0h0.7v-1.0h.7v1.0h0.0v-1.1h.7v1.1h0.7v-0.9h.7v0.9h0.0v-1.9h.7v1.9h0.0v-2.2h.7v2.2h0.0v-0.8h.7v0.8h0.0v-0.4h.7v0.4h0.7v-3.1h.7v3.1h0.0v-1.5h.7v1.5h0.0v-0.4h.7v0.4h0.0v-0.6h.7v0.6h0.7v-1.0h.7v1.0h0.7v-2.0h.7v2.0h0.0v-0.7h.7v0.7h0.7v-0.9h.7v0.9h0.7v-0.9h.7v0.9h0.0v-0.7h.7v0.7h0.0v-2.2h.7v2.2h0.0v-0.4h.7v0.4h0.0v-0.4h.7v0.4h0.7v-0.7h.7v0.7h0.0v-3.1h.7v3.1h0.0v-0.4h.7v0.4h0.7Z" fill="#2626B4"/>
<line x1="58.5" y1="738.56" x2="325" y2="738.56" stroke="#2626B4" stroke-width="0.8"/>
<line x1="60.5" y1="742.25" x2="92.4" y2="742.25" stroke="#3030D0" stroke-width="0.7"/>
<rect x="78.6" y="740.25" width="0.9" height="4.00" fill="#1A1AC0"/>
<rect x="81.6" y="740.25" width="2.5" height="4.00" fill="#1A1AC0"/>
<rect x="64.9" y="740.25" width="1.9" height="4.00" fill="#1A1AC0"/>
<line x1="97.4" y1="742.25" x2="113.4" y2="742.25" stroke="#3030D0" stroke-width="0.7"/>
<rect x="101.6" y="740.25" width="2.7" height="4.00" fill="#1A1AC0"/>
<rect x="104.6" y="740.25" width="2.4" height="4.00" fill="#1A1AC0"/>
<rect x="101.2" y="740.25" width="2.1" height="4.00" fill="#1A1AC0"/>
<rect x="106.1" y="740.25" width="0.9" height="4.00" fill="#1A1AC0"/>
<line x1="121.8" y1="742.25" x2="133.8" y2="742.25" stroke="#3030D0" stroke-width="0.7"/>
<rect x="129.0" y="740.25" width="1.1" height="4.00" fill="#1A1AC0"/>
<rect x="131.7" y="740.25" width="1.4" height="4.00" fill="#1A1AC0"/>
<rect x="132.6" y="740.25" width="1.3" height="4.00" fill="#1A1AC0"/>
<rect x="128.7" y="740.25" width="2.6" height="4.00" fill="#1A1AC0"/>
<line x1="137.1" y1="742.25" x2="158.2" y2="742.25" stroke="#3030D0" stroke-width="0.7"/>
<rect x="145.6" y="740.25" width="2.5" height="4.00" fill="#1A1AC0"/>
<rect x="156.8" y="740.25" width="3.0" height="4.00" fill="#1A1AC0"/>
<line x1="195.7" y1="742.25" x2="218.4" y2="742.25" stroke="#3030D0" stroke-width="0.7"/>
<rect x="199.3" y="740.25" width="1.7" height="4.00" fill="#1A1AC0"/>
<rect x="196.4" y="740.25" width="2.0" height="4.00" fill="#1A1AC0"/>
<line x1="221.3" y1="742.25" x2="239.0" y2="742.25" stroke="#3030D0" stroke-width="0.7"/>
<rect x="225.9" y="740.25" width="2.0" height="4.00" fill="#1A1AC0"/>
<rect x="227.1" y="740.25" width="2.2" height="4.00" fill="#1A1AC0"/>
<rect x="221.9" y="740.25" width="2.3" height="4.00" fill="#1A1AC0"/>
<line x1="242.0" y1="742.25" x2="273.0" y2="742.25" stroke="#3030D0" stroke-width="0.7"/>
<rect x="252.7" y="740.25" width="2.8" height="4.00" fill="#1A1AC0"/>
<rect x="270.3" y="740.25" width="2.0" height="4.00" fill="#1A1AC0"/>
<rect x="254.6" y="740.25" width="1.4" height="4.00" fill="#1A1AC0"/>
<rect x="269.6" y="740.25" width="1.8" height="4.00" fill="#1A1AC0"/>
<rect x="270.1" y="740.25" width="2.3" height="4.00" fill="#1A1AC0"/>
<line x1="280.8" y1="742.25" x2="291.6" y2="742.25" stroke="#3030D0" stroke-width="0.7"/>
<rect x="284.3" y="740.25" width="1.9" height="4.00" fill="#1A1AC0"/>
<rect x="285.3" y="740.25" width="0.9" height="4.00" fill="#1A1AC0"/>
<rect x="290.6" y="740.25" width="1.5" height="4.00" fill="#1A1AC0"/>
<rect x="287.4" y="740.25" width="1.8" height="4.00" fill="#1A1AC0"/>
<rect x="284.8" y="740.25" width="1.5" height="4.00" fill="#1A1AC0"/>
<rect x="289.3" y="740.25" width="2.7" height="4.00" fill="#1A1AC0"/>
<text x="69.2" y="749.3" font-size="3.5" fill="#444" text-anchor="middle">Skap2</text>
<text x="95.8" y="749.3" font-size="3.5" fill="#444" text-anchor="middle">Snx10</text>
<text x="122.5" y="749.3" font-size="3.5" fill="#444" text-anchor="middle">Jazf1</text>
<text x="149.1" y="749.3" font-size="3.5" fill="#444" text-anchor="middle">Snx10</text>
<text x="175.8" y="749.3" font-size="3.5" fill="#444" text-anchor="middle">Evx1</text>
<text x="202.4" y="749.3" font-size="3.5" fill="#444" text-anchor="middle">Nfe2l3</text>
<text x="229.1" y="749.3" font-size="3.5" fill="#444" text-anchor="middle">Jazf1</text>
<text x="255.7" y="749.3" font-size="3.5" fill="#444" text-anchor="middle">Skap2</text>
<text x="282.4" y="749.3" font-size="3.5" fill="#444" text-anchor="middle">Hibadh</text>
<text x="309.0" y="749.3" font-size="3.5" fill="#444" text-anchor="middle">Snx10</text>
<polygon points="202.9,711.5 216.5,711.5 209.7,726.2" fill="#F00"/>
<polygon points="279.6,711.5 293.2,711.5 286.4,726.2" fill="#F00"/>
<rect x="341.25" y="691.25" width="270.75" height="60.0" fill="#F6F6F6" stroke="#CFCFCF" stroke-width="0.7"/>
<text x="343.25" y="694.5" font-size="3.6" fill="#333">chr16:81,977,899-69,562,620</text>
<rect x="341.75" y="695.75" width="269.75" height="3.00" fill="#fff" stroke="#aaa" stroke-width="0.3"/>
<rect x="341.75" y="695.75" width="27.04" height="3.00" fill="#000"/>
<rect x="368.79" y="695.75" width="14.33" height="3.00" fill="#fff"/>
<rect x="383.12" y="695.75" width="19.85" height="3.00" fill="#fff"/>
<rect x="402.96" y="695.75" width="25.86" height="3.00" fill="#000"/>
<rect x="428.82" y="695.75" width="19.29" height="3.00" fill="#000"/>
<rect x="448.11" y="695.75" width="12.55" height="3.00" fill="#bbb"/>
<rect x="460.66" y="695.75" width="27.70" height="3.00" fill="#777"/>
<rect x="488.37" y="695.75" width="11.62" height="3.00" fill="#fff"/>
<rect x="499.99" y="695.75" width="29.11" height="3.00" fill="#777"/>
<rect x="529.11" y="695.75" width="24.83" height="3.00" fill="#777"/>
<rect x="553.94" y="695.75" width="13.81" height="3.00" fill="#000"/>
<rect x="567.76" y="695.75" width="26.59" height="3.00" fill="#000"/>
<rect x="594.35" y="695.75" width="11.96" height="3.00" fill="#000"/>
<rect x="606.31" y="695.75" width="5.19" height="3.00" fill="#fff"/>
<rect x="413.0" y="695.35" width="8.1" height="3.80" fill="#fff" stroke="#f22" stroke-width="0.9"/>
<text x="350.1" y="701.5" font-size="3.4" fill="#333" text-anchor="middle">q4E2</text>
<text x="369.7" y="701.5" font-size="3.4" fill="#333" text-anchor="middle">q2C1</text>
<text x="386.4" y="701.5" font-size="3.4" fill="#333" text-anchor="middle">q1D</text>
<text x="405.0" y="701.5" font-size="3.4" fill="#333" text-anchor="middle">q4E2</text>
<text x="424.5" y="701.5" font-size="3.4" fill="#333" text-anchor="middle">q1C1</text>
<text x="439.8" y="701.5" font-size="3.4" fill="#333" text-anchor="middle">q2E2</text>
<text x="457.7" y="701.5" font-size="3.4" fill="#333" text-anchor="middle">q1E2</text>
<text x="477.7" y="701.5" font-size="3.4" fill="#333" text-anchor="middle">q4A1</text>
<text x="496.1" y="701.5" font-size="3.4" fill="#333" text-anchor="middle">q4A1</text>
<text x="514.6" y="701.5" font-size="3.4" fill="#333" text-anchor="middle">q1B</text>
<text x="529.6" y="701.5" font-size="3.4" fill="#333" text-anchor="middle">q1D</text>
<text x="548.3" y="701.5" font-size="3.4" fill="#333" text-anchor="middle">q4D</text>
<text x="565.2" y="701.5" font-size="3.4" fill="#333" text-anchor="middle">q2C1</text>
<text x="584.3" y="701.5" font-size="3.4" fill="#333" text-anchor="middle">q3C1</text>
<text x="601.0" y="701.5" font-size="3.4" fill="#333" text-anchor="middle">q4A1</text>
<line x1="344.25" y1="712.9" x2="609" y2="712.9" stroke="#444" stroke-width="0.6"/>
<path d="M343.25,712.9 l2.5,-1 v2 z M610,712.9 l-2.5,-1 v2 z" fill="#333"/>
<rect x="468.5" y="710.9" width="16.2" height="4" fill="#F6F6F6"/>
<text x="476.6" y="714.1" font-size="3.8" font-weight="bold" fill="#333" text-anchor="middle">1,452 kb</text>
<text x="357.4" y="719.5" font-size="3.4" fill="#444" text-anchor="middle">42,111 kb</text>
<text x="386.9" y="719.5" font-size="3.4" fill="#444" text-anchor="middle">37,576 kb</text>
<text x="416.3" y="719.5" font-size="3.4" fill="#444" text-anchor="middle">92,281 kb</text>
<text x="445.7" y="719.5" font-size="3.4" fill="#444" text-anchor="middle">54,558 kb</text>
<text x="475.2" y="719.5" font-size="3.4" fill="#444" text-anchor="middle">95,295 kb</text>
<text x="504.6" y="719.5" font-size="3.4" fill="#444" text-anchor="middle">46,529 kb</text>
<text x="534.0" y="719.5" font-size="3.4" fill="#444" text-anchor="middle">79,219 kb</text>
<text x="563.4" y="719.5" font-size="3.4" fill="#444" text-anchor="middle">80,530 kb</text>
<text x="592.9" y="719.5" font-size="3.4" fill="#444" text-anchor="middle">57,100 kb</text>
<line x1="344.2" y1="721.2" x2="344.2" y2="723.6" stroke="#666" stroke-width="0.5"/>
<line x1="359.0" y1="721.2" x2="359.0" y2="723.6" stroke="#666" stroke-width="0.5"/>
<line x1="373.7" y1="721.2" x2="373.7" y2="723.6" stroke="#666" stroke-width="0.5"/>
<line x1="388.4" y1="721.2" x2="388.4" y2="723.6" stroke="#666" stroke-width="0.5"/>
<line x1="403.1" y1="721.2" x2="403.1" y2="723.6" stroke="#666" stroke-width="0.5"/>
<line x1="417.8" y1="721.2" x2="417.8" y2="723.6" stroke="#666" stroke-width="0.5"/>
<line x1="432.5" y1="721.2" x2="432.5" y2="723.6" stroke="#666" stroke-width="0.5"/>
<line x1="447.2" y1="721.2" x2="447.2" y2="723.6" stroke="#666" stroke-width="0.5"/>
<line x1="461.9" y1="721.2" x2="461.9" y2="723.6" stroke="#666" stroke-width="0.5"/>
<line x1="476.6" y1="721.2" x2="476.6" y2="723.6" stroke="#666" stroke-width="0.5"/>
<line x1="491.3" y1="721.2" x2="491.3" y2="723.6" stroke="#666" stroke-width="0.5"/>
<line x1="506.0" y1="721.2" x2="506.0" y2="723.6" stroke="#666" stroke-width="0.5"/>
<line x1="520.8" y1="721.2" x2="520.8" y2="723.6" stroke="#666" stroke-width="0.5"/>
<line x1="535.5" y1="721.2" x2="535.5" y2="723.6" stroke="#666" stroke-width="0.5"/>
<line x1="550.2" y1="721.2" x2="550.2" y2="723.6" stroke="#666" stroke-width="0.5"/>
<line x1="564.9" y1="721.2" x2="564.9" y2="723.6" stroke="#666" stroke-width="0.5"/>
<line x1="579.6" y1="721.2" x2="579.6" y2="723.6" stroke="#666" stroke-width="0.5"/>
<line x1="594.3" y1="721.2" x2="594.3" y2="723.6" stroke="#666" stroke-width="0.5"/>
<line x1="609.0" y1="721.2" x2="609.0" y2="723.6" stroke="#666" stroke-width="0.5"/>
<line x1="341.25" y1="723.6" x2="612" y2="723.6" stroke="#777" stroke-width="0.7"/>
<rect x="341.25" y="725.1" width="270.75" height="1.32" fill="#A8A8A8"/>
<text x="343.25" y="730.9" font-size="3.4" fill="#333">[0-117]</text>
<path d="M341.8,738.4v-1.1h.7v1.1h0.0v-0.3h.7v0.3h0.0v-0.8h.7v0.8h0.0v-5.2h.7v5.2h0.0v-7.2h.7v7.2h0.7v-0.3h.7v0.3h0.0v-0.3h.7v0.3h0.0v-0.4h.7v0.4h0.0v-0.4h.7v0.4h0.0v-0.5h.7v0.5h0.0v-0.9h.7v0.9h0.0v-0.7h.7v0.7h0.7v-0.7h.7v0.7h0.0v-5.0h.7v5.0h0.0v-0.9h.7v0.9h0.0v-1.0h.7v1.0h0.0v-1.0h.7v1.0h0.7v-2.6h.7v2.6h0.7v-0.3h.7v0.3h0.0v-0.9h.7v0.9h0.0v-0.5h.7v0.5h0.0v-0.7h.7v0.7h0.7v-1.7h.7v1.7h0.0v-0.9h.7v0.9h0.0v-0.7h.7v0.7h0.7v-0.6h.7v0.6h0.0v-7.2h.7v7.2h0.0v-5.9h.7v5.9h0.0v-2.6h.7v2.6h0.0v-8.7h.7v8.7h0.7v-4.0h.7v4.0h0.0v-2.6h.7v2.6h0.0v-1.0h.7v1.0h0.0v-0.3h.7v0.3h0.7v-0.3h.7v0.3h0.0v-1.7h.7v1.7h0.0v-0.5h.7v0.5h0.7v-0.6h.7v0.6h0.0v-0.7h.7v0.7h0.0v-0.3h.7v0.3h0.0v-0.4h.7v0.4h0.7v-0.7h.7v0.7h0.7v-0.4h.7v0.4h0.7v-0.9h.7v0.9h0.0v-0.7h.7v0.7h0.0v-0.5h.7v0.5h0.7v-0.9h.7v0.9h0.0v-1.9h.7v1.9h0.7v-1.7h.7v1.7h0.0v-0.3h.7v0.3h0.0v-0.9h.7v0.9h0.0v-1.0h.7v1.0h0.7v-0.7h.7v0.7h0.7v-1.0h.7v1.0h0.7v-0.9h.7v0.9h0.0v-0.8h.7v0.8h0.0v-0.8h.7v0.8h0.0v-0.6h.7v0.6h0.0v-0.5h.7v0.5h0.7v-1.1h.7v1.1h0.0v-2.8h.7v2.8h0.7v-0.3h.7v0.3h0.0v-0.5h.7v0.5h0.7v-0.7h.7v0.7h0.0v-3.5h.7v3.5h0.0v-0.7h.7v0.7h0.7v-3.6h.7v3.6h0.7v-2.5h.7v2.5h0.7v-0.6h.7v0.6h0.0v-0.3h.7v0.3h0.0v-0.7h.7v0.7h0.7v-0.5h.7v0.5h0.7v-3.7h.7v3.7h0.7v-0.4h.7v0.4h0.0v-0.3h.7v0.3h0.0v-1.0h.7v1.0h0.0v-0.3h.7v0.3h0.0v-6.0h.7v6.0h0.0v-1.0h.7v1.0h0.0v-0.6h.7v0.6h0.0v-0.8h.7v0.8h0.7v-1.1h.7v1.1h0.7v-0.8h.7v0.8h0.0v-0.7h.7v0.7h0.7v-0.6h.7v0.6h0.0v-0.7h.7v0.7h0.0v-1.0h.7v1.0h0.0v-1.0h.7v1.0h0.7v-0.5h.7v0.5h0.0v-0.5h.7v0.5h0.0v-0.4h.7v0.4h0.0v-0.7h.7v0.7h0.0v-0.7h.7v0.7h0.7v-1.6h.7v1.6h0.0v-0.6h.7v0.6h0.7v-0.6h.7v0.6h0.0v-0.5h.7v0.5h0.7v-1.0h.7v1.0h0.0v-2.5h.7v2.5h0.0v-0.8h.7v0.8h0.7v-5.2h.7v5.2h0.0v-0.9h.7v0.9h0.0v-0.7h.7v0.7h0.0v-0.8h.7v0.8h0.7v-1.0h.7v1.0h0.0v-0.9h.7v0.9h0.7v-1.0h.7v1.0h0.0v-1.9h.7v1.9h0.0v-0.4h.7v0.4h0.7v-0.6h.7v0.6h0.0v-1.0h.7v1.0h0.0v-0.4h.7v0.4h0.0v-0.4h.7v0.4h0.0v-0.6h.7v0.6h0.7v-0.8h.7v0.8h0.0v-0.9h.7v0.9h0.0v-0.6h.7v0.6h0.7v-0.8h.7v0.8h0.7v-1.1h.7v1.1h0.7v-0.7h.7v0.7h0.0v-0.8h.7v0.8h0.7v-0.4h.7v0.4h0.0v-1.8h.7v1.8h0.0v-0.7h.7v0.7h0.0v-0.3h.7v0.3h0.0v-0.6h.7v0.6h0.0v-2.4h.7v2.4h0.7v-5.4h.7v5.4h0.0v-0.6h.7v0.6h0.7v-0.3h.7v0.3h0.7v-0.3h.7v0.3h0.7v-1.0h.7v1.0h0.7v-0.4h.7v0.4h0.0v-0.9h.7v0.9h0.0v-3.4h.7v3.4h0.0v-0.4h.7v0.4h0.0v-0.6h.7v0.6h0.0v-1.9h.7v1.9h0.0v-0.5h.7v0.5h0.0v-1.1h.7v1.1h0.7v-5.7h.7v5.7h0.7v-0.4h.7v0.4h0.0v-1.6h.7v1.6h0.0v-0.4h.7v0.4h0.0v-0.7h.7v0.7h0.0v-2.0h.7v2.0h0.0v-0.9h.7v0.9h0.7v-5.7h.7v5.7h0.0v-0.7h.7v0.7h0.0v-1.0h.7v1.0h0.0v-0.8h.7v0.8h0.0v-1.0h.7v1.0h0.0v-0.6h.7v0.6h0.7v-0.7h.7v0.7h0.0v-0.7h.7v0.7h0.0v-0.5h.7v0.5h0.0v-0.5h.7v0.5h0.7v-0.9h.7v0.9h0.0v-0.7h.7v0.7h0.7v-0.8h.7v0.8h0.0v-0.6h.7v0.6h0.0v-0.5h.7v0.5h0.7v-3.3h.7v3.3h0.0v-0.3h.7v0.3h0.0v-1.0h.7v1.0h0.0v-0.5h.7v0.5h0.7v-6.4h.7v6.4h0.0v-0.6h.7v0.6h0.0v-0.4h.7v0.4h0.0v-0.8h.7v0.8h0.7v-0.9h.7v0.9h0.7v-2.1h.7v2.1h0.0v-0.7h.7v0.7h0.0v-1.0h.7v1.0h0.0v-0.9h.7v0.9h0.7v-2.1h.7v2.1h0.0v-0.7h.7v0.7h0.7v-3.2h.7v3.2h0.7v-5.7h.7v5.7h0.0v-5.5h.7v5.5h0.0v-1.0h.7v1.0h0.0v-4.0h.7v4.0h0.0v-0.5h.7v0.5h0.0v-3.7h.7v3.7h0.7v-0.9h.7v0.9h0.7v-0.6h.7v0.6h0.7v-0.4h.7v0.4h0.0v-0.8h.7v0.8h0.0v-0.9h.7v0.9h0.0v-0.7h.7v0.7h0.0v-0.7h.7v0.7h0.0v-0.9h.7v0.9h0.0v-0.3h.7v0.3h0.0v-0.8h.7v0.8h0.7v-0.9h.7v0.9h0.0v-0.4h.7v0.4h0.7v-1.0h.7v1.0h0.0v-0.8h.7v0.8h0.7v-0.5h.7v0.5h0.0v-0.6h.7v0.6h0.0v-0.9h.7v0.9h0.0v-3.6h.7v3.6h0.0v-0.7h.7v0.7h0.7v-0.6h.7v0.6h0.0v-2.9h.7v2.9h0.0v-2.6h.7v2.6h0.7v-0.4h.7v0.4h0.0v-2.1h.7v2.1h0.0v-0.6h.7v0.6h0.0v-0.7h.7v0.7h0.0v-0.4h.7v0.4h0.0v-7.4h.7v7.4h0.0v-0.6h.7v0.6h0.7v-1.0h.7v1.0h0.0v-0.6h.7v0.6h0.7v-0.4h.7v0.4h0.0v-0.3h.7v0.3h0.7v-7.9h.7v7.9h0.7v-0.3h.7v0.3h0.0v-2.6h.7v2.6h0.0v-6.1h.7v6.1h0.0v-3.8h.7v3.8h0.7v-0.4h.7v0.4h0.7v-0.5h.7v0.5h0.0v-0.5h.7v0.5h0.7v-0.9h.7v0.9h0.0v-3.8h.7v3.8h0.7v-0.3h.7v0.3h0.0v-0.5h.7v0.5h0.0v-0.7h.7v0.7h0.7v-0.7h.7v0.7h0.0v-0.6h.7v0.6h0.7v-0.8h.7v0.8h0.7v-1.0h.7v1.0h0.0v-1.0h.7v1.0h0.7v-0.3h.7v0.3h0.7v-0.4h.7v0.4h0.0v-1.1h.7v1.1h0.7v-0.9h.7v0.9h0.0v-1.0h.7v1.0h0.7v-0.6h.7v0.6h0.0v-1.0h.7v1.0h0.0v-0.4h.7v0.4h0.7v-0.4h.7v0.4h0.7v-0.7h.7v0.7h0.0v-0.4h.7v0.4h0.0v-0.4h.7v0.4h0.0v-0.8h.7v0.8h0.0v-0.8h.7v0.8h0.0v-0.7h.7v0.7h0.0v-5.3h.7v5.3h0.0v-0.9h.7v0.9h0.0v-6.4h.7v6.4h0.0v-1.1h.7v1.1h0.0v-0.7h.7v0.7h0.7v-0.3h.7v0.3h0.0v-3.2h.7v3.2h0.7v-0.9h.7v0.9h0.0v-1.0h.7v1.0h0.7v-0.5h.7v0.5h0.0v-1.0h.7v1.0h0.7v-1.0h.7v1.0h0.0v-1.0h.7v1.0h0.7v-0.9h.7v0.9h0.0v-1.9h.7v1.9h0.0v-2.2h.7v2.2h0.0v-0.8h.7v0.8h0.0v-0.4h.7v0.4h0.7v-3.1h.7v3.1h0.0v-1.4h.7v1.4h0.0v-0.4h.7v0.4h0.0v-0.6h.7v0.6h0.7v-0.9h.7v0.9h0.7v-1.9h.7v1.9h0.0v-0.7h.7v0.7h0.7v-0.9h.7v0.9h0.7v-0.9h.7v0.9h0.0v-0.7h.7v0.7h0.0v-2.2h.7v2.2h0.0v-0.4h.7v0.4h0.0v-0.4h.7v0.4h0.7v-0.7h.7v0.7h0.0v-3.0h.7v3.0h0.0v-0.4h.7v0.4h0.7v-0.8h.7v0.8h0.7v-0.3h.7v0.3h0.7v-0.4h.7v0.4h0.0Z" fill="#2626B4"/>
<line x1="341.25" y1="738.35" x2="612" y2="738.35" stroke="#2626B4" stroke-width="0.8"/>
<line x1="343.2" y1="741.95" x2="361.5" y2="741.95" stroke="#3030D0" stroke-width="0.7"/>
<rect x="360.2" y="740.00" width="1.6" height="3.90" fill="#1A1AC0"/>
<rect x="351.7" y="740.00" width="1.1" height="3.90" fill="#1A1AC0"/>
<line x1="387.6" y1="741.95" x2="409.4" y2="741.95" stroke="#3030D0" stroke-width="0.7"/>
<rect x="391.3" y="740.00" width="2.4" height="3.90" fill="#1A1AC0"/>
<rect x="407.1" y="740.00" width="1.5" height="3.90" fill="#1A1AC0"/>
<rect x="390.8" y="740.00" width="2.9" height="3.90" fill="#1A1AC0"/>
<rect x="387.7" y="740.00" width="2.3" height="3.90" fill="#1A1AC0"/>
<line x1="413.9" y1="741.95" x2="440.5" y2="741.95" stroke="#3030D0" stroke-width="0.7"/>
<rect x="418.9" y="740.00" width="2.0" height="3.90" fill="#1A1AC0"/>
<rect x="416.0" y="740.00" width="0.9" height="3.90" fill="#1A1AC0"/>
<rect x="418.7" y="740.00" width="3.0" height="3.90" fill="#1A1AC0"/>
<line x1="449.1" y1="741.95" x2="473.3" y2="741.95" stroke="#3030D0" stroke-width="0.7"/>
<rect x="464.0" y="740.00" width="2.2" height="3.90" fill="#1A1AC0"/>
<rect x="467.5" y="740.00" width="1.1" height="3.90" fill="#1A1AC0"/>
<rect x="459.1" y="740.00" width="0.9" height="3.90" fill="#1A1AC0"/>
<rect x="461.9" y="740.00" width="1.1" height="3.90" fill="#1A1AC0"/>
<rect x="458.9" y="740.00" width="1.5" height="3.90" fill="#1A1AC0"/>
<line x1="492.6" y1="741.95" x2="519.9" y2="741.95" stroke="#3030D0" stroke-width="0.7"/>
<rect x="503.6" y="740.00" width="1.9" height="3.90" fill="#1A1AC0"/>
<rect x="495.4" y="740.00" width="1.6" height="3.90" fill="#1A1AC0"/>
<rect x="517.0" y="740.00" width="2.8" height="3.90" fill="#1A1AC0"/>
<line x1="525.8" y1="741.95" x2="543.9" y2="741.95" stroke="#3030D0" stroke-width="0.7"/>
<rect x="540.9" y="740.00" width="2.7" height="3.90" fill="#1A1AC0"/>
<rect x="533.2" y="740.00" width="1.8" height="3.90" fill="#1A1AC0"/>
<rect x="536.0" y="740.00" width="2.8" height="3.90" fill="#1A1AC0"/>
<rect x="535.3" y="740.00" width="2.0" height="3.90" fill="#1A1AC0"/>
<rect x="533.6" y="740.00" width="2.8" height="3.90" fill="#1A1AC0"/>
<line x1="548.1" y1="741.95" x2="557.6" y2="741.95" stroke="#3030D0" stroke-width="0.7"/>
<rect x="555.0" y="740.00" width="2.1" height="3.90" fill="#1A1AC0"/>
<rect x="555.2" y="740.00" width="1.5" height="3.90" fill="#1A1AC0"/>
<rect x="553.7" y="740.00" width="1.0" height="3.90" fill="#1A1AC0"/>
<rect x="549.3" y="740.00" width="1.8" height="3.90" fill="#1A1AC0"/>
<rect x="552.8" y="740.00" width="1.7" height="3.90" fill="#1A1AC0"/>
<line x1="559.9" y1="741.95" x2="585.0" y2="741.95" stroke="#3030D0" stroke-width="0.7"/>
<rect x="573.6" y="740.00" width="2.2" height="3.90" fill="#1A1AC0"/>
<rect x="583.5" y="740.00" width="2.7" height="3.90" fill="#1A1AC0"/>
<rect x="585.0" y="740.00" width="2.4" height="3.90" fill="#1A1AC0"/>
<line x1="593.1" y1="741.95" x2="609.0" y2="741.95" stroke="#3030D0" stroke-width="0.7"/>
<rect x="605.9" y="740.00" width="1.3" height="3.90" fill="#1A1AC0"/>
<rect x="605.0" y="740.00" width="2.0" height="3.90" fill="#1A1AC0"/>
<rect x="607.5" y="740.00" width="1.0" height="3.90" fill="#1A1AC0"/>
<rect x="605.7" y="740.00" width="1.1" height="3.90" fill="#1A1AC0"/>
<rect x="601.6" y="740.00" width="2.9" height="3.90" fill="#1A1AC0"/>
<rect x="593.1" y="740.00" width="1.3" height="3.90" fill="#1A1AC0"/>
<text x="352.1" y="748.9" font-size="3.5" fill="#444" text-anchor="middle">Hibadh</text>
<text x="379.2" y="748.9" font-size="3.5" fill="#444" text-anchor="middle">Tax1bp1</text>
<text x="406.2" y="748.9" font-size="3.5" fill="#444" text-anchor="middle">Skap2</text>
<text x="433.3" y="748.9" font-size="3.5" fill="#444" text-anchor="middle">Cbx3</text>
<text x="460.4" y="748.9" font-size="3.5" fill="#444" text-anchor="middle">Cbx3</text>
<text x="487.5" y="748.9" font-size="3.5" fill="#444" text-anchor="middle">Snx10</text>
<text x="514.5" y="748.9" font-size="3.5" fill="#444" text-anchor="middle">Nfe2l3</text>
<text x="541.6" y="748.9" font-size="3.5" fill="#444" text-anchor="middle">Tax1bp1</text>
<text x="568.7" y="748.9" font-size="3.5" fill="#444" text-anchor="middle">Hibadh</text>
<text x="595.8" y="748.9" font-size="3.5" fill="#444" text-anchor="middle">Mir148a</text>
<polygon points="488.2,712.0 501.8,712.0 495.0,726.4" fill="#F00"/>
<polygon points="565.2,712.0 578.8,712.0 572.0,726.4" fill="#F00"/>
<rect x="649.7" y="675.5" width="267.79999999999995" height="65.29999999999995" fill="#F6F6F6" stroke="#CFCFCF" stroke-width="0.7"/>
<text x="651.7" y="679.1" font-size="3.6" fill="#333">chr6:41,124,727-67,288,818</text>
<rect x="650.2" y="680.40" width="266.79999999999995" height="3.26" fill="#fff" stroke="#aaa" stroke-width="0.3"/>
<rect x="650.20" y="680.40" width="12.97" height="3.26" fill="#777"/>
<rect x="663.17" y="680.40" width="27.18" height="3.26" fill="#bbb"/>
<rect x="690.36" y="680.40" width="27.39" height="3.26" fill="#000"/>
<rect x="717.74" y="680.40" width="15.76" height="3.26" fill="#000"/>
<rect x="733.50" y="680.40" width="16.70" height="3.26" fill="#fff"/>
<rect x="750.20" y="680.40" width="14.07" height="3.26" fill="#fff"/>
<rect x="764.27" y="680.40" width="23.56" height="3.26" fill="#fff"/>
<rect x="787.83" y="680.40" width="23.99" height="3.26" fill="#000"/>
<rect x="811.82" y="680.40" width="21.53" height="3.26" fill="#000"/>
<rect x="833.35" y="680.40" width="21.76" height="3.26" fill="#000"/>
<rect x="855.11" y="680.40" width="18.61" height="3.26" fill="#000"/>
<rect x="873.73" y="680.40" width="26.64" height="3.26" fill="#fff"/>
<rect x="900.37" y="680.40" width="16.63" height="3.26" fill="#777"/>
<rect x="820.3" y="680.00" width="8.0" height="4.06" fill="#fff" stroke="#f22" stroke-width="0.9"/>
<text x="660.5" y="686.6" font-size="3.4" fill="#333" text-anchor="middle">q1C1</text>
<text x="676.9" y="686.6" font-size="3.4" fill="#333" text-anchor="middle">q3B</text>
<text x="696.2" y="686.6" font-size="3.4" fill="#333" text-anchor="middle">q3E2</text>
<text x="710.8" y="686.6" font-size="3.4" fill="#333" text-anchor="middle">q3B</text>
<text x="729.8" y="686.6" font-size="3.4" fill="#333" text-anchor="middle">q3E2</text>
<text x="749.5" y="686.6" font-size="3.4" fill="#333" text-anchor="middle">q4C1</text>
<text x="765.8" y="686.6" font-size="3.4" fill="#333" text-anchor="middle">q4D</text>
<text x="784.2" y="686.6" font-size="3.4" fill="#333" text-anchor="middle">q2C1</text>
<text x="801.7" y="686.6" font-size="3.4" fill="#333" text-anchor="middle">q4E2</text>
<text x="817.4" y="686.6" font-size="3.4" fill="#333" text-anchor="middle">q4E2</text>
<text x="836.9" y="686.6" font-size="3.4" fill="#333" text-anchor="middle">q1D</text>
<text x="854.4" y="686.6" font-size="3.4" fill="#333" text-anchor="middle">q4D</text>
<text x="871.1" y="686.6" font-size="3.4" fill="#333" text-anchor="middle">q2E2</text>
<text x="889.7" y="686.6" font-size="3.4" fill="#333" text-anchor="middle">q1A1</text>
<text x="908.4" y="686.6" font-size="3.4" fill="#333" text-anchor="middle">q2B</text>
<line x1="652.7" y1="699.0" x2="914.5" y2="699.0" stroke="#444" stroke-width="0.6"/>
<path d="M651.7,699.0 l2.5,-1 v2 z M915.5,699.0 l-2.5,-1 v2 z" fill="#333"/>
<rect x="775.6" y="697.0" width="16.1" height="4" fill="#F6F6F6"/>
<text x="783.6" y="700.3" font-size="3.8" font-weight="bold" fill="#333" text-anchor="middle">1,759 kb</text>
<text x="665.7" y="706.2" font-size="3.4" fill="#444" text-anchor="middle">78,457 kb</text>
<text x="694.8" y="706.2" font-size="3.4" fill="#444" text-anchor="middle">52,436 kb</text>
<text x="723.9" y="706.2" font-size="3.4" fill="#444" text-anchor="middle">75,744 kb</text>
<text x="753.0" y="706.2" font-size="3.4" fill="#444" text-anchor="middle">54,554 kb</text>
<text x="782.1" y="706.2" font-size="3.4" fill="#444" text-anchor="middle">34,164 kb</text>
<text x="811.3" y="706.2" font-size="3.4" fill="#444" text-anchor="middle">98,237 kb</text>
<text x="840.4" y="706.2" font-size="3.4" fill="#444" text-anchor="middle">55,771 kb</text>
<text x="869.5" y="706.2" font-size="3.4" fill="#444" text-anchor="middle">42,153 kb</text>
<text x="898.6" y="706.2" font-size="3.4" fill="#444" text-anchor="middle">54,520 kb</text>
<line x1="652.7" y1="708.1" x2="652.7" y2="710.8" stroke="#666" stroke-width="0.5"/>
<line x1="667.2" y1="708.1" x2="667.2" y2="710.8" stroke="#666" stroke-width="0.5"/>
<line x1="681.8" y1="708.1" x2="681.8" y2="710.8" stroke="#666" stroke-width="0.5"/>
<line x1="696.3" y1="708.1" x2="696.3" y2="710.8" stroke="#666" stroke-width="0.5"/>
<line x1="710.9" y1="708.1" x2="710.9" y2="710.8" stroke="#666" stroke-width="0.5"/>
<line x1="725.4" y1="708.1" x2="725.4" y2="710.8" stroke="#666" stroke-width="0.5"/>
<line x1="740.0" y1="708.1" x2="740.0" y2="710.8" stroke="#666" stroke-width="0.5"/>
<line x1="754.5" y1="708.1" x2="754.5" y2="710.8" stroke="#666" stroke-width="0.5"/>
<line x1="769.1" y1="708.1" x2="769.1" y2="710.8" stroke="#666" stroke-width="0.5"/>
<line x1="783.6" y1="708.1" x2="783.6" y2="710.8" stroke="#666" stroke-width="0.5"/>
<line x1="798.1" y1="708.1" x2="798.1" y2="710.8" stroke="#666" stroke-width="0.5"/>
<line x1="812.7" y1="708.1" x2="812.7" y2="710.8" stroke="#666" stroke-width="0.5"/>
<line x1="827.2" y1="708.1" x2="827.2" y2="710.8" stroke="#666" stroke-width="0.5"/>
<line x1="841.8" y1="708.1" x2="841.8" y2="710.8" stroke="#666" stroke-width="0.5"/>
<line x1="856.3" y1="708.1" x2="856.3" y2="710.8" stroke="#666" stroke-width="0.5"/>
<line x1="870.9" y1="708.1" x2="870.9" y2="710.8" stroke="#666" stroke-width="0.5"/>
<line x1="885.4" y1="708.1" x2="885.4" y2="710.8" stroke="#666" stroke-width="0.5"/>
<line x1="900.0" y1="708.1" x2="900.0" y2="710.8" stroke="#666" stroke-width="0.5"/>
<line x1="914.5" y1="708.1" x2="914.5" y2="710.8" stroke="#666" stroke-width="0.5"/>
<line x1="649.7" y1="710.8" x2="917.5" y2="710.8" stroke="#777" stroke-width="0.7"/>
<rect x="649.7" y="712.4" width="267.79999999999995" height="1.44" fill="#A8A8A8"/>
<text x="651.7" y="718.6" font-size="3.4" fill="#333">[0-107]</text>
<path d="M650.2,726.8v-4.2h.7v4.2h0.0v-2.9h.7v2.9h0.0v-4.4h.7v4.4h0.7v-3.6h.7v3.6h0.7v-3.8h.7v3.8h0.7v-4.2h.7v4.2h0.0v-3.3h.7v3.3h0.0v-8.3h.7v8.3h0.0v-5.1h.7v5.1h0.7v-1.8h.7v1.8h0.0v-9.1h.7v9.1h0.0v-1.8h.7v1.8h0.0v-6.6h.7v6.6h0.7v-1.0h.7v1.0h0.0v-4.0h.7v4.0h0.0v-7.3h.7v7.3h0.0v-3.6h.7v3.6h0.0v-6.0h.7v6.0h0.0v-8.2h.7v8.2h0.0v-3.4h.7v3.4h0.0v-3.2h.7v3.2h0.0v-1.6h.7v1.6h0.7v-8.0h.7v8.0h0.7v-2.2h.7v2.2h0.0v-6.6h.7v6.6h0.7v-1.5h.7v1.5h0.0v-2.0h.7v2.0h0.7v-3.1h.7v3.1h0.0v-3.0h.7v3.0h0.0v-1.9h.7v1.9h0.7v-3.5h.7v3.5h0.7v-0.5h.7v0.5h0.0v-3.7h.7v3.7h0.0v-2.0h.7v2.0h0.0v-6.8h.7v6.8h0.0v-4.3h.7v4.3h0.0v-4.0h.7v4.0h0.0v-3.7h.7v3.7h0.0v-0.9h.7v0.9h0.7v-1.8h.7v1.8h0.0v-7.4h.7v7.4h0.7v-0.7h.7v0.7h0.7v-2.4h.7v2.4h0.7v-0.9h.7v0.9h0.7v-3.4h.7v3.4h0.0v-2.2h.7v2.2h0.0v-0.6h.7v0.6h0.0v-1.8h.7v1.8h0.0v-2.0h.7v2.0h0.0v-2.5h.7v2.5h0.7v-3.1h.7v3.1h0.7v-0.6h.7v0.6h0.0v-0.7h.7v0.7h0.0v-6.1h.7v6.1h0.0v-5.1h.7v5.1h0.7v-1.8h.7v1.8h0.0v-3.0h.7v3.0h0.0v-2.6h.7v2.6h0.7v-2.8h.7v2.8h0.7v-8.3h.7v8.3h0.7v-2.5h.7v2.5h0.0v-5.3h.7v5.3h0.0v-3.8h.7v3.8h0.0v-3.3h.7v3.3h0.7v-9.4h.7v9.4h0.0v-2.2h.7v2.2h0.7v-0.6h.7v0.6h0.0v-2.0h.7v2.0h0.0v-0.8h.7v0.8h0.7v-9.2h.7v9.2h0.7v-7.5h.7v7.5h0.7v-3.2h.7v3.2h0.0v-2.5h.7v2.5h0.7v-4.3h.7v4.3h0.0v-6.9h.7v6.9h0.0v-1.6h.7v1.6h0.7v-3.8h.7v3.8h0.0v-3.6h.7v3.6h0.0v-6.7h.7v6.7h0.7v-4.9h.7v4.9h0.0v-1.9h.7v1.9h0.7v-1.9h.7v1.9h0.0v-2.9h.7v2.9h0.0v-7.4h.7v7.4h0.0v-2.8h.7v2.8h0.7v-2.1h.7v2.1h0.0v-1.6h.7v1.6h0.0v-8.9h.7v8.9h0.0v-0.8h.7v0.8h0.0v-3.6h.7v3.6h0.0v-2.7h.7v2.7h0.0v-3.1h.7v3.1h0.0v-1.1h.7v1.1h0.0v-0.9h.7v0.9h0.0v-9.6h.7v9.6h0.7v-2.6h.7v2.6h0.0v-4.0h.7v4.0h0.0v-3.3h.7v3.3h0.7v-6.3h.7v6.3h0.7v-8.9h.7v8.9h0.0v-2.8h.7v2.8h0.0v-5.5h.7v5.5h0.0v-3.8h.7v3.8h0.7v-3.4h.7v3.4h0.7v-1.7h.7v1.7h0.0v-5.8h.7v5.8h0.0v-9.3h.7v9.3h0.0v-3.6h.7v3.6h0.0v-3.8h.7v3.8h0.0v-2.9h.7v2.9h0.0v-6.4h.7v6.4h0.7v-1.8h.7v1.8h0.0v-6.0h.7v6.0h0.0v-1.9h.7v1.9h0.7v-9.3h.7v9.3h0.0v-3.7h.7v3.7h0.0v-5.5h.7v5.5h0.0v-8.5h.7v8.5h0.0v-2.3h.7v2.3h0.0v-2.6h.7v2.6h0.7v-5.9h.7v5.9h0.0v-9.6h.7v9.6h0.7v-5.1h.7v5.1h0.0v-1.8h.7v1.8h0.0v-1.5h.7v1.5h0.7v-3.8h.7v3.8h0.0v-3.0h.7v3.0h0.0v-2.2h.7v2.2h0.0v-5.7h.7v5.7h0.0v-2.2h.7v2.2h0.0v-2.2h.7v2.2h0.0v-3.5h.7v3.5h0.7v-3.2h.7v3.2h0.0v-3.8h.7v3.8h0.0v-7.0h.7v7.0h0.7v-5.4h.7v5.4h0.0v-2.6h.7v2.6h0.0v-1.7h.7v1.7h0.0v-4.0h.7v4.0h0.7v-2.3h.7v2.3h0.0v-6.2h.7v6.2h0.7v-0.5h.7v0.5h0.0v-4.3h.7v4.3h0.7v-3.7h.7v3.7h0.7v-2.9h.7v2.9h0.7v-2.2h.7v2.2h0.0v-6.7h.7v6.7h0.7v-3.0h.7v3.0h0.7v-6.6h.7v6.6h0.0v-3.5h.7v3.5h0.7v-3.1h.7v3.1h0.7v-4.4h.7v4.4h0.0v-2.6h.7v2.6h0.0v-2.6h.7v2.6h0.7v-4.3h.7v4.3h0.7v-2.5h.7v2.5h0.0v-3.7h.7v3.7h0.7v-1.6h.7v1.6h0.7v-2.6h.7v2.6h0.7v-2.8h.7v2.8h0.0v-5.9h.7v5.9h0.0v-1.6h.7v1.6h0.0v-8.5h.7v8.5h0.7v-3.0h.7v3.0h0.0v-1.8h.7v1.8h0.0v-4.0h.7v4.0h0.0v-2.4h.7v2.4h0.7v-4.0h.7v4.0h0.7v-2.0h.7v2.0h0.0v-3.6h.7v3.6h0.0v-2.3h.7v2.3h0.0v-3.8h.7v3.8h0.0v-2.1h.7v2.1h0.0v-2.3h.7v2.3h0.0v-6.3h.7v6.3h0.7v-3.3h.7v3.3h0.7v-1.9h.7v1.9h0.0v-3.7h.7v3.7h0.0v-7.2h.7v7.2h0.7v-2.8h.7v2.8h0.0v-7.4h.7v7.4h0.7v-7.5h.7v7.5h0.0v-2.1h.7v2.1h0.0v-6.4h.7v6.4h0.7v-4.4h.7v4.4h0.7v-2.8h.7v2.8h0.0v-2.5h.7v2.5h0.0v-3.3h.7v3.3h0.0v-1.8h.7v1.8h0.0v-2.9h.7v2.9h0.7v-2.4h.7v2.4h0.7v-0.9h.7v0.9h0.0v-3.4h.7v3.4h0.7v-4.2h.7v4.2h0.7v-7.2h.7v7.2h0.0v-0.4h.7v0.4h0.0v-2.7h.7v2.7h0.0v-2.1h.7v2.1h0.0v-2.3h.7v2.3h0.0v-3.0h.7v3.0h0.7v-4.3h.7v4.3h0.0v-1.8h.7v1.8h0.7v-4.0h.7v4.0h0.0v-1.6h.7v1.6h0.7v-3.9h.7v3.9h0.0v-8.3h.7v8.3h0.0v-2.7h.7v2.7h0.7v-3.9h.7v3.9h0.7v-2.8h.7v2.8h0.0v-4.1h.7v4.1h0.7v-4.1h.7v4.1h0.7v-8.0h.7v8.0h0.7v-6.7h.7v6.7h0.7v-3.0h.7v3.0h0.0v-9.2h.7v9.2h0.0v-3.2h.7v3.2h0.0v-3.0h.7v3.0h0.7v-2.0h.7v2.0h0.0v-4.1h.7v4.1h0.0v-3.4h.7v3.4h0.7v-4.4h.7v4.4h0.7v-8.4h.7v8.4h0.0v-1.8h.7v1.8h0.7v-3.0h.7v3.0h0.0v-9.4h.7v9.4h0.7v-7.7h.7v7.7h0.7v-6.7h.7v6.7h0.0v-1.8h.7v1.8h0.7v-8.2h.7v8.2h0.0v-3.7h.7v3.7h0.7v-8.8h.7v8.8h0.7v-1.5h.7v1.5h0.0v-4.3h.7v4.3h0.0v-6.9h.7v6.9h0.0v-4.0h.7v4.0h0.7v-9.4h.7v9.4h0.7v-9.1h.7v9.1h0.7v-3.7h.7v3.7h0.7v-1.5h.7v1.5h0.7v-1.9h.7v1.9h0.0v-4.1h.7v4.1h0.0v-8.3h.7v8.3h0.0v-2.8h.7v2.8h0.7v-8.7h.7v8.7h0.0v-2.9h.7v2.9h0.0v-7.1h.7v7.1h0.0v-5.5h.7v5.5h0.7v-4.4h.7v4.4h0.7v-9.1h.7v9.1h0.7v-2.9h.7v2.9h0.7v-2.2h.7v2.2h0.7v-6.8h.7v6.8h0.0v-3.8h.7v3.8h0.0v-6.8h.7v6.8h0.0v-5.2h.7v5.2h0.0v-3.8h.7v3.8h0.7v-4.4h.7v4.4h0.0v-2.8h.7v2.8h0.7v-3.6h.7v3.6h0.7v-1.0h.7v1.0h0.0v-3.8h.7v3.8h0.7v-8.5h.7v8.5h0.7v-5.5h.7v5.5h0.0v-2.4h.7v2.4h0.7v-7.7h.7v7.7h0.0v-3.6h.7v3.6h0.0v-1.8h.7v1.8h0.0v-3.5h.7v3.5h0.0v-2.0h.7v2.0h0.0v-2.9h.7v2.9h0.7v-2.9h.7v2.9h0.0v-8.0h.7v8.0h0.0v-2.6h.7v2.6h0.0v-1.5h.7v1.5h0.0v-1.5h.7v1.5h0.7Z" fill="#2626B4"/>
<line x1="649.7" y1="726.76" x2="917.5" y2="726.76" stroke="#2626B4" stroke-width="0.8"/>
<line x1="651.7" y1="730.68" x2="673.3" y2="730.68" stroke="#3030D0" stroke-width="0.7"/>
<rect x="655.3" y="728.56" width="2.7" height="4.24" fill="#1A1AC0"/>
<rect x="654.9" y="728.56" width="3.8" height="4.24" fill="#1A1AC0"/>
<rect x="660.8" y="728.56" width="1.3" height="4.24" fill="#1A1AC0"/>
<rect x="662.0" y="728.56" width="3.0" height="4.24" fill="#1A1AC0"/>
<line x1="676.9" y1="730.68" x2="695.1" y2="730.68" stroke="#3030D0" stroke-width="0.7"/>
<rect x="693.9" y="728.56" width="1.6" height="4.24" fill="#1A1AC0"/>
<rect x="684.5" y="728.56" width="2.2" height="4.24" fill="#1A1AC0"/>
<line x1="701.0" y1="730.68" x2="714.3" y2="730.68" stroke="#3030D0" stroke-width="0.7"/>
<rect x="701.8" y="728.56" width="1.2" height="4.24" fill="#1A1AC0"/>
<rect x="711.2" y="728.56" width="2.5" height="4.24" fill="#1A1AC0"/>
<rect x="708.4" y="728.56" width="1.4" height="4.24" fill="#1A1AC0"/>
<rect x="710.1" y="728.56" width="1.9" height="4.24" fill="#1A1AC0"/>
<rect x="706.4" y="728.56" width="2.9" height="4.24" fill="#1A1AC0"/>
<line x1="720.2" y1="730.68" x2="743.0" y2="730.68" stroke="#3030D0" stroke-width="0.7"/>
<rect x="728.4" y="728.56" width="1.8" height="4.24" fill="#1A1AC0"/>
<rect x="727.5" y="728.56" width="4.0" height="4.24" fill="#1A1AC0"/>
<rect x="730.0" y="728.56" width="1.4" height="4.24" fill="#1A1AC0"/>
<line x1="745.5" y1="730.68" x2="758.6" y2="730.68" stroke="#3030D0" stroke-width="0.7"/>
<rect x="750.4" y="728.56" width="1.5" height="4.24" fill="#1A1AC0"/>
<rect x="754.0" y="728.56" width="1.6" height="4.24" fill="#1A1AC0"/>
<rect x="753.3" y="728.56" width="3.6" height="4.24" fill="#1A1AC0"/>
<rect x="748.1" y="728.56" width="4.3" height="4.24" fill="#1A1AC0"/>
<rect x="757.6" y="728.56" width="4.3" height="4.24" fill="#1A1AC0"/>
<rect x="753.9" y="728.56" width="3.4" height="4.24" fill="#1A1AC0"/>
<line x1="761.2" y1="730.68" x2="776.8" y2="730.68" stroke="#3030D0" stroke-width="0.7"/>
<rect x="771.6" y="728.56" width="3.4" height="4.24" fill="#1A1AC0"/>
<rect x="774.4" y="728.56" width="4.3" height="4.24" fill="#1A1AC0"/>
<rect x="772.5" y="728.56" width="1.2" height="4.24" fill="#1A1AC0"/>
<rect x="768.5" y="728.56" width="3.4" height="4.24" fill="#1A1AC0"/>
<rect x="773.4" y="728.56" width="2.2" height="4.24" fill="#1A1AC0"/>
<line x1="779.2" y1="730.68" x2="801.3" y2="730.68" stroke="#3030D0" stroke-width="0.7"/>
<rect x="798.9" y="728.56" width="2.6" height="4.24" fill="#1A1AC0"/>
<rect x="797.5" y="728.56" width="4.3" height="4.24" fill="#1A1AC0"/>
<rect x="785.3" y="728.56" width="2.6" height="4.24" fill="#1A1AC0"/>
<rect x="788.6" y="728.56" width="3.5" height="4.24" fill="#1A1AC0"/>
<rect x="798.6" y="728.56" width="1.9" height="4.24" fill="#1A1AC0"/>
<rect x="781.4" y="728.56" width="2.1" height="4.24" fill="#1A1AC0"/>
<line x1="805.8" y1="730.68" x2="830.0" y2="730.68" stroke="#3030D0" stroke-width="0.7"/>
<rect x="817.5" y="728.56" width="3.9" height="4.24" fill="#1A1AC0"/>
<rect x="816.6" y="728.56" width="3.6" height="4.24" fill="#1A1AC0"/>
<rect x="809.3" y="728.56" width="3.7" height="4.24" fill="#1A1AC0"/>
<rect x="826.8" y="728.56" width="3.9" height="4.24" fill="#1A1AC0"/>
<line x1="837.5" y1="730.68" x2="861.7" y2="730.68" stroke="#3030D0" stroke-width="0.7"/>
<rect x="861.5" y="728.56" width="1.8" height="4.24" fill="#1A1AC0"/>
<rect x="839.7" y="728.56" width="1.6" height="4.24" fill="#1A1AC0"/>
<rect x="840.0" y="728.56" width="1.3" height="4.24" fill="#1A1AC0"/>
<rect x="844.9" y="728.56" width="4.3" height="4.24" fill="#1A1AC0"/>
<line x1="869.0" y1="730.68" x2="882.8" y2="730.68" stroke="#3030D0" stroke-width="0.7"/>
<rect x="881.1" y="728.56" width="2.0" height="4.24" fill="#1A1AC0"/>
<rect x="877.8" y="728.56" width="1.7" height="4.24" fill="#1A1AC0"/>
<rect x="875.1" y="728.56" width="2.4" height="4.24" fill="#1A1AC0"/>
<rect x="880.3" y="728.56" width="4.2" height="4.24" fill="#1A1AC0"/>
<line x1="890.8" y1="730.68" x2="911.5" y2="730.68" stroke="#3030D0" stroke-width="0.7"/>
<rect x="902.0" y="728.56" width="1.6" height="4.24" fill="#1A1AC0"/>
<rect x="896.4" y="728.56" width="4.4" height="4.24" fill="#1A1AC0"/>
<text x="660.4" y="738.2" font-size="3.5" fill="#444" text-anchor="middle">Skap2</text>
<text x="687.2" y="738.2" font-size="3.5" fill="#444" text-anchor="middle">Cbx3</text>
<text x="714.0" y="738.2" font-size="3.5" fill="#444" text-anchor="middle">Hibadh</text>
<text x="740.8" y="738.2" font-size="3.5" fill="#444" text-anchor="middle">Tax1bp1</text>
<text x="767.5" y="738.2" font-size="3.5" fill="#444" text-anchor="middle">Tax1bp1</text>
<text x="794.3" y="738.2" font-size="3.5" fill="#444" text-anchor="middle">Skap2</text>
<text x="821.1" y="738.2" font-size="3.5" fill="#444" text-anchor="middle">Tax1bp1</text>
<text x="847.9" y="738.2" font-size="3.5" fill="#444" text-anchor="middle">Nfe2l3</text>
<text x="874.7" y="738.2" font-size="3.5" fill="#444" text-anchor="middle">Evx1</text>
<text x="901.4" y="738.2" font-size="3.5" fill="#444" text-anchor="middle">Skap2</text>
<polygon points="742.5,698.0 756.1,698.0 749.3,713.7" fill="#F00"/>
<polygon points="823.7,698.0 837.3,698.0 830.5,713.7" fill="#F00"/>
<rect x="930.7" y="676.5" width="268.0999999999999" height="65.0" fill="#F6F6F6" stroke="#CFCFCF" stroke-width="0.7"/>
<text x="932.7" y="680.1" font-size="3.6" fill="#333">chr6:41,124,727-67,288,818</text>
<rect x="931.2" y="681.38" width="267.0999999999999" height="3.25" fill="#fff" stroke="#aaa" stroke-width="0.3"/>
<rect x="931.20" y="681.38" width="12.99" height="3.25" fill="#777"/>
<rect x="944.19" y="681.38" width="27.21" height="3.25" fill="#bbb"/>
<rect x="971.40" y="681.38" width="27.42" height="3.25" fill="#000"/>
<rect x="998.82" y="681.38" width="15.78" height="3.25" fill="#000"/>
<rect x="1014.60" y="681.38" width="16.72" height="3.25" fill="#fff"/>
<rect x="1031.31" y="681.38" width="14.09" height="3.25" fill="#fff"/>
<rect x="1045.40" y="681.38" width="23.58" height="3.25" fill="#fff"/>
<rect x="1068.99" y="681.38" width="24.01" height="3.25" fill="#000"/>
<rect x="1093.00" y="681.38" width="21.56" height="3.25" fill="#000"/>
<rect x="1114.55" y="681.38" width="21.79" height="3.25" fill="#000"/>
<rect x="1136.34" y="681.38" width="18.63" height="3.25" fill="#000"/>
<rect x="1154.98" y="681.38" width="26.67" height="3.25" fill="#fff"/>
<rect x="1181.65" y="681.38" width="16.65" height="3.25" fill="#777"/>
<rect x="1101.5" y="680.98" width="8.0" height="4.05" fill="#fff" stroke="#f22" stroke-width="0.9"/>
<text x="941.5" y="687.5" font-size="3.4" fill="#333" text-anchor="middle">q1C1</text>
<text x="958.0" y="687.5" font-size="3.4" fill="#333" text-anchor="middle">q3B</text>
<text x="977.2" y="687.5" font-size="3.4" fill="#333" text-anchor="middle">q3E2</text>
<text x="991.8" y="687.5" font-size="3.4" fill="#333" text-anchor="middle">q3B</text>
<text x="1010.9" y="687.5" font-size="3.4" fill="#333" text-anchor="middle">q3E2</text>
<text x="1030.6" y="687.5" font-size="3.4" fill="#333" text-anchor="middle">q4C1</text>
<text x="1046.9" y="687.5" font-size="3.4" fill="#333" text-anchor="middle">q4D</text>
<text x="1065.4" y="687.5" font-size="3.4" fill="#333" text-anchor="middle">q2C1</text>
<text x="1082.9" y="687.5" font-size="3.4" fill="#333" text-anchor="middle">q4E2</text>
<text x="1098.6" y="687.5" font-size="3.4" fill="#333" text-anchor="middle">q4E2</text>
<text x="1118.1" y="687.5" font-size="3.4" fill="#333" text-anchor="middle">q1D</text>
<text x="1135.7" y="687.5" font-size="3.4" fill="#333" text-anchor="middle">q4D</text>
<text x="1152.3" y="687.5" font-size="3.4" fill="#333" text-anchor="middle">q2E2</text>
<text x="1170.9" y="687.5" font-size="3.4" fill="#333" text-anchor="middle">q1A1</text>
<text x="1189.7" y="687.5" font-size="3.4" fill="#333" text-anchor="middle">q2B</text>
<line x1="933.7" y1="699.9" x2="1195.8" y2="699.9" stroke="#444" stroke-width="0.6"/>
<path d="M932.7,699.9 l2.5,-1 v2 z M1196.8,699.9 l-2.5,-1 v2 z" fill="#333"/>
<rect x="1056.7" y="697.9" width="16.1" height="4" fill="#F6F6F6"/>
<text x="1064.8" y="701.2" font-size="3.8" font-weight="bold" fill="#333" text-anchor="middle">1,759 kb</text>
<text x="946.7" y="707.0" font-size="3.4" fill="#444" text-anchor="middle">78,457 kb</text>
<text x="975.9" y="707.0" font-size="3.4" fill="#444" text-anchor="middle">52,436 kb</text>
<text x="1005.0" y="707.0" font-size="3.4" fill="#444" text-anchor="middle">75,744 kb</text>
<text x="1034.2" y="707.0" font-size="3.4" fill="#444" text-anchor="middle">54,554 kb</text>
<text x="1063.3" y="707.0" font-size="3.4" fill="#444" text-anchor="middle">34,164 kb</text>
<text x="1092.4" y="707.0" font-size="3.4" fill="#444" text-anchor="middle">98,237 kb</text>
<text x="1121.6" y="707.0" font-size="3.4" fill="#444" text-anchor="middle">55,771 kb</text>
<text x="1150.7" y="707.0" font-size="3.4" fill="#444" text-anchor="middle">42,153 kb</text>
<text x="1179.9" y="707.0" font-size="3.4" fill="#444" text-anchor="middle">54,520 kb</text>
<line x1="933.7" y1="709.0" x2="933.7" y2="711.6" stroke="#666" stroke-width="0.5"/>
<line x1="948.3" y1="709.0" x2="948.3" y2="711.6" stroke="#666" stroke-width="0.5"/>
<line x1="962.8" y1="709.0" x2="962.8" y2="711.6" stroke="#666" stroke-width="0.5"/>
<line x1="977.4" y1="709.0" x2="977.4" y2="711.6" stroke="#666" stroke-width="0.5"/>
<line x1="991.9" y1="709.0" x2="991.9" y2="711.6" stroke="#666" stroke-width="0.5"/>
<line x1="1006.5" y1="709.0" x2="1006.5" y2="711.6" stroke="#666" stroke-width="0.5"/>
<line x1="1021.1" y1="709.0" x2="1021.1" y2="711.6" stroke="#666" stroke-width="0.5"/>
<line x1="1035.6" y1="709.0" x2="1035.6" y2="711.6" stroke="#666" stroke-width="0.5"/>
<line x1="1050.2" y1="709.0" x2="1050.2" y2="711.6" stroke="#666" stroke-width="0.5"/>
<line x1="1064.8" y1="709.0" x2="1064.8" y2="711.6" stroke="#666" stroke-width="0.5"/>
<line x1="1079.3" y1="709.0" x2="1079.3" y2="711.6" stroke="#666" stroke-width="0.5"/>
<line x1="1093.9" y1="709.0" x2="1093.9" y2="711.6" stroke="#666" stroke-width="0.5"/>
<line x1="1108.4" y1="709.0" x2="1108.4" y2="711.6" stroke="#666" stroke-width="0.5"/>
<line x1="1123.0" y1="709.0" x2="1123.0" y2="711.6" stroke="#666" stroke-width="0.5"/>
<line x1="1137.6" y1="709.0" x2="1137.6" y2="711.6" stroke="#666" stroke-width="0.5"/>
<line x1="1152.1" y1="709.0" x2="1152.1" y2="711.6" stroke="#666" stroke-width="0.5"/>
<line x1="1166.7" y1="709.0" x2="1166.7" y2="711.6" stroke="#666" stroke-width="0.5"/>
<line x1="1181.2" y1="709.0" x2="1181.2" y2="711.6" stroke="#666" stroke-width="0.5"/>
<line x1="1195.8" y1="709.0" x2="1195.8" y2="711.6" stroke="#666" stroke-width="0.5"/>
<line x1="930.7" y1="711.6" x2="1198.8" y2="711.6" stroke="#777" stroke-width="0.7"/>
<rect x="930.7" y="713.2" width="268.0999999999999" height="1.43" fill="#A8A8A8"/>
<text x="932.7" y="719.4" font-size="3.4" fill="#333">[0-107]</text>
<path d="M931.2,727.5v-4.2h.7v4.2h0.0v-2.9h.7v2.9h0.0v-4.4h.7v4.4h0.7v-3.6h.7v3.6h0.7v-3.8h.7v3.8h0.7v-4.2h.7v4.2h0.0v-3.3h.7v3.3h0.0v-8.2h.7v8.2h0.0v-5.1h.7v5.1h0.7v-1.8h.7v1.8h0.0v-9.1h.7v9.1h0.0v-1.7h.7v1.7h0.0v-6.6h.7v6.6h0.7v-1.0h.7v1.0h0.0v-3.9h.7v3.9h0.0v-7.3h.7v7.3h0.0v-3.6h.7v3.6h0.0v-6.0h.7v6.0h0.0v-8.1h.7v8.1h0.0v-3.4h.7v3.4h0.0v-3.2h.7v3.2h0.0v-1.5h.7v1.5h0.7v-8.0h.7v8.0h0.7v-2.1h.7v2.1h0.0v-6.5h.7v6.5h0.7v-1.5h.7v1.5h0.0v-2.0h.7v2.0h0.7v-3.1h.7v3.1h0.0v-3.0h.7v3.0h0.0v-1.9h.7v1.9h0.7v-3.5h.7v3.5h0.7v-0.5h.7v0.5h0.0v-3.7h.7v3.7h0.0v-2.0h.7v2.0h0.0v-6.7h.7v6.7h0.0v-4.3h.7v4.3h0.0v-4.0h.7v4.0h0.0v-3.7h.7v3.7h0.0v-0.9h.7v0.9h0.7v-1.8h.7v1.8h0.0v-7.3h.7v7.3h0.7v-0.7h.7v0.7h0.7v-2.4h.7v2.4h0.7v-0.9h.7v0.9h0.7v-3.4h.7v3.4h0.0v-2.2h.7v2.2h0.0v-0.6h.7v0.6h0.0v-1.8h.7v1.8h0.0v-2.0h.7v2.0h0.0v-2.5h.7v2.5h0.7v-3.0h.7v3.0h0.7v-0.6h.7v0.6h0.0v-0.7h.7v0.7h0.0v-6.0h.7v6.0h0.0v-5.1h.7v5.1h0.7v-1.8h.7v1.8h0.0v-2.9h.7v2.9h0.0v-2.6h.7v2.6h0.7v-2.8h.7v2.8h0.7v-8.2h.7v8.2h0.7v-2.5h.7v2.5h0.0v-5.3h.7v5.3h0.0v-3.7h.7v3.7h0.0v-3.3h.7v3.3h0.7v-9.4h.7v9.4h0.0v-2.2h.7v2.2h0.7v-0.6h.7v0.6h0.0v-2.0h.7v2.0h0.0v-0.8h.7v0.8h0.7v-9.1h.7v9.1h0.7v-7.5h.7v7.5h0.7v-3.2h.7v3.2h0.0v-2.5h.7v2.5h0.7v-4.3h.7v4.3h0.0v-6.9h.7v6.9h0.0v-1.6h.7v1.6h0.7v-3.7h.7v3.7h0.0v-3.6h.7v3.6h0.0v-6.7h.7v6.7h0.7v-4.9h.7v4.9h0.0v-1.9h.7v1.9h0.7v-1.9h.7v1.9h0.0v-2.9h.7v2.9h0.0v-7.3h.7v7.3h0.0v-2.8h.7v2.8h0.7v-2.1h.7v2.1h0.0v-1.6h.7v1.6h0.0v-8.9h.7v8.9h0.0v-0.8h.7v0.8h0.0v-3.6h.7v3.6h0.0v-2.7h.7v2.7h0.0v-3.1h.7v3.1h0.0v-1.1h.7v1.1h0.0v-0.9h.7v0.9h0.0v-9.5h.7v9.5h0.7v-2.6h.7v2.6h0.0v-4.0h.7v4.0h0.0v-3.3h.7v3.3h0.7v-6.3h.7v6.3h0.7v-8.9h.7v8.9h0.0v-2.8h.7v2.8h0.0v-5.4h.7v5.4h0.0v-3.8h.7v3.8h0.7v-3.4h.7v3.4h0.7v-1.7h.7v1.7h0.0v-5.8h.7v5.8h0.0v-9.3h.7v9.3h0.0v-3.6h.7v3.6h0.0v-3.8h.7v3.8h0.0v-2.9h.7v2.9h0.0v-6.4h.7v6.4h0.7v-1.8h.7v1.8h0.0v-6.0h.7v6.0h0.0v-1.9h.7v1.9h0.7v-9.2h.7v9.2h0.0v-3.7h.7v3.7h0.0v-5.5h.7v5.5h0.0v-8.5h.7v8.5h0.0v-2.3h.7v2.3h0.0v-2.6h.7v2.6h0.7v-5.9h.7v5.9h0.0v-9.6h.7v9.6h0.7v-5.1h.7v5.1h0.0v-1.8h.7v1.8h0.0v-1.5h.7v1.5h0.7v-3.8h.7v3.8h0.0v-3.0h.7v3.0h0.0v-2.2h.7v2.2h0.0v-5.6h.7v5.6h0.0v-2.2h.7v2.2h0.0v-2.1h.7v2.1h0.0v-3.4h.7v3.4h0.7v-3.2h.7v3.2h0.0v-3.8h.7v3.8h0.0v-6.9h.7v6.9h0.7v-5.4h.7v5.4h0.0v-2.6h.7v2.6h0.0v-1.7h.7v1.7h0.0v-3.9h.7v3.9h0.7v-2.2h.7v2.2h0.0v-6.2h.7v6.2h0.7v-0.5h.7v0.5h0.0v-4.3h.7v4.3h0.7v-3.6h.7v3.6h0.7v-2.9h.7v2.9h0.7v-2.2h.7v2.2h0.0v-6.7h.7v6.7h0.7v-3.0h.7v3.0h0.7v-6.6h.7v6.6h0.0v-3.5h.7v3.5h0.7v-3.1h.7v3.1h0.7v-4.3h.7v4.3h0.0v-2.6h.7v2.6h0.0v-2.6h.7v2.6h0.7v-4.3h.7v4.3h0.7v-2.5h.7v2.5h0.0v-3.7h.7v3.7h0.7v-1.6h.7v1.6h0.7v-2.6h.7v2.6h0.7v-2.8h.7v2.8h0.0v-5.9h.7v5.9h0.0v-1.6h.7v1.6h0.0v-8.5h.7v8.5h0.7v-3.0h.7v3.0h0.0v-1.8h.7v1.8h0.0v-4.0h.7v4.0h0.0v-2.4h.7v2.4h0.7v-4.0h.7v4.0h0.7v-2.0h.7v2.0h0.0v-3.6h.7v3.6h0.0v-2.3h.7v2.3h0.0v-3.8h.7v3.8h0.0v-2.1h.7v2.1h0.0v-2.3h.7v2.3h0.0v-6.3h.7v6.3h0.7v-3.3h.7v3.3h0.7v-1.8h.7v1.8h0.0v-3.6h.7v3.6h0.0v-7.2h.7v7.2h0.7v-2.8h.7v2.8h0.0v-7.3h.7v7.3h0.7v-7.4h.7v7.4h0.0v-2.1h.7v2.1h0.0v-6.4h.7v6.4h0.7v-4.3h.7v4.3h0.7v-2.7h.7v2.7h0.0v-2.4h.7v2.4h0.0v-3.3h.7v3.3h0.0v-1.8h.7v1.8h0.0v-2.9h.7v2.9h0.7v-2.4h.7v2.4h0.7v-0.9h.7v0.9h0.0v-3.3h.7v3.3h0.7v-4.1h.7v4.1h0.7v-7.2h.7v7.2h0.0v-0.4h.7v0.4h0.0v-2.7h.7v2.7h0.0v-2.1h.7v2.1h0.0v-2.3h.7v2.3h0.0v-3.0h.7v3.0h0.7v-4.3h.7v4.3h0.0v-1.8h.7v1.8h0.7v-3.9h.7v3.9h0.0v-1.6h.7v1.6h0.7v-3.9h.7v3.9h0.0v-8.2h.7v8.2h0.0v-2.6h.7v2.6h0.7v-3.9h.7v3.9h0.7v-2.8h.7v2.8h0.0v-4.1h.7v4.1h0.7v-4.1h.7v4.1h0.7v-8.0h.7v8.0h0.7v-6.7h.7v6.7h0.7v-3.0h.7v3.0h0.0v-9.1h.7v9.1h0.0v-3.2h.7v3.2h0.0v-2.9h.7v2.9h0.7v-2.0h.7v2.0h0.0v-4.1h.7v4.1h0.0v-3.4h.7v3.4h0.7v-4.3h.7v4.3h0.7v-8.4h.7v8.4h0.0v-1.8h.7v1.8h0.7v-3.0h.7v3.0h0.0v-9.4h.7v9.4h0.7v-7.7h.7v7.7h0.7v-6.7h.7v6.7h0.0v-1.8h.7v1.8h0.7v-8.2h.7v8.2h0.0v-3.6h.7v3.6h0.7v-8.7h.7v8.7h0.7v-1.5h.7v1.5h0.0v-4.3h.7v4.3h0.0v-6.8h.7v6.8h0.0v-4.0h.7v4.0h0.7v-9.3h.7v9.3h0.7v-9.0h.7v9.0h0.7v-3.7h.7v3.7h0.7v-1.5h.7v1.5h0.7v-1.9h.7v1.9h0.0v-4.1h.7v4.1h0.0v-8.3h.7v8.3h0.0v-2.8h.7v2.8h0.7v-8.7h.7v8.7h0.0v-2.9h.7v2.9h0.0v-7.1h.7v7.1h0.0v-5.5h.7v5.5h0.7v-4.3h.7v4.3h0.7v-9.0h.7v9.0h0.7v-2.9h.7v2.9h0.7v-2.2h.7v2.2h0.7v-6.7h.7v6.7h0.0v-3.8h.7v3.8h0.0v-6.8h.7v6.8h0.0v-5.1h.7v5.1h0.0v-3.7h.7v3.7h0.7v-4.4h.7v4.4h0.0v-2.8h.7v2.8h0.7v-3.6h.7v3.6h0.7v-1.0h.7v1.0h0.0v-3.8h.7v3.8h0.7v-8.4h.7v8.4h0.7v-5.5h.7v5.5h0.0v-2.4h.7v2.4h0.7v-7.7h.7v7.7h0.0v-3.6h.7v3.6h0.0v-1.8h.7v1.8h0.0v-3.5h.7v3.5h0.0v-2.0h.7v2.0h0.0v-2.9h.7v2.9h0.7v-2.9h.7v2.9h0.0v-8.0h.7v8.0h0.0v-2.6h.7v2.6h0.0v-1.5h.7v1.5h0.0v-1.5h.7v1.5h0.7Z" fill="#2626B4"/>
<line x1="930.7" y1="727.52" x2="1198.8" y2="727.52" stroke="#2626B4" stroke-width="0.8"/>
<line x1="932.7" y1="731.42" x2="954.3" y2="731.42" stroke="#3030D0" stroke-width="0.7"/>
<rect x="936.3" y="729.31" width="2.7" height="4.23" fill="#1A1AC0"/>
<rect x="935.9" y="729.31" width="3.8" height="4.23" fill="#1A1AC0"/>
<rect x="941.8" y="729.31" width="1.3" height="4.23" fill="#1A1AC0"/>
<rect x="943.0" y="729.31" width="3.0" height="4.23" fill="#1A1AC0"/>
<line x1="958.0" y1="731.42" x2="976.2" y2="731.42" stroke="#3030D0" stroke-width="0.7"/>
<rect x="975.0" y="729.31" width="1.6" height="4.23" fill="#1A1AC0"/>
<rect x="965.5" y="729.31" width="2.2" height="4.23" fill="#1A1AC0"/>
<line x1="982.1" y1="731.42" x2="995.4" y2="731.42" stroke="#3030D0" stroke-width="0.7"/>
<rect x="982.8" y="729.31" width="1.2" height="4.23" fill="#1A1AC0"/>
<rect x="992.3" y="729.31" width="2.5" height="4.23" fill="#1A1AC0"/>
<rect x="989.5" y="729.31" width="1.4" height="4.23" fill="#1A1AC0"/>
<rect x="991.1" y="729.31" width="1.9" height="4.23" fill="#1A1AC0"/>
<rect x="987.5" y="729.31" width="2.9" height="4.23" fill="#1A1AC0"/>
<line x1="1001.2" y1="731.42" x2="1024.1" y2="731.42" stroke="#3030D0" stroke-width="0.7"/>
<rect x="1009.5" y="729.31" width="1.8" height="4.23" fill="#1A1AC0"/>
<rect x="1008.6" y="729.31" width="4.0" height="4.23" fill="#1A1AC0"/>
<rect x="1011.1" y="729.31" width="1.4" height="4.23" fill="#1A1AC0"/>
<line x1="1026.6" y1="731.42" x2="1039.7" y2="731.42" stroke="#3030D0" stroke-width="0.7"/>
<rect x="1031.5" y="729.31" width="1.5" height="4.23" fill="#1A1AC0"/>
<rect x="1035.1" y="729.31" width="1.6" height="4.23" fill="#1A1AC0"/>
<rect x="1034.4" y="729.31" width="3.6" height="4.23" fill="#1A1AC0"/>
<rect x="1029.1" y="729.31" width="4.3" height="4.23" fill="#1A1AC0"/>
<rect x="1038.7" y="729.31" width="4.3" height="4.23" fill="#1A1AC0"/>
<rect x="1035.0" y="729.31" width="3.4" height="4.23" fill="#1A1AC0"/>
<line x1="1042.3" y1="731.42" x2="1057.9" y2="731.42" stroke="#3030D0" stroke-width="0.7"/>
<rect x="1052.7" y="729.31" width="3.4" height="4.23" fill="#1A1AC0"/>
<rect x="1055.6" y="729.31" width="4.3" height="4.23" fill="#1A1AC0"/>
<rect x="1053.6" y="729.31" width="1.2" height="4.23" fill="#1A1AC0"/>
<rect x="1049.6" y="729.31" width="3.4" height="4.23" fill="#1A1AC0"/>
<rect x="1054.5" y="729.31" width="2.2" height="4.23" fill="#1A1AC0"/>
<line x1="1060.4" y1="731.42" x2="1082.4" y2="731.42" stroke="#3030D0" stroke-width="0.7"/>
<rect x="1080.0" y="729.31" width="2.6" height="4.23" fill="#1A1AC0"/>
<rect x="1078.7" y="729.31" width="4.3" height="4.23" fill="#1A1AC0"/>
<rect x="1066.4" y="729.31" width="2.6" height="4.23" fill="#1A1AC0"/>
<rect x="1069.7" y="729.31" width="3.5" height="4.23" fill="#1A1AC0"/>
<rect x="1079.8" y="729.31" width="1.9" height="4.23" fill="#1A1AC0"/>
<rect x="1062.5" y="729.31" width="2.1" height="4.23" fill="#1A1AC0"/>
<line x1="1086.9" y1="731.42" x2="1111.2" y2="731.42" stroke="#3030D0" stroke-width="0.7"/>
<rect x="1098.6" y="729.31" width="3.9" height="4.23" fill="#1A1AC0"/>
<rect x="1097.7" y="729.31" width="3.6" height="4.23" fill="#1A1AC0"/>
<rect x="1090.4" y="729.31" width="3.7" height="4.23" fill="#1A1AC0"/>
<rect x="1107.9" y="729.31" width="3.9" height="4.23" fill="#1A1AC0"/>
<line x1="1118.6" y1="731.42" x2="1142.9" y2="731.42" stroke="#3030D0" stroke-width="0.7"/>
<rect x="1142.7" y="729.31" width="1.8" height="4.23" fill="#1A1AC0"/>
<rect x="1120.9" y="729.31" width="1.6" height="4.23" fill="#1A1AC0"/>
<rect x="1121.1" y="729.31" width="1.3" height="4.23" fill="#1A1AC0"/>
<rect x="1126.0" y="729.31" width="4.3" height="4.23" fill="#1A1AC0"/>
<line x1="1150.2" y1="731.42" x2="1164.0" y2="731.42" stroke="#3030D0" stroke-width="0.7"/>
<rect x="1162.3" y="729.31" width="2.0" height="4.23" fill="#1A1AC0"/>
<rect x="1159.0" y="729.31" width="1.7" height="4.23" fill="#1A1AC0"/>
<rect x="1156.3" y="729.31" width="2.4" height="4.23" fill="#1A1AC0"/>
<rect x="1161.5" y="729.31" width="4.2" height="4.23" fill="#1A1AC0"/>
<line x1="1172.1" y1="731.42" x2="1192.7" y2="731.42" stroke="#3030D0" stroke-width="0.7"/>
<rect x="1183.2" y="729.31" width="1.6" height="4.23" fill="#1A1AC0"/>
<rect x="1177.6" y="729.31" width="4.4" height="4.23" fill="#1A1AC0"/>
<text x="941.4" y="738.9" font-size="3.5" fill="#444" text-anchor="middle">Skap2</text>
<text x="968.2" y="738.9" font-size="3.5" fill="#444" text-anchor="middle">Cbx3</text>
<text x="995.0" y="738.9" font-size="3.5" fill="#444" text-anchor="middle">Hibadh</text>
<text x="1021.9" y="738.9" font-size="3.5" fill="#444" text-anchor="middle">Tax1bp1</text>
<text x="1048.7" y="738.9" font-size="3.5" fill="#444" text-anchor="middle">Tax1bp1</text>
<text x="1075.5" y="738.9" font-size="3.5" fill="#444" text-anchor="middle">Skap2</text>
<text x="1102.3" y="738.9" font-size="3.5" fill="#444" text-anchor="middle">Tax1bp1</text>
<text x="1129.1" y="738.9" font-size="3.5" fill="#444" text-anchor="middle">Nfe2l3</text>
<text x="1155.9" y="738.9" font-size="3.5" fill="#444" text-anchor="middle">Evx1</text>
<text x="1182.7" y="738.9" font-size="3.5" fill="#444" text-anchor="middle">Skap2</text>
<polygon points="1022.0,698.9 1035.6,698.9 1028.8,714.5" fill="#F00"/>
<polygon points="1103.8,698.9 1117.4,698.9 1110.6,714.5" fill="#F00"/>
<rect x="51.4" y="1105.25" width="262.20000000000005" height="51.950000000000045" fill="#F6F6F6" stroke="#CFCFCF" stroke-width="0.7"/>
<text x="53.4" y="1108.1" font-size="3.6" fill="#333">chr7:90,338,936-45,590,767</text>
<rect x="51.9" y="1109.15" width="261.20000000000005" height="2.60" fill="#fff" stroke="#aaa" stroke-width="0.3"/>
<rect x="51.90" y="1109.15" width="26.64" height="2.60" fill="#fff"/>
<rect x="78.54" y="1109.15" width="27.17" height="2.60" fill="#000"/>
<rect x="105.71" y="1109.15" width="28.46" height="2.60" fill="#fff"/>
<rect x="134.17" y="1109.15" width="27.81" height="2.60" fill="#000"/>
<rect x="161.98" y="1109.15" width="28.22" height="2.60" fill="#fff"/>
<rect x="190.20" y="1109.15" width="19.32" height="2.60" fill="#000"/>
<rect x="209.52" y="1109.15" width="27.81" height="2.60" fill="#777"/>
<rect x="237.32" y="1109.15" width="11.79" height="2.60" fill="#fff"/>
<rect x="249.11" y="1109.15" width="16.16" height="2.60" fill="#fff"/>
<rect x="265.27" y="1109.15" width="26.99" height="2.60" fill="#777"/>
<rect x="292.26" y="1109.15" width="20.84" height="2.60" fill="#777"/>
<rect x="205.7" y="1108.75" width="7.9" height="3.40" fill="#fff" stroke="#f22" stroke-width="0.9"/>
<text x="61.4" y="1114.1" font-size="3.4" fill="#333" text-anchor="middle">q3C1</text>
<text x="77.8" y="1114.1" font-size="3.4" fill="#333" text-anchor="middle">q2A1</text>
<text x="96.6" y="1114.1" font-size="3.4" fill="#333" text-anchor="middle">q3C1</text>
<text x="114.6" y="1114.1" font-size="3.4" fill="#333" text-anchor="middle">q1C1</text>
<text x="128.6" y="1114.1" font-size="3.4" fill="#333" text-anchor="middle">q3B</text>
<text x="147.6" y="1114.1" font-size="3.4" fill="#333" text-anchor="middle">q3A1</text>
<text x="164.4" y="1114.1" font-size="3.4" fill="#333" text-anchor="middle">q3E2</text>
<text x="182.1" y="1114.1" font-size="3.4" fill="#333" text-anchor="middle">q2A1</text>
<text x="201.5" y="1114.1" font-size="3.4" fill="#333" text-anchor="middle">q3E2</text>
<text x="218.9" y="1114.1" font-size="3.4" fill="#333" text-anchor="middle">q1B</text>
<text x="233.3" y="1114.1" font-size="3.4" fill="#333" text-anchor="middle">q3A1</text>
<text x="250.7" y="1114.1" font-size="3.4" fill="#333" text-anchor="middle">q3C1</text>
<text x="268.7" y="1114.1" font-size="3.4" fill="#333" text-anchor="middle">q2D</text>
<text x="287.2" y="1114.1" font-size="3.4" fill="#333" text-anchor="middle">q4C1</text>
<text x="305.2" y="1114.1" font-size="3.4" fill="#333" text-anchor="middle">q4C1</text>
<line x1="54.4" y1="1124.0" x2="310.6" y2="1124.0" stroke="#444" stroke-width="0.6"/>
<path d="M53.4,1124.0 l2.5,-1 v2 z M311.6,1124.0 l-2.5,-1 v2 z" fill="#333"/>
<rect x="174.6" y="1122.0" width="15.7" height="4" fill="#F6F6F6"/>
<text x="182.5" y="1125.3" font-size="3.8" font-weight="bold" fill="#333" text-anchor="middle">2,271 kb</text>
<text x="67.1" y="1129.7" font-size="3.4" fill="#444" text-anchor="middle">31,592 kb</text>
<text x="95.6" y="1129.7" font-size="3.4" fill="#444" text-anchor="middle">78,488 kb</text>
<text x="124.1" y="1129.7" font-size="3.4" fill="#444" text-anchor="middle">76,213 kb</text>
<text x="152.6" y="1129.7" font-size="3.4" fill="#444" text-anchor="middle">61,115 kb</text>
<text x="181.1" y="1129.7" font-size="3.4" fill="#444" text-anchor="middle">99,749 kb</text>
<text x="209.6" y="1129.7" font-size="3.4" fill="#444" text-anchor="middle">86,840 kb</text>
<text x="238.1" y="1129.7" font-size="3.4" fill="#444" text-anchor="middle">70,993 kb</text>
<text x="266.6" y="1129.7" font-size="3.4" fill="#444" text-anchor="middle">50,606 kb</text>
<text x="295.1" y="1129.7" font-size="3.4" fill="#444" text-anchor="middle">91,134 kb</text>
<line x1="54.4" y1="1131.2" x2="54.4" y2="1133.3" stroke="#666" stroke-width="0.5"/>
<line x1="68.6" y1="1131.2" x2="68.6" y2="1133.3" stroke="#666" stroke-width="0.5"/>
<line x1="82.9" y1="1131.2" x2="82.9" y2="1133.3" stroke="#666" stroke-width="0.5"/>
<line x1="97.1" y1="1131.2" x2="97.1" y2="1133.3" stroke="#666" stroke-width="0.5"/>
<line x1="111.3" y1="1131.2" x2="111.3" y2="1133.3" stroke="#666" stroke-width="0.5"/>
<line x1="125.6" y1="1131.2" x2="125.6" y2="1133.3" stroke="#666" stroke-width="0.5"/>
<line x1="139.8" y1="1131.2" x2="139.8" y2="1133.3" stroke="#666" stroke-width="0.5"/>
<line x1="154.0" y1="1131.2" x2="154.0" y2="1133.3" stroke="#666" stroke-width="0.5"/>
<line x1="168.3" y1="1131.2" x2="168.3" y2="1133.3" stroke="#666" stroke-width="0.5"/>
<line x1="182.5" y1="1131.2" x2="182.5" y2="1133.3" stroke="#666" stroke-width="0.5"/>
<line x1="196.7" y1="1131.2" x2="196.7" y2="1133.3" stroke="#666" stroke-width="0.5"/>
<line x1="211.0" y1="1131.2" x2="211.0" y2="1133.3" stroke="#666" stroke-width="0.5"/>
<line x1="225.2" y1="1131.2" x2="225.2" y2="1133.3" stroke="#666" stroke-width="0.5"/>
<line x1="239.4" y1="1131.2" x2="239.4" y2="1133.3" stroke="#666" stroke-width="0.5"/>
<line x1="253.7" y1="1131.2" x2="253.7" y2="1133.3" stroke="#666" stroke-width="0.5"/>
<line x1="267.9" y1="1131.2" x2="267.9" y2="1133.3" stroke="#666" stroke-width="0.5"/>
<line x1="282.1" y1="1131.2" x2="282.1" y2="1133.3" stroke="#666" stroke-width="0.5"/>
<line x1="296.4" y1="1131.2" x2="296.4" y2="1133.3" stroke="#666" stroke-width="0.5"/>
<line x1="310.6" y1="1131.2" x2="310.6" y2="1133.3" stroke="#666" stroke-width="0.5"/>
<line x1="51.4" y1="1133.3" x2="313.6" y2="1133.3" stroke="#777" stroke-width="0.7"/>
<rect x="51.4" y="1134.6" width="262.20000000000005" height="1.14" fill="#A8A8A8"/>
<text x="53.4" y="1139.5" font-size="3.4" fill="#333">[0-144]</text>
<path d="M51.9,1146.0v-2.6h.7v2.6h0.7v-0.5h.7v0.5h0.0v-0.8h.7v0.8h0.7v-0.2h.7v0.2h0.0v-0.5h.7v0.5h0.0v-0.7h.7v0.7h0.7v-0.7h.7v0.7h0.7v-0.8h.7v0.8h0.0v-0.9h.7v0.9h0.7v-0.6h.7v0.6h0.0v-0.7h.7v0.7h0.7v-0.3h.7v0.3h0.0v-0.6h.7v0.6h0.0v-0.9h.7v0.9h0.0v-0.8h.7v0.8h0.0v-0.7h.7v0.7h0.0v-0.5h.7v0.5h0.7v-0.3h.7v0.3h0.0v-6.9h.7v6.9h0.7v-0.3h.7v0.3h0.0v-0.8h.7v0.8h0.7v-0.8h.7v0.8h0.7v-3.9h.7v3.9h0.7v-0.5h.7v0.5h0.0v-0.5h.7v0.5h0.0v-0.4h.7v0.4h0.0v-0.3h.7v0.3h0.0v-0.3h.7v0.3h0.7v-0.6h.7v0.6h0.7v-0.3h.7v0.3h0.0v-0.5h.7v0.5h0.0v-0.8h.7v0.8h0.0v-0.5h.7v0.5h0.0v-0.4h.7v0.4h0.0v-0.9h.7v0.9h0.0v-3.4h.7v3.4h0.7v-0.5h.7v0.5h0.7v-4.8h.7v4.8h0.7v-0.8h.7v0.8h0.0v-0.3h.7v0.3h0.7v-0.4h.7v0.4h0.7v-0.8h.7v0.8h0.0v-0.9h.7v0.9h0.7v-0.7h.7v0.7h0.7v-0.5h.7v0.5h0.0v-3.0h.7v3.0h0.0v-0.3h.7v0.3h0.0v-0.6h.7v0.6h0.0v-0.8h.7v0.8h0.0v-2.4h.7v2.4h0.7v-0.6h.7v0.6h0.0v-0.9h.7v0.9h0.7v-0.5h.7v0.5h0.0v-0.9h.7v0.9h0.0v-0.5h.7v0.5h0.0v-0.4h.7v0.4h0.0v-0.4h.7v0.4h0.0v-0.8h.7v0.8h0.0v-0.9h.7v0.9h0.7v-0.4h.7v0.4h0.0v-0.4h.7v0.4h0.7v-0.9h.7v0.9h0.0v-1.2h.7v1.2h0.0v-0.4h.7v0.4h0.7v-0.7h.7v0.7h0.7v-0.7h.7v0.7h0.0v-0.3h.7v0.3h0.7v-0.3h.7v0.3h0.7v-2.1h.7v2.1h0.0v-0.5h.7v0.5h0.0v-0.4h.7v0.4h0.0v-1.2h.7v1.2h0.0v-0.7h.7v0.7h0.0v-0.3h.7v0.3h0.0v-0.4h.7v0.4h0.7v-0.3h.7v0.3h0.0v-0.5h.7v0.5h0.0v-0.5h.7v0.5h0.0v-0.6h.7v0.6h0.0v-0.6h.7v0.6h0.0v-0.9h.7v0.9h0.7v-0.4h.7v0.4h0.7v-0.3h.7v0.3h0.0v-0.7h.7v0.7h0.7v-6.4h.7v6.4h0.0v-0.7h.7v0.7h0.7v-0.8h.7v0.8h0.0v-0.4h.7v0.4h0.7v-2.5h.7v2.5h0.7v-0.8h.7v0.8h0.0v-0.7h.7v0.7h0.7v-0.7h.7v0.7h0.7v-0.7h.7v0.7h0.7v-0.5h.7v0.5h0.7v-0.8h.7v0.8h0.7v-0.9h.7v0.9h0.7v-0.4h.7v0.4h0.7v-0.5h.7v0.5h0.0v-0.9h.7v0.9h0.0v-1.4h.7v1.4h0.0v-0.4h.7v0.4h0.7v-4.7h.7v4.7h0.0v-0.6h.7v0.6h0.7v-0.5h.7v0.5h0.0v-4.7h.7v4.7h0.0v-0.4h.7v0.4h0.0v-0.7h.7v0.7h0.0v-0.7h.7v0.7h0.7v-0.7h.7v0.7h0.0v-0.5h.7v0.5h0.0v-0.9h.7v0.9h0.0v-2.0h.7v2.0h0.0v-7.5h.7v7.5h0.0v-6.0h.7v6.0h0.0v-0.9h.7v0.9h0.7v-0.8h.7v0.8h0.0v-2.1h.7v2.1h0.7v-0.7h.7v0.7h0.7v-0.7h.7v0.7h0.7v-0.8h.7v0.8h0.7v-0.5h.7v0.5h0.7v-1.9h.7v1.9h0.0v-0.4h.7v0.4h0.7v-0.3h.7v0.3h0.7v-0.4h.7v0.4h0.7v-1.7h.7v1.7h0.0v-0.6h.7v0.6h0.7v-0.8h.7v0.8h0.7v-0.4h.7v0.4h0.0v-0.8h.7v0.8h0.7v-0.8h.7v0.8h0.0v-0.5h.7v0.5h0.7v-0.2h.7v0.2h0.0v-0.9h.7v0.9h0.7v-0.3h.7v0.3h0.0v-0.5h.7v0.5h0.0v-0.2h.7v0.2h0.0v-0.7h.7v0.7h0.7v-0.6h.7v0.6h0.7v-2.2h.7v2.2h0.7v-0.8h.7v0.8h0.7v-0.9h.7v0.9h0.7v-3.5h.7v3.5h0.7v-0.3h.7v0.3h0.7v-0.8h.7v0.8h0.0v-0.8h.7v0.8h0.7v-0.5h.7v0.5h0.0v-0.9h.7v0.9h0.7v-6.3h.7v6.3h0.0v-0.6h.7v0.6h0.7v-0.9h.7v0.9h0.0v-3.0h.7v3.0h0.0v-0.5h.7v0.5h0.0v-0.5h.7v0.5h0.0v-0.7h.7v0.7h0.0v-0.6h.7v0.6h0.7v-0.5h.7v0.5h0.7v-0.5h.7v0.5h0.0v-0.7h.7v0.7h0.0v-0.5h.7v0.5h0.0v-2.0h.7v2.0h0.0v-0.5h.7v0.5h0.7v-0.5h.7v0.5h0.7v-0.9h.7v0.9h0.0v-2.8h.7v2.8h0.0v-1.4h.7v1.4h0.0v-0.7h.7v0.7h0.7v-0.8h.7v0.8h0.0v-0.9h.7v0.9h0.7v-2.9h.7v2.9h0.7v-0.3h.7v0.3h0.7v-0.8h.7v0.8h0.7v-0.3h.7v0.3h0.7v-0.5h.7v0.5h0.7v-0.5h.7v0.5h0.0v-0.8h.7v0.8h0.0v-0.9h.7v0.9h0.0v-0.3h.7v0.3h0.0v-0.5h.7v0.5h0.0v-0.5h.7v0.5h0.0v-0.4h.7v0.4h0.0v-0.4h.7v0.4h0.0v-0.4h.7v0.4h0.0v-0.6h.7v0.6h0.0v-0.4h.7v0.4h0.7v-0.8h.7v0.8h0.0v-0.8h.7v0.8h0.7v-0.4h.7v0.4h0.0v-0.7h.7v0.7h0.0v-1.2h.7v1.2h0.7v-0.8h.7v0.8h0.0v-0.7h.7v0.7h0.7v-3.3h.7v3.3h0.0v-7.2h.7v7.2h0.0v-0.2h.7v0.2h0.0v-0.5h.7v0.5h0.7v-0.9h.7v0.9h0.0v-0.4h.7v0.4h0.7v-0.7h.7v0.7h0.7v-3.4h.7v3.4h0.0v-0.8h.7v0.8h0.7v-0.7h.7v0.7h0.7v-0.9h.7v0.9h0.7v-0.6h.7v0.6h0.0v-3.2h.7v3.2h0.7v-0.3h.7v0.3h0.7v-0.7h.7v0.7h0.7v-0.7h.7v0.7h0.7v-0.8h.7v0.8h0.0v-0.5h.7v0.5h0.0v-4.5h.7v4.5h0.0v-0.2h.7v0.2h0.7v-0.5h.7v0.5h0.7v-0.3h.7v0.3h0.0v-0.4h.7v0.4h0.7v-0.6h.7v0.6h0.0v-0.3h.7v0.3h0.7v-0.4h.7v0.4h0.0v-0.3h.7v0.3h0.7v-0.9h.7v0.9h0.7v-0.3h.7v0.3h0.0v-0.9h.7v0.9h0.7v-0.8h.7v0.8h0.0v-0.6h.7v0.6h0.7v-0.3h.7v0.3h0.7v-0.4h.7v0.4h0.0v-0.9h.7v0.9h0.0v-0.2h.7v0.2h0.0v-0.6h.7v0.6h0.7v-0.7h.7v0.7h0.0v-0.7h.7v0.7h0.0v-0.4h.7v0.4h0.0v-0.9h.7v0.9h0.0v-0.6h.7v0.6h0.7v-0.7h.7v0.7h0.7v-2.1h.7v2.1h0.7v-0.9h.7v0.9h0.0v-0.7h.7v0.7h0.7v-0.6h.7v0.6h0.0v-0.4h.7v0.4h0.0v-5.2h.7v5.2h0.0v-0.5h.7v0.5h0.0v-0.4h.7v0.4h0.7v-0.8h.7v0.8h0.0v-0.8h.7v0.8h0.7v-0.8h.7v0.8h0.0v-0.8h.7v0.8h0.0v-0.9h.7v0.9h0.0v-5.2h.7v5.2h0.0v-0.7h.7v0.7h0.0v-3.2h.7v3.2h0.0v-0.9h.7v0.9h0.7v-0.5h.7v0.5h0.0v-0.6h.7v0.6h0.0v-0.6h.7v0.6h0.7v-0.2h.7v0.2h0.0v-0.3h.7v0.3h0.7v-0.6h.7v0.6h0.0v-0.5h.7v0.5h0.0v-0.5h.7v0.5h0.0v-2.6h.7v2.6h0.0Z" fill="#2626B4"/>
<line x1="51.4" y1="1146.03" x2="313.6" y2="1146.03" stroke="#2626B4" stroke-width="0.8"/>
<line x1="53.4" y1="1149.15" x2="67.5" y2="1149.15" stroke="#3030D0" stroke-width="0.7"/>
<rect x="59.8" y="1147.46" width="1.7" height="3.38" fill="#1A1AC0"/>
<rect x="60.6" y="1147.46" width="1.7" height="3.38" fill="#1A1AC0"/>
<rect x="58.5" y="1147.46" width="1.1" height="3.38" fill="#1A1AC0"/>
<rect x="64.2" y="1147.46" width="1.9" height="3.38" fill="#1A1AC0"/>
<rect x="55.6" y="1147.46" width="0.9" height="3.38" fill="#1A1AC0"/>
<rect x="58.4" y="1147.46" width="2.0" height="3.38" fill="#1A1AC0"/>
<line x1="71.7" y1="1149.15" x2="84.9" y2="1149.15" stroke="#3030D0" stroke-width="0.7"/>
<rect x="75.6" y="1147.46" width="2.4" height="3.38" fill="#1A1AC0"/>
<rect x="79.8" y="1147.46" width="1.7" height="3.38" fill="#1A1AC0"/>
<rect x="73.3" y="1147.46" width="1.1" height="3.38" fill="#1A1AC0"/>
<rect x="80.9" y="1147.46" width="1.7" height="3.38" fill="#1A1AC0"/>
<rect x="83.1" y="1147.46" width="1.2" height="3.38" fill="#1A1AC0"/>
<rect x="84.3" y="1147.46" width="1.9" height="3.38" fill="#1A1AC0"/>
<line x1="125.4" y1="1149.15" x2="145.5" y2="1149.15" stroke="#3030D0" stroke-width="0.7"/>
<rect x="137.8" y="1147.46" width="2.1" height="3.38" fill="#1A1AC0"/>
<rect x="138.6" y="1147.46" width="1.2" height="3.38" fill="#1A1AC0"/>
<line x1="176.3" y1="1149.15" x2="199.0" y2="1149.15" stroke="#3030D0" stroke-width="0.7"/>
<rect x="179.9" y="1147.46" width="1.1" height="3.38" fill="#1A1AC0"/>
<rect x="180.8" y="1147.46" width="0.8" height="3.38" fill="#1A1AC0"/>
<rect x="177.0" y="1147.46" width="1.6" height="3.38" fill="#1A1AC0"/>
<rect x="198.0" y="1147.46" width="2.4" height="3.38" fill="#1A1AC0"/>
<rect x="176.9" y="1147.46" width="1.1" height="3.38" fill="#1A1AC0"/>
<rect x="184.3" y="1147.46" width="2.2" height="3.38" fill="#1A1AC0"/>
<line x1="227.5" y1="1149.15" x2="239.6" y2="1149.15" stroke="#3030D0" stroke-width="0.7"/>
<rect x="229.0" y="1147.46" width="2.2" height="3.38" fill="#1A1AC0"/>
<rect x="235.7" y="1147.46" width="1.3" height="3.38" fill="#1A1AC0"/>
<rect x="231.5" y="1147.46" width="0.8" height="3.38" fill="#1A1AC0"/>
<rect x="238.4" y="1147.46" width="1.0" height="3.38" fill="#1A1AC0"/>
<rect x="234.6" y="1147.46" width="1.9" height="3.38" fill="#1A1AC0"/>
<line x1="245.8" y1="1149.15" x2="272.5" y2="1149.15" stroke="#3030D0" stroke-width="0.7"/>
<rect x="251.5" y="1147.46" width="1.9" height="3.38" fill="#1A1AC0"/>
<rect x="265.9" y="1147.46" width="1.5" height="3.38" fill="#1A1AC0"/>
<rect x="265.3" y="1147.46" width="1.8" height="3.38" fill="#1A1AC0"/>
<line x1="274.6" y1="1149.15" x2="287.5" y2="1149.15" stroke="#3030D0" stroke-width="0.7"/>
<rect x="286.7" y="1147.46" width="1.3" height="3.38" fill="#1A1AC0"/>
<rect x="279.5" y="1147.46" width="1.6" height="3.38" fill="#1A1AC0"/>
<rect x="283.0" y="1147.46" width="1.2" height="3.38" fill="#1A1AC0"/>
<line x1="293.1" y1="1149.15" x2="310.6" y2="1149.15" stroke="#3030D0" stroke-width="0.7"/>
<rect x="295.2" y="1147.46" width="1.5" height="3.38" fill="#1A1AC0"/>
<rect x="302.3" y="1147.46" width="0.7" height="3.38" fill="#1A1AC0"/>
<rect x="309.4" y="1147.46" width="0.7" height="3.38" fill="#1A1AC0"/>
<rect x="309.3" y="1147.46" width="1.9" height="3.38" fill="#1A1AC0"/>
<rect x="304.6" y="1147.46" width="1.3" height="3.38" fill="#1A1AC0"/>
<text x="61.9" y="1155.1" font-size="3.5" fill="#444" text-anchor="middle">Cbx3</text>
<text x="88.1" y="1155.1" font-size="3.5" fill="#444" text-anchor="middle">Hibadh</text>
<text x="114.3" y="1155.1" font-size="3.5" fill="#444" text-anchor="middle">Cbx3</text>
<text x="140.5" y="1155.1" font-size="3.5" fill="#444" text-anchor="middle">Skap2</text>
<text x="166.8" y="1155.1" font-size="3.5" fill="#444" text-anchor="middle">Cbx3</text>
<text x="193.0" y="1155.1" font-size="3.5" fill="#444" text-anchor="middle">Mir148a</text>
<text x="219.2" y="1155.1" font-size="3.5" fill="#444" text-anchor="middle">Hoxa</text>
<text x="245.4" y="1155.1" font-size="3.5" fill="#444" text-anchor="middle">Snx10</text>
<text x="271.6" y="1155.1" font-size="3.5" fill="#444" text-anchor="middle">Tax1bp1</text>
<text x="297.9" y="1155.1" font-size="3.5" fill="#444" text-anchor="middle">Nfe2l3</text>
<polygon points="96.6,1123.2 110.2,1123.2 103.4,1135.6" fill="#F00"/>
<polygon points="129.9,1123.2 143.5,1123.2 136.7,1135.6" fill="#F00"/>
<polygon points="222.7,1123.2 236.3,1123.2 229.5,1135.6" fill="#F00"/>
<rect x="335.3" y="1103.7" width="263.09999999999997" height="51.799999999999955" fill="#F6F6F6" stroke="#CFCFCF" stroke-width="0.7"/>
<text x="337.3" y="1106.5" font-size="3.6" fill="#333">chr7:90,338,936-45,590,767</text>
<rect x="335.8" y="1107.59" width="262.09999999999997" height="2.59" fill="#fff" stroke="#aaa" stroke-width="0.3"/>
<rect x="335.80" y="1107.59" width="26.74" height="2.59" fill="#fff"/>
<rect x="362.54" y="1107.59" width="27.26" height="2.59" fill="#000"/>
<rect x="389.80" y="1107.59" width="28.56" height="2.59" fill="#fff"/>
<rect x="418.36" y="1107.59" width="27.90" height="2.59" fill="#000"/>
<rect x="446.26" y="1107.59" width="28.32" height="2.59" fill="#fff"/>
<rect x="474.58" y="1107.59" width="19.38" height="2.59" fill="#000"/>
<rect x="493.96" y="1107.59" width="27.90" height="2.59" fill="#777"/>
<rect x="521.86" y="1107.59" width="11.83" height="2.59" fill="#fff"/>
<rect x="533.69" y="1107.59" width="16.22" height="2.59" fill="#fff"/>
<rect x="549.91" y="1107.59" width="27.08" height="2.59" fill="#777"/>
<rect x="576.98" y="1107.59" width="20.92" height="2.59" fill="#777"/>
<rect x="490.2" y="1107.18" width="7.9" height="3.39" fill="#fff" stroke="#f22" stroke-width="0.9"/>
<text x="345.3" y="1112.5" font-size="3.4" fill="#333" text-anchor="middle">q3C1</text>
<text x="361.8" y="1112.5" font-size="3.4" fill="#333" text-anchor="middle">q2A1</text>
<text x="380.6" y="1112.5" font-size="3.4" fill="#333" text-anchor="middle">q3C1</text>
<text x="398.7" y="1112.5" font-size="3.4" fill="#333" text-anchor="middle">q1C1</text>
<text x="412.7" y="1112.5" font-size="3.4" fill="#333" text-anchor="middle">q3B</text>
<text x="431.8" y="1112.5" font-size="3.4" fill="#333" text-anchor="middle">q3A1</text>
<text x="448.7" y="1112.5" font-size="3.4" fill="#333" text-anchor="middle">q3E2</text>
<text x="466.4" y="1112.5" font-size="3.4" fill="#333" text-anchor="middle">q2A1</text>
<text x="485.9" y="1112.5" font-size="3.4" fill="#333" text-anchor="middle">q3E2</text>
<text x="503.3" y="1112.5" font-size="3.4" fill="#333" text-anchor="middle">q1B</text>
<text x="517.8" y="1112.5" font-size="3.4" fill="#333" text-anchor="middle">q3A1</text>
<text x="535.2" y="1112.5" font-size="3.4" fill="#333" text-anchor="middle">q3C1</text>
<text x="553.4" y="1112.5" font-size="3.4" fill="#333" text-anchor="middle">q2D</text>
<text x="571.9" y="1112.5" font-size="3.4" fill="#333" text-anchor="middle">q4C1</text>
<text x="590.0" y="1112.5" font-size="3.4" fill="#333" text-anchor="middle">q4C1</text>
<line x1="338.3" y1="1122.3" x2="595.4" y2="1122.3" stroke="#444" stroke-width="0.6"/>
<path d="M337.3,1122.3 l2.5,-1 v2 z M596.4,1122.3 l-2.5,-1 v2 z" fill="#333"/>
<rect x="459.0" y="1120.3" width="15.8" height="4" fill="#F6F6F6"/>
<text x="466.9" y="1123.6" font-size="3.8" font-weight="bold" fill="#333" text-anchor="middle">2,271 kb</text>
<text x="351.0" y="1128.0" font-size="3.4" fill="#444" text-anchor="middle">31,592 kb</text>
<text x="379.6" y="1128.0" font-size="3.4" fill="#444" text-anchor="middle">78,488 kb</text>
<text x="408.2" y="1128.0" font-size="3.4" fill="#444" text-anchor="middle">76,213 kb</text>
<text x="436.8" y="1128.0" font-size="3.4" fill="#444" text-anchor="middle">61,115 kb</text>
<text x="465.4" y="1128.0" font-size="3.4" fill="#444" text-anchor="middle">99,749 kb</text>
<text x="494.0" y="1128.0" font-size="3.4" fill="#444" text-anchor="middle">86,840 kb</text>
<text x="522.6" y="1128.0" font-size="3.4" fill="#444" text-anchor="middle">70,993 kb</text>
<text x="551.2" y="1128.0" font-size="3.4" fill="#444" text-anchor="middle">50,606 kb</text>
<text x="579.8" y="1128.0" font-size="3.4" fill="#444" text-anchor="middle">91,134 kb</text>
<line x1="338.3" y1="1129.6" x2="338.3" y2="1131.7" stroke="#666" stroke-width="0.5"/>
<line x1="352.6" y1="1129.6" x2="352.6" y2="1131.7" stroke="#666" stroke-width="0.5"/>
<line x1="366.9" y1="1129.6" x2="366.9" y2="1131.7" stroke="#666" stroke-width="0.5"/>
<line x1="381.1" y1="1129.6" x2="381.1" y2="1131.7" stroke="#666" stroke-width="0.5"/>
<line x1="395.4" y1="1129.6" x2="395.4" y2="1131.7" stroke="#666" stroke-width="0.5"/>
<line x1="409.7" y1="1129.6" x2="409.7" y2="1131.7" stroke="#666" stroke-width="0.5"/>
<line x1="424.0" y1="1129.6" x2="424.0" y2="1131.7" stroke="#666" stroke-width="0.5"/>
<line x1="438.3" y1="1129.6" x2="438.3" y2="1131.7" stroke="#666" stroke-width="0.5"/>
<line x1="452.6" y1="1129.6" x2="452.6" y2="1131.7" stroke="#666" stroke-width="0.5"/>
<line x1="466.9" y1="1129.6" x2="466.9" y2="1131.7" stroke="#666" stroke-width="0.5"/>
<line x1="481.1" y1="1129.6" x2="481.1" y2="1131.7" stroke="#666" stroke-width="0.5"/>
<line x1="495.4" y1="1129.6" x2="495.4" y2="1131.7" stroke="#666" stroke-width="0.5"/>
<line x1="509.7" y1="1129.6" x2="509.7" y2="1131.7" stroke="#666" stroke-width="0.5"/>
<line x1="524.0" y1="1129.6" x2="524.0" y2="1131.7" stroke="#666" stroke-width="0.5"/>
<line x1="538.3" y1="1129.6" x2="538.3" y2="1131.7" stroke="#666" stroke-width="0.5"/>
<line x1="552.5" y1="1129.6" x2="552.5" y2="1131.7" stroke="#666" stroke-width="0.5"/>
<line x1="566.8" y1="1129.6" x2="566.8" y2="1131.7" stroke="#666" stroke-width="0.5"/>
<line x1="581.1" y1="1129.6" x2="581.1" y2="1131.7" stroke="#666" stroke-width="0.5"/>
<line x1="595.4" y1="1129.6" x2="595.4" y2="1131.7" stroke="#666" stroke-width="0.5"/>
<line x1="335.3" y1="1131.7" x2="598.4" y2="1131.7" stroke="#777" stroke-width="0.7"/>
<rect x="335.3" y="1133.0" width="263.09999999999997" height="1.14" fill="#A8A8A8"/>
<text x="337.3" y="1137.9" font-size="3.4" fill="#333">[0-144]</text>
<path d="M335.8,1144.4v-2.6h.7v2.6h0.7v-0.5h.7v0.5h0.0v-0.8h.7v0.8h0.7v-0.2h.7v0.2h0.0v-0.5h.7v0.5h0.0v-0.7h.7v0.7h0.7v-0.7h.7v0.7h0.7v-0.8h.7v0.8h0.0v-0.9h.7v0.9h0.7v-0.6h.7v0.6h0.0v-0.7h.7v0.7h0.7v-0.3h.7v0.3h0.0v-0.6h.7v0.6h0.0v-0.9h.7v0.9h0.0v-0.8h.7v0.8h0.0v-0.7h.7v0.7h0.0v-0.5h.7v0.5h0.7v-0.3h.7v0.3h0.0v-6.9h.7v6.9h0.7v-0.3h.7v0.3h0.0v-0.8h.7v0.8h0.7v-0.8h.7v0.8h0.7v-3.9h.7v3.9h0.7v-0.5h.7v0.5h0.0v-0.5h.7v0.5h0.0v-0.4h.7v0.4h0.0v-0.3h.7v0.3h0.0v-0.3h.7v0.3h0.7v-0.6h.7v0.6h0.7v-0.2h.7v0.2h0.0v-0.5h.7v0.5h0.0v-0.8h.7v0.8h0.0v-0.5h.7v0.5h0.0v-0.4h.7v0.4h0.0v-0.9h.7v0.9h0.0v-3.4h.7v3.4h0.7v-0.5h.7v0.5h0.7v-4.8h.7v4.8h0.7v-0.8h.7v0.8h0.0v-0.3h.7v0.3h0.7v-0.4h.7v0.4h0.7v-0.8h.7v0.8h0.0v-0.9h.7v0.9h0.7v-0.7h.7v0.7h0.7v-0.5h.7v0.5h0.0v-3.0h.7v3.0h0.0v-0.3h.7v0.3h0.0v-0.6h.7v0.6h0.0v-0.8h.7v0.8h0.0v-2.4h.7v2.4h0.7v-0.6h.7v0.6h0.0v-0.9h.7v0.9h0.7v-0.5h.7v0.5h0.0v-0.9h.7v0.9h0.0v-0.5h.7v0.5h0.0v-0.4h.7v0.4h0.0v-0.4h.7v0.4h0.0v-0.8h.7v0.8h0.0v-0.9h.7v0.9h0.7v-0.4h.7v0.4h0.0v-0.4h.7v0.4h0.7v-0.9h.7v0.9h0.0v-1.2h.7v1.2h0.0v-0.4h.7v0.4h0.7v-0.7h.7v0.7h0.7v-0.7h.7v0.7h0.0v-0.3h.7v0.3h0.7v-0.3h.7v0.3h0.7v-2.1h.7v2.1h0.0v-0.5h.7v0.5h0.0v-0.4h.7v0.4h0.0v-1.2h.7v1.2h0.0v-0.7h.7v0.7h0.0v-0.3h.7v0.3h0.0v-0.4h.7v0.4h0.7v-0.3h.7v0.3h0.0v-0.5h.7v0.5h0.0v-0.5h.7v0.5h0.0v-0.6h.7v0.6h0.0v-0.6h.7v0.6h0.0v-0.9h.7v0.9h0.7v-0.3h.7v0.3h0.7v-0.3h.7v0.3h0.0v-0.7h.7v0.7h0.7v-6.3h.7v6.3h0.0v-0.7h.7v0.7h0.7v-0.8h.7v0.8h0.0v-0.4h.7v0.4h0.7v-2.5h.7v2.5h0.7v-0.8h.7v0.8h0.0v-0.7h.7v0.7h0.7v-0.7h.7v0.7h0.7v-0.7h.7v0.7h0.7v-0.5h.7v0.5h0.7v-0.8h.7v0.8h0.7v-0.9h.7v0.9h0.7v-0.4h.7v0.4h0.7v-0.5h.7v0.5h0.0v-0.9h.7v0.9h0.0v-1.4h.7v1.4h0.0v-0.4h.7v0.4h0.7v-4.7h.7v4.7h0.0v-0.6h.7v0.6h0.7v-0.5h.7v0.5h0.0v-4.7h.7v4.7h0.0v-0.4h.7v0.4h0.0v-0.7h.7v0.7h0.0v-0.7h.7v0.7h0.7v-0.7h.7v0.7h0.0v-0.5h.7v0.5h0.0v-0.9h.7v0.9h0.0v-1.9h.7v1.9h0.0v-7.4h.7v7.4h0.0v-5.9h.7v5.9h0.0v-0.9h.7v0.9h0.7v-0.8h.7v0.8h0.0v-2.1h.7v2.1h0.7v-0.7h.7v0.7h0.7v-0.7h.7v0.7h0.7v-0.8h.7v0.8h0.7v-0.5h.7v0.5h0.7v-1.9h.7v1.9h0.0v-0.4h.7v0.4h0.7v-0.3h.7v0.3h0.7v-0.4h.7v0.4h0.7v-1.7h.7v1.7h0.0v-0.6h.7v0.6h0.7v-0.8h.7v0.8h0.7v-0.4h.7v0.4h0.0v-0.8h.7v0.8h0.7v-0.8h.7v0.8h0.0v-0.5h.7v0.5h0.7v-0.2h.7v0.2h0.0v-0.9h.7v0.9h0.7v-0.3h.7v0.3h0.0v-0.5h.7v0.5h0.0v-0.2h.7v0.2h0.0v-0.7h.7v0.7h0.7v-0.6h.7v0.6h0.7v-2.2h.7v2.2h0.7v-0.8h.7v0.8h0.7v-0.9h.7v0.9h0.7v-3.5h.7v3.5h0.7v-0.3h.7v0.3h0.7v-0.8h.7v0.8h0.0v-0.8h.7v0.8h0.7v-0.5h.7v0.5h0.0v-0.9h.7v0.9h0.7v-6.3h.7v6.3h0.0v-0.6h.7v0.6h0.7v-0.9h.7v0.9h0.0v-3.0h.7v3.0h0.0v-0.5h.7v0.5h0.0v-0.5h.7v0.5h0.0v-0.7h.7v0.7h0.0v-0.6h.7v0.6h0.7v-0.5h.7v0.5h0.7v-0.5h.7v0.5h0.0v-0.7h.7v0.7h0.0v-0.5h.7v0.5h0.0v-2.0h.7v2.0h0.0v-0.5h.7v0.5h0.7v-0.5h.7v0.5h0.7v-0.9h.7v0.9h0.0v-2.8h.7v2.8h0.0v-1.4h.7v1.4h0.0v-0.7h.7v0.7h0.7v-0.8h.7v0.8h0.0v-0.9h.7v0.9h0.7v-2.9h.7v2.9h0.7v-0.3h.7v0.3h0.7v-0.8h.7v0.8h0.7v-0.3h.7v0.3h0.7v-0.5h.7v0.5h0.7v-0.5h.7v0.5h0.0v-0.8h.7v0.8h0.0v-0.9h.7v0.9h0.0v-0.3h.7v0.3h0.0v-0.5h.7v0.5h0.0v-0.5h.7v0.5h0.0v-0.4h.7v0.4h0.0v-0.4h.7v0.4h0.0v-0.4h.7v0.4h0.0v-0.6h.7v0.6h0.0v-0.4h.7v0.4h0.7v-0.8h.7v0.8h0.0v-0.8h.7v0.8h0.7v-0.4h.7v0.4h0.0v-0.7h.7v0.7h0.0v-1.2h.7v1.2h0.7v-0.8h.7v0.8h0.0v-0.7h.7v0.7h0.7v-3.2h.7v3.2h0.0v-7.2h.7v7.2h0.0v-0.2h.7v0.2h0.0v-0.5h.7v0.5h0.7v-0.9h.7v0.9h0.0v-0.4h.7v0.4h0.7v-0.7h.7v0.7h0.7v-3.4h.7v3.4h0.0v-0.8h.7v0.8h0.7v-0.7h.7v0.7h0.7v-0.9h.7v0.9h0.7v-0.6h.7v0.6h0.0v-3.2h.7v3.2h0.7v-0.3h.7v0.3h0.7v-0.7h.7v0.7h0.7v-0.7h.7v0.7h0.7v-0.8h.7v0.8h0.0v-0.5h.7v0.5h0.0v-4.5h.7v4.5h0.0v-0.2h.7v0.2h0.7v-0.5h.7v0.5h0.7v-0.3h.7v0.3h0.0v-0.4h.7v0.4h0.7v-0.6h.7v0.6h0.0v-0.3h.7v0.3h0.7v-0.4h.7v0.4h0.0v-0.3h.7v0.3h0.7v-0.9h.7v0.9h0.7v-0.3h.7v0.3h0.0v-0.9h.7v0.9h0.7v-0.8h.7v0.8h0.0v-0.6h.7v0.6h0.7v-0.3h.7v0.3h0.7v-0.4h.7v0.4h0.0v-0.9h.7v0.9h0.0v-0.2h.7v0.2h0.0v-0.6h.7v0.6h0.7v-0.7h.7v0.7h0.0v-0.7h.7v0.7h0.0v-0.4h.7v0.4h0.0v-0.9h.7v0.9h0.0v-0.6h.7v0.6h0.7v-0.7h.7v0.7h0.7v-2.1h.7v2.1h0.7v-0.9h.7v0.9h0.0v-0.7h.7v0.7h0.7v-0.6h.7v0.6h0.0v-0.4h.7v0.4h0.0v-5.2h.7v5.2h0.0v-0.5h.7v0.5h0.0v-0.4h.7v0.4h0.7v-0.8h.7v0.8h0.0v-0.8h.7v0.8h0.7v-0.8h.7v0.8h0.0v-0.8h.7v0.8h0.0v-0.9h.7v0.9h0.0v-5.2h.7v5.2h0.0v-0.7h.7v0.7h0.0v-3.2h.7v3.2h0.0v-0.9h.7v0.9h0.7v-0.5h.7v0.5h0.0v-0.6h.7v0.6h0.0v-0.6h.7v0.6h0.7v-0.2h.7v0.2h0.0v-0.3h.7v0.3h0.7v-0.6h.7v0.6h0.0v-0.5h.7v0.5h0.0v-0.5h.7v0.5h0.0v-2.6h.7v2.6h0.0v-0.3h.7v0.3h0.7Z" fill="#2626B4"/>
<line x1="335.3" y1="1144.36" x2="598.4" y2="1144.36" stroke="#2626B4" stroke-width="0.8"/>
<line x1="337.3" y1="1147.47" x2="356.0" y2="1147.47" stroke="#3030D0" stroke-width="0.7"/>
<rect x="347.0" y="1145.79" width="1.6" height="3.37" fill="#1A1AC0"/>
<rect x="344.2" y="1145.79" width="1.1" height="3.37" fill="#1A1AC0"/>
<rect x="343.8" y="1145.79" width="2.1" height="3.37" fill="#1A1AC0"/>
<rect x="347.2" y="1145.79" width="1.1" height="3.37" fill="#1A1AC0"/>
<rect x="354.0" y="1145.79" width="1.8" height="3.37" fill="#1A1AC0"/>
<rect x="350.0" y="1145.79" width="0.8" height="3.37" fill="#1A1AC0"/>
<line x1="381.0" y1="1147.47" x2="403.1" y2="1147.47" stroke="#3030D0" stroke-width="0.7"/>
<rect x="385.8" y="1145.79" width="1.5" height="3.37" fill="#1A1AC0"/>
<rect x="384.3" y="1145.79" width="2.4" height="3.37" fill="#1A1AC0"/>
<rect x="386.7" y="1145.79" width="2.3" height="3.37" fill="#1A1AC0"/>
<rect x="385.8" y="1145.79" width="1.0" height="3.37" fill="#1A1AC0"/>
<line x1="407.5" y1="1147.47" x2="423.2" y2="1147.47" stroke="#3030D0" stroke-width="0.7"/>
<rect x="414.3" y="1145.79" width="2.1" height="3.37" fill="#1A1AC0"/>
<rect x="417.1" y="1145.79" width="2.1" height="3.37" fill="#1A1AC0"/>
<rect x="417.8" y="1145.79" width="1.2" height="3.37" fill="#1A1AC0"/>
<rect x="423.0" y="1145.79" width="1.1" height="3.37" fill="#1A1AC0"/>
<rect x="421.9" y="1145.79" width="2.1" height="3.37" fill="#1A1AC0"/>
<line x1="429.6" y1="1147.47" x2="438.8" y2="1147.47" stroke="#3030D0" stroke-width="0.7"/>
<rect x="431.9" y="1145.79" width="1.0" height="3.37" fill="#1A1AC0"/>
<rect x="430.2" y="1145.79" width="0.7" height="3.37" fill="#1A1AC0"/>
<rect x="434.6" y="1145.79" width="2.3" height="3.37" fill="#1A1AC0"/>
<rect x="438.6" y="1145.79" width="0.7" height="3.37" fill="#1A1AC0"/>
<rect x="431.9" y="1145.79" width="1.3" height="3.37" fill="#1A1AC0"/>
<rect x="437.5" y="1145.79" width="0.8" height="3.37" fill="#1A1AC0"/>
<line x1="531.6" y1="1147.47" x2="547.4" y2="1147.47" stroke="#3030D0" stroke-width="0.7"/>
<rect x="534.7" y="1145.79" width="1.7" height="3.37" fill="#1A1AC0"/>
<rect x="542.7" y="1145.79" width="1.7" height="3.37" fill="#1A1AC0"/>
<rect x="544.2" y="1145.79" width="1.1" height="3.37" fill="#1A1AC0"/>
<rect x="542.2" y="1145.79" width="1.0" height="3.37" fill="#1A1AC0"/>
<rect x="542.8" y="1145.79" width="2.0" height="3.37" fill="#1A1AC0"/>
<line x1="580.0" y1="1147.47" x2="592.9" y2="1147.47" stroke="#3030D0" stroke-width="0.7"/>
<rect x="592.1" y="1145.79" width="1.3" height="3.37" fill="#1A1AC0"/>
<rect x="584.9" y="1145.79" width="1.6" height="3.37" fill="#1A1AC0"/>
<rect x="588.5" y="1145.79" width="1.2" height="3.37" fill="#1A1AC0"/>
<text x="345.8" y="1153.4" font-size="3.5" fill="#444" text-anchor="middle">Evx1</text>
<text x="372.1" y="1153.4" font-size="3.5" fill="#444" text-anchor="middle">Tax1bp1</text>
<text x="398.4" y="1153.4" font-size="3.5" fill="#444" text-anchor="middle">Cbx3</text>
<text x="424.8" y="1153.4" font-size="3.5" fill="#444" text-anchor="middle">Skap2</text>
<text x="451.1" y="1153.4" font-size="3.5" fill="#444" text-anchor="middle">Evx1</text>
<text x="477.4" y="1153.4" font-size="3.5" fill="#444" text-anchor="middle">Cbx3</text>
<text x="503.7" y="1153.4" font-size="3.5" fill="#444" text-anchor="middle">Snx10</text>
<text x="530.0" y="1153.4" font-size="3.5" fill="#444" text-anchor="middle">Hoxa</text>
<text x="556.3" y="1153.4" font-size="3.5" fill="#444" text-anchor="middle">Hoxa</text>
<text x="582.6" y="1153.4" font-size="3.5" fill="#444" text-anchor="middle">Jazf1</text>
<polygon points="380.3,1121.6 393.9,1121.6 387.1,1134.0" fill="#F00"/>
<polygon points="413.5,1121.6 427.1,1121.6 420.3,1134.0" fill="#F00"/>
<polygon points="505.7,1121.6 519.3,1121.6 512.5,1134.0" fill="#F00"/>
<rect x="671.7" y="1105.8" width="242.5999999999999" height="52.200000000000045" fill="#F6F6F6" stroke="#CFCFCF" stroke-width="0.7"/>
<text x="673.7" y="1108.7" font-size="3.6" fill="#333">chr15:76,654,818-24,280,488</text>
<rect x="672.2" y="1109.71" width="241.5999999999999" height="2.61" fill="#fff" stroke="#aaa" stroke-width="0.3"/>
<rect x="672.20" y="1109.71" width="13.53" height="2.61" fill="#000"/>
<rect x="685.73" y="1109.71" width="13.52" height="2.61" fill="#fff"/>
<rect x="699.25" y="1109.71" width="9.85" height="2.61" fill="#000"/>
<rect x="709.10" y="1109.71" width="22.86" height="2.61" fill="#777"/>
<rect x="731.96" y="1109.71" width="26.51" height="2.61" fill="#777"/>
<rect x="758.46" y="1109.71" width="20.47" height="2.61" fill="#fff"/>
<rect x="778.93" y="1109.71" width="16.58" height="2.61" fill="#777"/>
<rect x="795.52" y="1109.71" width="21.08" height="2.61" fill="#000"/>
<rect x="816.60" y="1109.71" width="10.95" height="2.61" fill="#bbb"/>
<rect x="827.55" y="1109.71" width="14.51" height="2.61" fill="#000"/>
<rect x="842.06" y="1109.71" width="11.61" height="2.61" fill="#000"/>
<rect x="853.66" y="1109.71" width="19.70" height="2.61" fill="#000"/>
<rect x="873.36" y="1109.71" width="25.99" height="2.61" fill="#000"/>
<rect x="899.35" y="1109.71" width="14.45" height="2.61" fill="#bbb"/>
<rect x="850.0" y="1109.31" width="7.3" height="3.41" fill="#fff" stroke="#f22" stroke-width="0.9"/>
<text x="677.9" y="1114.7" font-size="3.4" fill="#333" text-anchor="middle">q4A1</text>
<text x="695.9" y="1114.7" font-size="3.4" fill="#333" text-anchor="middle">q2B</text>
<text x="710.7" y="1114.7" font-size="3.4" fill="#333" text-anchor="middle">q2A1</text>
<text x="726.5" y="1114.7" font-size="3.4" fill="#333" text-anchor="middle">q4A1</text>
<text x="745.4" y="1114.7" font-size="3.4" fill="#333" text-anchor="middle">q3C1</text>
<text x="762.0" y="1114.7" font-size="3.4" fill="#333" text-anchor="middle">q4E2</text>
<text x="778.0" y="1114.7" font-size="3.4" fill="#333" text-anchor="middle">q2B</text>
<text x="792.9" y="1114.7" font-size="3.4" fill="#333" text-anchor="middle">q3E2</text>
<text x="810.5" y="1114.7" font-size="3.4" fill="#333" text-anchor="middle">q1C1</text>
<text x="824.0" y="1114.7" font-size="3.4" fill="#333" text-anchor="middle">q2A1</text>
<text x="841.8" y="1114.7" font-size="3.4" fill="#333" text-anchor="middle">q3C1</text>
<text x="857.9" y="1114.7" font-size="3.4" fill="#333" text-anchor="middle">q4A1</text>
<text x="873.3" y="1114.7" font-size="3.4" fill="#333" text-anchor="middle">q1B</text>
<text x="890.5" y="1114.7" font-size="3.4" fill="#333" text-anchor="middle">q1D</text>
<text x="907.3" y="1114.7" font-size="3.4" fill="#333" text-anchor="middle">q4A1</text>
<line x1="674.7" y1="1124.6" x2="911.3" y2="1124.6" stroke="#444" stroke-width="0.6"/>
<path d="M673.7,1124.6 l2.5,-1 v2 z M912.3,1124.6 l-2.5,-1 v2 z" fill="#333"/>
<rect x="785.7" y="1122.6" width="14.6" height="4" fill="#F6F6F6"/>
<text x="793.0" y="1125.9" font-size="3.8" font-weight="bold" fill="#333" text-anchor="middle">1,383 kb</text>
<text x="686.2" y="1130.3" font-size="3.4" fill="#444" text-anchor="middle">30,734 kb</text>
<text x="712.6" y="1130.3" font-size="3.4" fill="#444" text-anchor="middle">67,760 kb</text>
<text x="738.9" y="1130.3" font-size="3.4" fill="#444" text-anchor="middle">38,378 kb</text>
<text x="765.3" y="1130.3" font-size="3.4" fill="#444" text-anchor="middle">39,106 kb</text>
<text x="791.7" y="1130.3" font-size="3.4" fill="#444" text-anchor="middle">85,380 kb</text>
<text x="818.1" y="1130.3" font-size="3.4" fill="#444" text-anchor="middle">52,804 kb</text>
<text x="844.4" y="1130.3" font-size="3.4" fill="#444" text-anchor="middle">97,741 kb</text>
<text x="870.8" y="1130.3" font-size="3.4" fill="#444" text-anchor="middle">54,978 kb</text>
<text x="897.2" y="1130.3" font-size="3.4" fill="#444" text-anchor="middle">37,386 kb</text>
<line x1="674.7" y1="1131.9" x2="674.7" y2="1134.0" stroke="#666" stroke-width="0.5"/>
<line x1="687.8" y1="1131.9" x2="687.8" y2="1134.0" stroke="#666" stroke-width="0.5"/>
<line x1="701.0" y1="1131.9" x2="701.0" y2="1134.0" stroke="#666" stroke-width="0.5"/>
<line x1="714.1" y1="1131.9" x2="714.1" y2="1134.0" stroke="#666" stroke-width="0.5"/>
<line x1="727.3" y1="1131.9" x2="727.3" y2="1134.0" stroke="#666" stroke-width="0.5"/>
<line x1="740.4" y1="1131.9" x2="740.4" y2="1134.0" stroke="#666" stroke-width="0.5"/>
<line x1="753.6" y1="1131.9" x2="753.6" y2="1134.0" stroke="#666" stroke-width="0.5"/>
<line x1="766.7" y1="1131.9" x2="766.7" y2="1134.0" stroke="#666" stroke-width="0.5"/>
<line x1="779.9" y1="1131.9" x2="779.9" y2="1134.0" stroke="#666" stroke-width="0.5"/>
<line x1="793.0" y1="1131.9" x2="793.0" y2="1134.0" stroke="#666" stroke-width="0.5"/>
<line x1="806.1" y1="1131.9" x2="806.1" y2="1134.0" stroke="#666" stroke-width="0.5"/>
<line x1="819.3" y1="1131.9" x2="819.3" y2="1134.0" stroke="#666" stroke-width="0.5"/>
<line x1="832.4" y1="1131.9" x2="832.4" y2="1134.0" stroke="#666" stroke-width="0.5"/>
<line x1="845.6" y1="1131.9" x2="845.6" y2="1134.0" stroke="#666" stroke-width="0.5"/>
<line x1="858.7" y1="1131.9" x2="858.7" y2="1134.0" stroke="#666" stroke-width="0.5"/>
<line x1="871.9" y1="1131.9" x2="871.9" y2="1134.0" stroke="#666" stroke-width="0.5"/>
<line x1="885.0" y1="1131.9" x2="885.0" y2="1134.0" stroke="#666" stroke-width="0.5"/>
<line x1="898.2" y1="1131.9" x2="898.2" y2="1134.0" stroke="#666" stroke-width="0.5"/>
<line x1="911.3" y1="1131.9" x2="911.3" y2="1134.0" stroke="#666" stroke-width="0.5"/>
<line x1="671.7" y1="1134.0" x2="914.3" y2="1134.0" stroke="#777" stroke-width="0.7"/>
<rect x="671.7" y="1135.3" width="242.5999999999999" height="1.15" fill="#A8A8A8"/>
<text x="673.7" y="1140.3" font-size="3.4" fill="#333">[0-130]</text>
<path d="M672.2,1146.8v-0.4h.7v0.4h0.0v-0.8h.7v0.8h0.0v-0.6h.7v0.6h0.0v-2.1h.7v2.1h0.0v-0.3h.7v0.3h0.0v-0.7h.7v0.7h0.0v-0.7h.7v0.7h0.7v-7.4h.7v7.4h0.7v-2.4h.7v2.4h0.7v-2.8h.7v2.8h0.0v-5.0h.7v5.0h0.0v-7.6h.7v7.6h0.0v-2.6h.7v2.6h0.0v-1.9h.7v1.9h0.0v-0.3h.7v0.3h0.7v-0.7h.7v0.7h0.7v-3.4h.7v3.4h0.7v-0.6h.7v0.6h0.0v-0.8h.7v0.8h0.0v-2.4h.7v2.4h0.0v-4.7h.7v4.7h0.0v-5.4h.7v5.4h0.0v-0.5h.7v0.5h0.0v-0.7h.7v0.7h0.7v-0.5h.7v0.5h0.0v-2.7h.7v2.7h0.7v-7.0h.7v7.0h0.0v-4.2h.7v4.2h0.0v-0.9h.7v0.9h0.0v-0.9h.7v0.9h0.7v-0.4h.7v0.4h0.0v-1.8h.7v1.8h0.0v-0.7h.7v0.7h0.0v-2.2h.7v2.2h0.7v-0.8h.7v0.8h0.7v-0.6h.7v0.6h0.0v-0.8h.7v0.8h0.0v-3.1h.7v3.1h0.0v-0.4h.7v0.4h0.0v-2.2h.7v2.2h0.0v-3.4h.7v3.4h0.0v-7.1h.7v7.1h0.0v-2.7h.7v2.7h0.7v-2.8h.7v2.8h0.7v-2.3h.7v2.3h0.0v-0.4h.7v0.4h0.7v-0.5h.7v0.5h0.7v-0.4h.7v0.4h0.7v-0.9h.7v0.9h0.0v-1.6h.7v1.6h0.0v-0.6h.7v0.6h0.0v-0.3h.7v0.3h0.0v-0.6h.7v0.6h0.7v-0.9h.7v0.9h0.0v-3.3h.7v3.3h0.0v-4.0h.7v4.0h0.0v-0.7h.7v0.7h0.0v-0.8h.7v0.8h0.7v-0.5h.7v0.5h0.7v-3.4h.7v3.4h0.0v-0.9h.7v0.9h0.7v-0.3h.7v0.3h0.0v-0.4h.7v0.4h0.0v-1.7h.7v1.7h0.7v-0.3h.7v0.3h0.0v-0.3h.7v0.3h0.0v-6.6h.7v6.6h0.0v-4.9h.7v4.9h0.0v-0.5h.7v0.5h0.0v-1.3h.7v1.3h0.0v-0.6h.7v0.6h0.0v-1.3h.7v1.3h0.7v-0.7h.7v0.7h0.7v-2.9h.7v2.9h0.0v-0.9h.7v0.9h0.0v-0.9h.7v0.9h0.0v-3.4h.7v3.4h0.7v-1.8h.7v1.8h0.0v-7.7h.7v7.7h0.0v-0.4h.7v0.4h0.7v-0.9h.7v0.9h0.0v-0.6h.7v0.6h0.0v-0.4h.7v0.4h0.7v-0.5h.7v0.5h0.0v-1.4h.7v1.4h0.0v-7.5h.7v7.5h0.0v-5.5h.7v5.5h0.7v-0.9h.7v0.9h0.0v-0.2h.7v0.2h0.0v-0.7h.7v0.7h0.0v-0.6h.7v0.6h0.0v-2.7h.7v2.7h0.0v-2.7h.7v2.7h0.0v-0.9h.7v0.9h0.0v-4.6h.7v4.6h0.0v-0.5h.7v0.5h0.0v-2.1h.7v2.1h0.7v-6.4h.7v6.4h0.0v-0.7h.7v0.7h0.0v-0.5h.7v0.5h0.7v-5.1h.7v5.1h0.0v-2.1h.7v2.1h0.0v-3.2h.7v3.2h0.0v-0.9h.7v0.9h0.0v-0.4h.7v0.4h0.0v-7.5h.7v7.5h0.0v-0.9h.7v0.9h0.0v-6.6h.7v6.6h0.0v-4.9h.7v4.9h0.0v-1.3h.7v1.3h0.7v-0.3h.7v0.3h0.7v-3.2h.7v3.2h0.0v-5.4h.7v5.4h0.7v-0.9h.7v0.9h0.0v-3.2h.7v3.2h0.7v-0.3h.7v0.3h0.0v-3.2h.7v3.2h0.7v-2.8h.7v2.8h0.0v-0.4h.7v0.4h0.7v-2.6h.7v2.6h0.0v-1.8h.7v1.8h0.0v-6.5h.7v6.5h0.7v-0.5h.7v0.5h0.0v-0.9h.7v0.9h0.0v-0.8h.7v0.8h0.7v-0.4h.7v0.4h0.7v-0.8h.7v0.8h0.7v-1.3h.7v1.3h0.7v-0.2h.7v0.2h0.0v-0.7h.7v0.7h0.0v-0.5h.7v0.5h0.7v-1.7h.7v1.7h0.0v-0.7h.7v0.7h0.0v-7.2h.7v7.2h0.0v-0.9h.7v0.9h0.7v-4.3h.7v4.3h0.7v-1.3h.7v1.3h0.0v-1.8h.7v1.8h0.0v-0.3h.7v0.3h0.0v-0.8h.7v0.8h0.7v-1.6h.7v1.6h0.7v-0.8h.7v0.8h0.7v-2.9h.7v2.9h0.7v-0.3h.7v0.3h0.7v-4.0h.7v4.0h0.0v-3.5h.7v3.5h0.7v-0.6h.7v0.6h0.0v-0.7h.7v0.7h0.0v-0.8h.7v0.8h0.0v-0.3h.7v0.3h0.7v-0.6h.7v0.6h0.7v-0.5h.7v0.5h0.0v-0.7h.7v0.7h0.7v-3.2h.7v3.2h0.0v-4.7h.7v4.7h0.0v-2.4h.7v2.4h0.7v-0.9h.7v0.9h0.7v-0.8h.7v0.8h0.7v-0.8h.7v0.8h0.0v-0.8h.7v0.8h0.7v-0.3h.7v0.3h0.0v-0.7h.7v0.7h0.7v-3.1h.7v3.1h0.7v-0.3h.7v0.3h0.7v-7.0h.7v7.0h0.7v-3.3h.7v3.3h0.0v-0.4h.7v0.4h0.7v-5.2h.7v5.2h0.0v-0.8h.7v0.8h0.0v-0.8h.7v0.8h0.7v-0.3h.7v0.3h0.7v-2.6h.7v2.6h0.0v-4.0h.7v4.0h0.0v-6.4h.7v6.4h0.7v-0.6h.7v0.6h0.7v-0.5h.7v0.5h0.7v-2.8h.7v2.8h0.7v-2.8h.7v2.8h0.0v-0.3h.7v0.3h0.0v-3.0h.7v3.0h0.0v-6.4h.7v6.4h0.0v-3.4h.7v3.4h0.0v-4.8h.7v4.8h0.0v-3.0h.7v3.0h0.0v-0.6h.7v0.6h0.7v-1.2h.7v1.2h0.7v-0.3h.7v0.3h0.0v-3.5h.7v3.5h0.0v-0.7h.7v0.7h0.7v-0.3h.7v0.3h0.0v-0.5h.7v0.5h0.7v-2.9h.7v2.9h0.0v-0.8h.7v0.8h0.7v-0.5h.7v0.5h0.0v-3.0h.7v3.0h0.7v-0.6h.7v0.6h0.0v-2.2h.7v2.2h0.7v-4.9h.7v4.9h0.0v-0.6h.7v0.6h0.7v-1.6h.7v1.6h0.0v-5.8h.7v5.8h0.0v-2.7h.7v2.7h0.0v-2.8h.7v2.8h0.0v-0.5h.7v0.5h0.7v-0.6h.7v0.6h0.0v-0.2h.7v0.2h0.0v-3.0h.7v3.0h0.0v-0.6h.7v0.6h0.0v-7.6h.7v7.6h0.0v-6.1h.7v6.1h0.7v-0.7h.7v0.7h0.0v-1.9h.7v1.9h0.0v-0.2h.7v0.2h0.0v-0.3h.7v0.3h0.7v-0.8h.7v0.8h0.7v-0.5h.7v0.5h0.7v-0.5h.7v0.5h0.0v-0.4h.7v0.4h0.7v-0.3h.7v0.3h0.7v-3.2h.7v3.2h0.7v-3.0h.7v3.0h0.0v-0.7h.7v0.7h0.7v-0.7h.7v0.7h0.0v-1.3h.7v1.3h0.7v-0.5h.7v0.5h0.0v-4.7h.7v4.7h0.7v-2.3h.7v2.3h0.7v-0.3h.7v0.3h0.7v-0.3h.7v0.3h0.0v-0.4h.7v0.4h0.0v-2.9h.7v2.9h0.0v-0.9h.7v0.9h0.0v-2.9h.7v2.9h0.7v-0.5h.7v0.5h0.7v-0.8h.7v0.8h0.0v-4.6h.7v4.6h0.0v-0.7h.7v0.7h0.0v-5.5h.7v5.5h0.7v-7.5h.7v7.5h0.0v-0.5h.7v0.5h0.7v-0.7h.7v0.7h0.0v-0.4h.7v0.4h0.7v-0.3h.7v0.3h0.0v-0.6h.7v0.6h0.7v-0.6h.7v0.6h0.0v-3.2h.7v3.2h0.7v-0.9h.7v0.9h0.7v-0.9h.7v0.9h0.7v-0.6h.7v0.6h0.0Z" fill="#2626B4"/>
<line x1="671.7" y1="1146.78" x2="914.3" y2="1146.78" stroke="#2626B4" stroke-width="0.8"/>
<line x1="673.7" y1="1149.91" x2="701.5" y2="1149.91" stroke="#3030D0" stroke-width="0.7"/>
<rect x="694.0" y="1148.21" width="1.8" height="3.39" fill="#1A1AC0"/>
<rect x="680.2" y="1148.21" width="2.7" height="3.39" fill="#1A1AC0"/>
<rect x="698.8" y="1148.21" width="2.2" height="3.39" fill="#1A1AC0"/>
<rect x="690.6" y="1148.21" width="1.0" height="3.39" fill="#1A1AC0"/>
<line x1="721.6" y1="1149.91" x2="744.5" y2="1149.91" stroke="#3030D0" stroke-width="0.7"/>
<rect x="733.5" y="1148.21" width="2.3" height="3.39" fill="#1A1AC0"/>
<rect x="729.7" y="1148.21" width="1.1" height="3.39" fill="#1A1AC0"/>
<rect x="728.5" y="1148.21" width="2.7" height="3.39" fill="#1A1AC0"/>
<rect x="743.9" y="1148.21" width="1.3" height="3.39" fill="#1A1AC0"/>
<rect x="737.5" y="1148.21" width="2.5" height="3.39" fill="#1A1AC0"/>
<line x1="752.3" y1="1149.91" x2="759.8" y2="1149.91" stroke="#3030D0" stroke-width="0.7"/>
<rect x="752.8" y="1148.21" width="1.2" height="3.39" fill="#1A1AC0"/>
<rect x="753.4" y="1148.21" width="2.9" height="3.39" fill="#1A1AC0"/>
<line x1="787.5" y1="1149.91" x2="812.9" y2="1149.91" stroke="#3030D0" stroke-width="0.7"/>
<rect x="792.6" y="1148.21" width="1.0" height="3.39" fill="#1A1AC0"/>
<rect x="807.8" y="1148.21" width="1.0" height="3.39" fill="#1A1AC0"/>
<line x1="817.0" y1="1149.91" x2="824.8" y2="1149.91" stroke="#3030D0" stroke-width="0.7"/>
<rect x="824.0" y="1148.21" width="1.5" height="3.39" fill="#1A1AC0"/>
<rect x="821.4" y="1148.21" width="1.9" height="3.39" fill="#1A1AC0"/>
<rect x="819.4" y="1148.21" width="1.4" height="3.39" fill="#1A1AC0"/>
<rect x="819.1" y="1148.21" width="2.0" height="3.39" fill="#1A1AC0"/>
<rect x="823.8" y="1148.21" width="2.3" height="3.39" fill="#1A1AC0"/>
<rect x="820.1" y="1148.21" width="2.3" height="3.39" fill="#1A1AC0"/>
<line x1="829.9" y1="1149.91" x2="844.2" y2="1149.91" stroke="#3030D0" stroke-width="0.7"/>
<rect x="829.9" y="1148.21" width="1.5" height="3.39" fill="#1A1AC0"/>
<rect x="837.7" y="1148.21" width="1.4" height="3.39" fill="#1A1AC0"/>
<rect x="840.1" y="1148.21" width="2.5" height="3.39" fill="#1A1AC0"/>
<rect x="838.8" y="1148.21" width="1.8" height="3.39" fill="#1A1AC0"/>
<rect x="835.8" y="1148.21" width="1.9" height="3.39" fill="#1A1AC0"/>
<line x1="852.0" y1="1149.91" x2="881.1" y2="1149.91" stroke="#3030D0" stroke-width="0.7"/>
<rect x="873.9" y="1148.21" width="2.0" height="3.39" fill="#1A1AC0"/>
<rect x="865.0" y="1148.21" width="2.5" height="3.39" fill="#1A1AC0"/>
<line x1="890.0" y1="1149.91" x2="908.6" y2="1149.91" stroke="#3030D0" stroke-width="0.7"/>
<rect x="906.6" y="1148.21" width="2.6" height="3.39" fill="#1A1AC0"/>
<rect x="898.5" y="1148.21" width="2.4" height="3.39" fill="#1A1AC0"/>
<rect x="899.8" y="1148.21" width="2.2" height="3.39" fill="#1A1AC0"/>
<rect x="903.9" y="1148.21" width="1.4" height="3.39" fill="#1A1AC0"/>
<rect x="904.8" y="1148.21" width="2.0" height="3.39" fill="#1A1AC0"/>
<rect x="906.7" y="1148.21" width="2.0" height="3.39" fill="#1A1AC0"/>
<text x="681.4" y="1155.9" font-size="3.5" fill="#444" text-anchor="middle">Tax1bp1</text>
<text x="705.7" y="1155.9" font-size="3.5" fill="#444" text-anchor="middle">Hoxa</text>
<text x="729.9" y="1155.9" font-size="3.5" fill="#444" text-anchor="middle">Evx1</text>
<text x="754.2" y="1155.9" font-size="3.5" fill="#444" text-anchor="middle">Evx1</text>
<text x="778.4" y="1155.9" font-size="3.5" fill="#444" text-anchor="middle">Nfe2l3</text>
<text x="802.7" y="1155.9" font-size="3.5" fill="#444" text-anchor="middle">Cbx3</text>
<text x="827.0" y="1155.9" font-size="3.5" fill="#444" text-anchor="middle">Nfe2l3</text>
<text x="851.2" y="1155.9" font-size="3.5" fill="#444" text-anchor="middle">Skap2</text>
<text x="875.5" y="1155.9" font-size="3.5" fill="#444" text-anchor="middle">Tax1bp1</text>
<text x="899.7" y="1155.9" font-size="3.5" fill="#444" text-anchor="middle">Evx1</text>
<polygon points="737.1,1123.8 750.7,1123.8 743.9,1136.3" fill="#F00"/>
<polygon points="790.9,1123.8 804.5,1123.8 797.7,1136.3" fill="#F00"/>
<polygon points="814.1,1123.8 827.7,1123.8 820.9,1136.3" fill="#F00"/>
<polygon points="870.3,1123.8 883.9,1123.8 877.1,1136.3" fill="#F00"/>
<rect x="932.9" y="1104.5" width="241.89999999999998" height="51.299999999999955" fill="#F6F6F6" stroke="#CFCFCF" stroke-width="0.7"/>
<text x="934.9" y="1107.3" font-size="3.6" fill="#333">chr15:76,654,818-24,280,488</text>
<rect x="933.4" y="1108.35" width="240.89999999999998" height="2.56" fill="#fff" stroke="#aaa" stroke-width="0.3"/>
<rect x="933.40" y="1108.35" width="13.49" height="2.56" fill="#000"/>
<rect x="946.89" y="1108.35" width="13.48" height="2.56" fill="#fff"/>
<rect x="960.37" y="1108.35" width="9.83" height="2.56" fill="#000"/>
<rect x="970.19" y="1108.35" width="22.79" height="2.56" fill="#777"/>
<rect x="992.98" y="1108.35" width="26.43" height="2.56" fill="#777"/>
<rect x="1019.42" y="1108.35" width="20.41" height="2.56" fill="#fff"/>
<rect x="1039.83" y="1108.35" width="16.53" height="2.56" fill="#777"/>
<rect x="1056.36" y="1108.35" width="21.02" height="2.56" fill="#000"/>
<rect x="1077.38" y="1108.35" width="10.92" height="2.56" fill="#bbb"/>
<rect x="1088.30" y="1108.35" width="14.46" height="2.56" fill="#000"/>
<rect x="1102.77" y="1108.35" width="11.57" height="2.56" fill="#000"/>
<rect x="1114.34" y="1108.35" width="19.64" height="2.56" fill="#000"/>
<rect x="1133.98" y="1108.35" width="25.91" height="2.56" fill="#000"/>
<rect x="1159.90" y="1108.35" width="14.40" height="2.56" fill="#bbb"/>
<rect x="1110.6" y="1107.95" width="7.3" height="3.36" fill="#fff" stroke="#f22" stroke-width="0.9"/>
<text x="939.1" y="1113.2" font-size="3.4" fill="#333" text-anchor="middle">q4A1</text>
<text x="957.0" y="1113.2" font-size="3.4" fill="#333" text-anchor="middle">q2B</text>
<text x="971.7" y="1113.2" font-size="3.4" fill="#333" text-anchor="middle">q2A1</text>
<text x="987.5" y="1113.2" font-size="3.4" fill="#333" text-anchor="middle">q4A1</text>
<text x="1006.4" y="1113.2" font-size="3.4" fill="#333" text-anchor="middle">q3C1</text>
<text x="1022.9" y="1113.2" font-size="3.4" fill="#333" text-anchor="middle">q4E2</text>
<text x="1038.9" y="1113.2" font-size="3.4" fill="#333" text-anchor="middle">q2B</text>
<text x="1053.8" y="1113.2" font-size="3.4" fill="#333" text-anchor="middle">q3E2</text>
<text x="1071.3" y="1113.2" font-size="3.4" fill="#333" text-anchor="middle">q1C1</text>
<text x="1084.7" y="1113.2" font-size="3.4" fill="#333" text-anchor="middle">q2A1</text>
<text x="1102.6" y="1113.2" font-size="3.4" fill="#333" text-anchor="middle">q3C1</text>
<text x="1118.6" y="1113.2" font-size="3.4" fill="#333" text-anchor="middle">q4A1</text>
<text x="1133.9" y="1113.2" font-size="3.4" fill="#333" text-anchor="middle">q1B</text>
<text x="1151.0" y="1113.2" font-size="3.4" fill="#333" text-anchor="middle">q1D</text>
<text x="1167.8" y="1113.2" font-size="3.4" fill="#333" text-anchor="middle">q4A1</text>
<line x1="935.9" y1="1123.0" x2="1171.8" y2="1123.0" stroke="#444" stroke-width="0.6"/>
<path d="M934.9,1123.0 l2.5,-1 v2 z M1172.8,1123.0 l-2.5,-1 v2 z" fill="#333"/>
<rect x="1046.6" y="1121.0" width="14.5" height="4" fill="#F6F6F6"/>
<text x="1053.8" y="1124.3" font-size="3.8" font-weight="bold" fill="#333" text-anchor="middle">1,383 kb</text>
<text x="947.4" y="1128.6" font-size="3.4" fill="#444" text-anchor="middle">30,734 kb</text>
<text x="973.7" y="1128.6" font-size="3.4" fill="#444" text-anchor="middle">67,760 kb</text>
<text x="999.9" y="1128.6" font-size="3.4" fill="#444" text-anchor="middle">38,378 kb</text>
<text x="1026.2" y="1128.6" font-size="3.4" fill="#444" text-anchor="middle">39,106 kb</text>
<text x="1052.5" y="1128.6" font-size="3.4" fill="#444" text-anchor="middle">85,380 kb</text>
<text x="1078.8" y="1128.6" font-size="3.4" fill="#444" text-anchor="middle">52,804 kb</text>
<text x="1105.1" y="1128.6" font-size="3.4" fill="#444" text-anchor="middle">97,741 kb</text>
<text x="1131.4" y="1128.6" font-size="3.4" fill="#444" text-anchor="middle">54,978 kb</text>
<text x="1157.7" y="1128.6" font-size="3.4" fill="#444" text-anchor="middle">37,386 kb</text>
<line x1="935.9" y1="1130.2" x2="935.9" y2="1132.2" stroke="#666" stroke-width="0.5"/>
<line x1="949.0" y1="1130.2" x2="949.0" y2="1132.2" stroke="#666" stroke-width="0.5"/>
<line x1="962.1" y1="1130.2" x2="962.1" y2="1132.2" stroke="#666" stroke-width="0.5"/>
<line x1="975.2" y1="1130.2" x2="975.2" y2="1132.2" stroke="#666" stroke-width="0.5"/>
<line x1="988.3" y1="1130.2" x2="988.3" y2="1132.2" stroke="#666" stroke-width="0.5"/>
<line x1="1001.4" y1="1130.2" x2="1001.4" y2="1132.2" stroke="#666" stroke-width="0.5"/>
<line x1="1014.5" y1="1130.2" x2="1014.5" y2="1132.2" stroke="#666" stroke-width="0.5"/>
<line x1="1027.6" y1="1130.2" x2="1027.6" y2="1132.2" stroke="#666" stroke-width="0.5"/>
<line x1="1040.7" y1="1130.2" x2="1040.7" y2="1132.2" stroke="#666" stroke-width="0.5"/>
<line x1="1053.8" y1="1130.2" x2="1053.8" y2="1132.2" stroke="#666" stroke-width="0.5"/>
<line x1="1067.0" y1="1130.2" x2="1067.0" y2="1132.2" stroke="#666" stroke-width="0.5"/>
<line x1="1080.1" y1="1130.2" x2="1080.1" y2="1132.2" stroke="#666" stroke-width="0.5"/>
<line x1="1093.2" y1="1130.2" x2="1093.2" y2="1132.2" stroke="#666" stroke-width="0.5"/>
<line x1="1106.3" y1="1130.2" x2="1106.3" y2="1132.2" stroke="#666" stroke-width="0.5"/>
<line x1="1119.4" y1="1130.2" x2="1119.4" y2="1132.2" stroke="#666" stroke-width="0.5"/>
<line x1="1132.5" y1="1130.2" x2="1132.5" y2="1132.2" stroke="#666" stroke-width="0.5"/>
<line x1="1145.6" y1="1130.2" x2="1145.6" y2="1132.2" stroke="#666" stroke-width="0.5"/>
<line x1="1158.7" y1="1130.2" x2="1158.7" y2="1132.2" stroke="#666" stroke-width="0.5"/>
<line x1="1171.8" y1="1130.2" x2="1171.8" y2="1132.2" stroke="#666" stroke-width="0.5"/>
<line x1="932.9" y1="1132.2" x2="1174.8" y2="1132.2" stroke="#777" stroke-width="0.7"/>
<rect x="932.9" y="1133.5" width="241.89999999999998" height="1.13" fill="#A8A8A8"/>
<text x="934.9" y="1138.4" font-size="3.4" fill="#333">[0-130]</text>
<path d="M933.4,1144.8v-0.4h.7v0.4h0.0v-0.8h.7v0.8h0.0v-0.6h.7v0.6h0.0v-2.1h.7v2.1h0.0v-0.3h.7v0.3h0.0v-0.7h.7v0.7h0.0v-0.7h.7v0.7h0.7v-7.3h.7v7.3h0.7v-2.4h.7v2.4h0.7v-2.8h.7v2.8h0.0v-4.9h.7v4.9h0.0v-7.5h.7v7.5h0.0v-2.5h.7v2.5h0.0v-1.9h.7v1.9h0.0v-0.3h.7v0.3h0.7v-0.7h.7v0.7h0.7v-3.4h.7v3.4h0.7v-0.5h.7v0.5h0.0v-0.7h.7v0.7h0.0v-2.4h.7v2.4h0.0v-4.6h.7v4.6h0.0v-5.4h.7v5.4h0.0v-0.4h.7v0.4h0.0v-0.7h.7v0.7h0.7v-0.5h.7v0.5h0.0v-2.7h.7v2.7h0.7v-6.9h.7v6.9h0.0v-4.1h.7v4.1h0.0v-0.9h.7v0.9h0.0v-0.9h.7v0.9h0.7v-0.4h.7v0.4h0.0v-1.8h.7v1.8h0.0v-0.7h.7v0.7h0.0v-2.2h.7v2.2h0.7v-0.8h.7v0.8h0.7v-0.6h.7v0.6h0.0v-0.8h.7v0.8h0.0v-3.1h.7v3.1h0.0v-0.4h.7v0.4h0.0v-2.1h.7v2.1h0.0v-3.3h.7v3.3h0.0v-6.9h.7v6.9h0.0v-2.6h.7v2.6h0.7v-2.8h.7v2.8h0.7v-2.3h.7v2.3h0.0v-0.4h.7v0.4h0.7v-0.5h.7v0.5h0.7v-0.3h.7v0.3h0.7v-0.9h.7v0.9h0.0v-1.5h.7v1.5h0.0v-0.6h.7v0.6h0.0v-0.3h.7v0.3h0.0v-0.6h.7v0.6h0.7v-0.9h.7v0.9h0.0v-3.2h.7v3.2h0.0v-3.9h.7v3.9h0.0v-0.7h.7v0.7h0.0v-0.8h.7v0.8h0.7v-0.5h.7v0.5h0.7v-3.3h.7v3.3h0.0v-0.9h.7v0.9h0.7v-0.3h.7v0.3h0.0v-0.4h.7v0.4h0.0v-1.7h.7v1.7h0.7v-0.3h.7v0.3h0.0v-0.2h.7v0.2h0.0v-6.5h.7v6.5h0.0v-4.8h.7v4.8h0.0v-0.5h.7v0.5h0.0v-1.2h.7v1.2h0.0v-0.6h.7v0.6h0.0v-1.3h.7v1.3h0.7v-0.7h.7v0.7h0.7v-2.8h.7v2.8h0.0v-0.9h.7v0.9h0.0v-0.9h.7v0.9h0.0v-3.4h.7v3.4h0.7v-1.8h.7v1.8h0.0v-7.6h.7v7.6h0.0v-0.4h.7v0.4h0.7v-0.8h.7v0.8h0.0v-0.6h.7v0.6h0.0v-0.4h.7v0.4h0.7v-0.5h.7v0.5h0.0v-1.3h.7v1.3h0.0v-7.3h.7v7.3h0.0v-5.4h.7v5.4h0.7v-0.9h.7v0.9h0.0v-0.2h.7v0.2h0.0v-0.7h.7v0.7h0.0v-0.6h.7v0.6h0.0v-2.6h.7v2.6h0.0v-2.6h.7v2.6h0.0v-0.9h.7v0.9h0.0v-4.5h.7v4.5h0.0v-0.5h.7v0.5h0.0v-2.1h.7v2.1h0.7v-6.3h.7v6.3h0.0v-0.7h.7v0.7h0.0v-0.5h.7v0.5h0.7v-5.1h.7v5.1h0.0v-2.1h.7v2.1h0.0v-3.1h.7v3.1h0.0v-0.9h.7v0.9h0.0v-0.4h.7v0.4h0.0v-7.4h.7v7.4h0.0v-0.9h.7v0.9h0.0v-6.5h.7v6.5h0.0v-4.8h.7v4.8h0.0v-1.3h.7v1.3h0.7v-0.3h.7v0.3h0.7v-3.2h.7v3.2h0.0v-5.3h.7v5.3h0.7v-0.9h.7v0.9h0.0v-3.1h.7v3.1h0.7v-0.3h.7v0.3h0.0v-3.1h.7v3.1h0.7v-2.7h.7v2.7h0.0v-0.4h.7v0.4h0.7v-2.5h.7v2.5h0.0v-1.8h.7v1.8h0.0v-6.4h.7v6.4h0.7v-0.5h.7v0.5h0.0v-0.9h.7v0.9h0.0v-0.8h.7v0.8h0.7v-0.4h.7v0.4h0.7v-0.7h.7v0.7h0.7v-1.3h.7v1.3h0.7v-0.2h.7v0.2h0.0v-0.7h.7v0.7h0.0v-0.5h.7v0.5h0.7v-1.7h.7v1.7h0.0v-0.7h.7v0.7h0.0v-7.1h.7v7.1h0.0v-0.9h.7v0.9h0.7v-4.2h.7v4.2h0.7v-1.2h.7v1.2h0.0v-1.7h.7v1.7h0.0v-0.3h.7v0.3h0.0v-0.8h.7v0.8h0.7v-1.5h.7v1.5h0.7v-0.7h.7v0.7h0.7v-2.8h.7v2.8h0.7v-0.3h.7v0.3h0.7v-3.9h.7v3.9h0.0v-3.4h.7v3.4h0.7v-0.6h.7v0.6h0.0v-0.7h.7v0.7h0.0v-0.8h.7v0.8h0.0v-0.3h.7v0.3h0.7v-0.6h.7v0.6h0.7v-0.5h.7v0.5h0.0v-0.7h.7v0.7h0.7v-3.2h.7v3.2h0.0v-4.6h.7v4.6h0.0v-2.3h.7v2.3h0.7v-0.9h.7v0.9h0.7v-0.8h.7v0.8h0.7v-0.8h.7v0.8h0.0v-0.8h.7v0.8h0.7v-0.3h.7v0.3h0.0v-0.7h.7v0.7h0.7v-3.0h.7v3.0h0.7v-0.3h.7v0.3h0.7v-6.9h.7v6.9h0.7v-3.2h.7v3.2h0.0v-0.4h.7v0.4h0.7v-5.2h.7v5.2h0.0v-0.8h.7v0.8h0.0v-0.8h.7v0.8h0.7v-0.3h.7v0.3h0.7v-2.5h.7v2.5h0.0v-3.9h.7v3.9h0.0v-6.3h.7v6.3h0.7v-0.6h.7v0.6h0.7v-0.4h.7v0.4h0.7v-2.7h.7v2.7h0.7v-2.7h.7v2.7h0.0v-0.3h.7v0.3h0.0v-2.9h.7v2.9h0.0v-6.3h.7v6.3h0.0v-3.4h.7v3.4h0.0v-4.8h.7v4.8h0.0v-2.9h.7v2.9h0.0v-0.6h.7v0.6h0.7v-1.2h.7v1.2h0.7v-0.3h.7v0.3h0.0v-3.5h.7v3.5h0.0v-0.7h.7v0.7h0.7v-0.2h.7v0.2h0.0v-0.5h.7v0.5h0.7v-2.8h.7v2.8h0.0v-0.8h.7v0.8h0.7v-0.5h.7v0.5h0.0v-3.0h.7v3.0h0.7v-0.6h.7v0.6h0.0v-2.2h.7v2.2h0.7v-4.8h.7v4.8h0.0v-0.6h.7v0.6h0.7v-1.6h.7v1.6h0.0v-5.7h.7v5.7h0.0v-2.7h.7v2.7h0.0v-2.7h.7v2.7h0.0v-0.5h.7v0.5h0.7v-0.6h.7v0.6h0.0v-0.2h.7v0.2h0.0v-3.0h.7v3.0h0.0v-0.6h.7v0.6h0.0v-7.4h.7v7.4h0.0v-6.0h.7v6.0h0.7v-0.7h.7v0.7h0.0v-1.9h.7v1.9h0.0v-0.2h.7v0.2h0.0v-0.3h.7v0.3h0.7v-0.8h.7v0.8h0.7v-0.5h.7v0.5h0.7v-0.5h.7v0.5h0.0v-0.4h.7v0.4h0.7v-0.3h.7v0.3h0.7v-3.1h.7v3.1h0.7v-3.0h.7v3.0h0.0v-0.6h.7v0.6h0.7v-0.7h.7v0.7h0.0v-1.2h.7v1.2h0.7v-0.5h.7v0.5h0.0v-4.6h.7v4.6h0.7v-2.2h.7v2.2h0.7v-0.3h.7v0.3h0.7v-0.3h.7v0.3h0.0v-0.4h.7v0.4h0.0v-2.9h.7v2.9h0.0v-0.9h.7v0.9h0.0v-2.8h.7v2.8h0.7v-0.5h.7v0.5h0.7v-0.8h.7v0.8h0.0v-4.5h.7v4.5h0.0v-0.7h.7v0.7h0.0v-5.4h.7v5.4h0.7v-7.3h.7v7.3h0.0v-0.5h.7v0.5h0.7v-0.7h.7v0.7h0.0v-0.4h.7v0.4h0.7v-0.3h.7v0.3h0.0v-0.6h.7v0.6h0.7v-0.5h.7v0.5h0.0v-3.2h.7v3.2h0.7v-0.9h.7v0.9h0.7v-0.9h.7v0.9h0.7Z" fill="#2626B4"/>
<line x1="932.9" y1="1144.77" x2="1174.8" y2="1144.77" stroke="#2626B4" stroke-width="0.8"/>
<line x1="934.9" y1="1147.85" x2="957.2" y2="1147.85" stroke="#3030D0" stroke-width="0.7"/>
<rect x="935.4" y="1146.18" width="2.2" height="3.33" fill="#1A1AC0"/>
<rect x="945.4" y="1146.18" width="2.4" height="3.33" fill="#1A1AC0"/>
<line x1="982.9" y1="1147.85" x2="1003.7" y2="1147.85" stroke="#3030D0" stroke-width="0.7"/>
<rect x="995.5" y="1146.18" width="2.7" height="3.33" fill="#1A1AC0"/>
<rect x="991.3" y="1146.18" width="1.1" height="3.33" fill="#1A1AC0"/>
<line x1="1012.3" y1="1147.85" x2="1023.3" y2="1147.85" stroke="#3030D0" stroke-width="0.7"/>
<rect x="1019.0" y="1146.18" width="2.9" height="3.33" fill="#1A1AC0"/>
<rect x="1015.9" y="1146.18" width="1.5" height="3.33" fill="#1A1AC0"/>
<rect x="1019.4" y="1146.18" width="2.2" height="3.33" fill="#1A1AC0"/>
<rect x="1015.9" y="1146.18" width="0.9" height="3.33" fill="#1A1AC0"/>
<rect x="1018.7" y="1146.18" width="1.5" height="3.33" fill="#1A1AC0"/>
<rect x="1013.6" y="1146.18" width="2.8" height="3.33" fill="#1A1AC0"/>
<line x1="1030.9" y1="1147.85" x2="1039.6" y2="1147.85" stroke="#3030D0" stroke-width="0.7"/>
<rect x="1038.9" y="1146.18" width="1.3" height="3.33" fill="#1A1AC0"/>
<rect x="1034.8" y="1146.18" width="1.1" height="3.33" fill="#1A1AC0"/>
<rect x="1038.7" y="1146.18" width="1.3" height="3.33" fill="#1A1AC0"/>
<line x1="1043.5" y1="1147.85" x2="1057.3" y2="1147.85" stroke="#3030D0" stroke-width="0.7"/>
<rect x="1053.8" y="1146.18" width="2.6" height="3.33" fill="#1A1AC0"/>
<rect x="1049.8" y="1146.18" width="2.7" height="3.33" fill="#1A1AC0"/>
<line x1="1087.6" y1="1147.85" x2="1107.0" y2="1147.85" stroke="#3030D0" stroke-width="0.7"/>
<rect x="1094.5" y="1146.18" width="2.8" height="3.33" fill="#1A1AC0"/>
<rect x="1104.4" y="1146.18" width="2.8" height="3.33" fill="#1A1AC0"/>
<rect x="1091.0" y="1146.18" width="1.1" height="3.33" fill="#1A1AC0"/>
<rect x="1094.4" y="1146.18" width="1.5" height="3.33" fill="#1A1AC0"/>
<line x1="1113.2" y1="1147.85" x2="1121.4" y2="1147.85" stroke="#3030D0" stroke-width="0.7"/>
<rect x="1117.1" y="1146.18" width="2.5" height="3.33" fill="#1A1AC0"/>
<rect x="1114.8" y="1146.18" width="1.5" height="3.33" fill="#1A1AC0"/>
<line x1="1127.0" y1="1147.85" x2="1146.9" y2="1147.85" stroke="#3030D0" stroke-width="0.7"/>
<rect x="1135.2" y="1146.18" width="1.9" height="3.33" fill="#1A1AC0"/>
<rect x="1143.7" y="1146.18" width="3.0" height="3.33" fill="#1A1AC0"/>
<rect x="1131.4" y="1146.18" width="2.7" height="3.33" fill="#1A1AC0"/>
<rect x="1142.0" y="1146.18" width="2.0" height="3.33" fill="#1A1AC0"/>
<text x="942.6" y="1153.7" font-size="3.5" fill="#444" text-anchor="middle">Hoxa</text>
<text x="966.8" y="1153.7" font-size="3.5" fill="#444" text-anchor="middle">Jazf1</text>
<text x="991.0" y="1153.7" font-size="3.5" fill="#444" text-anchor="middle">Mir148a</text>
<text x="1015.1" y="1153.7" font-size="3.5" fill="#444" text-anchor="middle">Jazf1</text>
<text x="1039.3" y="1153.7" font-size="3.5" fill="#444" text-anchor="middle">Skap2</text>
<text x="1063.5" y="1153.7" font-size="3.5" fill="#444" text-anchor="middle">Cbx3</text>
<text x="1087.7" y="1153.7" font-size="3.5" fill="#444" text-anchor="middle">Mir148a</text>
<text x="1111.9" y="1153.7" font-size="3.5" fill="#444" text-anchor="middle">Evx1</text>
<text x="1136.1" y="1153.7" font-size="3.5" fill="#444" text-anchor="middle">Snx10</text>
<text x="1160.3" y="1153.7" font-size="3.5" fill="#444" text-anchor="middle">Nfe2l3</text>
<polygon points="996.5,1122.2 1010.1,1122.2 1003.3,1134.5" fill="#F00"/>
<polygon points="1049.8,1122.2 1063.4,1122.2 1056.6,1134.5" fill="#F00"/>
<polygon points="1073.5,1122.2 1087.1,1122.2 1080.3,1134.5" fill="#F00"/>
<polygon points="1130.2,1122.2 1143.8,1122.2 1137.0,1134.5" fill="#F00"/>
<text transform="translate(165.10,633.2) scale(0.9924,1)" x="0" y="0" font-size="25" font-weight="bold" font-style="normal" fill="#000">WT LK</text>
<text transform="translate(167.82,656.8) scale(0.9795,1)" x="0" y="0" font-size="21" font-weight="bold" font-style="italic" fill="#000">CBS7/9</text>
<text transform="translate(405.00,633) scale(1.0000,1)" x="0" y="0" font-size="25" font-weight="bold" font-style="normal" fill="#000"><tspan font-style="italic">NPM1</tspan><tspan font-style="italic" font-size="14.5" dy="-9.5">C+</tspan><tspan dy="9.5"> KI LK</tspan></text>
<text transform="translate(454.02,657) scale(0.9760,1)" x="0" y="0" font-size="21" font-weight="bold" font-style="italic" fill="#000">CBS7/9</text>
<text transform="translate(102.60,675.9) scale(0.9500,1)" x="0" y="0" font-size="14" font-weight="normal" font-style="normal" fill="#7030A0">Ant. Hoxa</text>
<text transform="translate(261.13,675.9) scale(0.9706,1)" x="0" y="0" font-size="14" font-weight="normal" font-style="normal" fill="#7030A0">Post. Hoxa</text>
<text transform="translate(388.75,680.5) scale(0.9395,1)" x="0" y="0" font-size="14" font-weight="normal" font-style="normal" fill="#7030A0">Ant. Hoxa</text>
<text transform="translate(527.78,680.5) scale(0.9669,1)" x="0" y="0" font-size="14" font-weight="normal" font-style="normal" fill="#7030A0">Post. Hoxa</text>
<line x1="197.5" y1="667" x2="185.7" y2="667.0" stroke="#7030A0" stroke-width="3"/>
<polygon points="175.7,667 186.7,660.0 186.7,674.0" fill="#7030A0"/>
<line x1="216.2" y1="667" x2="227.5" y2="667.0" stroke="#7030A0" stroke-width="3"/>
<polygon points="237.5,667 226.5,674.0 226.5,660.0" fill="#7030A0"/>
<line x1="481.25" y1="674.25" x2="471.25" y2="674.25" stroke="#7030A0" stroke-width="3"/>
<polygon points="461.25,674.25 472.25,667.25 472.25,681.25" fill="#7030A0"/>
<line x1="501.25" y1="674.25" x2="511.25" y2="674.25" stroke="#7030A0" stroke-width="3"/>
<polygon points="521.25,674.25 510.25,681.25 510.25,667.25" fill="#7030A0"/>
<line x1="209.7" y1="659.4" x2="209.7" y2="675.8" stroke="#000" stroke-width="2.2"/>
<polygon points="209.7,687.8 202.7,674.8 216.7,674.8" fill="#000"/>
<line x1="493" y1="663" x2="493.0" y2="679.25" stroke="#000" stroke-width="2.2"/>
<polygon points="493,691.25 486.0,678.25 500.0,678.25" fill="#000"/>
<text transform="translate(0.60,743.9) scale(0.9560,1)" x="0" y="0" font-size="19" font-weight="bold" font-style="normal" fill="#000">CTCF</text>
<text transform="translate(136.00,1027.5) scale(1.0235,1)" x="0" y="0" font-size="24.5" font-weight="bold" font-style="italic" fill="#000">Hoxa (chr6:50,906,675-53,199,995)</text>
<text transform="translate(739.90,671.5) scale(0.9911,1)" x="0" y="0" font-size="25" font-weight="bold" font-style="normal" fill="#000">WT LK</text>
<text transform="translate(976.70,671.5) scale(0.9969,1)" x="0" y="0" font-size="25" font-weight="bold" font-style="normal" fill="#000"><tspan font-style="italic">NPM1</tspan><tspan font-style="italic" font-size="14.5" dy="-9.5">C+</tspan><tspan dy="9.5"> KI LK</tspan></text>
<text transform="translate(728.70,1032.6) scale(1.0318,1)" x="0" y="0" font-size="24.5" font-weight="bold" font-style="italic" fill="#000">Hoxb (chr11:95,308,234-97,146,769)</text>
<text transform="translate(133.30,1097.5) scale(0.9949,1)" x="0" y="0" font-size="25" font-weight="bold" font-style="normal" fill="#000">WT LK</text>
<text transform="translate(372.00,1095.5) scale(1.0019,1)" x="0" y="0" font-size="25" font-weight="bold" font-style="normal" fill="#000"><tspan font-style="italic">NPM1</tspan><tspan font-style="italic" font-size="14.5" dy="-9.5">C+</tspan><tspan dy="9.5"> KI LK</tspan></text>
<text transform="translate(4.00,1149.2) scale(0.9540,1)" x="0" y="0" font-size="19" font-weight="bold" font-style="normal" fill="#000">CTCF</text>
<text transform="translate(131.80,1409.2) scale(1.0271,1)" x="0" y="0" font-size="24.5" font-weight="bold" font-style="italic" fill="#000">Pbx3 (chr2:33,458,423-34,851,959)</text>
<text transform="translate(741.80,1096.9) scale(0.9975,1)" x="0" y="0" font-size="25" font-weight="bold" font-style="normal" fill="#000">WT LK</text>
<text transform="translate(956.90,1096.9) scale(0.9906,1)" x="0" y="0" font-size="25" font-weight="bold" font-style="normal" fill="#000"><tspan font-style="italic">NPM1</tspan><tspan font-style="italic" font-size="14.5" dy="-9.5">C+</tspan><tspan dy="9.5"> KI LK</tspan></text>
<text transform="translate(620.00,1154) scale(0.9660,1)" x="0" y="0" font-size="19" font-weight="bold" font-style="normal" fill="#000">CTCF</text>
<text transform="translate(667.27,1410) scale(1.0262,1)" x="0" y="0" font-size="24.5" font-weight="bold" font-style="italic" fill="#000">Cdkn1a (p21) (chr17:27,967,454-30,353,523)</text>
<rect x="220.2" y="1434.2" width="272.5" height="169.79999999999995" fill="#F8F8F8"/>
<line x1="220.2" y1="1434.2" x2="220.2" y2="1604" stroke="#C8C8C8" stroke-width="1"/>
<text x="224.2" y="1442.7" font-size="7.5" font-weight="bold" fill="#333">[0 - 25]</text>
<path d="M221.2 1469.7v-0.9M222.4 1469.7v-0.6M223.6 1469.7v-1.4M224.8 1469.7v-0.9M226.0 1469.7v-1.1M227.2 1469.7v-1.0M228.4 1469.7v-1.2M229.6 1469.7v-1.7M230.8 1469.7v-0.9M232.0 1469.7v-0.5M233.2 1469.7v-1.6M234.4 1469.7v-1.7M235.6 1469.7v-1.5M236.8 1469.7v-0.9M238.0 1469.7v-0.3M239.2 1469.7v-1.8M240.4 1469.7v-1.0M241.6 1469.7v-1.2M242.8 1469.7v-0.8M244.0 1469.7v-1.7M245.2 1469.7v-1.5M246.4 1469.7v-1.8M247.6 1469.7v-2.0M248.8 1469.7v-1.0M250.0 1469.7v-0.4M251.2 1469.7v-0.4M252.4 1469.7v-0.3M253.6 1469.7v-1.1M254.8 1469.7v-1.5M256.0 1469.7v-0.6M257.2 1469.7v-0.9M258.4 1469.7v-0.8M259.6 1469.7v-1.7M260.8 1469.7v-1.6M262.0 1469.7v-1.4M263.2 1469.7v-0.9M264.4 1469.7v-0.5M265.6 1469.7v-0.6M266.8 1469.7v-0.6M268.0 1469.7v-1.5M269.2 1469.7v-1.6M270.4 1469.7v-1.5M271.6 1469.7v-0.4M272.8 1469.7v-2.4M274.0 1469.7v-0.9M275.2 1469.7v-0.9M276.4 1469.7v-0.9M277.6 1469.7v-1.6M278.8 1469.7v-1.4M280.0 1469.7v-1.0M281.2 1469.7v-1.3M282.4 1469.7v-0.8M283.6 1469.7v-1.4M284.8 1469.7v-1.5M286.0 1469.7v-0.7M287.2 1469.7v-1.4M288.4 1469.7v-1.0M289.6 1469.7v-0.7M290.8 1469.7v-1.7M292.0 1469.7v-1.5M293.2 1469.7v-1.7M294.4 1469.7v-1.6M295.6 1469.7v-1.3M296.8 1469.7v-0.7M298.0 1469.7v-1.2M299.2 1469.7v-1.3M300.4 1469.7v-0.9M301.6 1469.7v-0.8M302.8 1469.7v-1.3M304.0 1469.7v-0.6M305.2 1469.7v-0.6M306.4 1469.7v-1.3M307.6 1469.7v-1.6M308.8 1469.7v-1.6M310.0 1469.7v-0.9M311.2 1469.7v-2.6M312.4 1469.7v-1.3M313.6 1469.7v-0.6M314.8 1469.7v-1.0M316.0 1469.7v-1.4M317.2 1469.7v-1.0M318.4 1469.7v-1.2M319.6 1469.7v-1.4M320.8 1469.7v-2.2M322.0 1469.7v-0.8M323.2 1469.7v-1.7M324.4 1469.7v-0.9M325.6 1469.7v-1.7M326.8 1469.7v-0.7M328.0 1469.7v-1.8M329.2 1469.7v-0.9M330.4 1469.7v-1.0M331.6 1469.7v-0.5M332.8 1469.7v-1.6M334.0 1469.7v-0.9M335.2 1469.7v-0.6M336.4 1469.7v-0.7M337.6 1469.7v-1.6M338.8 1469.7v-1.5M340.0 1469.7v-1.0M341.2 1469.7v-1.6M342.4 1469.7v-0.6M343.6 1469.7v-0.7M344.8 1469.7v-0.3M346.0 1469.7v-1.0M347.2 1469.7v-1.4M348.4 1469.7v-1.1M349.6 1469.7v-1.2M350.8 1469.7v-0.5M352.0 1469.7v-2.7M353.2 1469.7v-0.6M354.4 1469.7v-0.5M355.6 1469.7v-1.3M356.8 1469.7v-1.5M358.0 1469.7v-0.6M359.2 1469.7v-0.8M360.4 1469.7v-0.6M361.6 1469.7v-1.4M362.8 1469.7v-1.5M364.0 1469.7v-1.3M365.2 1469.7v-1.5M366.4 1469.7v-0.4M367.6 1469.7v-1.3M368.8 1469.7v-1.6M370.0 1469.7v-1.2M371.2 1469.7v-1.2M372.4 1469.7v-0.4M373.6 1469.7v-1.2M374.8 1469.7v-0.6M376.0 1469.7v-1.0M377.2 1469.7v-2.8M378.4 1469.7v-1.3M379.6 1469.7v-1.5M380.8 1469.7v-1.0M382.0 1469.7v-1.6M383.2 1469.7v-1.5M384.4 1469.7v-1.6M385.6 1469.7v-0.9M386.8 1469.7v-0.4M388.0 1469.7v-0.8M389.2 1469.7v-1.7M390.4 1469.7v-1.5M391.6 1469.7v-0.5M392.8 1469.7v-0.4M394.0 1469.7v-1.2M395.2 1469.7v-0.8M396.4 1469.7v-3.6M397.6 1469.7v-1.2M398.8 1469.7v-3.7M400.0 1469.7v-0.7M401.2 1469.7v-1.1M402.4 1469.7v-0.6M403.6 1469.7v-1.8M404.8 1469.7v-1.3M406.0 1469.7v-1.2M407.2 1469.7v-2.4M408.4 1469.7v-1.7M409.6 1469.7v-0.8M410.8 1469.7v-0.7M412.0 1469.7v-3.3M413.2 1469.7v-1.1M414.4 1469.7v-1.8M415.6 1469.7v-1.2M416.8 1469.7v-0.5M418.0 1469.7v-0.4M419.2 1469.7v-0.6M420.4 1469.7v-0.6M421.6 1469.7v-1.0M422.8 1469.7v-1.5M424.0 1469.7v-1.4M425.2 1469.7v-1.6M426.4 1469.7v-1.3M427.6 1469.7v-1.1M428.8 1469.7v-1.1M430.0 1469.7v-1.1M431.2 1469.7v-0.9M432.4 1469.7v-0.4M433.6 1469.7v-1.5M434.8 1469.7v-0.6M436.0 1469.7v-2.1M437.2 1469.7v-2.6M438.4 1469.7v-0.7M439.6 1469.7v-0.7M440.8 1469.7v-0.7M442.0 1469.7v-0.5M443.2 1469.7v-0.5M444.4 1469.7v-0.7M445.6 1469.7v-2.5M446.8 1469.7v-1.2M448.0 1469.7v-0.9M449.2 1469.7v-0.8M450.4 1469.7v-1.1M451.6 1469.7v-0.3M452.8 1469.7v-0.6M454.0 1469.7v-1.4M455.2 1469.7v-0.3M456.4 1469.7v-1.0M457.6 1469.7v-1.8M458.8 1469.7v-0.9M460.0 1469.7v-1.5M461.2 1469.7v-0.7M462.4 1469.7v-1.5M463.6 1469.7v-0.7M464.8 1469.7v-0.6M466.0 1469.7v-0.5M467.2 1469.7v-1.2M468.4 1469.7v-1.0M469.6 1469.7v-0.3M470.8 1469.7v-0.4M472.0 1469.7v-1.4M473.2 1469.7v-1.4M474.4 1469.7v-1.4M475.6 1469.7v-1.7M476.8 1469.7v-1.8M478.0 1469.7v-1.1M479.2 1469.7v-0.5M480.4 1469.7v-1.5M481.6 1469.7v-1.7M482.8 1469.7v-1.0M484.0 1469.7v-3.1M485.2 1469.7v-1.3M486.4 1469.7v-0.6M487.6 1469.7v-1.3M488.8 1469.7v-0.3M490.0 1469.7v-0.6M491.2 1469.7v-2.9M492.4 1469.7v-1.7M454.6,1469.7v-7.2M455.7,1469.7v-6.1M466.2,1469.7v-9.7M467.3,1469.7v-8.2" stroke="#1A1AB0" stroke-width="1.4" fill="none"/>
<line x1="220.2" y1="1469.4" x2="492.7" y2="1469.4" stroke="#1A1AB0" stroke-width="1.8"/>
<text x="224.2" y="1480.6" font-size="7.5" font-weight="bold" fill="#333">[0 - 25]</text>
<path d="M221.2 1507.6v-1.6M222.4 1507.6v-1.3M223.6 1507.6v-1.4M224.8 1507.6v-1.6M226.0 1507.6v-0.9M227.2 1507.6v-0.7M228.4 1507.6v-0.7M229.6 1507.6v-0.5M230.8 1507.6v-0.5M232.0 1507.6v-1.5M233.2 1507.6v-0.9M234.4 1507.6v-1.2M235.6 1507.6v-1.8M236.8 1507.6v-0.8M238.0 1507.6v-1.1M239.2 1507.6v-1.0M240.4 1507.6v-0.8M241.6 1507.6v-1.1M242.8 1507.6v-1.2M244.0 1507.6v-1.1M245.2 1507.6v-1.2M246.4 1507.6v-1.5M247.6 1507.6v-2.2M248.8 1507.6v-1.0M250.0 1507.6v-0.6M251.2 1507.6v-1.5M252.4 1507.6v-0.5M253.6 1507.6v-1.4M254.8 1507.6v-1.1M256.0 1507.6v-0.4M257.2 1507.6v-0.3M258.4 1507.6v-0.7M259.6 1507.6v-0.4M260.8 1507.6v-0.7M262.0 1507.6v-0.8M263.2 1507.6v-0.4M264.4 1507.6v-1.7M265.6 1507.6v-1.7M266.8 1507.6v-1.5M268.0 1507.6v-1.2M269.2 1507.6v-1.7M270.4 1507.6v-1.1M271.6 1507.6v-1.6M272.8 1507.6v-0.3M274.0 1507.6v-0.8M275.2 1507.6v-0.4M276.4 1507.6v-1.7M277.6 1507.6v-1.6M278.8 1507.6v-0.8M280.0 1507.6v-1.3M281.2 1507.6v-0.7M282.4 1507.6v-0.8M283.6 1507.6v-0.5M284.8 1507.6v-0.4M286.0 1507.6v-1.6M287.2 1507.6v-0.9M288.4 1507.6v-1.7M289.6 1507.6v-1.7M290.8 1507.6v-0.8M292.0 1507.6v-1.3M293.2 1507.6v-0.9M294.4 1507.6v-0.7M295.6 1507.6v-1.3M296.8 1507.6v-1.7M298.0 1507.6v-0.5M299.2 1507.6v-1.8M300.4 1507.6v-1.8M301.6 1507.6v-1.5M302.8 1507.6v-1.1M304.0 1507.6v-0.5M305.2 1507.6v-1.1M306.4 1507.6v-1.0M307.6 1507.6v-1.6M308.8 1507.6v-1.6M310.0 1507.6v-1.3M311.2 1507.6v-0.8M312.4 1507.6v-1.8M313.6 1507.6v-1.5M314.8 1507.6v-0.8M316.0 1507.6v-1.7M317.2 1507.6v-0.8M318.4 1507.6v-1.8M319.6 1507.6v-1.5M320.8 1507.6v-1.7M322.0 1507.6v-1.3M323.2 1507.6v-1.0M324.4 1507.6v-2.4M325.6 1507.6v-1.8M326.8 1507.6v-1.6M328.0 1507.6v-1.7M329.2 1507.6v-0.7M330.4 1507.6v-1.5M331.6 1507.6v-0.3M332.8 1507.6v-0.3M334.0 1507.6v-0.9M335.2 1507.6v-1.4M336.4 1507.6v-0.7M337.6 1507.6v-1.6M338.8 1507.6v-0.3M340.0 1507.6v-1.5M341.2 1507.6v-0.6M342.4 1507.6v-1.3M343.6 1507.6v-0.7M344.8 1507.6v-0.9M346.0 1507.6v-1.8M347.2 1507.6v-2.3M348.4 1507.6v-1.8M349.6 1507.6v-0.6M350.8 1507.6v-1.6M352.0 1507.6v-0.3M353.2 1507.6v-0.6M354.4 1507.6v-0.9M355.6 1507.6v-1.6M356.8 1507.6v-0.5M358.0 1507.6v-1.0M359.2 1507.6v-1.6M360.4 1507.6v-1.4M361.6 1507.6v-1.2M362.8 1507.6v-0.4M364.0 1507.6v-1.3M365.2 1507.6v-1.7M366.4 1507.6v-0.5M367.6 1507.6v-1.8M368.8 1507.6v-1.1M370.0 1507.6v-0.6M371.2 1507.6v-0.6M372.4 1507.6v-0.7M373.6 1507.6v-0.5M374.8 1507.6v-0.9M376.0 1507.6v-0.8M377.2 1507.6v-1.4M378.4 1507.6v-1.0M379.6 1507.6v-1.8M380.8 1507.6v-1.1M382.0 1507.6v-1.3M383.2 1507.6v-0.9M384.4 1507.6v-1.0M385.6 1507.6v-1.7M386.8 1507.6v-0.5M388.0 1507.6v-1.3M389.2 1507.6v-1.0M390.4 1507.6v-0.6M391.6 1507.6v-1.0M392.8 1507.6v-1.1M394.0 1507.6v-1.5M395.2 1507.6v-1.7M396.4 1507.6v-1.0M397.6 1507.6v-1.0M398.8 1507.6v-1.6M400.0 1507.6v-0.4M401.2 1507.6v-1.6M402.4 1507.6v-1.7M403.6 1507.6v-1.1M404.8 1507.6v-1.6M406.0 1507.6v-1.2M407.2 1507.6v-1.7M408.4 1507.6v-0.7M409.6 1507.6v-1.8M410.8 1507.6v-2.4M412.0 1507.6v-1.2M413.2 1507.6v-2.9M414.4 1507.6v-1.0M415.6 1507.6v-0.8M416.8 1507.6v-2.9M418.0 1507.6v-0.6M419.2 1507.6v-1.5M420.4 1507.6v-0.6M421.6 1507.6v-1.7M422.8 1507.6v-1.5M424.0 1507.6v-0.6M425.2 1507.6v-0.8M426.4 1507.6v-1.3M427.6 1507.6v-3.1M428.8 1507.6v-0.4M430.0 1507.6v-1.7M431.2 1507.6v-1.4M432.4 1507.6v-1.3M433.6 1507.6v-0.3M434.8 1507.6v-0.8M436.0 1507.6v-0.7M437.2 1507.6v-1.4M438.4 1507.6v-1.7M439.6 1507.6v-1.2M440.8 1507.6v-0.8M442.0 1507.6v-1.1M443.2 1507.6v-1.0M444.4 1507.6v-1.3M445.6 1507.6v-0.9M446.8 1507.6v-0.6M448.0 1507.6v-1.6M449.2 1507.6v-1.5M450.4 1507.6v-2.7M451.6 1507.6v-0.6M452.8 1507.6v-1.4M454.0 1507.6v-1.6M455.2 1507.6v-2.1M456.4 1507.6v-0.3M457.6 1507.6v-1.0M458.8 1507.6v-0.7M460.0 1507.6v-0.7M461.2 1507.6v-0.7M462.4 1507.6v-0.9M463.6 1507.6v-1.2M464.8 1507.6v-0.6M466.0 1507.6v-1.3M467.2 1507.6v-0.9M468.4 1507.6v-1.2M469.6 1507.6v-1.5M470.8 1507.6v-0.9M472.0 1507.6v-0.7M473.2 1507.6v-1.6M474.4 1507.6v-0.6M475.6 1507.6v-1.1M476.8 1507.6v-1.6M478.0 1507.6v-1.5M479.2 1507.6v-1.1M480.4 1507.6v-0.6M481.6 1507.6v-0.7M482.8 1507.6v-0.3M484.0 1507.6v-0.3M485.2 1507.6v-0.4M486.4 1507.6v-1.4M487.6 1507.6v-1.5M488.8 1507.6v-1.5M490.0 1507.6v-2.4M491.2 1507.6v-0.6M492.4 1507.6v-1.7M327.2,1507.6v-3.0M328.3,1507.6v-2.5M466.9,1507.6v-3.5M468.0,1507.6v-3.0" stroke="#1A1AB0" stroke-width="1.4" fill="none"/>
<line x1="220.2" y1="1507.3" x2="492.7" y2="1507.3" stroke="#1A1AB0" stroke-width="1.8"/>
<text x="224.2" y="1518.1" font-size="7.5" font-weight="bold" fill="#333">[0 - 25]</text>
<path d="M221.2 1545.1v-2.1M222.4 1545.1v-3.9M223.6 1545.1v-1.0M224.8 1545.1v-1.2M226.0 1545.1v-1.9M227.2 1545.1v-2.5M228.4 1545.1v-4.7M229.6 1545.1v-0.8M230.8 1545.1v-1.0M232.0 1545.1v-1.5M233.2 1545.1v-2.7M234.4 1545.1v-0.7M235.6 1545.1v-2.5M236.8 1545.1v-1.8M238.0 1545.1v-1.5M239.2 1545.1v-2.0M240.4 1545.1v-2.8M241.6 1545.1v-0.8M242.8 1545.1v-2.8M244.0 1545.1v-2.7M245.2 1545.1v-2.3M246.4 1545.1v-1.9M247.6 1545.1v-0.8M248.8 1545.1v-2.0M250.0 1545.1v-1.0M251.2 1545.1v-0.8M252.4 1545.1v-2.3M253.6 1545.1v-0.5M254.8 1545.1v-2.1M256.0 1545.1v-1.9M257.2 1545.1v-1.0M258.4 1545.1v-1.1M259.6 1545.1v-0.9M260.8 1545.1v-1.3M262.0 1545.1v-2.8M263.2 1545.1v-2.1M264.4 1545.1v-1.1M265.6 1545.1v-1.7M266.8 1545.1v-2.4M268.0 1545.1v-0.8M269.2 1545.1v-1.1M270.4 1545.1v-2.6M271.6 1545.1v-2.0M272.8 1545.1v-1.7M274.0 1545.1v-6.2M275.2 1545.1v-2.3M276.4 1545.1v-1.1M277.6 1545.1v-1.4M278.8 1545.1v-1.9M280.0 1545.1v-1.4M281.2 1545.1v-0.5M282.4 1545.1v-1.6M283.6 1545.1v-1.5M284.8 1545.1v-2.7M286.0 1545.1v-1.9M287.2 1545.1v-3.5M288.4 1545.1v-1.9M289.6 1545.1v-1.4M290.8 1545.1v-0.7M292.0 1545.1v-2.0M293.2 1545.1v-0.9M294.4 1545.1v-1.2M295.6 1545.1v-2.4M296.8 1545.1v-2.4M298.0 1545.1v-1.4M299.2 1545.1v-2.5M300.4 1545.1v-2.2M301.6 1545.1v-1.9M302.8 1545.1v-0.9M304.0 1545.1v-2.0M305.2 1545.1v-1.5M306.4 1545.1v-0.7M307.6 1545.1v-2.5M308.8 1545.1v-0.8M310.0 1545.1v-2.7M311.2 1545.1v-1.1M312.4 1545.1v-1.0M313.6 1545.1v-2.2M314.8 1545.1v-2.6M316.0 1545.1v-2.2M317.2 1545.1v-2.3M318.4 1545.1v-1.6M319.6 1545.1v-1.4M320.8 1545.1v-0.7M322.0 1545.1v-1.0M323.2 1545.1v-1.8M324.4 1545.1v-2.6M325.6 1545.1v-2.1M326.8 1545.1v-1.5M328.0 1545.1v-3.9M329.2 1545.1v-1.1M330.4 1545.1v-0.9M331.6 1545.1v-1.2M332.8 1545.1v-2.7M334.0 1545.1v-2.2M335.2 1545.1v-1.9M336.4 1545.1v-2.3M337.6 1545.1v-1.4M338.8 1545.1v-4.2M340.0 1545.1v-1.3M341.2 1545.1v-0.8M342.4 1545.1v-1.6M343.6 1545.1v-1.4M344.8 1545.1v-2.3M346.0 1545.1v-0.5M347.2 1545.1v-2.8M348.4 1545.1v-1.7M349.6 1545.1v-1.2M350.8 1545.1v-1.6M352.0 1545.1v-2.3M353.2 1545.1v-0.9M354.4 1545.1v-2.0M355.6 1545.1v-0.9M356.8 1545.1v-1.6M358.0 1545.1v-5.1M359.2 1545.1v-0.7M360.4 1545.1v-1.0M361.6 1545.1v-1.6M362.8 1545.1v-1.7M364.0 1545.1v-2.2M365.2 1545.1v-2.9M366.4 1545.1v-0.6M367.6 1545.1v-1.4M368.8 1545.1v-1.1M370.0 1545.1v-0.8M371.2 1545.1v-1.1M372.4 1545.1v-2.4M373.6 1545.1v-1.8M374.8 1545.1v-0.7M376.0 1545.1v-2.0M377.2 1545.1v-0.6M378.4 1545.1v-2.0M379.6 1545.1v-0.5M380.8 1545.1v-0.8M382.0 1545.1v-1.3M383.2 1545.1v-2.5M384.4 1545.1v-2.2M385.6 1545.1v-2.6M386.8 1545.1v-0.6M388.0 1545.1v-0.9M389.2 1545.1v-2.3M390.4 1545.1v-1.8M391.6 1545.1v-1.3M392.8 1545.1v-2.6M394.0 1545.1v-0.7M395.2 1545.1v-1.2M396.4 1545.1v-2.0M397.6 1545.1v-0.7M398.8 1545.1v-2.6M400.0 1545.1v-0.9M401.2 1545.1v-2.8M402.4 1545.1v-1.3M403.6 1545.1v-2.6M404.8 1545.1v-1.0M406.0 1545.1v-1.9M407.2 1545.1v-0.9M408.4 1545.1v-1.8M409.6 1545.1v-2.9M410.8 1545.1v-2.0M412.0 1545.1v-6.0M413.2 1545.1v-1.3M414.4 1545.1v-1.0M415.6 1545.1v-2.3M416.8 1545.1v-1.5M418.0 1545.1v-1.9M419.2 1545.1v-2.4M420.4 1545.1v-0.5M421.6 1545.1v-1.3M422.8 1545.1v-1.1M424.0 1545.1v-0.7M425.2 1545.1v-0.6M426.4 1545.1v-2.7M427.6 1545.1v-2.5M428.8 1545.1v-2.2M430.0 1545.1v-1.0M431.2 1545.1v-3.3M432.4 1545.1v-1.5M433.6 1545.1v-1.4M434.8 1545.1v-2.3M436.0 1545.1v-2.5M437.2 1545.1v-2.1M438.4 1545.1v-0.7M439.6 1545.1v-0.5M440.8 1545.1v-1.9M442.0 1545.1v-2.7M443.2 1545.1v-0.9M444.4 1545.1v-2.8M445.6 1545.1v-2.2M446.8 1545.1v-1.5M448.0 1545.1v-0.8M449.2 1545.1v-1.6M450.4 1545.1v-2.3M451.6 1545.1v-1.7M452.8 1545.1v-1.9M454.0 1545.1v-2.2M455.2 1545.1v-1.8M456.4 1545.1v-1.9M457.6 1545.1v-1.5M458.8 1545.1v-1.1M460.0 1545.1v-1.2M461.2 1545.1v-1.0M462.4 1545.1v-0.7M463.6 1545.1v-2.8M464.8 1545.1v-0.9M466.0 1545.1v-2.5M467.2 1545.1v-0.9M468.4 1545.1v-1.6M469.6 1545.1v-0.6M470.8 1545.1v-1.9M472.0 1545.1v-3.4M473.2 1545.1v-1.7M474.4 1545.1v-1.2M475.6 1545.1v-2.2M476.8 1545.1v-2.5M478.0 1545.1v-0.8M479.2 1545.1v-2.6M480.4 1545.1v-5.0M481.6 1545.1v-2.5M482.8 1545.1v-2.2M484.0 1545.1v-1.2M485.2 1545.1v-4.3M486.4 1545.1v-0.8M487.6 1545.1v-1.4M488.8 1545.1v-2.7M490.0 1545.1v-2.0M491.2 1545.1v-1.4M492.4 1545.1v-0.7M454.6,1545.1v-17.4M455.7,1545.1v-14.8M466.9,1545.1v-15.0M468.0,1545.1v-12.8" stroke="#E8103A" stroke-width="1.4" fill="none"/>
<line x1="220.2" y1="1544.8" x2="492.7" y2="1544.8" stroke="#E8103A" stroke-width="1.8"/>
<text x="224.2" y="1555.6" font-size="7.5" font-weight="bold" fill="#333">[0 - 25]</text>
<path d="M221.2 1582.6v-0.7M222.4 1582.6v-1.7M223.6 1582.6v-0.7M224.8 1582.6v-0.9M226.0 1582.6v-1.6M227.2 1582.6v-0.9M228.4 1582.6v-1.2M229.6 1582.6v-2.7M230.8 1582.6v-1.9M232.0 1582.6v-2.5M233.2 1582.6v-2.9M234.4 1582.6v-2.7M235.6 1582.6v-2.6M236.8 1582.6v-0.8M238.0 1582.6v-3.4M239.2 1582.6v-0.5M240.4 1582.6v-2.5M241.6 1582.6v-2.1M242.8 1582.6v-2.0M244.0 1582.6v-0.8M245.2 1582.6v-2.5M246.4 1582.6v-4.0M247.6 1582.6v-3.8M248.8 1582.6v-1.4M250.0 1582.6v-1.0M251.2 1582.6v-2.0M252.4 1582.6v-2.3M253.6 1582.6v-0.8M254.8 1582.6v-0.5M256.0 1582.6v-2.1M257.2 1582.6v-1.9M258.4 1582.6v-1.6M259.6 1582.6v-1.8M260.8 1582.6v-0.7M262.0 1582.6v-2.4M263.2 1582.6v-2.6M264.4 1582.6v-2.5M265.6 1582.6v-2.8M266.8 1582.6v-1.3M268.0 1582.6v-1.1M269.2 1582.6v-2.4M270.4 1582.6v-2.4M271.6 1582.6v-1.8M272.8 1582.6v-1.8M274.0 1582.6v-3.3M275.2 1582.6v-1.4M276.4 1582.6v-2.3M277.6 1582.6v-0.8M278.8 1582.6v-2.2M280.0 1582.6v-2.1M281.2 1582.6v-1.2M282.4 1582.6v-5.0M283.6 1582.6v-1.5M284.8 1582.6v-0.5M286.0 1582.6v-2.7M287.2 1582.6v-1.4M288.4 1582.6v-0.8M289.6 1582.6v-1.5M290.8 1582.6v-0.7M292.0 1582.6v-2.5M293.2 1582.6v-1.0M294.4 1582.6v-1.1M295.6 1582.6v-1.9M296.8 1582.6v-2.7M298.0 1582.6v-1.7M299.2 1582.6v-1.2M300.4 1582.6v-0.6M301.6 1582.6v-0.6M302.8 1582.6v-1.2M304.0 1582.6v-1.0M305.2 1582.6v-1.6M306.4 1582.6v-2.0M307.6 1582.6v-0.7M308.8 1582.6v-2.7M310.0 1582.6v-1.1M311.2 1582.6v-1.7M312.4 1582.6v-1.1M313.6 1582.6v-2.7M314.8 1582.6v-2.4M316.0 1582.6v-1.7M317.2 1582.6v-2.6M318.4 1582.6v-0.7M319.6 1582.6v-1.1M320.8 1582.6v-0.5M322.0 1582.6v-2.6M323.2 1582.6v-1.1M324.4 1582.6v-1.6M325.6 1582.6v-1.6M326.8 1582.6v-2.2M328.0 1582.6v-1.5M329.2 1582.6v-2.5M330.4 1582.6v-1.4M331.6 1582.6v-0.7M332.8 1582.6v-1.3M334.0 1582.6v-1.6M335.2 1582.6v-2.1M336.4 1582.6v-1.5M337.6 1582.6v-1.1M338.8 1582.6v-0.8M340.0 1582.6v-2.1M341.2 1582.6v-2.2M342.4 1582.6v-2.3M343.6 1582.6v-2.7M344.8 1582.6v-0.7M346.0 1582.6v-4.7M347.2 1582.6v-2.6M348.4 1582.6v-1.5M349.6 1582.6v-2.6M350.8 1582.6v-2.2M352.0 1582.6v-1.2M353.2 1582.6v-2.4M354.4 1582.6v-1.5M355.6 1582.6v-2.2M356.8 1582.6v-2.2M358.0 1582.6v-6.3M359.2 1582.6v-1.4M360.4 1582.6v-1.2M361.6 1582.6v-4.6M362.8 1582.6v-1.0M364.0 1582.6v-0.5M365.2 1582.6v-2.6M366.4 1582.6v-1.4M367.6 1582.6v-1.0M368.8 1582.6v-0.6M370.0 1582.6v-2.6M371.2 1582.6v-2.5M372.4 1582.6v-1.3M373.6 1582.6v-2.2M374.8 1582.6v-2.7M376.0 1582.6v-1.3M377.2 1582.6v-1.1M378.4 1582.6v-1.2M379.6 1582.6v-0.6M380.8 1582.6v-2.6M382.0 1582.6v-1.1M383.2 1582.6v-1.6M384.4 1582.6v-1.9M385.6 1582.6v-1.0M386.8 1582.6v-2.6M388.0 1582.6v-4.3M389.2 1582.6v-0.9M390.4 1582.6v-1.6M391.6 1582.6v-1.9M392.8 1582.6v-2.0M394.0 1582.6v-0.6M395.2 1582.6v-1.2M396.4 1582.6v-0.9M397.6 1582.6v-1.0M398.8 1582.6v-2.4M400.0 1582.6v-1.1M401.2 1582.6v-5.8M402.4 1582.6v-2.4M403.6 1582.6v-1.7M404.8 1582.6v-1.3M406.0 1582.6v-2.1M407.2 1582.6v-0.5M408.4 1582.6v-3.5M409.6 1582.6v-3.5M410.8 1582.6v-2.4M412.0 1582.6v-2.4M413.2 1582.6v-1.3M414.4 1582.6v-2.6M415.6 1582.6v-1.0M416.8 1582.6v-2.2M418.0 1582.6v-2.8M419.2 1582.6v-1.6M420.4 1582.6v-0.5M421.6 1582.6v-0.8M422.8 1582.6v-1.8M424.0 1582.6v-2.3M425.2 1582.6v-1.5M426.4 1582.6v-6.3M427.6 1582.6v-0.7M428.8 1582.6v-0.9M430.0 1582.6v-2.1M431.2 1582.6v-1.2M432.4 1582.6v-3.9M433.6 1582.6v-2.0M434.8 1582.6v-2.1M436.0 1582.6v-2.7M437.2 1582.6v-0.7M438.4 1582.6v-2.6M439.6 1582.6v-1.7M440.8 1582.6v-1.7M442.0 1582.6v-2.9M443.2 1582.6v-2.1M444.4 1582.6v-1.0M445.6 1582.6v-1.1M446.8 1582.6v-1.5M448.0 1582.6v-1.4M449.2 1582.6v-0.5M450.4 1582.6v-1.0M451.6 1582.6v-2.1M452.8 1582.6v-1.1M454.0 1582.6v-2.6M455.2 1582.6v-2.7M456.4 1582.6v-2.2M457.6 1582.6v-0.9M458.8 1582.6v-2.5M460.0 1582.6v-1.8M461.2 1582.6v-2.0M462.4 1582.6v-1.6M463.6 1582.6v-0.9M464.8 1582.6v-0.7M466.0 1582.6v-1.9M467.2 1582.6v-1.5M468.4 1582.6v-1.8M469.6 1582.6v-1.9M470.8 1582.6v-0.8M472.0 1582.6v-1.1M473.2 1582.6v-2.3M474.4 1582.6v-1.1M475.6 1582.6v-0.5M476.8 1582.6v-1.0M478.0 1582.6v-1.1M479.2 1582.6v-2.6M480.4 1582.6v-1.3M481.6 1582.6v-2.8M482.8 1582.6v-0.9M484.0 1582.6v-1.5M485.2 1582.6v-1.5M486.4 1582.6v-0.5M487.6 1582.6v-0.6M488.8 1582.6v-0.5M490.0 1582.6v-1.7M491.2 1582.6v-2.6M492.4 1582.6v-0.9M466.9,1582.6v-19.4M468.0,1582.6v-16.5M257.6,1582.6v-9.0M258.7,1582.6v-7.6M330.0,1582.6v-9.0M331.1,1582.6v-7.6M480.0,1582.6v-7.5M481.1,1582.6v-6.4M290.0,1582.6v-5.0M291.1,1582.6v-4.2M310.0,1582.6v-4.0M311.1,1582.6v-3.4" stroke="#E8103A" stroke-width="1.4" fill="none"/>
<line x1="220.2" y1="1582.3" x2="492.7" y2="1582.3" stroke="#E8103A" stroke-width="1.8"/>
<line x1="265.6" y1="1594.2" x2="466.2" y2="1594.2" stroke="#2A2AC8" stroke-width="1"/>
<rect x="265.6" y="1589.3" width="7.7" height="10.9" fill="#1A1AB8"/>
<rect x="267.2" y="1589.3" width="1.2" height="10.9" fill="#F8F8F8"/>
<rect x="298.09999999999997" y="1588.5" width="1.8" height="12.8" fill="#1A1AB8"/>
<rect x="307.09999999999997" y="1588.5" width="1.8" height="12.8" fill="#1A1AB8"/>
<rect x="317.9" y="1588.5" width="1.8" height="12.8" fill="#1A1AB8"/>
<rect x="465.4" y="1588.5" width="1.8" height="12.8" fill="#1A1AB8"/>
<path d="M292,1592.2 L290,1594.2 L292,1596.2" stroke="#2A2AC8" stroke-width="0.8" fill="none"/>
<path d="M337,1592.2 L335,1594.2 L337,1596.2" stroke="#2A2AC8" stroke-width="0.8" fill="none"/>
<path d="M368,1592.2 L366,1594.2 L368,1596.2" stroke="#2A2AC8" stroke-width="0.8" fill="none"/>
<path d="M400,1592.2 L398,1594.2 L400,1596.2" stroke="#2A2AC8" stroke-width="0.8" fill="none"/>
<path d="M432,1592.2 L430,1594.2 L432,1596.2" stroke="#2A2AC8" stroke-width="0.8" fill="none"/>
<text transform="translate(332.80,1613.5) scale(1.0167,1)" x="0" y="0" font-size="17.5" font-weight="bold" font-style="italic" fill="#000">Pbx3</text>
<text transform="translate(161.20,1463.6) scale(0.9708,1)" x="0" y="0" font-size="18" font-weight="bold" font-style="normal" fill="#000">WT_1</text>
<text transform="translate(161.20,1501.5) scale(0.9938,1)" x="0" y="0" font-size="18" font-weight="bold" font-style="normal" fill="#000">WT_2</text>
<text transform="translate(116.80,1535.9) scale(0.9689,1)" x="0" y="0" font-size="18" font-weight="bold" font-style="normal" fill="#000"><tspan font-style="italic">NPM1</tspan><tspan font-style="italic" font-size="11.5" dy="-6.5">C+</tspan><tspan dy="6.5"> _1</tspan></text>
<text transform="translate(115.70,1575.4) scale(0.9811,1)" x="0" y="0" font-size="18" font-weight="bold" font-style="normal" fill="#000"><tspan font-style="italic">NPM1</tspan><tspan font-style="italic" font-size="11.5" dy="-6.5">C+</tspan><tspan dy="6.5"> _2</tspan></text>
</svg></body></html>
